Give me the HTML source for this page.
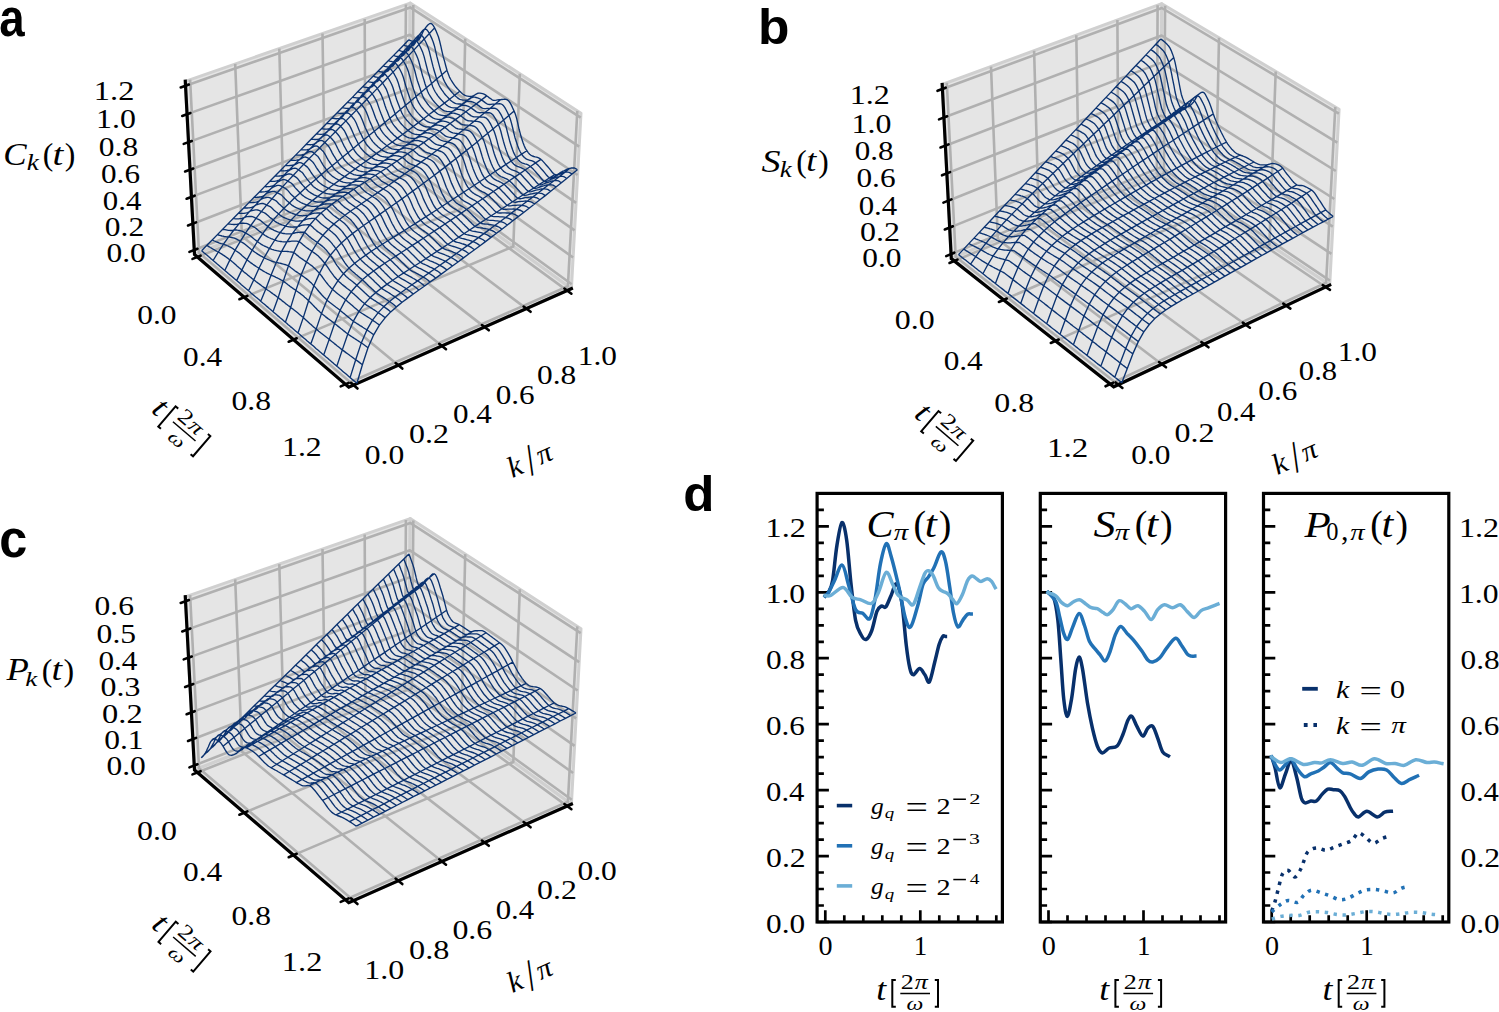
<!DOCTYPE html>
<html><head><meta charset="utf-8"><title>Figure</title>
<style>html,body{margin:0;padding:0;background:#fff;overflow:hidden;}svg{display:block;}</style>
</head><body>
<svg width="1499" height="1012" viewBox="0 0 1499 1012">
<polygon points="194.5,254.5 408.9,170.5 410.2,3.1 185.3,81.3" fill="#e5e5e5" stroke="#d0d0d0" stroke-width="3.0" stroke-linejoin="round"/>
<polygon points="408.9,170.5 571.4,288.7 581,113.2 410.2,3.1" fill="#e5e5e5" stroke="#d0d0d0" stroke-width="3.0" stroke-linejoin="round"/>
<polygon points="194.5,254.5 348.8,387.2 571.4,288.7 408.9,170.5" fill="#e5e5e5" stroke="#d0d0d0" stroke-width="3.0" stroke-linejoin="round"/>
<g fill="none" stroke="#b0b0b0" stroke-width="2.6" stroke-linejoin="round">
<polyline points="197.3,257 411.9,172.7 413.3,5.1"/>
<polyline points="244.2,297.2 461.4,208.7 465.2,38.6"/>
<polyline points="293.5,339.6 513.3,246.5 519.8,73.8"/>
<polyline points="345.5,384.3 567.9,286.2 577.3,110.9"/>
<polyline points="353.5,385.1 199,252.7 190.1,79.6"/>
<polyline points="398.3,365.3 241.9,235.9 235.2,63.9"/>
<polyline points="442,346 284,219.4 279.3,48.6"/>
<polyline points="484.7,327.1 325.1,203.3 322.5,33.6"/>
<polyline points="526.4,308.6 365.4,187.5 364.7,18.9"/>
<polyline points="567.2,290.6 404.8,172.1 405.9,4.6"/>
<polyline points="571.7,284.2 408.9,166.1 194.2,250"/>
<polyline points="573.1,257.5 409.1,140.6 192.8,223.7"/>
<polyline points="574.6,230.4 409.3,114.7 191.4,196.9"/>
<polyline points="576.1,202.9 409.5,88.5 190,169.7"/>
<polyline points="577.6,175 409.7,61.8 188.6,142.1"/>
<polyline points="579.2,146.6 409.9,34.8 187.1,114.1"/>
<polyline points="580.7,117.7 410.2,7.4 185.6,85.7"/>
</g>
<g fill="none" stroke="#000" stroke-width="3.2" stroke-linecap="square">
<polyline points="185.3,81.3 194.5,254.5 348.8,387.2 571.4,288.7"/>
</g>
<g fill="none" stroke="#000" stroke-width="2.6" stroke-linecap="round">
<polyline points="189.4,251.9 197.5,248.8"/>
<polyline points="188,225.5 196.1,222.4"/>
<polyline points="186.6,198.7 194.7,195.7"/>
<polyline points="185.1,171.5 193.3,168.5"/>
<polyline points="183.7,143.9 191.8,141"/>
<polyline points="182.2,115.9 190.4,113"/>
<polyline points="180.7,87.4 188.9,84.6"/>
<polyline points="192.5,258.9 200.6,255.7"/>
<polyline points="239.4,299.2 247.4,295.9"/>
<polyline points="288.7,341.7 296.7,338.3"/>
<polyline points="340.7,386.4 348.7,382.9"/>
<polyline points="357.5,388.5 350.9,382.8"/>
<polyline points="402.3,368.6 395.6,363.1"/>
<polyline points="446,349.2 439.2,343.8"/>
<polyline points="488.8,330.3 481.9,325"/>
<polyline points="530.6,311.8 523.6,306.5"/>
<polyline points="571.4,293.7 564.4,288.5"/>
</g>
<path d="M201.6 250.7 202.8 251.7 203.9 252.7 205.1 253.6 206.2 254.6 207.4 255.6 208.5 256.6 209.7 257.6 210.8 258.6 212.0 259.5 213.1 260.5 214.3 261.5 215.5 262.5 216.6 263.5 217.8 264.5 219.0 265.5 220.1 266.5 221.3 267.5 222.5 268.5 223.6 269.5 224.8 270.5 226.0 271.5 227.2 272.5 228.3 273.5 229.5 274.5 230.7 275.5 231.9 276.5 233.1 277.6 234.2 278.6 235.4 279.6 236.6 280.6 237.8 281.6 239.0 282.6 240.2 283.6 241.4 284.7 242.6 285.7 243.8 286.7 245.0 287.7 246.2 288.8 247.4 289.8 248.6 290.8 249.8 291.8 251.0 292.9 252.2 293.9 253.4 294.9 254.6 296.0 255.8 297.0 257.1 298.0 258.3 299.1 259.5 300.1 260.7 301.2 261.9 302.2 263.1 303.3 264.4 304.3 265.6 305.3 266.8 306.4 268.1 307.4 269.3 308.5 270.5 309.5 271.7 310.6 273.0 311.7 274.2 312.7 275.5 313.8 276.7 314.8 277.9 315.9 279.2 316.9 280.4 318.0 281.7 319.1 282.9 320.1 284.2 321.2 285.4 322.3 286.7 323.3 287.9 324.4 289.2 325.5 290.4 326.6 291.7 327.6 293.0 328.7 294.2 329.8 295.5 330.9 296.8 332.0 298.0 333.0 299.3 334.1 300.6 335.2 301.8 336.3 303.1 337.4 304.4 338.5 305.7 339.6 306.9 340.7 308.2 341.8 309.5 342.9 310.8 343.9 312.1 345.0 313.4 346.1 314.7 347.3 315.9 348.4 317.2 349.5 318.5 350.6 319.8 351.7 321.1 352.8 322.4 353.9 323.7 355.0 325.0 356.1 326.3 357.2 327.7 358.3 329.0 359.5 330.3 360.6 331.6 361.7 332.9 362.8 334.2 364.0 335.5 365.1 336.8 366.2 338.2 367.3 339.5 368.5 340.8 369.6 342.1 370.7 343.5 371.9 344.8 373.0 346.1 374.1 347.5 375.3 348.8 376.4 350.1 377.6 351.5 378.7 352.8 379.9 354.2 381.0 355.5 382.1 356.9 383.3 M206.9 245.3 208.0 246.1 209.2 246.8 210.3 247.5 211.5 248.2 212.6 248.9 213.7 249.5 214.9 250.2 216.0 250.9 217.2 251.5 218.3 252.0 219.5 252.7 220.6 253.4 221.8 254.1 222.9 254.9 224.1 255.6 225.2 256.4 226.4 257.2 227.6 258.1 228.7 259.0 229.9 259.9 231.1 260.8 232.3 261.8 233.5 262.7 234.6 263.7 235.8 264.8 237.0 265.9 238.2 266.9 239.4 268.0 240.6 269.0 241.8 270.1 243.0 271.1 244.2 272.2 245.4 273.1 246.6 274.1 247.8 275.1 249.0 276.0 250.2 277.0 251.4 277.9 252.6 278.9 253.8 279.8 255.0 280.7 256.2 281.7 257.4 282.6 258.6 283.5 259.8 284.4 261.0 285.3 262.2 286.2 263.5 287.1 264.7 287.9 265.9 288.8 267.1 289.7 268.3 290.5 269.6 291.3 270.8 292.2 272.0 293.1 273.2 294.0 274.5 294.9 275.7 295.8 276.9 296.7 278.2 297.6 279.4 298.6 280.7 299.6 281.9 300.6 283.2 301.6 284.4 302.6 285.6 303.6 286.9 304.5 288.1 305.5 289.4 306.4 290.7 307.4 291.9 308.4 293.2 309.3 294.4 310.3 295.7 311.3 297.0 312.3 298.2 313.3 299.5 314.4 300.8 315.5 302.0 316.5 303.3 317.6 304.6 318.8 305.9 319.9 307.1 321.1 308.4 322.3 309.7 323.5 311.0 324.6 312.3 325.8 313.6 326.9 314.9 328.0 316.2 329.1 317.4 330.1 318.7 331.2 320.0 332.2 321.3 333.3 322.6 334.3 323.9 335.3 325.2 336.3 326.5 337.3 327.8 338.3 329.2 339.4 330.5 340.4 331.8 341.5 333.1 342.5 334.4 343.6 335.7 344.6 337.0 345.7 338.4 346.8 339.7 347.8 341.0 348.9 342.3 349.9 343.7 350.9 345.0 351.9 346.3 352.9 347.6 353.8 349.0 354.8 350.3 355.8 351.7 356.7 353.0 357.7 354.3 358.7 355.7 359.7 357.0 360.6 358.4 361.6 359.7 362.6 361.1 363.7 362.4 364.7 M212.2 240.0 213.3 240.5 214.4 241.0 215.6 241.5 216.7 242.0 217.8 242.4 219.0 242.9 220.1 243.3 221.2 243.7 222.4 243.9 223.5 244.2 224.6 244.6 225.8 245.0 226.9 245.5 228.1 246.0 229.2 246.6 230.4 247.2 231.6 247.8 232.7 248.5 233.9 249.4 235.1 250.2 236.2 251.0 237.4 251.8 238.6 252.6 239.8 253.6 241.0 254.6 242.2 255.7 243.4 256.7 244.6 257.7 245.8 258.7 247.0 259.7 248.2 260.7 249.4 261.7 250.5 262.6 251.7 263.4 252.9 264.3 254.1 265.1 255.3 265.9 256.5 266.7 257.8 267.5 259.0 268.3 260.2 269.1 261.4 269.8 262.6 270.6 263.8 271.3 265.0 272.0 266.2 272.6 267.4 273.3 268.6 273.9 269.8 274.5 271.1 275.1 272.3 275.7 273.5 276.2 274.7 276.7 275.9 277.3 277.2 277.9 278.4 278.5 279.6 279.1 280.9 279.8 282.1 280.4 283.3 281.1 284.6 282.1 285.8 283.0 287.1 284.0 288.3 285.0 289.6 285.9 290.8 286.9 292.1 287.7 293.3 288.6 294.6 289.5 295.9 290.4 297.1 291.3 298.4 292.2 299.7 293.1 300.9 294.1 302.2 295.0 303.5 296.1 304.7 297.2 306.0 298.3 307.3 299.5 308.6 300.7 309.9 301.9 311.2 303.2 312.5 304.6 313.8 306.0 315.0 307.3 316.3 308.6 317.6 309.9 318.9 311.1 320.2 312.3 321.5 313.4 322.8 314.5 324.1 315.5 325.4 316.6 326.7 317.6 328.0 318.6 329.3 319.5 330.7 320.5 332.0 321.5 333.3 322.5 334.6 323.5 335.9 324.5 337.2 325.6 338.5 326.6 339.9 327.7 341.2 328.8 342.5 329.8 343.8 330.9 345.2 331.9 346.5 333.0 347.8 334.0 349.2 335.0 350.5 335.9 351.8 336.7 353.2 337.6 354.5 338.5 355.9 339.4 357.2 340.2 358.6 341.1 359.9 342.0 361.3 342.9 362.6 343.8 364.0 344.8 365.3 345.7 366.7 346.7 368.0 347.7 M217.4 234.6 218.6 235.0 219.7 235.3 220.8 235.6 221.9 236.0 223.1 236.2 224.2 236.5 225.3 236.7 226.5 236.9 227.6 236.9 228.7 236.9 229.8 237.0 231.0 237.3 232.1 237.6 233.3 237.9 234.4 238.2 235.6 238.7 236.7 239.2 237.9 239.8 239.1 240.5 240.3 241.4 241.4 242.0 242.6 242.7 243.8 243.4 245.0 244.3 246.2 245.3 247.4 246.3 248.6 247.3 249.8 248.2 251.0 249.2 252.2 250.1 253.4 251.1 254.6 252.0 255.8 252.8 257.0 253.6 258.2 254.4 259.4 255.1 260.6 255.8 261.8 256.4 263.0 257.1 264.2 257.7 265.4 258.4 266.6 259.0 267.8 259.5 269.0 260.0 270.2 260.5 271.4 261.0 272.6 261.4 273.9 261.8 275.1 262.2 276.3 262.5 277.5 262.7 278.7 263.0 279.9 263.2 281.2 263.5 282.4 263.8 283.6 264.2 284.8 264.5 286.1 264.9 287.3 265.3 288.5 265.7 289.8 266.7 291.0 267.7 292.3 268.7 293.6 269.7 294.8 270.7 296.1 271.6 297.3 272.4 298.6 273.3 299.9 274.1 301.1 275.0 302.4 275.9 303.7 276.8 305.0 277.7 306.2 278.6 307.5 279.6 308.8 280.7 310.1 281.9 311.4 283.1 312.6 284.4 313.9 285.7 315.2 287.1 316.5 288.6 317.8 290.2 319.1 291.8 320.4 293.3 321.7 294.8 323.1 296.2 324.4 297.6 325.7 298.8 327.0 300.0 328.3 301.2 329.6 302.3 330.9 303.3 332.2 304.3 333.5 305.3 334.8 306.3 336.1 307.3 337.5 308.3 338.8 309.3 340.1 310.3 341.4 311.4 342.7 312.5 344.1 313.6 345.4 314.7 346.7 315.8 348.1 316.9 349.4 318.0 350.7 319.1 352.1 320.2 353.4 321.2 354.7 322.2 356.1 323.0 357.4 323.9 358.8 324.7 360.1 325.6 361.5 326.4 362.8 327.3 364.2 328.2 365.5 329.0 366.9 329.9 368.2 330.8 369.6 331.8 371.0 332.7 372.3 333.7 373.7 334.8 M222.7 229.3 223.8 229.5 224.9 229.7 226.1 229.9 227.2 230.1 228.3 230.3 229.4 230.4 230.6 230.5 231.7 230.5 232.8 230.3 233.9 230.0 235.1 230.0 236.2 230.0 237.4 230.2 238.5 230.3 239.7 230.5 240.8 230.8 242.0 231.2 243.1 231.7 244.3 232.4 245.5 233.2 246.7 233.7 247.9 234.3 249.0 235.0 250.2 235.8 251.4 236.8 252.6 237.8 253.8 238.8 255.0 239.7 256.2 240.6 257.4 241.5 258.6 242.5 259.8 243.3 261.0 244.1 262.2 244.8 263.4 245.5 264.6 246.1 265.8 246.7 267.0 247.2 268.2 247.8 269.5 248.3 270.7 248.8 271.9 249.3 273.1 249.7 274.3 250.1 275.5 250.4 276.7 250.7 277.9 250.9 279.1 251.1 280.3 251.3 281.6 251.4 282.8 251.4 284.0 251.4 285.2 251.4 286.4 251.4 287.7 251.5 288.9 251.7 290.1 251.8 291.3 252.0 292.6 252.2 293.8 252.5 295.1 253.5 296.3 254.6 297.6 255.6 298.9 256.7 300.1 257.6 301.4 258.5 302.7 259.4 303.9 260.2 305.2 261.1 306.5 262.0 307.8 262.9 309.0 263.8 310.3 264.7 311.6 265.6 312.9 266.7 314.2 267.9 315.5 269.1 316.8 270.5 318.1 271.9 319.4 273.4 320.7 274.8 322.0 276.5 323.3 278.3 324.6 280.2 325.9 281.9 327.2 283.5 328.5 285.1 329.8 286.6 331.1 287.9 332.5 289.2 333.8 290.4 335.1 291.6 336.4 292.7 337.7 293.8 339.0 294.8 340.3 295.8 341.7 296.8 343.0 297.8 344.3 298.8 345.6 299.9 347.0 301.0 348.3 302.2 349.6 303.3 351.0 304.5 352.3 305.6 353.6 306.8 355.0 308.0 356.3 309.1 357.7 310.3 359.0 311.4 360.3 312.3 361.7 313.2 363.0 314.0 364.4 314.9 365.7 315.7 367.1 316.6 368.5 317.5 369.8 318.3 371.2 319.2 372.5 320.1 373.9 321.1 375.3 322.0 376.6 323.0 378.0 324.0 379.4 325.1 M227.9 223.9 229.1 224.1 230.2 224.2 231.3 224.3 232.4 224.4 233.6 224.5 234.7 224.5 235.8 224.4 237.0 224.3 238.1 224.0 239.2 223.6 240.3 223.3 241.5 223.2 242.6 223.2 243.8 223.2 244.9 223.3 246.1 223.4 247.2 223.7 248.4 224.2 249.6 224.8 250.8 225.5 251.9 226.0 253.1 226.6 254.3 227.2 255.5 228.0 256.7 228.9 257.9 230.0 259.1 231.0 260.3 231.9 261.5 232.8 262.7 233.6 263.9 234.6 265.1 235.5 266.3 236.2 267.5 236.9 268.7 237.5 269.9 238.0 271.1 238.6 272.4 239.0 273.6 239.5 274.8 240.0 276.0 240.4 277.2 240.8 278.4 241.1 279.6 241.3 280.8 241.5 282.0 241.7 283.2 241.8 284.5 241.8 285.7 241.9 286.9 241.8 288.1 241.7 289.3 241.5 290.5 241.3 291.8 241.1 293.0 241.1 294.2 241.1 295.5 241.1 296.7 241.2 297.9 241.3 299.2 241.4 300.4 242.5 301.7 243.6 303.0 244.7 304.3 245.8 305.5 246.8 306.8 247.7 308.1 248.6 309.3 249.5 310.6 250.4 311.9 251.3 313.2 252.2 314.5 253.1 315.8 254.0 317.0 255.0 318.3 256.1 319.6 257.4 320.9 258.7 322.2 260.2 323.5 261.8 324.8 263.3 326.1 265.0 327.5 266.8 328.8 268.8 330.1 270.8 331.4 272.7 332.7 274.4 334.0 276.2 335.4 277.8 336.7 279.3 338.0 280.6 339.3 281.9 340.6 283.1 341.9 284.3 343.3 285.4 344.6 286.4 345.9 287.4 347.2 288.5 348.6 289.5 349.9 290.6 351.2 291.7 352.5 292.9 353.9 294.1 355.2 295.3 356.6 296.5 357.9 297.7 359.2 299.0 360.6 300.2 361.9 301.4 363.3 302.6 364.6 303.7 366.0 304.7 367.3 305.6 368.7 306.4 370.0 307.3 371.4 308.1 372.7 309.0 374.1 309.9 375.5 310.8 376.8 311.7 378.2 312.6 379.6 313.6 380.9 314.5 382.3 315.5 383.7 316.6 385.1 317.8 M233.2 218.6 234.3 218.7 235.4 218.8 236.6 218.8 237.7 218.8 238.8 218.8 240.0 218.7 241.1 218.6 242.2 218.4 243.3 218.0 244.5 217.4 245.6 217.0 246.7 216.7 247.9 216.6 249.0 216.5 250.2 216.4 251.3 216.5 252.5 216.7 253.7 217.1 254.8 217.6 256.0 218.4 257.2 218.8 258.4 219.3 259.6 219.9 260.8 220.7 262.0 221.7 263.2 222.8 264.4 223.8 265.6 224.7 266.8 225.6 268.0 226.5 269.2 227.5 270.4 228.4 271.6 229.1 272.9 229.7 274.1 230.3 275.3 230.8 276.5 231.3 277.7 231.8 278.9 232.2 280.1 232.6 281.3 232.9 282.5 233.3 283.8 233.5 285.0 233.7 286.2 233.8 287.4 233.9 288.6 233.9 289.8 233.9 291.0 233.8 292.3 233.7 293.5 233.4 294.7 233.0 295.9 232.7 297.2 232.5 298.4 232.4 299.6 232.3 300.9 232.2 302.1 232.2 303.3 232.2 304.6 232.2 305.9 233.4 307.1 234.6 308.4 235.7 309.7 236.9 311.0 237.9 312.2 238.9 313.5 239.8 314.8 240.7 316.1 241.6 317.4 242.5 318.6 243.5 319.9 244.4 321.2 245.4 322.5 246.4 323.8 247.6 325.1 248.9 326.4 250.3 327.7 251.9 329.0 253.5 330.3 255.2 331.7 257.0 333.0 258.9 334.3 261.1 335.6 263.3 336.9 265.3 338.3 267.2 339.6 269.0 340.9 270.7 342.2 272.3 343.5 273.7 344.9 275.1 346.2 276.4 347.5 277.6 348.8 278.7 350.2 279.7 351.5 280.8 352.8 281.8 354.1 282.9 355.5 284.0 356.8 285.2 358.1 286.4 359.5 287.7 360.8 288.9 362.2 290.2 363.5 291.4 364.8 292.7 366.2 294.0 367.5 295.2 368.9 296.5 370.2 297.6 371.6 298.6 373.0 299.5 374.3 300.4 375.7 301.2 377.0 302.1 378.4 303.0 379.8 303.9 381.1 304.7 382.5 305.6 383.9 306.6 385.2 307.6 386.6 308.6 388.0 309.6 389.4 310.7 390.7 311.9 M238.4 213.2 239.6 213.3 240.7 213.4 241.8 213.4 243.0 213.3 244.1 213.3 245.2 213.1 246.4 212.9 247.5 212.6 248.6 212.1 249.7 211.4 250.9 210.9 252.0 210.5 253.1 210.3 254.3 210.1 255.4 209.9 256.6 209.8 257.8 210.0 258.9 210.3 260.1 210.9 261.3 211.6 262.5 212.0 263.7 212.5 264.9 213.1 266.1 213.9 267.3 215.0 268.5 216.1 269.7 217.2 270.9 218.1 272.1 219.0 273.3 219.9 274.6 221.0 275.8 221.9 277.0 222.6 278.2 223.2 279.4 223.8 280.6 224.3 281.8 224.8 283.0 225.2 284.3 225.6 285.5 226.0 286.7 226.4 287.9 226.6 289.1 226.9 290.3 227.0 291.6 227.1 292.8 227.1 294.0 227.0 295.2 227.0 296.4 226.9 297.7 226.6 298.9 226.3 300.1 225.8 301.3 225.4 302.6 225.1 303.8 225.0 305.0 224.9 306.3 224.8 307.5 224.7 308.8 224.7 310.0 224.7 311.3 225.9 312.6 227.1 313.9 228.4 315.2 229.6 316.4 230.6 317.7 231.6 319.0 232.5 320.3 233.4 321.6 234.4 322.9 235.3 324.1 236.3 325.4 237.2 326.7 238.2 328.0 239.3 329.3 240.5 330.6 241.9 331.9 243.4 333.2 245.1 334.6 246.8 335.9 248.6 337.2 250.4 338.5 252.5 339.8 254.8 341.2 257.1 342.5 259.2 343.8 261.2 345.1 263.1 346.5 265.0 347.8 266.6 349.1 268.1 350.4 269.5 351.7 270.8 353.1 272.0 354.4 273.1 355.7 274.2 357.1 275.3 358.4 276.4 359.7 277.5 361.1 278.6 362.4 279.8 363.7 281.0 365.1 282.3 366.4 283.6 367.8 284.9 369.1 286.2 370.5 287.5 371.8 288.8 373.2 290.1 374.5 291.4 375.9 292.5 377.2 293.6 378.6 294.5 379.9 295.3 381.3 296.2 382.7 297.0 384.0 297.9 385.4 298.8 386.8 299.7 388.1 300.6 389.5 301.5 390.9 302.5 392.3 303.5 393.6 304.5 395.0 305.7 396.4 306.9 M243.7 207.9 244.8 208.0 245.9 208.0 247.1 208.0 248.2 207.9 249.3 207.8 250.5 207.6 251.6 207.4 252.7 207.0 253.9 206.4 255.0 205.6 256.1 205.0 257.3 204.5 258.4 204.2 259.6 203.9 260.7 203.6 261.9 203.5 263.0 203.5 264.2 203.8 265.4 204.4 266.6 205.1 267.8 205.6 269.0 206.1 270.2 206.6 271.4 207.5 272.6 208.7 273.8 209.9 275.0 211.0 276.2 212.0 277.5 212.9 278.7 213.9 279.9 215.0 281.1 215.9 282.3 216.6 283.6 217.3 284.8 217.9 286.0 218.4 287.2 218.9 288.4 219.3 289.6 219.7 290.9 220.1 292.1 220.4 293.3 220.7 294.5 220.9 295.7 221.1 297.0 221.1 298.2 221.1 299.4 221.0 300.6 220.9 301.9 220.8 303.1 220.5 304.3 220.1 305.5 219.6 306.8 219.2 308.0 218.9 309.3 218.7 310.5 218.6 311.7 218.4 313.0 218.4 314.2 218.4 315.5 218.4 316.8 219.7 318.1 220.9 319.4 222.2 320.6 223.4 321.9 224.5 323.2 225.5 324.5 226.5 325.8 227.4 327.1 228.3 328.4 229.3 329.7 230.3 330.9 231.3 332.2 232.3 333.5 233.4 334.8 234.6 336.2 236.0 337.5 237.6 338.8 239.3 340.1 241.1 341.4 243.0 342.7 244.8 344.1 247.0 345.4 249.4 346.7 251.8 348.0 254.1 349.4 256.1 350.7 258.1 352.0 260.0 353.3 261.7 354.7 263.2 356.0 264.7 357.3 266.0 358.6 267.3 360.0 268.4 361.3 269.5 362.6 270.6 364.0 271.7 365.3 272.8 366.6 273.9 368.0 275.1 369.3 276.4 370.7 277.7 372.0 279.0 373.4 280.3 374.7 281.7 376.1 283.0 377.4 284.3 378.8 285.6 380.1 286.9 381.5 288.1 382.8 289.1 384.2 290.0 385.6 290.9 386.9 291.7 388.3 292.5 389.7 293.4 391.0 294.3 392.4 295.2 393.8 296.1 395.1 297.0 396.5 298.0 397.9 299.0 399.3 300.0 400.7 301.2 402.1 302.3 M248.9 202.6 250.0 202.6 251.2 202.6 252.3 202.6 253.5 202.5 254.6 202.4 255.7 202.2 256.9 201.9 258.0 201.5 259.1 200.8 260.3 199.9 261.4 199.2 262.5 198.6 263.7 198.2 264.8 197.8 266.0 197.5 267.2 197.3 268.3 197.3 269.5 197.6 270.7 198.1 271.9 198.9 273.1 199.3 274.3 199.9 275.5 200.5 276.7 201.4 277.9 202.7 279.1 204.0 280.4 205.1 281.6 206.2 282.8 207.2 284.0 208.2 285.3 209.4 286.5 210.4 287.7 211.1 288.9 211.8 290.1 212.4 291.4 213.0 292.6 213.5 293.8 213.9 295.0 214.3 296.2 214.7 297.5 215.1 298.7 215.4 299.9 215.6 301.2 215.7 302.4 215.8 303.6 215.7 304.8 215.6 306.1 215.5 307.3 215.4 308.5 215.1 309.8 214.7 311.0 214.2 312.2 213.7 313.5 213.4 314.7 213.2 316.0 213.1 317.2 213.0 318.5 213.0 319.7 213.0 321.0 213.1 322.3 214.3 323.6 215.6 324.8 216.9 326.1 218.2 327.4 219.3 328.7 220.3 330.0 221.3 331.3 222.2 332.6 223.1 333.9 224.1 335.2 225.1 336.5 226.1 337.8 227.1 339.1 228.2 340.4 229.5 341.7 230.9 343.0 232.5 344.3 234.3 345.6 236.1 347.0 238.0 348.3 240.0 349.6 242.3 350.9 244.7 352.3 247.2 353.6 249.6 354.9 251.7 356.2 253.7 357.6 255.7 358.9 257.4 360.2 259.0 361.5 260.4 362.9 261.8 364.2 263.0 365.5 264.2 366.9 265.3 368.2 266.4 369.5 267.5 370.9 268.6 372.2 269.7 373.6 271.0 374.9 272.2 376.3 273.6 377.6 274.9 378.9 276.2 380.3 277.5 381.7 278.9 383.0 280.2 384.4 281.6 385.7 282.9 387.1 284.1 388.4 285.1 389.8 286.0 391.2 286.8 392.5 287.6 393.9 288.4 395.3 289.3 396.6 290.1 398.0 291.0 399.4 291.9 400.8 292.8 402.2 293.8 403.5 294.8 404.9 295.8 406.3 296.9 407.7 298.1 M254.1 197.3 255.3 197.3 256.4 197.3 257.6 197.2 258.7 197.2 259.8 197.0 261.0 196.8 262.1 196.5 263.3 196.1 264.4 195.3 265.5 194.3 266.7 193.5 267.8 192.8 269.0 192.4 270.1 192.0 271.3 191.6 272.4 191.3 273.6 191.3 274.8 191.5 276.0 192.1 277.2 192.8 278.4 193.3 279.6 193.9 280.8 194.6 282.0 195.6 283.2 196.9 284.5 198.3 285.7 199.6 286.9 200.7 288.2 201.8 289.4 202.9 290.6 204.1 291.8 205.1 293.1 205.9 294.3 206.7 295.5 207.3 296.7 207.9 298.0 208.4 299.2 208.9 300.4 209.3 301.6 209.7 302.9 210.1 304.1 210.4 305.3 210.7 306.6 210.8 307.8 210.9 309.0 210.8 310.3 210.8 311.5 210.7 312.7 210.5 314.0 210.3 315.2 209.8 316.4 209.3 317.7 208.9 318.9 208.5 320.2 208.4 321.4 208.3 322.7 208.2 323.9 208.2 325.2 208.2 326.5 208.4 327.8 209.7 329.0 211.0 330.3 212.3 331.6 213.6 332.9 214.7 334.2 215.7 335.5 216.6 336.8 217.6 338.1 218.5 339.4 219.5 340.7 220.5 342.0 221.5 343.3 222.5 344.6 223.6 345.9 224.9 347.2 226.3 348.5 228.0 349.8 229.8 351.2 231.7 352.5 233.6 353.8 235.6 355.1 237.9 356.5 240.5 357.8 243.0 359.1 245.4 360.4 247.6 361.8 249.7 363.1 251.7 364.4 253.5 365.8 255.1 367.1 256.5 368.4 257.9 369.8 259.2 371.1 260.3 372.4 261.4 373.8 262.5 375.1 263.6 376.4 264.7 377.8 265.8 379.1 267.1 380.5 268.3 381.8 269.7 383.2 271.0 384.5 272.4 385.9 273.7 387.2 275.0 388.6 276.4 389.9 277.8 391.3 279.0 392.7 280.2 394.0 281.2 395.4 282.1 396.8 282.9 398.1 283.7 399.5 284.5 400.9 285.3 402.3 286.2 403.6 287.0 405.0 287.9 406.4 288.8 407.8 289.7 409.2 290.7 410.6 291.7 411.9 292.9 413.3 294.0 M259.4 192.0 260.5 192.0 261.6 192.0 262.8 191.9 263.9 191.8 265.1 191.7 266.2 191.4 267.4 191.1 268.5 190.7 269.7 189.9 270.8 188.8 271.9 187.9 273.1 187.2 274.2 186.7 275.4 186.2 276.6 185.7 277.7 185.4 278.9 185.4 280.1 185.6 281.3 186.2 282.5 186.9 283.7 187.5 284.9 188.1 286.1 188.9 287.3 189.9 288.6 191.4 289.8 192.9 291.0 194.2 292.3 195.4 293.5 196.6 294.7 197.8 296.0 199.1 297.2 200.2 298.4 201.0 299.7 201.8 300.9 202.5 302.1 203.1 303.3 203.7 304.6 204.1 305.8 204.6 307.0 205.1 308.3 205.5 309.5 205.8 310.7 206.1 312.0 206.3 313.2 206.3 314.4 206.3 315.7 206.3 316.9 206.2 318.2 206.1 319.4 205.8 320.6 205.4 321.9 204.9 323.1 204.4 324.4 204.1 325.6 204.0 326.9 203.9 328.2 203.9 329.4 203.9 330.7 204.0 332.0 204.1 333.2 205.4 334.5 206.8 335.8 208.1 337.1 209.4 338.4 210.5 339.7 211.5 341.0 212.4 342.3 213.4 343.6 214.3 344.9 215.3 346.2 216.3 347.5 217.2 348.8 218.2 350.1 219.3 351.4 220.6 352.7 222.1 354.1 223.8 355.4 225.6 356.7 227.5 358.0 229.5 359.3 231.5 360.7 233.9 362.0 236.5 363.3 239.1 364.7 241.6 366.0 243.8 367.3 246.0 368.6 248.0 370.0 249.8 371.3 251.3 372.6 252.8 374.0 254.2 375.3 255.5 376.6 256.6 378.0 257.7 379.3 258.8 380.7 259.9 382.0 261.0 383.3 262.1 384.7 263.3 386.0 264.6 387.4 265.9 388.7 267.3 390.1 268.6 391.4 270.0 392.8 271.3 394.2 272.7 395.5 274.1 396.9 275.3 398.2 276.5 399.6 277.5 401.0 278.4 402.3 279.2 403.7 279.9 405.1 280.7 406.5 281.5 407.9 282.3 409.2 283.1 410.6 283.9 412.0 284.8 413.4 285.8 414.8 286.7 416.2 287.7 417.6 288.9 418.9 290.0 M264.6 186.6 265.7 186.7 266.9 186.7 268.0 186.6 269.2 186.6 270.3 186.4 271.5 186.1 272.6 185.8 273.8 185.3 274.9 184.5 276.1 183.4 277.2 182.4 278.4 181.6 279.5 181.1 280.7 180.5 281.8 180.0 283.0 179.7 284.2 179.6 285.4 179.8 286.6 180.4 287.8 181.1 289.0 181.8 290.2 182.5 291.4 183.3 292.7 184.5 293.9 186.0 295.1 187.6 296.4 189.1 297.6 190.3 298.8 191.6 300.1 192.9 301.3 194.3 302.6 195.4 303.8 196.3 305.0 197.1 306.3 197.9 307.5 198.5 308.7 199.1 310.0 199.6 311.2 200.2 312.4 200.6 313.7 201.1 314.9 201.5 316.1 201.8 317.4 202.0 318.6 202.1 319.9 202.1 321.1 202.0 322.3 202.0 323.6 201.9 324.8 201.6 326.1 201.2 327.3 200.7 328.6 200.3 329.8 200.0 331.1 199.9 332.4 199.8 333.6 199.8 334.9 199.9 336.2 200.0 337.4 200.2 338.7 201.5 340.0 202.8 341.3 204.2 342.6 205.5 343.9 206.6 345.2 207.6 346.5 208.5 347.8 209.4 349.1 210.3 350.4 211.3 351.7 212.3 353.0 213.2 354.3 214.2 355.6 215.3 356.9 216.6 358.3 218.0 359.6 219.7 360.9 221.6 362.2 223.5 363.5 225.5 364.9 227.6 366.2 230.0 367.5 232.7 368.8 235.4 370.2 237.9 371.5 240.1 372.8 242.3 374.2 244.4 375.5 246.2 376.8 247.8 378.2 249.3 379.5 250.7 380.8 251.9 382.2 253.1 383.5 254.1 384.9 255.2 386.2 256.3 387.5 257.3 388.9 258.5 390.2 259.7 391.6 261.0 392.9 262.3 394.3 263.7 395.6 265.0 397.0 266.3 398.4 267.7 399.7 269.1 401.1 270.4 402.4 271.7 403.8 272.9 405.2 273.9 406.5 274.7 407.9 275.4 409.3 276.2 410.7 276.9 412.1 277.7 413.4 278.5 414.8 279.2 416.2 280.1 417.6 280.9 419.0 281.8 420.4 282.8 421.8 283.8 423.2 284.9 424.6 286.0 M269.8 181.3 270.9 181.4 272.1 181.4 273.3 181.4 274.4 181.3 275.6 181.1 276.7 180.9 277.9 180.5 279.0 180.0 280.2 179.2 281.3 178.0 282.5 176.9 283.6 176.1 284.8 175.5 285.9 174.9 287.1 174.3 288.3 174.0 289.5 173.8 290.7 174.1 291.9 174.7 293.1 175.5 294.3 176.2 295.5 176.9 296.7 177.8 298.0 179.1 299.2 180.7 300.5 182.5 301.7 184.0 302.9 185.4 304.2 186.8 305.4 188.1 306.7 189.6 307.9 190.8 309.1 191.8 310.4 192.6 311.6 193.4 312.9 194.1 314.1 194.8 315.3 195.3 316.6 195.9 317.8 196.4 319.0 196.9 320.3 197.3 321.5 197.6 322.8 197.8 324.0 198.0 325.3 198.0 326.5 198.0 327.8 197.9 329.0 197.9 330.3 197.6 331.5 197.2 332.8 196.7 334.0 196.3 335.3 196.0 336.5 196.0 337.8 196.0 339.1 196.0 340.4 196.0 341.6 196.2 342.9 196.5 344.2 197.8 345.5 199.1 346.8 200.4 348.1 201.7 349.4 202.9 350.7 203.8 352.0 204.7 353.3 205.6 354.6 206.5 355.9 207.5 357.2 208.4 358.5 209.3 359.8 210.3 361.1 211.4 362.4 212.7 363.8 214.1 365.1 215.8 366.4 217.7 367.7 219.7 369.0 221.7 370.4 223.8 371.7 226.2 373.0 228.9 374.4 231.7 375.7 234.2 377.0 236.5 378.3 238.8 379.7 240.8 381.0 242.7 382.3 244.3 383.7 245.8 385.0 247.2 386.4 248.4 387.7 249.6 389.0 250.6 390.4 251.7 391.7 252.7 393.1 253.8 394.4 254.9 395.8 256.1 397.1 257.4 398.5 258.7 399.8 260.1 401.2 261.4 402.5 262.7 403.9 264.1 405.3 265.5 406.6 266.8 408.0 268.1 409.4 269.3 410.7 270.3 412.1 271.1 413.5 271.8 414.9 272.4 416.2 273.2 417.6 273.9 419.0 274.7 420.4 275.4 421.8 276.2 423.2 277.0 424.6 277.9 426.0 278.8 427.4 279.8 428.8 280.9 430.1 282.0 M275.0 176.0 276.2 176.1 277.3 176.1 278.5 176.1 279.6 176.0 280.8 175.9 282.0 175.6 283.1 175.3 284.3 174.8 285.4 173.8 286.6 172.6 287.7 171.5 288.9 170.6 290.0 169.9 291.2 169.3 292.4 168.7 293.6 168.3 294.8 168.2 296.0 168.4 297.2 169.0 298.4 169.9 299.6 170.6 300.8 171.5 302.1 172.4 303.3 173.8 304.5 175.6 305.8 177.4 307.0 179.1 308.3 180.6 309.5 182.1 310.8 183.5 312.0 185.1 313.3 186.4 314.5 187.4 315.7 188.3 317.0 189.1 318.2 189.9 319.5 190.5 320.7 191.1 321.9 191.7 323.2 192.3 324.4 192.8 325.7 193.3 326.9 193.6 328.2 193.9 329.4 194.0 330.7 194.1 331.9 194.1 333.2 194.1 334.4 194.0 335.7 193.8 336.9 193.4 338.2 192.9 339.4 192.5 340.7 192.2 342.0 192.2 343.3 192.2 344.5 192.2 345.8 192.4 347.1 192.6 348.4 192.9 349.7 194.2 351.0 195.5 352.3 196.8 353.6 198.1 354.9 199.2 356.2 200.2 357.5 201.0 358.8 201.9 360.1 202.8 361.4 203.7 362.7 204.7 364.0 205.6 365.3 206.5 366.6 207.6 367.9 208.8 369.3 210.3 370.6 212.0 371.9 213.9 373.2 215.8 374.5 217.9 375.9 220.0 377.2 222.5 378.5 225.3 379.9 228.1 381.2 230.7 382.5 233.0 383.8 235.2 385.2 237.4 386.5 239.2 387.8 240.8 389.2 242.3 390.5 243.7 391.9 245.0 393.2 246.1 394.5 247.1 395.9 248.2 397.2 249.2 398.6 250.2 399.9 251.3 401.3 252.5 402.6 253.8 404.0 255.1 405.4 256.5 406.7 257.8 408.1 259.2 409.4 260.5 410.8 261.9 412.2 263.3 413.5 264.6 414.9 265.7 416.3 266.7 417.6 267.4 419.0 268.1 420.4 268.7 421.8 269.4 423.2 270.2 424.6 270.9 426.0 271.6 427.4 272.3 428.7 273.1 430.1 274.0 431.5 274.9 432.9 275.8 434.3 276.9 435.7 278.1 M280.2 170.7 281.4 170.8 282.5 170.9 283.7 170.8 284.9 170.8 286.0 170.6 287.2 170.4 288.4 170.0 289.5 169.5 290.7 168.6 291.8 167.3 293.0 166.1 294.1 165.1 295.3 164.4 296.5 163.8 297.7 163.1 298.9 162.7 300.0 162.6 301.3 162.8 302.5 163.5 303.7 164.3 304.9 165.2 306.1 166.1 307.4 167.1 308.6 168.6 309.9 170.5 311.1 172.5 312.4 174.3 313.6 175.9 314.9 177.5 316.1 179.0 317.4 180.7 318.6 182.0 319.8 183.0 321.1 184.0 322.3 184.9 323.6 185.7 324.8 186.4 326.1 187.0 327.3 187.7 328.6 188.3 329.8 188.8 331.1 189.3 332.3 189.7 333.6 190.0 334.8 190.2 336.1 190.3 337.3 190.3 338.6 190.3 339.8 190.2 341.1 190.0 342.3 189.6 343.6 189.2 344.9 188.8 346.1 188.5 347.4 188.5 348.7 188.5 350.0 188.6 351.2 188.8 352.5 189.0 353.8 189.3 355.1 190.6 356.4 191.9 357.7 193.2 359.0 194.5 360.3 195.6 361.6 196.6 362.9 197.4 364.2 198.2 365.5 199.1 366.8 200.0 368.2 200.9 369.5 201.8 370.8 202.7 372.1 203.8 373.4 205.0 374.7 206.5 376.1 208.2 377.4 210.0 378.7 212.0 380.0 214.1 381.4 216.2 382.7 218.8 384.0 221.6 385.3 224.4 386.7 227.1 388.0 229.4 389.3 231.8 390.7 233.9 392.0 235.7 393.3 237.4 394.7 238.9 396.0 240.3 397.4 241.5 398.7 242.6 400.0 243.7 401.4 244.7 402.7 245.7 404.1 246.7 405.4 247.8 406.8 249.0 408.2 250.3 409.5 251.6 410.9 252.9 412.2 254.3 413.6 255.6 415.0 257.0 416.3 258.3 417.7 259.7 419.1 261.0 420.4 262.2 421.8 263.1 423.2 263.8 424.6 264.4 425.9 265.0 427.3 265.7 428.7 266.4 430.1 267.1 431.5 267.7 432.9 268.4 434.3 269.2 435.7 270.1 437.1 270.9 438.5 271.8 439.9 272.9 441.3 274.1 M285.4 165.4 286.6 165.6 287.7 165.6 288.9 165.6 290.1 165.5 291.3 165.4 292.4 165.1 293.6 164.8 294.8 164.3 295.9 163.3 297.1 161.9 298.2 160.7 299.4 159.7 300.6 159.0 301.8 158.3 302.9 157.6 304.1 157.1 305.3 157.0 306.5 157.3 307.8 157.9 309.0 158.8 310.2 159.8 311.4 160.8 312.7 161.9 313.9 163.5 315.2 165.5 316.4 167.6 317.7 169.5 318.9 171.2 320.2 172.9 321.4 174.5 322.7 176.3 323.9 177.7 325.2 178.8 326.4 179.8 327.7 180.7 328.9 181.6 330.2 182.3 331.4 183.0 332.7 183.7 333.9 184.3 335.2 184.9 336.4 185.4 337.7 185.9 338.9 186.2 340.2 186.4 341.4 186.5 342.7 186.5 344.0 186.5 345.2 186.5 346.5 186.3 347.8 185.9 349.0 185.5 350.3 185.1 351.6 184.9 352.8 184.9 354.1 184.9 355.4 185.0 356.7 185.2 358.0 185.4 359.3 185.8 360.6 187.1 361.9 188.4 363.2 189.7 364.5 191.0 365.8 192.1 367.1 193.0 368.4 193.8 369.7 194.6 371.0 195.4 372.3 196.3 373.6 197.2 374.9 198.0 376.2 198.9 377.6 200.0 378.9 201.2 380.2 202.6 381.5 204.3 382.9 206.2 384.2 208.2 385.5 210.3 386.8 212.5 388.2 215.1 389.5 217.9 390.8 220.8 392.1 223.5 393.5 225.9 394.8 228.3 396.1 230.4 397.5 232.3 398.8 233.9 400.2 235.4 401.5 236.8 402.8 238.1 404.2 239.2 405.5 240.2 406.9 241.2 408.2 242.1 409.6 243.2 410.9 244.3 412.3 245.4 413.7 246.7 415.0 248.0 416.4 249.4 417.7 250.7 419.1 252.0 420.5 253.4 421.8 254.8 423.2 256.1 424.6 257.4 425.9 258.6 427.3 259.5 428.7 260.2 430.1 260.8 431.5 261.3 432.9 261.9 434.3 262.6 435.7 263.2 437.1 263.9 438.5 264.6 439.9 265.3 441.3 266.1 442.7 266.9 444.1 267.9 445.5 268.9 446.9 270.0 M290.6 160.2 291.8 160.3 293.0 160.4 294.1 160.4 295.3 160.3 296.5 160.2 297.6 159.9 298.8 159.6 300.0 159.1 301.2 158.0 302.3 156.6 303.5 155.3 304.7 154.3 305.8 153.5 307.0 152.8 308.2 152.1 309.4 151.6 310.6 151.5 311.8 151.7 313.0 152.4 314.3 153.4 315.5 154.4 316.7 155.5 318.0 156.6 319.2 158.4 320.5 160.5 321.7 162.7 323.0 164.8 324.2 166.6 325.5 168.4 326.7 170.1 328.0 172.0 329.3 173.4 330.5 174.6 331.8 175.7 333.0 176.6 334.3 177.5 335.5 178.3 336.8 179.0 338.0 179.7 339.3 180.4 340.5 181.1 341.8 181.6 343.0 182.1 344.3 182.4 345.6 182.6 346.8 182.8 348.1 182.8 349.3 182.8 350.6 182.8 351.9 182.7 353.1 182.3 354.4 181.8 355.7 181.4 357.0 181.2 358.2 181.2 359.5 181.3 360.8 181.4 362.1 181.6 363.4 181.9 364.7 182.3 366.0 183.6 367.3 184.9 368.6 186.2 369.9 187.4 371.2 188.5 372.5 189.4 373.8 190.2 375.1 191.0 376.4 191.8 377.8 192.6 379.1 193.5 380.4 194.3 381.7 195.2 383.0 196.2 384.3 197.3 385.7 198.8 387.0 200.5 388.3 202.4 389.6 204.4 391.0 206.5 392.3 208.7 393.6 211.3 395.0 214.2 396.3 217.2 397.6 220.0 398.9 222.4 400.3 224.8 401.6 227.0 402.9 228.8 404.3 230.5 405.6 232.0 407.0 233.4 408.3 234.6 409.7 235.7 411.0 236.7 412.4 237.7 413.7 238.6 415.1 239.6 416.4 240.7 417.8 241.9 419.1 243.1 420.5 244.4 421.9 245.8 423.2 247.1 424.6 248.5 426.0 249.8 427.3 251.2 428.7 252.6 430.1 253.9 431.4 255.0 432.8 255.9 434.2 256.6 435.6 257.1 437.0 257.6 438.4 258.2 439.8 258.8 441.2 259.4 442.6 260.0 444.0 260.7 445.4 261.4 446.8 262.2 448.2 263.0 449.6 263.8 451.0 264.9 452.4 266.0 M295.8 154.9 297.0 155.0 298.2 155.1 299.3 155.1 300.5 155.1 301.7 155.0 302.9 154.7 304.0 154.4 305.2 153.8 306.4 152.8 307.6 151.3 308.7 150.0 309.9 148.8 311.1 148.1 312.3 147.3 313.5 146.6 314.7 146.1 315.9 145.9 317.1 146.2 318.3 146.9 319.5 148.0 320.8 149.0 322.0 150.2 323.3 151.5 324.5 153.3 325.8 155.5 327.0 157.9 328.3 160.1 329.5 162.0 330.8 163.9 332.1 165.7 333.3 167.7 334.6 169.2 335.8 170.4 337.1 171.5 338.3 172.6 339.6 173.5 340.8 174.3 342.1 175.1 343.4 175.8 344.6 176.6 345.9 177.2 347.1 177.8 348.4 178.3 349.7 178.7 350.9 178.9 352.2 179.1 353.4 179.1 354.7 179.2 356.0 179.2 357.3 179.0 358.5 178.6 359.8 178.2 361.1 177.8 362.4 177.6 363.6 177.6 364.9 177.7 366.2 177.9 367.5 178.1 368.8 178.4 370.1 178.8 371.4 180.1 372.7 181.4 374.0 182.6 375.3 183.9 376.6 184.9 377.9 185.8 379.2 186.6 380.6 187.3 381.9 188.1 383.2 188.9 384.5 189.7 385.8 190.5 387.1 191.3 388.5 192.3 389.8 193.5 391.1 194.9 392.4 196.6 393.8 198.5 395.1 200.6 396.4 202.7 397.8 204.9 399.1 207.6 400.4 210.6 401.7 213.6 403.1 216.4 404.4 218.8 405.7 221.3 407.1 223.5 408.4 225.4 409.7 227.0 411.1 228.5 412.4 229.9 413.8 231.2 415.1 232.2 416.5 233.2 417.8 234.2 419.2 235.1 420.5 236.1 421.9 237.1 423.3 238.3 424.6 239.6 426.0 240.9 427.3 242.2 428.7 243.6 430.1 244.9 431.4 246.2 432.8 247.6 434.2 249.0 435.6 250.3 436.9 251.4 438.3 252.3 439.7 252.9 441.1 253.4 442.5 253.9 443.9 254.4 445.3 255.0 446.7 255.6 448.1 256.1 449.5 256.8 450.9 257.5 452.3 258.2 453.7 259.0 455.1 259.8 456.6 260.9 458.0 262.0 M301.0 149.6 302.2 149.8 303.3 149.9 304.5 149.9 305.7 149.9 306.9 149.8 308.1 149.5 309.3 149.2 310.4 148.6 311.6 147.5 312.8 146.0 314.0 144.6 315.1 143.4 316.3 142.6 317.5 141.8 318.7 141.1 319.9 140.6 321.1 140.4 322.4 140.7 323.6 141.5 324.8 142.5 326.1 143.7 327.3 144.9 328.6 146.3 329.8 148.2 331.1 150.6 332.3 153.1 333.6 155.4 334.9 157.4 336.1 159.5 337.4 161.4 338.6 163.4 339.9 165.0 341.1 166.3 342.4 167.4 343.7 168.5 344.9 169.5 346.2 170.4 347.4 171.2 348.7 172.0 349.9 172.7 351.2 173.4 352.5 174.0 353.7 174.6 355.0 174.9 356.3 175.2 357.5 175.4 358.8 175.5 360.1 175.5 361.3 175.5 362.6 175.4 363.9 175.0 365.2 174.5 366.5 174.1 367.7 173.9 369.0 174.0 370.3 174.1 371.6 174.3 372.9 174.5 374.2 174.8 375.5 175.3 376.8 176.5 378.1 177.8 379.4 179.1 380.7 180.3 382.0 181.4 383.4 182.2 384.7 182.9 386.0 183.6 387.3 184.4 388.6 185.2 389.9 185.9 391.3 186.7 392.6 187.5 393.9 188.5 395.2 189.6 396.6 191.0 397.9 192.7 399.2 194.7 400.5 196.7 401.9 198.9 403.2 201.1 404.5 203.8 405.9 206.8 407.2 209.9 408.5 212.8 409.8 215.3 411.2 217.7 412.5 220.0 413.8 221.9 415.2 223.6 416.5 225.1 417.9 226.5 419.2 227.7 420.6 228.7 421.9 229.7 423.3 230.6 424.6 231.6 426.0 232.5 427.4 233.6 428.7 234.7 430.1 236.0 431.4 237.3 432.8 238.6 434.2 240.0 435.5 241.3 436.9 242.7 438.3 244.1 439.7 245.4 441.0 246.7 442.4 247.9 443.8 248.7 445.2 249.3 446.6 249.8 448.0 250.2 449.4 250.7 450.8 251.2 452.2 251.7 453.6 252.3 455.0 252.8 456.4 253.5 457.8 254.2 459.3 254.9 460.7 255.8 462.1 256.8 463.5 257.9 M306.2 144.3 307.4 144.5 308.5 144.6 309.7 144.7 310.9 144.7 312.1 144.6 313.3 144.3 314.5 144.0 315.7 143.4 316.8 142.3 318.0 140.8 319.2 139.3 320.4 138.0 321.6 137.2 322.8 136.4 324.0 135.6 325.2 135.0 326.4 134.9 327.6 135.2 328.9 136.0 330.1 137.1 331.3 138.3 332.6 139.7 333.8 141.1 335.1 143.2 336.4 145.7 337.6 148.3 338.9 150.8 340.1 152.9 341.4 155.0 342.7 157.1 343.9 159.2 345.2 160.8 346.4 162.1 347.7 163.4 349.0 164.5 350.2 165.5 351.5 166.4 352.7 167.3 354.0 168.1 355.3 168.9 356.5 169.6 357.8 170.3 359.1 170.8 360.3 171.2 361.6 171.5 362.9 171.7 364.1 171.8 365.4 171.8 366.7 171.9 368.0 171.7 369.3 171.3 370.5 170.9 371.8 170.5 373.1 170.3 374.4 170.4 375.7 170.5 377.0 170.7 378.3 170.9 379.6 171.3 380.9 171.8 382.2 173.0 383.5 174.3 384.8 175.5 386.1 176.7 387.4 177.7 388.8 178.6 390.1 179.3 391.4 179.9 392.7 180.6 394.0 181.4 395.4 182.1 396.7 182.9 398.0 183.6 399.3 184.6 400.7 185.7 402.0 187.1 403.3 188.8 404.7 190.8 406.0 192.8 407.3 195.0 408.6 197.3 410.0 200.0 411.3 203.1 412.6 206.3 413.9 209.2 415.3 211.7 416.6 214.2 417.9 216.5 419.3 218.4 420.6 220.1 421.9 221.6 423.3 223.0 424.6 224.2 426.0 225.3 427.4 226.2 428.7 227.1 430.1 228.0 431.4 229.0 432.8 230.0 434.2 231.1 435.5 232.4 436.9 233.7 438.3 235.0 439.6 236.4 441.0 237.7 442.4 239.1 443.7 240.5 445.1 241.9 446.5 243.2 447.9 244.3 449.3 245.1 450.7 245.7 452.1 246.1 453.5 246.5 454.9 246.9 456.3 247.4 457.7 247.9 459.1 248.4 460.5 248.9 461.9 249.5 463.4 250.2 464.8 250.9 466.2 251.7 467.6 252.8 469.0 253.8 M311.3 139.0 312.5 139.3 313.7 139.4 314.9 139.5 316.1 139.5 317.3 139.4 318.5 139.1 319.7 138.8 320.9 138.2 322.1 137.1 323.2 135.5 324.4 133.9 325.6 132.7 326.8 131.8 328.0 130.9 329.2 130.1 330.4 129.5 331.7 129.4 332.9 129.8 334.1 130.6 335.4 131.7 336.6 133.0 337.9 134.5 339.1 136.0 340.4 138.1 341.6 140.8 342.9 143.5 344.2 146.1 345.4 148.3 346.7 150.6 348.0 152.7 349.2 154.9 350.5 156.6 351.7 158.0 353.0 159.3 354.3 160.5 355.5 161.5 356.8 162.5 358.1 163.4 359.3 164.2 360.6 165.0 361.9 165.8 363.1 166.5 364.4 167.1 365.7 167.5 366.9 167.8 368.2 168.0 369.5 168.1 370.8 168.2 372.0 168.2 373.3 168.1 374.6 167.7 375.9 167.2 377.2 166.8 378.5 166.6 379.8 166.7 381.1 166.9 382.4 167.0 383.7 167.3 385.0 167.7 386.3 168.2 387.6 169.4 388.9 170.7 390.2 171.9 391.5 173.1 392.8 174.1 394.2 174.9 395.5 175.6 396.8 176.2 398.1 176.9 399.4 177.6 400.8 178.3 402.1 179.0 403.4 179.7 404.8 180.6 406.1 181.7 407.4 183.2 408.7 184.9 410.1 186.8 411.4 188.9 412.7 191.1 414.1 193.4 415.4 196.2 416.7 199.3 418.0 202.6 419.4 205.5 420.7 208.1 422.0 210.7 423.3 213.0 424.7 215.0 426.0 216.6 427.4 218.2 428.7 219.6 430.1 220.8 431.4 221.8 432.8 222.7 434.1 223.6 435.5 224.5 436.9 225.4 438.2 226.4 439.6 227.6 441.0 228.8 442.3 230.1 443.7 231.4 445.1 232.8 446.5 234.1 447.8 235.5 449.2 236.9 450.6 238.3 452.0 239.6 453.3 240.7 454.7 241.5 456.1 242.0 457.5 242.4 458.9 242.7 460.4 243.1 461.8 243.6 463.2 244.0 464.6 244.5 466.0 245.0 467.4 245.6 468.8 246.2 470.3 246.9 471.7 247.7 473.1 248.7 474.5 249.8 M316.5 133.8 317.7 134.0 318.9 134.2 320.1 134.3 321.3 134.3 322.5 134.2 323.7 134.0 324.9 133.6 326.1 133.0 327.3 131.8 328.5 130.2 329.6 128.6 330.8 127.3 332.0 126.4 333.3 125.4 334.5 124.6 335.7 124.0 336.9 123.9 338.1 124.3 339.4 125.1 340.6 126.3 341.9 127.7 343.1 129.2 344.4 130.8 345.6 133.1 346.9 135.9 348.2 138.8 349.4 141.5 350.7 143.8 352.0 146.2 353.2 148.4 354.5 150.7 355.8 152.5 357.0 153.9 358.3 155.2 359.6 156.4 360.8 157.5 362.1 158.5 363.4 159.5 364.6 160.3 365.9 161.2 367.2 162.0 368.4 162.7 369.7 163.3 371.0 163.8 372.3 164.1 373.5 164.3 374.8 164.4 376.1 164.5 377.4 164.6 378.7 164.4 380.0 164.0 381.2 163.5 382.5 163.1 383.8 162.9 385.1 163.0 386.4 163.2 387.7 163.4 389.0 163.7 390.4 164.1 391.7 164.6 393.0 165.8 394.3 167.1 395.6 168.3 396.9 169.5 398.2 170.5 399.5 171.2 400.9 171.8 402.2 172.4 403.5 173.1 404.8 173.8 406.2 174.5 407.5 175.1 408.8 175.8 410.2 176.7 411.5 177.8 412.8 179.2 414.2 180.9 415.5 182.8 416.8 185.0 418.1 187.2 419.5 189.5 420.8 192.3 422.1 195.6 423.4 198.9 424.8 201.9 426.1 204.5 427.4 207.1 428.7 209.5 430.1 211.5 431.4 213.2 432.8 214.7 434.1 216.1 435.5 217.3 436.8 218.3 438.2 219.2 439.6 220.1 440.9 220.9 442.3 221.8 443.7 222.8 445.0 224.0 446.4 225.2 447.8 226.5 449.1 227.9 450.5 229.2 451.9 230.5 453.3 231.9 454.6 233.3 456.0 234.7 457.4 236.0 458.8 237.1 460.2 237.9 461.6 238.4 463.0 238.7 464.4 239.0 465.8 239.4 467.2 239.8 468.7 240.2 470.1 240.6 471.5 241.0 472.9 241.6 474.3 242.2 475.8 242.8 477.2 243.6 478.6 244.6 480.0 245.7 M321.7 128.5 322.9 128.8 324.1 129.0 325.3 129.1 326.5 129.1 327.7 129.0 328.9 128.8 330.1 128.4 331.3 127.8 332.5 126.6 333.7 124.9 334.9 123.2 336.1 121.9 337.3 120.9 338.5 120.0 339.7 119.1 340.9 118.5 342.2 118.4 343.4 118.8 344.6 119.7 345.9 120.9 347.1 122.4 348.4 124.0 349.7 125.7 350.9 128.1 352.2 131.0 353.5 134.0 354.7 136.8 356.0 139.3 357.3 141.8 358.5 144.1 359.8 146.5 361.0 148.3 362.3 149.8 363.6 151.2 364.8 152.4 366.1 153.6 367.4 154.6 368.6 155.6 369.9 156.5 371.2 157.4 372.5 158.2 373.7 158.9 375.0 159.6 376.3 160.0 377.6 160.4 378.8 160.6 380.1 160.7 381.4 160.8 382.7 160.9 384.0 160.7 385.3 160.3 386.6 159.8 387.9 159.4 389.2 159.2 390.5 159.3 391.8 159.5 393.1 159.7 394.4 160.0 395.7 160.5 397.0 161.0 398.3 162.2 399.6 163.4 401.0 164.6 402.3 165.8 403.6 166.8 404.9 167.5 406.2 168.1 407.6 168.6 408.9 169.3 410.2 169.9 411.6 170.6 412.9 171.2 414.2 171.8 415.6 172.7 416.9 173.7 418.2 175.1 419.6 176.9 420.9 178.8 422.2 181.0 423.5 183.2 424.9 185.5 426.2 188.4 427.5 191.8 428.8 195.1 430.2 198.2 431.5 200.9 432.8 203.6 434.1 206.0 435.5 208.0 436.8 209.7 438.2 211.2 439.5 212.6 440.9 213.8 442.2 214.8 443.6 215.7 445.0 216.5 446.3 217.4 447.7 218.3 449.1 219.2 450.5 220.4 451.8 221.6 453.2 222.9 454.6 224.3 455.9 225.6 457.3 226.9 458.7 228.3 460.1 229.8 461.4 231.2 462.8 232.5 464.2 233.5 465.6 234.3 467.0 234.7 468.4 235.0 469.9 235.3 471.3 235.6 472.7 236.0 474.1 236.3 475.5 236.6 477.0 237.1 478.4 237.6 479.8 238.2 481.2 238.8 482.7 239.5 484.1 240.5 485.5 241.6 M326.8 123.3 328.1 123.6 329.3 123.7 330.5 123.9 331.7 123.9 332.9 123.8 334.1 123.6 335.3 123.2 336.5 122.6 337.7 121.4 338.9 119.6 340.1 117.9 341.3 116.5 342.5 115.5 343.7 114.5 344.9 113.6 346.2 113.0 347.4 112.8 348.6 113.3 349.9 114.2 351.1 115.5 352.4 117.1 353.7 118.7 354.9 120.5 356.2 123.0 357.4 126.1 358.7 129.2 360.0 132.2 361.3 134.8 362.5 137.4 363.8 139.8 365.1 142.2 366.3 144.2 367.6 145.7 368.8 147.1 370.1 148.4 371.4 149.6 372.7 150.7 373.9 151.6 375.2 152.6 376.5 153.5 377.7 154.4 379.0 155.1 380.3 155.8 381.6 156.3 382.9 156.6 384.1 156.9 385.4 157.0 386.7 157.1 388.0 157.2 389.3 157.0 390.6 156.6 391.9 156.1 393.2 155.7 394.5 155.5 395.8 155.6 397.1 155.8 398.4 156.0 399.7 156.3 401.1 156.8 402.4 157.4 403.7 158.6 405.0 159.8 406.3 161.0 407.6 162.1 409.0 163.1 410.3 163.8 411.6 164.3 412.9 164.8 414.3 165.4 415.6 166.1 416.9 166.6 418.3 167.2 419.6 167.8 420.9 168.6 422.3 169.7 423.6 171.1 425.0 172.8 426.3 174.8 427.6 176.9 428.9 179.2 430.3 181.6 431.6 184.5 432.9 187.9 434.2 191.4 435.5 194.5 436.9 197.3 438.2 200.0 439.5 202.5 440.9 204.5 442.2 206.2 443.6 207.8 444.9 209.2 446.3 210.3 447.6 211.3 449.0 212.2 450.4 213.0 451.7 213.8 453.1 214.7 454.5 215.6 455.9 216.8 457.2 218.0 458.6 219.3 460.0 220.7 461.4 222.0 462.7 223.4 464.1 224.7 465.5 226.2 466.9 227.6 468.2 228.9 469.6 230.0 471.0 230.7 472.4 231.1 473.9 231.3 475.3 231.5 476.7 231.8 478.1 232.1 479.6 232.4 481.0 232.7 482.4 233.1 483.9 233.6 485.3 234.1 486.7 234.7 488.1 235.4 489.6 236.4 491.0 237.4 M332.0 118.0 333.2 118.3 334.4 118.5 335.6 118.7 336.8 118.7 338.0 118.6 339.3 118.4 340.5 118.0 341.7 117.5 342.9 116.2 344.1 114.3 345.3 112.5 346.5 111.1 347.7 110.1 348.9 109.0 350.2 108.1 351.4 107.5 352.6 107.3 353.9 107.8 355.1 108.8 356.4 110.1 357.6 111.7 358.9 113.5 360.2 115.4 361.4 118.0 362.7 121.1 364.0 124.5 365.2 127.5 366.5 130.2 367.8 132.9 369.0 135.5 370.3 138.0 371.6 140.0 372.8 141.6 374.1 143.1 375.4 144.4 376.7 145.6 377.9 146.7 379.2 147.7 380.5 148.7 381.7 149.7 383.0 150.6 384.3 151.4 385.6 152.0 386.9 152.5 388.2 152.9 389.4 153.1 390.7 153.3 392.0 153.4 393.3 153.5 394.6 153.3 395.9 152.9 397.2 152.4 398.5 151.9 399.8 151.8 401.1 151.9 402.5 152.1 403.8 152.3 405.1 152.6 406.4 153.1 407.7 153.7 409.0 154.9 410.3 156.1 411.7 157.3 413.0 158.4 414.3 159.3 415.6 160.0 417.0 160.5 418.3 161.0 419.6 161.5 421.0 162.1 422.3 162.7 423.6 163.2 425.0 163.8 426.3 164.6 427.7 165.6 429.0 167.0 430.3 168.7 431.7 170.7 433.0 172.9 434.3 175.2 435.7 177.6 437.0 180.6 438.3 184.1 439.6 187.6 440.9 190.9 442.2 193.7 443.6 196.4 444.9 198.9 446.2 201.0 447.6 202.7 448.9 204.3 450.3 205.7 451.6 206.8 453.0 207.8 454.4 208.7 455.8 209.5 457.1 210.3 458.5 211.1 459.9 212.1 461.3 213.1 462.6 214.4 464.0 215.7 465.4 217.0 466.8 218.4 468.1 219.8 469.5 221.2 470.9 222.6 472.3 224.0 473.7 225.3 475.0 226.4 476.5 227.1 477.9 227.5 479.3 227.7 480.7 227.8 482.1 228.0 483.6 228.3 485.0 228.5 486.4 228.8 487.9 229.1 489.3 229.6 490.7 230.1 492.2 230.6 493.6 231.3 495.0 232.3 496.5 233.3 M337.2 112.8 338.4 113.1 339.6 113.3 340.8 113.5 342.0 113.5 343.2 113.5 344.4 113.2 345.6 112.9 346.9 112.3 348.1 110.9 349.3 109.1 350.5 107.2 351.7 105.7 352.9 104.6 354.2 103.6 355.4 102.6 356.6 102.0 357.9 101.8 359.1 102.3 360.4 103.3 361.6 104.7 362.9 106.4 364.2 108.2 365.4 110.2 366.7 112.9 368.0 116.2 369.2 119.7 370.5 122.9 371.8 125.7 373.0 128.5 374.3 131.2 375.6 133.8 376.8 135.8 378.1 137.5 379.4 139.0 380.6 140.4 381.9 141.6 383.2 142.8 384.5 143.8 385.7 144.8 387.0 145.8 388.3 146.7 389.6 147.6 390.9 148.3 392.1 148.8 393.4 149.1 394.7 149.4 396.0 149.5 397.3 149.7 398.6 149.7 399.9 149.6 401.2 149.1 402.5 148.6 403.8 148.2 405.1 148.0 406.5 148.1 407.8 148.3 409.1 148.6 410.4 148.9 411.7 149.4 413.0 150.0 414.4 151.2 415.7 152.4 417.0 153.5 418.3 154.7 419.6 155.6 421.0 156.2 422.3 156.7 423.6 157.1 425.0 157.6 426.3 158.2 427.7 158.7 429.0 159.2 430.4 159.7 431.7 160.5 433.0 161.5 434.4 162.8 435.7 164.6 437.0 166.6 438.4 168.8 439.7 171.1 441.0 173.6 442.4 176.7 443.7 180.2 445.0 183.8 446.3 187.2 447.6 190.0 448.9 192.8 450.3 195.4 451.6 197.5 452.9 199.2 454.3 200.8 455.6 202.2 457.0 203.4 458.4 204.3 459.8 205.1 461.1 205.9 462.5 206.7 463.9 207.5 465.3 208.5 466.6 209.5 468.0 210.8 469.4 212.1 470.8 213.4 472.1 214.8 473.5 216.2 474.9 217.6 476.3 219.0 477.7 220.5 479.0 221.8 480.4 222.9 481.9 223.5 483.3 223.9 484.7 224.0 486.1 224.1 487.6 224.2 489.0 224.5 490.4 224.6 491.9 224.8 493.3 225.1 494.7 225.5 496.2 226.0 497.6 226.5 499.1 227.2 500.5 228.1 501.9 229.2 M342.3 107.5 343.5 107.9 344.7 108.1 346.0 108.3 347.2 108.3 348.4 108.3 349.6 108.1 350.8 107.7 352.0 107.1 353.3 105.7 354.5 103.8 355.7 101.8 356.9 100.3 358.2 99.2 359.4 98.1 360.6 97.1 361.9 96.4 363.1 96.3 364.4 96.8 365.6 97.8 366.9 99.3 368.1 101.1 369.4 103.0 370.7 105.0 371.9 107.9 373.2 111.3 374.5 114.9 375.7 118.2 377.0 121.1 378.3 124.1 379.5 126.9 380.8 129.6 382.1 131.7 383.3 133.4 384.6 134.9 385.9 136.3 387.2 137.6 388.4 138.8 389.7 139.9 391.0 141.0 392.3 142.0 393.6 142.9 394.8 143.8 396.1 144.5 397.4 145.0 398.7 145.4 400.0 145.6 401.3 145.8 402.6 145.9 403.9 146.0 405.2 145.8 406.5 145.4 407.8 144.9 409.1 144.4 410.5 144.2 411.8 144.3 413.1 144.5 414.4 144.8 415.7 145.2 417.0 145.7 418.4 146.3 419.7 147.5 421.0 148.6 422.3 149.8 423.7 150.9 425.0 151.8 426.3 152.4 427.6 152.8 429.0 153.2 430.3 153.7 431.7 154.2 433.0 154.7 434.4 155.1 435.7 155.6 437.1 156.3 438.4 157.3 439.7 158.7 441.1 160.4 442.4 162.4 443.7 164.7 445.1 167.1 446.4 169.5 447.7 172.7 449.0 176.3 450.3 180.0 451.6 183.4 453.0 186.4 454.3 189.2 455.6 191.8 456.9 194.0 458.3 195.7 459.6 197.3 461.0 198.7 462.4 199.9 463.7 200.8 465.1 201.6 466.5 202.4 467.9 203.1 469.3 203.9 470.6 204.8 472.0 205.9 473.4 207.2 474.8 208.5 476.1 209.8 477.5 211.2 478.9 212.6 480.3 214.0 481.7 215.5 483.0 216.9 484.4 218.2 485.8 219.3 487.2 220.0 488.7 220.2 490.1 220.3 491.5 220.3 493.0 220.4 494.4 220.6 495.9 220.8 497.3 220.9 498.7 221.1 500.2 221.5 501.6 221.9 503.1 222.4 504.5 223.0 505.9 224.0 507.4 225.0 M347.5 102.3 348.7 102.7 349.9 102.9 351.1 103.1 352.3 103.2 353.6 103.1 354.8 102.9 356.0 102.5 357.2 101.9 358.4 100.5 359.7 98.5 360.9 96.5 362.1 94.8 363.4 93.7 364.6 92.6 365.8 91.6 367.1 90.9 368.3 90.7 369.6 91.2 370.9 92.3 372.1 93.9 373.4 95.7 374.6 97.7 375.9 99.8 377.2 102.8 378.4 106.4 379.7 110.1 381.0 113.6 382.2 116.6 383.5 119.7 384.8 122.6 386.0 125.3 387.3 127.5 388.6 129.3 389.9 130.9 391.1 132.3 392.4 133.6 393.7 134.9 395.0 136.0 396.2 137.1 397.5 138.1 398.8 139.1 400.1 139.9 401.4 140.7 402.7 141.2 404.0 141.6 405.3 141.9 406.6 142.1 407.9 142.2 409.2 142.3 410.5 142.1 411.8 141.6 413.1 141.1 414.4 140.6 415.7 140.4 417.1 140.5 418.4 140.7 419.7 141.0 421.0 141.4 422.4 141.9 423.7 142.6 425.0 143.7 426.3 144.9 427.6 146.0 429.0 147.1 430.3 148.0 431.6 148.5 433.0 148.9 434.3 149.3 435.7 149.7 437.0 150.2 438.4 150.6 439.7 151.0 441.1 151.5 442.4 152.2 443.8 153.1 445.1 154.5 446.4 156.2 447.8 158.3 449.1 160.5 450.4 162.9 451.8 165.4 453.1 168.7 454.4 172.4 455.7 176.2 457.0 179.7 458.3 182.7 459.6 185.6 460.9 188.3 462.3 190.4 463.6 192.2 465.0 193.8 466.3 195.3 467.7 196.4 469.1 197.3 470.5 198.1 471.8 198.8 473.2 199.6 474.6 200.3 476.0 201.2 477.4 202.3 478.8 203.5 480.1 204.9 481.5 206.3 482.9 207.6 484.3 209.0 485.7 210.4 487.0 211.9 488.4 213.4 489.8 214.7 491.2 215.8 492.6 216.4 494.0 216.6 495.5 216.6 496.9 216.6 498.4 216.6 499.8 216.8 501.3 216.9 502.7 216.9 504.2 217.1 505.6 217.5 507.1 217.8 508.5 218.3 509.9 218.9 511.4 219.8 512.8 220.8 M352.6 97.1 353.8 97.5 355.0 97.7 356.3 97.9 357.5 98.0 358.7 97.9 359.9 97.7 361.2 97.3 362.4 96.7 363.6 95.3 364.9 93.2 366.1 91.1 367.3 89.4 368.6 88.3 369.8 87.1 371.1 86.1 372.3 85.3 373.6 85.2 374.8 85.7 376.1 86.8 377.3 88.4 378.6 90.3 379.9 92.4 381.1 94.6 382.4 97.7 383.7 101.4 384.9 105.3 386.2 108.9 387.5 112.0 388.7 115.2 390.0 118.2 391.3 121.1 392.5 123.3 393.8 125.1 395.1 126.8 396.4 128.3 397.6 129.7 398.9 130.9 400.2 132.0 401.5 133.2 402.8 134.2 404.0 135.2 405.3 136.1 406.6 136.9 407.9 137.5 409.2 137.9 410.5 138.1 411.8 138.3 413.1 138.4 414.4 138.5 415.7 138.3 417.1 137.8 418.4 137.2 419.7 136.8 421.0 136.5 422.4 136.7 423.7 136.9 425.0 137.2 426.3 137.6 427.7 138.1 429.0 138.8 430.3 139.9 431.6 141.1 433.0 142.2 434.3 143.3 435.6 144.1 437.0 144.6 438.3 145.0 439.6 145.3 441.0 145.7 442.3 146.2 443.7 146.5 445.1 146.9 446.4 147.3 447.8 148.0 449.1 148.9 450.5 150.2 451.8 152.0 453.1 154.1 454.5 156.4 455.8 158.8 457.1 161.3 458.4 164.6 459.7 168.5 461.0 172.4 462.3 176.0 463.6 179.0 465.0 182.0 466.3 184.7 467.6 186.9 469.0 188.7 470.3 190.4 471.7 191.8 473.0 192.9 474.4 193.8 475.8 194.6 477.2 195.3 478.6 196.0 480.0 196.8 481.3 197.6 482.7 198.7 484.1 199.9 485.5 201.3 486.9 202.7 488.2 204.1 489.6 205.4 491.0 206.9 492.4 208.4 493.8 209.9 495.2 211.2 496.6 212.2 498.0 212.8 499.4 213.0 500.9 213.0 502.3 212.9 503.8 212.8 505.2 212.9 506.7 213.0 508.1 213.0 509.6 213.1 511.0 213.4 512.5 213.7 513.9 214.1 515.4 214.7 516.8 215.6 518.2 216.6 M357.7 91.8 359.0 92.2 360.2 92.5 361.4 92.7 362.6 92.8 363.9 92.8 365.1 92.6 366.3 92.2 367.6 91.5 368.8 90.0 370.0 87.9 371.3 85.8 372.5 84.0 373.8 82.8 375.0 81.6 376.3 80.5 377.5 79.8 378.8 79.6 380.0 80.2 381.3 81.3 382.6 83.0 383.8 85.0 385.1 87.1 386.4 89.4 387.6 92.6 388.9 96.5 390.2 100.5 391.4 104.2 392.7 107.5 394.0 110.8 395.2 113.9 396.5 116.8 397.8 119.1 399.0 121.0 400.3 122.7 401.6 124.2 402.9 125.6 404.1 126.9 405.4 128.1 406.7 129.2 408.0 130.4 409.3 131.4 410.6 132.3 411.9 133.1 413.2 133.7 414.5 134.1 415.8 134.3 417.1 134.5 418.4 134.6 419.7 134.7 421.0 134.5 422.3 134.0 423.7 133.4 425.0 132.9 426.3 132.7 427.6 132.8 429.0 133.0 430.3 133.3 431.6 133.7 432.9 134.3 434.3 135.0 435.6 136.1 436.9 137.3 438.3 138.4 439.6 139.5 440.9 140.2 442.3 140.7 443.6 141.1 445.0 141.3 446.3 141.7 447.7 142.1 449.0 142.4 450.4 142.7 451.7 143.1 453.1 143.7 454.5 144.6 455.8 145.9 457.1 147.7 458.5 149.8 459.8 152.1 461.1 154.6 462.5 157.2 463.8 160.6 465.1 164.5 466.3 168.5 467.6 172.2 469.0 175.4 470.3 178.4 471.6 181.2 472.9 183.4 474.3 185.2 475.6 186.9 477.0 188.3 478.4 189.5 479.7 190.4 481.1 191.1 482.5 191.8 483.9 192.4 485.3 193.2 486.7 194.1 488.1 195.1 489.5 196.3 490.8 197.7 492.2 199.1 493.6 200.5 495.0 201.9 496.4 203.3 497.7 204.8 499.1 206.3 500.5 207.7 501.9 208.7 503.3 209.3 504.8 209.4 506.2 209.3 507.7 209.2 509.1 209.1 510.6 209.1 512.0 209.1 513.5 209.0 515.0 209.1 516.4 209.3 517.9 209.6 519.3 210.0 520.8 210.5 522.2 211.4 523.7 212.5 M362.9 86.6 364.1 87.0 365.3 87.3 366.6 87.5 367.8 87.7 369.0 87.6 370.3 87.4 371.5 87.0 372.7 86.3 374.0 84.8 375.2 82.6 376.5 80.4 377.7 78.6 379.0 77.4 380.2 76.1 381.5 75.0 382.7 74.2 384.0 74.0 385.3 74.6 386.5 75.8 387.8 77.5 389.1 79.6 390.3 81.8 391.6 84.2 392.9 87.5 394.1 91.5 395.4 95.7 396.6 99.5 397.9 102.9 399.2 106.3 400.4 109.6 401.7 112.6 403.0 115.0 404.2 116.9 405.5 118.6 406.8 120.2 408.1 121.6 409.4 123.0 410.6 124.2 411.9 125.3 413.2 126.5 414.5 127.5 415.8 128.5 417.1 129.3 418.4 129.9 419.7 130.3 421.0 130.5 422.3 130.7 423.6 130.8 424.9 130.9 426.3 130.7 427.6 130.2 428.9 129.6 430.2 129.0 431.6 128.8 432.9 129.0 434.2 129.2 435.6 129.5 436.9 129.9 438.2 130.5 439.6 131.2 440.9 132.3 442.2 133.4 443.5 134.5 444.9 135.6 446.2 136.4 447.6 136.8 448.9 137.1 450.3 137.3 451.6 137.6 453.0 138.0 454.3 138.3 455.7 138.5 457.1 138.9 458.4 139.4 459.8 140.3 461.1 141.6 462.5 143.4 463.8 145.5 465.1 147.9 466.5 150.4 467.8 153.0 469.1 156.5 470.4 160.5 471.7 164.7 473.0 168.4 474.3 171.7 475.6 174.8 476.9 177.7 478.2 179.9 479.6 181.7 480.9 183.4 482.3 184.9 483.7 186.0 485.1 186.9 486.4 187.6 487.8 188.2 489.2 188.9 490.6 189.6 492.0 190.5 493.4 191.5 494.8 192.7 496.2 194.1 497.5 195.5 498.9 196.9 500.3 198.3 501.7 199.8 503.1 201.3 504.5 202.8 505.9 204.2 507.3 205.2 508.7 205.8 510.1 205.9 511.6 205.7 513.0 205.4 514.5 205.3 516.0 205.3 517.4 205.2 518.9 205.1 520.4 205.1 521.8 205.3 523.3 205.5 524.7 205.8 526.2 206.3 527.6 207.2 529.1 208.2 M368.0 81.4 369.2 81.8 370.5 82.1 371.7 82.4 372.9 82.5 374.2 82.5 375.4 82.2 376.6 81.8 377.9 81.1 379.1 79.6 380.4 77.3 381.6 75.0 382.9 73.2 384.1 71.9 385.4 70.6 386.7 69.4 387.9 68.6 389.2 68.4 390.5 69.0 391.7 70.3 393.0 72.1 394.3 74.2 395.5 76.5 396.8 79.0 398.1 82.4 399.3 86.5 400.6 90.8 401.9 94.8 403.1 98.3 404.4 101.9 405.6 105.2 406.9 108.3 408.2 110.8 409.4 112.7 410.7 114.5 412.0 116.1 413.3 117.6 414.6 119.0 415.8 120.2 417.1 121.4 418.4 122.6 419.7 123.7 421.0 124.6 422.3 125.4 423.6 126.1 424.9 126.5 426.2 126.8 427.5 126.9 428.9 127.0 430.2 127.1 431.5 126.9 432.8 126.4 434.2 125.7 435.5 125.2 436.8 124.9 438.2 125.1 439.5 125.3 440.8 125.6 442.2 126.0 443.5 126.6 444.8 127.4 446.2 128.5 447.5 129.6 448.8 130.7 450.2 131.7 451.5 132.4 452.8 132.9 454.2 133.1 455.6 133.3 456.9 133.5 458.3 133.9 459.6 134.1 461.0 134.3 462.4 134.6 463.7 135.1 465.1 136.0 466.5 137.3 467.8 139.1 469.1 141.2 470.5 143.6 471.8 146.2 473.1 148.9 474.4 152.4 475.7 156.5 477.0 160.8 478.3 164.7 479.6 168.0 480.9 171.2 482.2 174.1 483.5 176.4 484.9 178.3 486.2 180.0 487.6 181.4 489.0 182.6 490.4 183.4 491.7 184.1 493.1 184.7 494.5 185.3 495.9 186.0 497.3 186.9 498.7 187.9 500.1 189.1 501.5 190.5 502.9 191.9 504.3 193.3 505.6 194.8 507.0 196.2 508.4 197.8 509.8 199.3 511.2 200.7 512.6 201.7 514.0 202.2 515.5 202.3 516.9 202.0 518.4 201.7 519.9 201.5 521.3 201.4 522.8 201.3 524.3 201.1 525.7 201.0 527.2 201.2 528.7 201.4 530.1 201.6 531.6 202.1 533.0 203.0 534.5 204.0 M373.1 76.2 374.4 76.6 375.6 77.0 376.8 77.2 378.1 77.3 379.3 77.3 380.5 77.1 381.8 76.6 383.0 76.0 384.3 74.3 385.5 72.0 386.8 69.7 388.1 67.7 389.3 66.4 390.6 65.1 391.9 63.9 393.1 63.0 394.4 62.8 395.7 63.5 397.0 64.8 398.2 66.6 399.5 68.8 400.8 71.2 402.0 73.7 403.3 77.3 404.5 81.5 405.8 86.0 407.1 90.1 408.3 93.7 409.6 97.4 410.8 100.9 412.1 104.1 413.4 106.6 414.6 108.6 415.9 110.4 417.2 112.1 418.5 113.6 419.8 115.0 421.0 116.3 422.3 117.5 423.6 118.7 424.9 119.8 426.2 120.8 427.5 121.6 428.8 122.2 430.1 122.7 431.4 122.9 432.8 123.1 434.1 123.2 435.4 123.3 436.7 123.1 438.1 122.5 439.4 121.8 440.7 121.3 442.1 121.0 443.4 121.1 444.8 121.4 446.1 121.7 447.4 122.1 448.8 122.7 450.1 123.5 451.4 124.6 452.8 125.7 454.1 126.8 455.4 127.8 456.8 128.5 458.1 128.9 459.5 129.1 460.9 129.2 462.2 129.4 463.6 129.7 465.0 129.9 466.3 130.0 467.7 130.3 469.1 130.8 470.4 131.6 471.8 132.9 473.1 134.7 474.5 136.9 475.8 139.3 477.1 141.9 478.4 144.6 479.7 148.3 481.0 152.5 482.3 156.9 483.6 160.9 484.9 164.3 486.2 167.6 487.5 170.6 488.8 172.9 490.2 174.8 491.5 176.5 492.9 178.0 494.3 179.1 495.6 179.9 497.0 180.6 498.4 181.2 499.8 181.8 501.2 182.5 502.6 183.3 504.0 184.3 505.4 185.5 506.8 186.9 508.2 188.3 509.6 189.8 510.9 191.2 512.3 192.7 513.7 194.3 515.1 195.9 516.5 197.2 517.9 198.3 519.3 198.7 520.8 198.7 522.3 198.4 523.7 198.0 525.2 197.7 526.7 197.6 528.2 197.4 529.6 197.1 531.1 197.0 532.6 197.1 534.1 197.2 535.5 197.5 537.0 197.9 538.4 198.8 539.9 199.8 M378.2 71.0 379.5 71.5 380.7 71.8 382.0 72.0 383.2 72.2 384.4 72.1 385.7 71.9 386.9 71.5 388.2 70.8 389.4 69.1 390.7 66.8 392.0 64.3 393.2 62.3 394.5 60.9 395.8 59.5 397.1 58.3 398.3 57.5 399.6 57.2 400.9 57.9 402.2 59.2 403.4 61.1 404.7 63.3 406.0 65.8 407.2 68.5 408.5 72.1 409.8 76.5 411.0 81.1 412.3 85.4 413.5 89.1 414.8 92.9 416.0 96.5 417.3 99.8 418.6 102.4 419.8 104.4 421.1 106.3 422.4 108.0 423.7 109.6 425.0 111.0 426.2 112.3 427.5 113.6 428.8 114.8 430.1 115.9 431.4 116.9 432.7 117.8 434.0 118.4 435.3 118.9 436.6 119.1 438.0 119.3 439.3 119.4 440.6 119.5 441.9 119.2 443.3 118.6 444.6 117.9 446.0 117.3 447.3 117.1 448.7 117.2 450.0 117.4 451.3 117.8 452.7 118.2 454.0 118.8 455.4 119.6 456.7 120.7 458.0 121.8 459.4 122.8 460.7 123.9 462.0 124.5 463.4 124.9 464.8 125.0 466.1 125.1 467.5 125.2 468.9 125.5 470.2 125.6 471.6 125.7 473.0 126.0 474.4 126.4 475.7 127.2 477.1 128.5 478.4 130.3 479.8 132.5 481.1 135.0 482.4 137.6 483.7 140.4 485.0 144.1 486.3 148.5 487.6 153.0 488.9 157.1 490.1 160.6 491.4 164.0 492.8 167.0 494.1 169.4 495.4 171.3 496.8 173.1 498.2 174.6 499.5 175.7 500.9 176.5 502.3 177.1 503.7 177.7 505.1 178.3 506.5 178.9 507.9 179.7 509.3 180.7 510.7 182.0 512.1 183.3 513.5 184.8 514.9 186.2 516.3 187.7 517.6 189.2 519.0 190.8 520.4 192.4 521.8 193.8 523.2 194.8 524.6 195.3 526.1 195.2 527.6 194.8 529.1 194.3 530.5 194.0 532.0 193.8 533.5 193.5 535.0 193.2 536.5 193.0 538.0 193.0 539.4 193.1 540.9 193.3 542.4 193.7 543.8 194.6 545.3 195.6 M383.3 65.8 384.6 66.3 385.8 66.6 387.1 66.9 388.3 67.0 389.6 67.0 390.8 66.8 392.1 66.3 393.3 65.6 394.6 63.9 395.9 61.5 397.1 58.9 398.4 56.8 399.7 55.4 401.0 54.0 402.3 52.7 403.5 51.8 404.8 51.6 406.1 52.3 407.4 53.7 408.6 55.6 409.9 57.9 411.2 60.5 412.4 63.2 413.7 67.0 415.0 71.5 416.2 76.3 417.4 80.7 418.7 84.5 420.0 88.4 421.2 92.2 422.5 95.5 423.7 98.2 425.0 100.3 426.3 102.2 427.6 104.0 428.9 105.6 430.1 107.0 431.4 108.3 432.7 109.6 434.0 110.9 435.3 112.0 436.6 113.1 437.9 114.0 439.2 114.6 440.5 115.0 441.8 115.3 443.2 115.5 444.5 115.6 445.8 115.6 447.2 115.4 448.5 114.8 449.9 114.0 451.2 113.4 452.6 113.1 453.9 113.2 455.2 113.5 456.6 113.8 457.9 114.3 459.3 114.9 460.6 115.7 461.9 116.8 463.3 117.8 464.6 118.9 466.0 119.9 467.3 120.5 468.7 120.8 470.0 120.9 471.4 121.0 472.8 121.1 474.2 121.3 475.5 121.4 476.9 121.4 478.3 121.6 479.7 122.0 481.0 122.7 482.4 124.0 483.7 125.8 485.1 128.1 486.4 130.6 487.7 133.3 489.0 136.1 490.3 139.9 491.6 144.4 492.9 149.1 494.1 153.3 495.4 156.9 496.7 160.3 498.0 163.5 499.4 165.9 500.7 167.9 502.1 169.6 503.4 171.1 504.8 172.2 506.2 173.0 507.6 173.7 509.0 174.2 510.4 174.7 511.8 175.3 513.2 176.1 514.6 177.1 516.0 178.4 517.4 179.8 518.8 181.2 520.2 182.7 521.5 184.2 522.9 185.7 524.3 187.3 525.7 188.9 527.1 190.3 528.5 191.4 529.9 191.8 531.4 191.7 532.9 191.2 534.4 190.7 535.9 190.2 537.4 189.9 538.8 189.6 540.3 189.2 541.8 188.9 543.3 188.9 544.8 188.9 546.3 189.1 547.7 189.4 549.2 190.3 550.7 191.3 M388.5 60.6 389.7 61.1 390.9 61.4 392.2 61.7 393.4 61.9 394.7 61.8 396.0 61.6 397.2 61.2 398.5 60.4 399.7 58.7 401.0 56.2 402.3 53.5 403.6 51.4 404.9 49.9 406.2 48.5 407.4 47.1 408.7 46.2 410.0 46.0 411.3 46.7 412.6 48.1 413.8 50.1 415.1 52.5 416.4 55.1 417.6 57.9 418.9 61.8 420.1 66.5 421.4 71.4 422.6 75.9 423.9 79.9 425.1 84.0 426.4 87.8 427.6 91.2 428.9 94.0 430.2 96.1 431.5 98.1 432.7 99.9 434.0 101.5 435.3 103.0 436.6 104.4 437.9 105.7 439.2 107.0 440.5 108.2 441.8 109.2 443.1 110.1 444.4 110.8 445.7 111.2 447.0 111.5 448.4 111.6 449.7 111.7 451.0 111.8 452.4 111.5 453.7 110.9 455.1 110.1 456.4 109.4 457.8 109.1 459.1 109.3 460.5 109.5 461.8 109.8 463.2 110.3 464.5 111.0 465.8 111.8 467.2 112.8 468.5 113.9 469.9 114.9 471.2 115.9 472.6 116.5 473.9 116.8 475.3 116.8 476.7 116.8 478.0 116.9 479.4 117.0 480.8 117.1 482.2 117.1 483.6 117.2 485.0 117.5 486.3 118.2 487.7 119.5 489.0 121.3 490.4 123.6 491.7 126.2 493.0 128.9 494.3 131.8 495.6 135.7 496.9 140.4 498.1 145.1 499.4 149.5 500.7 153.1 502.0 156.7 503.3 159.9 504.6 162.4 506.0 164.4 507.3 166.2 508.7 167.7 510.1 168.8 511.4 169.6 512.9 170.2 514.3 170.7 515.7 171.2 517.1 171.8 518.5 172.6 519.9 173.6 521.3 174.8 522.7 176.2 524.0 177.7 525.4 179.2 526.8 180.7 528.2 182.2 529.6 183.9 531.0 185.5 532.4 186.9 533.8 188.0 535.2 188.3 536.7 188.1 538.2 187.6 539.7 187.0 541.2 186.5 542.7 186.1 544.2 185.7 545.7 185.2 547.2 184.9 548.7 184.8 550.1 184.8 551.6 184.8 553.1 185.2 554.6 186.0 556.0 187.0 M393.6 55.4 394.8 55.9 396.1 56.3 397.3 56.5 398.6 56.7 399.8 56.7 401.1 56.4 402.3 56.0 403.6 55.2 404.9 53.4 406.2 50.9 407.5 48.2 408.7 46.0 410.0 44.5 411.3 42.9 412.6 41.6 413.9 40.6 415.2 40.4 416.5 41.0 417.8 42.5 419.0 44.5 420.3 47.0 421.6 49.7 422.8 52.6 424.1 56.6 425.3 61.4 426.6 66.5 427.8 71.2 429.1 75.3 430.3 79.5 431.6 83.4 432.8 87.0 434.1 89.7 435.3 92.0 436.6 94.0 437.9 95.8 439.2 97.5 440.5 99.0 441.8 100.4 443.1 101.8 444.4 103.1 445.7 104.3 447.0 105.4 448.3 106.3 449.6 106.9 450.9 107.4 452.2 107.7 453.5 107.8 454.9 107.9 456.2 108.0 457.6 107.7 458.9 107.0 460.3 106.2 461.6 105.5 463.0 105.1 464.3 105.3 465.7 105.5 467.0 105.8 468.4 106.3 469.7 107.0 471.1 107.8 472.4 108.9 473.8 109.9 475.1 110.9 476.4 111.9 477.8 112.5 479.2 112.7 480.5 112.7 481.9 112.6 483.3 112.6 484.7 112.7 486.1 112.7 487.5 112.7 488.9 112.7 490.3 113.0 491.6 113.7 493.0 115.0 494.3 116.8 495.7 119.1 497.0 121.7 498.3 124.5 499.6 127.5 500.9 131.5 502.1 136.3 503.4 141.2 504.7 145.6 505.9 149.4 507.2 153.1 508.5 156.4 509.8 159.0 511.2 161.0 512.5 162.8 513.9 164.3 515.3 165.4 516.7 166.2 518.1 166.7 519.5 167.2 520.9 167.7 522.3 168.3 523.7 169.0 525.1 170.0 526.5 171.3 527.9 172.7 529.3 174.1 530.7 175.7 532.1 177.2 533.5 178.7 534.9 180.4 536.2 182.1 537.6 183.5 539.1 184.6 540.5 184.9 542.0 184.7 543.5 184.0 545.0 183.3 546.5 182.7 548.0 182.3 549.5 181.8 551.0 181.2 552.5 180.8 554.0 180.7 555.5 180.6 557.0 180.6 558.5 180.9 559.9 181.8 561.4 182.7 M398.7 50.2 399.9 50.7 401.2 51.1 402.4 51.4 403.7 51.6 404.9 51.5 406.2 51.3 407.5 50.8 408.7 50.1 410.0 48.2 411.3 45.6 412.6 42.8 413.9 40.5 415.2 38.9 416.5 37.4 417.8 36.0 419.1 35.0 420.4 34.7 421.7 35.4 423.0 36.9 424.2 39.0 425.5 41.5 426.8 44.3 428.0 47.3 429.3 51.4 430.5 56.4 431.8 61.6 433.0 66.4 434.2 70.7 435.5 75.0 436.7 79.1 438.0 82.7 439.2 85.5 440.5 87.8 441.8 89.9 443.1 91.7 444.3 93.5 445.6 95.0 446.9 96.4 448.2 97.8 449.5 99.2 450.8 100.4 452.1 101.5 453.4 102.4 454.7 103.1 456.1 103.6 457.4 103.8 458.7 104.0 460.1 104.0 461.4 104.1 462.7 103.8 464.1 103.1 465.5 102.2 466.8 101.5 468.2 101.1 469.6 101.3 470.9 101.5 472.3 101.8 473.6 102.3 475.0 103.0 476.3 103.9 477.6 104.9 479.0 105.9 480.3 106.9 481.7 107.9 483.0 108.4 484.4 108.6 485.8 108.6 487.2 108.4 488.6 108.4 490.0 108.4 491.3 108.3 492.7 108.2 494.1 108.2 495.5 108.5 496.9 109.2 498.3 110.4 499.6 112.3 501.0 114.6 502.3 117.2 503.6 120.1 504.9 123.1 506.2 127.2 507.4 132.2 508.7 137.2 509.9 141.8 511.2 145.7 512.5 149.5 513.8 152.9 515.1 155.5 516.4 157.5 517.8 159.4 519.1 160.9 520.5 162.0 521.9 162.8 523.3 163.3 524.8 163.8 526.2 164.2 527.6 164.7 529.0 165.5 530.4 166.5 531.8 167.7 533.2 169.1 534.6 170.6 536.0 172.2 537.3 173.7 538.7 175.3 540.1 177.0 541.5 178.7 542.9 180.2 544.3 181.2 545.8 181.5 547.2 181.2 548.8 180.5 550.3 179.7 551.8 179.0 553.3 178.5 554.8 177.9 556.3 177.2 557.8 176.8 559.3 176.6 560.8 176.4 562.3 176.4 563.8 176.6 565.3 177.5 566.7 178.5 M403.8 45.0 405.0 45.6 406.3 46.0 407.5 46.2 408.8 46.4 410.0 46.4 411.3 46.1 412.6 45.7 413.9 44.9 415.2 43.0 416.5 40.3 417.8 37.4 419.1 35.0 420.4 33.4 421.7 31.8 423.0 30.3 424.3 29.3 425.6 29.1 426.9 29.8 428.1 31.3 429.4 33.5 430.7 36.1 432.0 38.9 433.2 42.0 434.5 46.2 435.7 51.3 436.9 56.7 438.2 61.7 439.4 66.1 440.6 70.5 441.9 74.7 443.1 78.4 444.4 81.3 445.7 83.6 446.9 85.7 448.2 87.7 449.5 89.4 450.8 91.0 452.1 92.5 453.4 93.9 454.7 95.2 456.0 96.5 457.3 97.6 458.6 98.6 459.9 99.3 461.2 99.7 462.6 100.0 463.9 100.1 465.2 100.2 466.6 100.2 467.9 99.9 469.3 99.1 470.7 98.3 472.0 97.5 473.4 97.1 474.8 97.2 476.1 97.5 477.5 97.8 478.8 98.3 480.2 99.0 481.5 99.9 482.9 100.9 484.2 101.9 485.5 102.9 486.9 103.8 488.3 104.4 489.6 104.5 491.0 104.4 492.4 104.2 493.8 104.1 495.2 104.1 496.6 103.9 498.0 103.8 499.4 103.7 500.8 103.9 502.2 104.5 503.6 105.8 504.9 107.7 506.2 110.0 507.6 112.7 508.9 115.6 510.2 118.7 511.4 122.9 512.7 128.0 513.9 133.3 515.1 138.0 516.4 142.0 517.7 145.9 519.0 149.3 520.3 152.0 521.6 154.1 523.0 156.0 524.4 157.5 525.7 158.6 527.2 159.4 528.6 159.9 530.0 160.3 531.4 160.7 532.8 161.2 534.2 161.9 535.6 162.9 537.0 164.2 538.4 165.6 539.8 167.1 541.2 168.7 542.6 170.2 544.0 171.9 545.4 173.6 546.7 175.3 548.1 176.8 549.6 177.9 551.0 178.1 552.5 177.7 554.0 176.9 555.5 176.0 557.1 175.3 558.6 174.7 560.1 174.0 561.6 173.3 563.1 172.7 564.7 172.4 566.2 172.2 567.7 172.1 569.2 172.4 570.6 173.2 572.1 174.1 M408.8 39.8 410.1 40.4 411.4 40.8 412.6 41.1 413.9 41.3 415.2 41.2 416.4 41.0 417.7 40.5 419.0 39.7 420.3 37.7 421.6 35.0 422.9 32.0 424.2 29.6 425.5 27.9 426.8 26.2 428.1 24.7 429.5 23.7 430.8 23.4 432.1 24.1 433.3 25.7 434.6 27.9 435.9 30.6 437.1 33.5 438.4 36.7 439.6 41.0 440.9 46.3 442.1 51.8 443.3 56.9 444.6 61.4 445.8 66.0 447.0 70.3 448.3 74.1 449.5 77.1 450.8 79.5 452.1 81.6 453.4 83.6 454.6 85.4 455.9 87.0 457.2 88.5 458.5 89.9 459.8 91.3 461.1 92.6 462.4 93.8 463.7 94.7 465.1 95.4 466.4 95.9 467.7 96.1 469.1 96.3 470.4 96.3 471.7 96.3 473.1 96.0 474.5 95.2 475.8 94.3 477.2 93.5 478.6 93.1 480.0 93.2 481.3 93.4 482.7 93.7 484.0 94.2 485.4 94.9 486.7 95.9 488.1 96.8 489.4 97.9 490.8 98.8 492.1 99.8 493.5 100.3 494.9 100.3 496.3 100.2 497.7 99.9 499.1 99.7 500.5 99.7 501.9 99.5 503.3 99.3 504.7 99.1 506.1 99.3 507.5 99.9 508.8 101.1 510.2 103.0 511.5 105.4 512.8 108.2 514.1 111.1 515.4 114.3 516.7 118.6 517.9 123.9 519.1 129.3 520.4 134.1 521.6 138.3 522.9 142.3 524.2 145.8 525.5 148.6 526.9 150.7 528.2 152.6 529.6 154.2 531.0 155.3 532.4 156.0 533.8 156.5 535.2 156.9 536.6 157.2 538.1 157.7 539.5 158.4 540.9 159.4 542.3 160.6 543.7 162.1 545.0 163.6 546.4 165.2 547.8 166.8 549.2 168.4 550.6 170.2 552.0 172.0 553.4 173.5 554.8 174.5 556.3 174.8 557.7 174.3 559.3 173.4 560.8 172.4 562.3 171.5 563.9 170.9 565.4 170.1 566.9 169.3 568.4 168.6 570.0 168.3 571.5 168.0 573.0 167.8 574.5 168.0 576.0 168.8 577.4 169.8 M201.6 250.7 206.9 245.3 212.2 240.0 217.4 234.6 222.7 229.3 227.9 223.9 233.2 218.6 238.4 213.2 243.7 207.9 248.9 202.6 254.1 197.3 259.4 192.0 264.6 186.6 269.8 181.3 275.0 176.0 280.2 170.7 285.4 165.4 290.6 160.2 295.8 154.9 301.0 149.6 306.2 144.3 311.3 139.0 316.5 133.8 321.7 128.5 326.8 123.3 332.0 118.0 337.2 112.8 342.3 107.5 347.5 102.3 352.6 97.1 357.7 91.8 362.9 86.6 368.0 81.4 373.1 76.2 378.2 71.0 383.3 65.8 388.5 60.6 393.6 55.4 398.7 50.2 403.8 45.0 408.8 39.8 M213.1 260.5 218.3 252.0 223.5 244.2 228.7 236.9 233.9 230.0 239.2 223.6 244.5 217.4 249.7 211.4 255.0 205.6 260.3 199.9 265.5 194.3 270.8 188.8 276.1 183.4 281.3 178.0 286.6 172.6 291.8 167.3 297.1 161.9 302.3 156.6 307.6 151.3 312.8 146.0 318.0 140.8 323.2 135.5 328.5 130.2 333.7 124.9 338.9 119.6 344.1 114.3 349.3 109.1 354.5 103.8 359.7 98.5 364.9 93.2 370.0 87.9 375.2 82.6 380.4 77.3 385.5 72.0 390.7 66.8 395.9 61.5 401.0 56.2 406.2 50.9 411.3 45.6 416.5 40.3 421.6 35.0 M224.8 270.5 229.9 259.9 235.1 250.2 240.3 241.4 245.5 233.2 250.8 225.5 256.0 218.4 261.3 211.6 266.6 205.1 271.9 198.9 277.2 192.8 282.5 186.9 287.8 181.1 293.1 175.5 298.4 169.9 303.7 164.3 309.0 158.8 314.3 153.4 319.5 148.0 324.8 142.5 330.1 137.1 335.4 131.7 340.6 126.3 345.9 120.9 351.1 115.5 356.4 110.1 361.6 104.7 366.9 99.3 372.1 93.9 377.3 88.4 382.6 83.0 387.8 77.5 393.0 72.1 398.2 66.6 403.4 61.1 408.6 55.6 413.8 50.1 419.0 44.5 424.2 39.0 429.4 33.5 434.6 27.9 M236.6 280.6 241.8 270.1 247.0 259.7 252.2 250.1 257.4 241.5 262.7 233.6 268.0 226.5 273.3 219.9 278.7 213.9 284.0 208.2 289.4 202.9 294.7 197.8 300.1 192.9 305.4 188.1 310.8 183.5 316.1 179.0 321.4 174.5 326.7 170.1 332.1 165.7 337.4 161.4 342.7 157.1 348.0 152.7 353.2 148.4 358.5 144.1 363.8 139.8 369.0 135.5 374.3 131.2 379.5 126.9 384.8 122.6 390.0 118.2 395.2 113.9 400.4 109.6 405.6 105.2 410.8 100.9 416.0 96.5 421.2 92.2 426.4 87.8 431.6 83.4 436.7 79.1 441.9 74.7 447.0 70.3 M248.6 290.8 253.8 279.8 259.0 268.3 264.2 257.7 269.5 248.3 274.8 240.0 280.1 232.6 285.5 226.0 290.9 220.1 296.2 214.7 301.6 209.7 307.0 205.1 312.4 200.6 317.8 196.4 323.2 192.3 328.6 188.3 333.9 184.3 339.3 180.4 344.6 176.6 349.9 172.7 355.3 168.9 360.6 165.0 365.9 161.2 371.2 157.4 376.5 153.5 381.7 149.7 387.0 145.8 392.3 142.0 397.5 138.1 402.8 134.2 408.0 130.4 413.2 126.5 418.4 122.6 423.6 118.7 428.8 114.8 434.0 110.9 439.2 107.0 444.4 103.1 449.5 99.2 454.7 95.2 459.8 91.3 M260.7 301.2 265.9 288.8 271.1 275.1 276.3 262.5 281.6 251.4 286.9 241.8 292.3 233.7 297.7 226.6 303.1 220.5 308.5 215.1 314.0 210.3 319.4 205.8 324.8 201.6 330.3 197.6 335.7 193.8 341.1 190.0 346.5 186.3 351.9 182.7 357.3 179.0 362.6 175.4 368.0 171.7 373.3 168.1 378.7 164.4 384.0 160.7 389.3 157.0 394.6 153.3 399.9 149.6 405.2 145.8 410.5 142.1 415.7 138.3 421.0 134.5 426.3 130.7 431.5 126.9 436.7 123.1 441.9 119.2 447.2 115.4 452.4 111.5 457.6 107.7 462.7 103.8 467.9 99.9 473.1 96.0 M273.0 311.7 278.2 297.6 283.3 281.1 288.5 265.7 293.8 252.5 299.2 241.4 304.6 232.2 310.0 224.7 315.5 218.4 321.0 213.1 326.5 208.4 332.0 204.1 337.4 200.2 342.9 196.5 348.4 192.9 353.8 189.3 359.3 185.8 364.7 182.3 370.1 178.8 375.5 175.3 380.9 171.8 386.3 168.2 391.7 164.6 397.0 161.0 402.4 157.4 407.7 153.7 413.0 150.0 418.4 146.3 423.7 142.6 429.0 138.8 434.3 135.0 439.6 131.2 444.8 127.4 450.1 123.5 455.4 119.6 460.6 115.7 465.8 111.8 471.1 107.8 476.3 103.9 481.5 99.9 486.7 95.9 M285.4 322.3 290.7 307.4 295.9 290.4 301.1 275.0 306.5 262.0 311.9 251.3 317.4 242.5 322.9 235.3 328.4 229.3 333.9 224.1 339.4 219.5 344.9 215.3 350.4 211.3 355.9 207.5 361.4 203.7 366.8 200.0 372.3 196.3 377.8 192.6 383.2 188.9 388.6 185.2 394.0 181.4 399.4 177.6 404.8 173.8 410.2 169.9 415.6 166.1 421.0 162.1 426.3 158.2 431.7 154.2 437.0 150.2 442.3 146.2 447.7 142.1 453.0 138.0 458.3 133.9 463.6 129.7 468.9 125.5 474.2 121.3 479.4 117.0 484.7 112.7 490.0 108.4 495.2 104.1 500.5 99.7 M298.0 333.0 303.3 317.6 308.6 300.7 313.9 285.7 319.4 273.4 324.8 263.3 330.3 255.2 335.9 248.6 341.4 243.0 347.0 238.0 352.5 233.6 358.0 229.5 363.5 225.5 369.0 221.7 374.5 217.9 380.0 214.1 385.5 210.3 391.0 206.5 396.4 202.7 401.9 198.9 407.3 195.0 412.7 191.1 418.1 187.2 423.5 183.2 428.9 179.2 434.3 175.2 439.7 171.1 445.1 167.1 450.4 162.9 455.8 158.8 461.1 154.6 466.5 150.4 471.8 146.2 477.1 141.9 482.4 137.6 487.7 133.3 493.0 128.9 498.3 124.5 503.6 120.1 508.9 115.6 514.1 111.1 M310.8 343.9 316.2 329.1 321.5 313.4 327.0 300.0 332.5 289.2 338.0 280.6 343.5 273.7 349.1 268.1 354.7 263.2 360.2 259.0 365.8 255.1 371.3 251.3 376.8 247.8 382.3 244.3 387.8 240.8 393.3 237.4 398.8 233.9 404.3 230.5 409.7 227.0 415.2 223.6 420.6 220.1 426.0 216.6 431.4 213.2 436.8 209.7 442.2 206.2 447.6 202.7 452.9 199.2 458.3 195.7 463.6 192.2 469.0 188.7 474.3 185.2 479.6 181.7 484.9 178.3 490.2 174.8 495.4 171.3 500.7 167.9 506.0 164.4 511.2 161.0 516.4 157.5 521.6 154.1 526.9 150.7 M323.7 355.0 329.2 339.4 334.6 323.5 340.1 310.3 345.6 299.9 351.2 291.7 356.8 285.2 362.4 279.8 368.0 275.1 373.6 271.0 379.1 267.1 384.7 263.3 390.2 259.7 395.8 256.1 401.3 252.5 406.8 249.0 412.3 245.4 417.8 241.9 423.3 238.3 428.7 234.7 434.2 231.1 439.6 227.6 445.0 224.0 450.5 220.4 455.9 216.8 461.3 213.1 466.6 209.5 472.0 205.9 477.4 202.3 482.7 198.7 488.1 195.1 493.4 191.5 498.7 187.9 504.0 184.3 509.3 180.7 514.6 177.1 519.9 173.6 525.1 170.0 530.4 166.5 535.6 162.9 540.9 159.4 M336.8 366.2 342.3 349.9 347.8 334.0 353.4 321.2 359.0 311.4 364.6 303.7 370.2 297.6 375.9 292.5 381.5 288.1 387.1 284.1 392.7 280.2 398.2 276.5 403.8 272.9 409.4 269.3 414.9 265.7 420.4 262.2 425.9 258.6 431.4 255.0 436.9 251.4 442.4 247.9 447.9 244.3 453.3 240.7 458.8 237.1 464.2 233.5 469.6 230.0 475.0 226.4 480.4 222.9 485.8 219.3 491.2 215.8 496.6 212.2 501.9 208.7 507.3 205.2 512.6 201.7 517.9 198.3 523.2 194.8 528.5 191.4 533.8 188.0 539.1 184.6 544.3 181.2 549.6 177.9 554.8 174.5 M350.1 377.6 355.7 359.7 361.3 342.9 366.9 329.9 372.5 320.1 378.2 312.6 383.9 306.6 389.5 301.5 395.1 297.0 400.8 292.8 406.4 288.8 412.0 284.8 417.6 280.9 423.2 277.0 428.7 273.1 434.3 269.2 439.9 265.3 445.4 261.4 450.9 257.5 456.4 253.5 461.9 249.5 467.4 245.6 472.9 241.6 478.4 237.6 483.9 233.6 489.3 229.6 494.7 225.5 500.2 221.5 505.6 217.5 511.0 213.4 516.4 209.3 521.8 205.3 527.2 201.2 532.6 197.1 538.0 193.0 543.3 188.9 548.7 184.8 554.0 180.7 559.3 176.6 564.7 172.4 570.0 168.3 M356.9 383.3 362.4 364.7 368.0 347.7 373.7 334.8 379.4 325.1 385.1 317.8 390.7 311.9 396.4 306.9 402.1 302.3 407.7 298.1 413.3 294.0 418.9 290.0 424.6 286.0 430.1 282.0 435.7 278.1 441.3 274.1 446.9 270.0 452.4 266.0 458.0 262.0 463.5 257.9 469.0 253.8 474.5 249.8 480.0 245.7 485.5 241.6 491.0 237.4 496.5 233.3 501.9 229.2 507.4 225.0 512.8 220.8 518.2 216.6 523.7 212.5 529.1 208.2 534.5 204.0 539.9 199.8 545.3 195.6 550.7 191.3 556.0 187.0 561.4 182.7 566.7 178.5 572.1 174.1 577.4 169.8" fill="none" stroke="#0a3270" stroke-width="1.35" stroke-linejoin="round"/>
<polygon points="951.3,258.6 1160.8,171.5 1161.8,3.7 942.2,84.5" fill="#e5e5e5" stroke="#d0d0d0" stroke-width="3.0" stroke-linejoin="round"/>
<polygon points="1160.8,171.5 1329.7,285.1 1339.1,109.2 1161.8,3.7" fill="#e5e5e5" stroke="#d0d0d0" stroke-width="3.0" stroke-linejoin="round"/>
<polygon points="951.3,258.6 1113.7,386.8 1329.7,285.1 1160.8,171.5" fill="#e5e5e5" stroke="#d0d0d0" stroke-width="3.0" stroke-linejoin="round"/>
<g fill="none" stroke="#b0b0b0" stroke-width="2.6" stroke-linejoin="round">
<polyline points="954.3,261 1163.9,173.6 1165.1,5.7"/>
<polyline points="1003.6,299.9 1215.4,208.2 1219,37.8"/>
<polyline points="1055.5,340.9 1269.4,244.6 1275.7,71.5"/>
<polyline points="1110.2,384 1326.1,282.7 1335.3,106.9"/>
<polyline points="1118.3,384.7 955.7,256.7 946.8,82.8"/>
<polyline points="1161.8,364.2 997.8,239.3 991,66.6"/>
<polyline points="1204.3,344.2 1038.9,222.2 1034.1,50.7"/>
<polyline points="1245.7,324.7 1079.1,205.5 1076.3,35.2"/>
<polyline points="1286.1,305.6 1118.4,189.1 1117.4,20.1"/>
<polyline points="1325.6,287 1156.8,173.2 1157.6,5.3"/>
<polyline points="1329.9,280.6 1160.8,167.2 951,254.1"/>
<polyline points="1331.4,253.8 1161,141.6 949.7,227.6"/>
<polyline points="1332.8,226.6 1161.1,115.6 948.3,200.7"/>
<polyline points="1334.3,199 1161.3,89.3 946.8,173.4"/>
<polyline points="1335.8,171 1161.4,62.6 945.4,145.7"/>
<polyline points="1337.3,142.6 1161.6,35.5 943.9,117.5"/>
<polyline points="1338.9,113.7 1161.8,8 942.4,89"/>
</g>
<g fill="none" stroke="#000" stroke-width="3.2" stroke-linecap="square">
<polyline points="942.2,84.5 951.3,258.6 1113.7,386.8 1329.7,285.1"/>
</g>
<g fill="none" stroke="#000" stroke-width="2.6" stroke-linecap="round">
<polyline points="946.2,256.1 954.3,252.7"/>
<polyline points="944.8,229.5 952.9,226.3"/>
<polyline points="943.4,202.6 951.5,199.4"/>
<polyline points="942,175.3 950.1,172.1"/>
<polyline points="940.5,147.5 948.6,144.4"/>
<polyline points="939,119.4 947.2,116.3"/>
<polyline points="937.5,90.8 945.7,87.7"/>
<polyline points="949.5,263 957.5,259.6"/>
<polyline points="998.9,302 1006.8,298.5"/>
<polyline points="1050.8,343 1058.7,339.5"/>
<polyline points="1105.5,386.3 1113.4,382.6"/>
<polyline points="1122.4,387.9 1115.6,382.5"/>
<polyline points="1166,367.3 1159,362"/>
<polyline points="1208.5,347.3 1201.4,342.1"/>
<polyline points="1249.9,327.7 1242.8,322.6"/>
<polyline points="1290.4,308.6 1283.3,303.6"/>
<polyline points="1330,289.9 1322.7,285.1"/>
</g>
<path d="M958.5 254.6 959.7 255.6 960.9 256.5 962.1 257.5 963.3 258.4 964.5 259.4 965.8 260.3 967.0 261.3 968.2 262.2 969.4 263.2 970.6 264.1 971.9 265.1 973.1 266.0 974.3 267.0 975.5 268.0 976.8 268.9 978.0 269.9 979.2 270.9 980.5 271.8 981.7 272.8 982.9 273.8 984.2 274.7 985.4 275.7 986.6 276.7 987.9 277.7 989.1 278.6 990.4 279.6 991.6 280.6 992.9 281.6 994.1 282.5 995.4 283.5 996.6 284.5 997.9 285.5 999.1 286.5 1000.4 287.5 1001.6 288.4 1002.9 289.4 1004.2 290.4 1005.4 291.4 1006.7 292.4 1008.0 293.4 1009.2 294.4 1010.5 295.4 1011.8 296.4 1013.0 297.4 1014.3 298.4 1015.6 299.4 1016.9 300.4 1018.2 301.4 1019.4 302.4 1020.7 303.4 1022.0 304.4 1023.3 305.4 1024.6 306.4 1025.9 307.5 1027.2 308.5 1028.5 309.5 1029.7 310.5 1031.0 311.5 1032.3 312.5 1033.6 313.5 1034.9 314.6 1036.2 315.6 1037.5 316.6 1038.9 317.6 1040.2 318.7 1041.5 319.7 1042.8 320.7 1044.1 321.7 1045.4 322.8 1046.7 323.8 1048.0 324.8 1049.4 325.9 1050.7 326.9 1052.0 328.0 1053.3 329.0 1054.7 330.0 1056.0 331.1 1057.3 332.1 1058.6 333.2 1060.0 334.2 1061.3 335.3 1062.7 336.3 1064.0 337.4 1065.3 338.4 1066.7 339.5 1068.0 340.5 1069.4 341.6 1070.7 342.6 1072.1 343.7 1073.4 344.7 1074.8 345.8 1076.1 346.9 1077.5 347.9 1078.8 349.0 1080.2 350.1 1081.6 351.1 1082.9 352.2 1084.3 353.3 1085.6 354.3 1087.0 355.4 1088.4 356.5 1089.8 357.6 1091.1 358.6 1092.5 359.7 1093.9 360.8 1095.3 361.9 1096.6 363.0 1098.0 364.1 1099.4 365.1 1100.8 366.2 1102.2 367.3 1103.6 368.4 1105.0 369.5 1106.4 370.6 1107.8 371.7 1109.2 372.8 1110.6 373.9 1112.0 375.0 1113.4 376.1 1114.8 377.2 1116.2 378.3 1117.6 379.4 1119.0 380.5 1120.4 381.6 1121.8 382.7 M963.7 249.1 964.9 249.8 966.1 250.6 967.3 251.3 968.5 252.1 969.7 252.8 970.9 253.6 972.1 254.3 973.3 255.1 974.5 255.8 975.7 256.6 976.9 257.4 978.2 258.2 979.4 259.0 980.6 259.8 981.8 260.6 983.1 261.4 984.3 262.1 985.5 262.8 986.7 263.6 988.0 264.3 989.2 265.0 990.4 265.6 991.7 266.3 992.9 267.0 994.1 267.6 995.4 268.3 996.6 268.9 997.8 269.6 999.1 270.2 1000.3 270.8 1001.6 271.5 1002.8 272.1 1004.1 272.8 1005.3 273.7 1006.6 274.7 1007.9 275.7 1009.1 276.6 1010.4 277.6 1011.7 278.6 1012.9 279.6 1014.2 280.6 1015.5 281.6 1016.8 282.6 1018.0 283.5 1019.3 284.5 1020.6 285.5 1021.9 286.5 1023.2 287.5 1024.5 288.5 1025.7 289.4 1027.0 290.4 1028.3 291.4 1029.6 292.4 1030.9 293.4 1032.2 294.4 1033.5 295.3 1034.8 296.3 1036.1 297.3 1037.4 298.3 1038.7 299.2 1040.0 300.3 1041.3 301.3 1042.6 302.3 1044.0 303.3 1045.3 304.4 1046.6 305.4 1047.9 306.4 1049.2 307.5 1050.5 308.5 1051.9 309.5 1053.2 310.6 1054.5 311.6 1055.8 312.6 1057.2 313.7 1058.5 314.7 1059.8 315.7 1061.2 316.8 1062.5 317.8 1063.8 318.9 1065.2 319.9 1066.5 320.9 1067.9 322.0 1069.2 323.0 1070.5 324.1 1071.9 325.1 1073.2 326.2 1074.6 327.2 1076.0 328.3 1077.3 329.3 1078.7 330.4 1080.0 331.5 1081.4 332.5 1082.7 333.6 1084.1 334.7 1085.5 335.8 1086.8 336.9 1088.2 337.9 1089.6 339.0 1091.0 340.1 1092.3 341.2 1093.7 342.2 1095.1 343.3 1096.5 344.4 1097.8 345.5 1099.2 346.6 1100.6 347.7 1102.0 348.7 1103.4 349.8 1104.8 350.9 1106.2 352.0 1107.6 353.1 1109.0 354.2 1110.4 355.3 1111.8 356.4 1113.2 357.5 1114.6 358.6 1116.0 359.7 1117.4 360.8 1118.8 361.9 1120.2 363.1 1121.6 364.2 1123.0 365.3 1124.5 366.4 1125.9 367.5 1127.3 368.6 M968.8 243.6 970.0 244.2 971.2 244.8 972.4 245.4 973.6 246.0 974.8 246.6 976.0 247.2 977.2 247.8 978.4 248.4 979.6 249.0 980.9 249.7 982.1 250.4 983.3 251.1 984.5 251.8 985.7 252.5 987.0 253.3 988.2 253.9 989.4 254.5 990.6 255.0 991.8 255.5 993.1 256.0 994.3 256.5 995.5 257.0 996.7 257.4 998.0 257.8 999.2 258.1 1000.4 258.5 1001.7 258.8 1002.9 259.1 1004.1 259.5 1005.4 259.8 1006.6 260.1 1007.8 260.4 1009.1 260.8 1010.4 261.7 1011.6 262.6 1012.9 263.5 1014.2 264.5 1015.4 265.4 1016.7 266.4 1018.0 267.4 1019.3 268.3 1020.5 269.3 1021.8 270.2 1023.1 271.2 1024.4 272.1 1025.7 273.1 1027.0 274.0 1028.2 274.9 1029.5 275.8 1030.8 276.8 1032.1 277.7 1033.4 278.6 1034.7 279.5 1036.0 280.4 1037.3 281.3 1038.6 282.2 1039.9 283.1 1041.2 284.0 1042.5 284.9 1043.8 285.8 1045.1 286.8 1046.5 287.8 1047.8 288.8 1049.1 289.8 1050.4 290.8 1051.7 291.8 1053.1 292.8 1054.4 293.8 1055.7 294.8 1057.0 295.8 1058.4 296.8 1059.7 297.9 1061.0 298.9 1062.4 299.9 1063.7 300.9 1065.0 301.9 1066.4 302.9 1067.7 303.9 1069.1 304.9 1070.4 305.9 1071.7 306.9 1073.1 307.9 1074.4 308.9 1075.8 309.9 1077.1 310.9 1078.5 311.9 1079.9 313.0 1081.2 314.0 1082.6 315.0 1083.9 316.1 1085.3 317.1 1086.7 318.2 1088.0 319.3 1089.4 320.3 1090.8 321.4 1092.2 322.5 1093.5 323.6 1094.9 324.6 1096.3 325.7 1097.7 326.7 1099.0 327.8 1100.4 328.9 1101.8 329.9 1103.2 331.0 1104.6 332.0 1106.0 333.1 1107.4 334.2 1108.8 335.3 1110.2 336.3 1111.6 337.4 1113.0 338.5 1114.4 339.6 1115.8 340.7 1117.2 341.8 1118.6 342.9 1120.0 344.0 1121.4 345.1 1122.8 346.2 1124.2 347.3 1125.7 348.4 1127.1 349.5 1128.5 350.6 1129.9 351.7 1131.4 352.8 1132.8 353.9 M974.0 238.1 975.2 238.6 976.3 239.1 977.5 239.5 978.7 240.0 979.9 240.5 981.1 241.0 982.4 241.5 983.6 242.0 984.8 242.6 986.0 243.2 987.2 243.8 988.4 244.5 989.7 245.2 990.9 245.9 992.1 246.6 993.3 247.2 994.5 247.6 995.8 248.1 997.0 248.5 998.2 248.8 999.4 249.1 1000.7 249.4 1001.9 249.6 1003.1 249.8 1004.3 250.0 1005.6 250.1 1006.8 250.2 1008.0 250.2 1009.2 250.3 1010.5 250.5 1011.7 250.6 1012.9 250.7 1014.2 250.8 1015.5 251.7 1016.7 252.6 1018.0 253.5 1019.3 254.4 1020.6 255.4 1021.8 256.3 1023.1 257.3 1024.4 258.2 1025.7 259.2 1027.0 260.1 1028.2 261.0 1029.5 261.9 1030.8 262.8 1032.1 263.7 1033.4 264.6 1034.7 265.5 1036.0 266.4 1037.3 267.3 1038.6 268.1 1039.9 269.0 1041.2 269.8 1042.5 270.7 1043.8 271.5 1045.1 272.4 1046.4 273.2 1047.7 274.0 1049.0 274.8 1050.3 275.8 1051.7 276.7 1053.0 277.7 1054.3 278.7 1055.6 279.7 1057.0 280.7 1058.3 281.6 1059.6 282.6 1060.9 283.6 1062.3 284.6 1063.6 285.6 1064.9 286.6 1066.3 287.6 1067.6 288.5 1069.0 289.5 1070.3 290.5 1071.6 291.4 1073.0 292.4 1074.3 293.4 1075.7 294.3 1077.0 295.3 1078.4 296.3 1079.7 297.2 1081.1 298.2 1082.4 299.2 1083.8 300.2 1085.2 301.2 1086.5 302.2 1087.9 303.2 1089.3 304.2 1090.6 305.3 1092.0 306.3 1093.4 307.4 1094.8 308.5 1096.1 309.5 1097.5 310.6 1098.9 311.6 1100.3 312.7 1101.7 313.8 1103.0 314.8 1104.4 315.8 1105.8 316.9 1107.2 317.9 1108.6 318.9 1110.0 320.0 1111.4 321.0 1112.8 322.1 1114.2 323.1 1115.6 324.2 1117.0 325.3 1118.4 326.3 1119.8 327.4 1121.2 328.5 1122.6 329.6 1124.1 330.7 1125.5 331.8 1126.9 332.9 1128.3 334.0 1129.7 335.1 1131.1 336.1 1132.6 337.2 1134.0 338.3 1135.4 339.4 1136.9 340.5 1138.3 341.6 M979.1 232.6 980.3 233.0 981.5 233.4 982.7 233.8 983.9 234.2 985.1 234.6 986.3 235.0 987.5 235.5 988.7 236.0 989.9 236.5 991.1 237.0 992.4 237.6 993.6 238.3 994.8 239.0 996.0 239.7 997.3 240.5 998.5 241.0 999.7 241.4 1000.9 241.8 1002.2 242.1 1003.4 242.4 1004.6 242.6 1005.8 242.7 1007.1 242.8 1008.3 242.8 1009.5 242.8 1010.7 242.8 1011.9 242.7 1013.2 242.6 1014.4 242.5 1015.6 242.5 1016.9 242.5 1018.1 242.4 1019.4 242.5 1020.6 243.3 1021.9 244.2 1023.2 245.1 1024.5 246.0 1025.7 247.0 1027.0 248.0 1028.3 249.0 1029.6 249.9 1030.9 250.9 1032.2 251.8 1033.5 252.7 1034.7 253.6 1036.0 254.5 1037.3 255.4 1038.6 256.3 1039.9 257.2 1041.2 258.0 1042.5 258.9 1043.8 259.7 1045.1 260.5 1046.4 261.4 1047.7 262.2 1049.0 263.0 1050.4 263.7 1051.7 264.5 1053.0 265.3 1054.3 266.0 1055.6 267.0 1056.9 267.9 1058.3 268.9 1059.6 269.8 1060.9 270.8 1062.2 271.8 1063.6 272.8 1064.9 273.7 1066.2 274.7 1067.6 275.7 1068.9 276.6 1070.2 277.6 1071.6 278.6 1072.9 279.5 1074.3 280.5 1075.6 281.4 1077.0 282.3 1078.3 283.3 1079.7 284.2 1081.0 285.2 1082.4 286.1 1083.7 287.0 1085.1 287.9 1086.4 288.9 1087.8 289.9 1089.2 290.8 1090.5 291.8 1091.9 292.8 1093.3 293.8 1094.6 294.8 1096.0 295.9 1097.4 296.9 1098.8 298.0 1100.1 299.1 1101.5 300.1 1102.9 301.2 1104.3 302.2 1105.7 303.3 1107.1 304.3 1108.5 305.4 1109.8 306.4 1111.2 307.4 1112.6 308.4 1114.0 309.4 1115.4 310.4 1116.8 311.5 1118.2 312.5 1119.6 313.6 1121.0 314.6 1122.5 315.7 1123.9 316.7 1125.3 317.8 1126.7 318.9 1128.1 320.0 1129.5 321.1 1130.9 322.2 1132.4 323.3 1133.8 324.4 1135.2 325.5 1136.6 326.5 1138.1 327.6 1139.5 328.7 1140.9 329.8 1142.4 330.8 1143.8 331.9 M984.2 227.2 985.4 227.5 986.6 227.8 987.8 228.2 989.0 228.5 990.2 228.9 991.4 229.2 992.6 229.6 993.9 230.1 995.1 230.6 996.3 231.1 997.5 231.7 998.7 232.4 1000.0 233.2 1001.2 233.9 1002.4 234.7 1003.7 235.2 1004.9 235.6 1006.1 236.0 1007.4 236.3 1008.6 236.5 1009.8 236.6 1011.0 236.7 1012.2 236.7 1013.5 236.6 1014.7 236.5 1015.9 236.4 1017.1 236.1 1018.4 235.9 1019.6 235.8 1020.8 235.6 1022.1 235.5 1023.3 235.4 1024.6 235.4 1025.8 236.2 1027.1 237.1 1028.4 238.0 1029.7 239.0 1031.0 240.0 1032.3 241.0 1033.5 242.0 1034.8 243.0 1036.1 244.0 1037.4 244.9 1038.7 245.9 1040.0 246.8 1041.3 247.7 1042.6 248.6 1043.9 249.5 1045.2 250.3 1046.5 251.2 1047.8 252.1 1049.1 252.9 1050.4 253.7 1051.7 254.5 1053.0 255.3 1054.3 256.1 1055.6 256.8 1057.0 257.6 1058.3 258.3 1059.6 259.0 1060.9 260.0 1062.2 260.9 1063.6 261.8 1064.9 262.8 1066.2 263.8 1067.6 264.7 1068.9 265.7 1070.2 266.6 1071.6 267.6 1072.9 268.6 1074.2 269.5 1075.6 270.5 1076.9 271.4 1078.3 272.4 1079.6 273.3 1081.0 274.2 1082.3 275.1 1083.7 276.1 1085.0 277.0 1086.4 277.9 1087.7 278.8 1089.1 279.7 1090.5 280.6 1091.8 281.5 1093.2 282.5 1094.5 283.4 1095.9 284.4 1097.3 285.4 1098.7 286.4 1100.0 287.4 1101.4 288.5 1102.8 289.5 1104.2 290.6 1105.6 291.7 1106.9 292.7 1108.3 293.8 1109.7 294.8 1111.1 295.9 1112.5 296.9 1113.9 298.0 1115.3 299.0 1116.7 300.0 1118.1 301.0 1119.5 302.0 1120.9 303.0 1122.3 304.0 1123.7 305.1 1125.1 306.1 1126.5 307.1 1127.9 308.2 1129.3 309.2 1130.8 310.3 1132.2 311.4 1133.6 312.5 1135.0 313.6 1136.4 314.7 1137.9 315.8 1139.3 316.9 1140.7 318.0 1142.1 319.1 1143.6 320.2 1145.0 321.3 1146.4 322.3 1147.9 323.4 1149.3 324.5 M989.4 221.7 990.6 222.0 991.8 222.3 993.0 222.6 994.2 222.9 995.4 223.2 996.6 223.5 997.8 223.9 999.0 224.4 1000.2 224.9 1001.4 225.4 1002.7 226.0 1003.9 226.8 1005.1 227.6 1006.4 228.4 1007.6 229.2 1008.9 229.8 1010.1 230.2 1011.3 230.6 1012.6 230.9 1013.8 231.1 1015.0 231.2 1016.2 231.2 1017.5 231.1 1018.7 230.9 1019.9 230.8 1021.1 230.6 1022.4 230.3 1023.6 230.0 1024.8 229.7 1026.1 229.5 1027.3 229.3 1028.5 229.2 1029.8 229.2 1031.1 230.0 1032.4 231.0 1033.6 231.9 1034.9 232.9 1036.2 233.9 1037.5 235.0 1038.8 236.1 1040.1 237.1 1041.4 238.1 1042.7 239.1 1044.0 240.0 1045.3 241.0 1046.6 241.9 1047.9 242.8 1049.2 243.7 1050.5 244.6 1051.8 245.5 1053.1 246.4 1054.4 247.2 1055.7 248.0 1057.0 248.8 1058.3 249.6 1059.7 250.4 1061.0 251.2 1062.3 251.9 1063.6 252.6 1064.9 253.3 1066.2 254.2 1067.6 255.2 1068.9 256.1 1070.2 257.1 1071.6 258.0 1072.9 259.0 1074.2 259.9 1075.6 260.9 1076.9 261.9 1078.3 262.8 1079.6 263.8 1080.9 264.7 1082.3 265.7 1083.6 266.6 1085.0 267.5 1086.3 268.4 1087.7 269.3 1089.0 270.2 1090.4 271.1 1091.8 272.0 1093.1 272.9 1094.5 273.8 1095.8 274.7 1097.2 275.6 1098.6 276.6 1099.9 277.5 1101.3 278.5 1102.7 279.4 1104.1 280.4 1105.4 281.4 1106.8 282.5 1108.2 283.6 1109.6 284.7 1111.0 285.7 1112.4 286.8 1113.8 287.9 1115.1 288.9 1116.5 290.0 1117.9 291.1 1119.3 292.1 1120.7 293.1 1122.1 294.1 1123.5 295.1 1124.9 296.1 1126.3 297.1 1127.7 298.1 1129.2 299.1 1130.6 300.2 1132.0 301.2 1133.4 302.3 1134.8 303.3 1136.2 304.4 1137.6 305.5 1139.1 306.6 1140.5 307.7 1141.9 308.8 1143.3 309.9 1144.8 311.1 1146.2 312.2 1147.6 313.3 1149.1 314.3 1150.5 315.4 1152.0 316.5 1153.4 317.6 1154.8 318.6 M994.5 216.2 995.7 216.5 996.9 216.7 998.1 217.0 999.3 217.3 1000.5 217.6 1001.7 218.0 1002.9 218.3 1004.2 218.8 1005.4 219.3 1006.6 219.8 1007.8 220.5 1009.1 221.3 1010.3 222.2 1011.6 223.1 1012.8 224.0 1014.1 224.7 1015.3 225.1 1016.5 225.5 1017.8 225.8 1019.0 226.1 1020.2 226.1 1021.4 226.1 1022.7 225.9 1023.9 225.7 1025.1 225.5 1026.4 225.2 1027.6 224.9 1028.8 224.5 1030.1 224.2 1031.3 224.0 1032.5 223.8 1033.8 223.7 1035.0 223.6 1036.3 224.5 1037.6 225.5 1038.9 226.5 1040.2 227.5 1041.5 228.6 1042.8 229.7 1044.1 230.8 1045.4 231.9 1046.7 233.0 1048.0 234.0 1049.3 235.0 1050.6 236.0 1051.9 236.9 1053.2 237.9 1054.5 238.8 1055.8 239.7 1057.1 240.7 1058.4 241.5 1059.7 242.4 1061.0 243.2 1062.3 244.0 1063.7 244.8 1065.0 245.6 1066.3 246.4 1067.6 247.1 1068.9 247.8 1070.3 248.5 1071.6 249.5 1072.9 250.4 1074.2 251.3 1075.6 252.3 1076.9 253.2 1078.2 254.2 1079.6 255.1 1080.9 256.1 1082.3 257.1 1083.6 258.0 1085.0 259.0 1086.3 259.9 1087.7 260.9 1089.0 261.8 1090.4 262.7 1091.7 263.6 1093.1 264.5 1094.4 265.4 1095.8 266.3 1097.1 267.2 1098.5 268.0 1099.9 268.9 1101.2 269.8 1102.6 270.7 1104.0 271.6 1105.3 272.6 1106.7 273.5 1108.1 274.5 1109.5 275.5 1110.9 276.5 1112.2 277.6 1113.6 278.7 1115.0 279.8 1116.4 280.9 1117.8 281.9 1119.2 283.0 1120.6 284.1 1122.0 285.2 1123.4 286.2 1124.8 287.3 1126.2 288.3 1127.6 289.2 1129.0 290.2 1130.4 291.2 1131.8 292.2 1133.2 293.2 1134.6 294.3 1136.0 295.3 1137.4 296.4 1138.9 297.4 1140.3 298.5 1141.7 299.6 1143.1 300.7 1144.5 301.8 1146.0 302.9 1147.4 304.0 1148.8 305.2 1150.3 306.3 1151.7 307.4 1153.1 308.5 1154.6 309.6 1156.0 310.7 1157.4 311.8 1158.9 312.9 1160.3 313.9 M999.6 210.8 1000.8 211.0 1002.0 211.3 1003.2 211.5 1004.4 211.8 1005.7 212.1 1006.9 212.4 1008.1 212.8 1009.3 213.3 1010.5 213.8 1011.8 214.4 1013.0 215.1 1014.2 216.1 1015.5 217.0 1016.7 218.0 1018.0 219.0 1019.2 219.8 1020.5 220.2 1021.7 220.7 1023.0 221.0 1024.2 221.3 1025.4 221.3 1026.7 221.2 1027.9 221.1 1029.1 220.8 1030.4 220.6 1031.6 220.3 1032.8 219.9 1034.1 219.5 1035.3 219.2 1036.5 218.9 1037.8 218.7 1039.0 218.6 1040.3 218.6 1041.6 219.5 1042.9 220.5 1044.2 221.5 1045.5 222.6 1046.8 223.8 1048.1 224.9 1049.4 226.1 1050.7 227.3 1052.0 228.3 1053.3 229.4 1054.6 230.5 1055.9 231.5 1057.2 232.5 1058.5 233.5 1059.8 234.4 1061.1 235.4 1062.4 236.3 1063.7 237.3 1065.0 238.1 1066.4 239.0 1067.7 239.8 1069.0 240.6 1070.3 241.4 1071.6 242.2 1072.9 242.9 1074.3 243.6 1075.6 244.4 1076.9 245.3 1078.3 246.2 1079.6 247.1 1080.9 248.1 1082.3 249.0 1083.6 250.0 1084.9 251.0 1086.3 251.9 1087.6 252.9 1089.0 253.9 1090.3 254.8 1091.7 255.8 1093.0 256.7 1094.4 257.7 1095.7 258.6 1097.1 259.4 1098.4 260.3 1099.8 261.2 1101.2 262.1 1102.5 262.9 1103.9 263.8 1105.3 264.7 1106.6 265.5 1108.0 266.5 1109.4 267.4 1110.7 268.3 1112.1 269.3 1113.5 270.3 1114.9 271.3 1116.3 272.3 1117.7 273.4 1119.0 274.5 1120.4 275.6 1121.8 276.7 1123.2 277.8 1124.6 278.9 1126.0 280.0 1127.4 281.0 1128.8 282.1 1130.2 283.1 1131.6 284.1 1133.0 285.1 1134.4 286.1 1135.8 287.1 1137.2 288.1 1138.6 289.1 1140.0 290.1 1141.5 291.2 1142.9 292.2 1144.3 293.3 1145.7 294.3 1147.1 295.4 1148.6 296.6 1150.0 297.7 1151.4 298.8 1152.9 300.0 1154.3 301.1 1155.7 302.3 1157.2 303.4 1158.6 304.5 1160.0 305.6 1161.5 306.7 1162.9 307.8 1164.4 308.9 1165.8 310.0 M1004.7 205.3 1005.9 205.5 1007.2 205.8 1008.4 206.1 1009.6 206.4 1010.8 206.7 1012.0 207.0 1013.2 207.4 1014.5 207.9 1015.7 208.5 1016.9 209.1 1018.2 209.9 1019.4 210.9 1020.7 212.0 1021.9 213.0 1023.2 214.2 1024.4 215.0 1025.7 215.6 1026.9 216.0 1028.2 216.4 1029.4 216.7 1030.6 216.7 1031.9 216.7 1033.1 216.5 1034.3 216.2 1035.6 216.0 1036.8 215.6 1038.1 215.2 1039.3 214.7 1040.5 214.4 1041.8 214.2 1043.0 214.0 1044.3 213.9 1045.6 213.9 1046.8 214.8 1048.1 215.9 1049.4 217.0 1050.7 218.1 1052.0 219.3 1053.3 220.5 1054.6 221.8 1055.9 223.0 1057.2 224.1 1058.6 225.2 1059.9 226.3 1061.2 227.4 1062.5 228.4 1063.8 229.4 1065.1 230.4 1066.4 231.4 1067.7 232.4 1069.0 233.4 1070.4 234.2 1071.7 235.1 1073.0 236.0 1074.3 236.8 1075.6 237.6 1077.0 238.4 1078.3 239.2 1079.6 239.9 1080.9 240.6 1082.3 241.5 1083.6 242.5 1084.9 243.4 1086.3 244.3 1087.6 245.3 1089.0 246.3 1090.3 247.2 1091.6 248.2 1093.0 249.2 1094.3 250.1 1095.7 251.1 1097.0 252.0 1098.4 253.0 1099.7 253.9 1101.1 254.8 1102.5 255.7 1103.8 256.6 1105.2 257.4 1106.5 258.3 1107.9 259.2 1109.3 260.0 1110.6 260.9 1112.0 261.7 1113.4 262.6 1114.8 263.6 1116.1 264.5 1117.5 265.5 1118.9 266.4 1120.3 267.4 1121.7 268.5 1123.1 269.6 1124.4 270.7 1125.8 271.8 1127.2 272.9 1128.6 274.0 1130.0 275.1 1131.4 276.2 1132.8 277.3 1134.2 278.4 1135.6 279.4 1137.0 280.4 1138.4 281.4 1139.8 282.4 1141.2 283.4 1142.7 284.4 1144.1 285.4 1145.5 286.4 1146.9 287.5 1148.3 288.5 1149.7 289.6 1151.2 290.7 1152.6 291.8 1154.0 292.9 1155.4 294.1 1156.9 295.2 1158.3 296.4 1159.7 297.5 1161.2 298.7 1162.6 299.8 1164.0 300.9 1165.5 302.0 1166.9 303.1 1168.4 304.2 1169.8 305.3 1171.3 306.4 M1009.9 199.9 1011.1 200.1 1012.3 200.4 1013.5 200.6 1014.7 200.9 1015.9 201.2 1017.1 201.6 1018.4 202.0 1019.6 202.5 1020.8 203.2 1022.1 203.9 1023.3 204.7 1024.6 205.8 1025.8 207.0 1027.1 208.2 1028.4 209.4 1029.6 210.4 1030.9 211.0 1032.1 211.5 1033.4 212.0 1034.6 212.3 1035.8 212.3 1037.1 212.3 1038.3 212.0 1039.6 211.8 1040.8 211.5 1042.0 211.1 1043.3 210.7 1044.5 210.2 1045.8 209.9 1047.0 209.6 1048.3 209.4 1049.5 209.3 1050.8 209.4 1052.1 210.4 1053.4 211.5 1054.7 212.6 1056.0 213.8 1057.3 215.0 1058.6 216.3 1059.9 217.6 1061.2 218.9 1062.5 220.1 1063.8 221.3 1065.1 222.4 1066.5 223.5 1067.8 224.6 1069.1 225.6 1070.4 226.7 1071.7 227.7 1073.0 228.8 1074.3 229.7 1075.7 230.6 1077.0 231.5 1078.3 232.4 1079.6 233.3 1081.0 234.1 1082.3 234.9 1083.6 235.7 1084.9 236.4 1086.3 237.1 1087.6 238.1 1088.9 239.0 1090.3 239.9 1091.6 240.9 1092.9 241.8 1094.3 242.8 1095.6 243.8 1097.0 244.7 1098.3 245.7 1099.7 246.7 1101.0 247.6 1102.4 248.6 1103.7 249.6 1105.1 250.5 1106.5 251.4 1107.8 252.2 1109.2 253.1 1110.5 254.0 1111.9 254.8 1113.3 255.7 1114.6 256.5 1116.0 257.3 1117.4 258.2 1118.8 259.1 1120.1 260.0 1121.5 261.0 1122.9 261.9 1124.3 262.9 1125.7 263.9 1127.1 265.0 1128.4 266.1 1129.8 267.2 1131.2 268.4 1132.6 269.5 1134.0 270.6 1135.4 271.7 1136.8 272.8 1138.2 273.9 1139.6 275.0 1141.0 276.0 1142.4 277.0 1143.8 278.0 1145.2 279.0 1146.7 279.9 1148.1 280.9 1149.5 282.0 1150.9 283.0 1152.3 284.0 1153.7 285.1 1155.2 286.2 1156.6 287.2 1158.0 288.4 1159.4 289.5 1160.9 290.7 1162.3 291.9 1163.7 293.0 1165.2 294.2 1166.6 295.3 1168.0 296.5 1169.5 297.7 1170.9 298.8 1172.4 299.9 1173.8 301.0 1175.3 302.1 1176.7 303.2 M1015.0 194.4 1016.2 194.7 1017.4 194.9 1018.6 195.2 1019.8 195.5 1021.0 195.9 1022.3 196.2 1023.5 196.7 1024.7 197.2 1026.0 197.9 1027.2 198.7 1028.5 199.6 1029.7 200.8 1031.0 202.2 1032.3 203.4 1033.5 204.8 1034.8 205.9 1036.1 206.6 1037.3 207.2 1038.6 207.7 1039.8 208.0 1041.1 208.1 1042.3 208.0 1043.5 207.8 1044.8 207.5 1046.0 207.2 1047.3 206.8 1048.5 206.3 1049.8 205.8 1051.0 205.5 1052.3 205.3 1053.5 205.1 1054.8 205.0 1056.1 205.1 1057.4 206.1 1058.7 207.2 1060.0 208.4 1061.3 209.6 1062.6 211.0 1063.9 212.3 1065.2 213.7 1066.5 215.0 1067.8 216.3 1069.1 217.5 1070.4 218.7 1071.7 219.8 1073.1 221.0 1074.4 222.1 1075.7 223.1 1077.0 224.2 1078.3 225.3 1079.6 226.3 1081.0 227.2 1082.3 228.1 1083.6 229.1 1084.9 229.9 1086.3 230.8 1087.6 231.6 1088.9 232.4 1090.2 233.1 1091.6 233.9 1092.9 234.8 1094.3 235.7 1095.6 236.6 1096.9 237.6 1098.3 238.5 1099.6 239.5 1101.0 240.5 1102.3 241.5 1103.7 242.4 1105.0 243.4 1106.4 244.4 1107.7 245.3 1109.1 246.3 1110.4 247.2 1111.8 248.1 1113.2 248.9 1114.5 249.8 1115.9 250.6 1117.3 251.5 1118.6 252.3 1120.0 253.2 1121.4 254.0 1122.8 254.8 1124.1 255.7 1125.5 256.7 1126.9 257.6 1128.3 258.6 1129.7 259.5 1131.0 260.6 1132.4 261.6 1133.8 262.8 1135.2 263.9 1136.6 265.1 1138.0 266.2 1139.4 267.3 1140.8 268.4 1142.2 269.5 1143.6 270.6 1145.0 271.7 1146.4 272.8 1147.8 273.8 1149.2 274.7 1150.6 275.7 1152.1 276.7 1153.5 277.7 1154.9 278.7 1156.3 279.7 1157.7 280.8 1159.1 281.8 1160.6 282.9 1162.0 284.0 1163.4 285.1 1164.9 286.3 1166.3 287.5 1167.7 288.6 1169.2 289.8 1170.6 291.0 1172.0 292.2 1173.5 293.4 1174.9 294.5 1176.4 295.6 1177.8 296.7 1179.2 297.8 1180.7 298.9 1182.1 300.0 M1020.1 189.0 1021.3 189.2 1022.5 189.5 1023.7 189.8 1024.9 190.2 1026.2 190.5 1027.4 190.9 1028.6 191.4 1029.9 192.0 1031.1 192.7 1032.4 193.6 1033.6 194.6 1034.9 195.9 1036.2 197.4 1037.4 198.8 1038.7 200.3 1040.0 201.4 1041.2 202.2 1042.5 202.9 1043.7 203.5 1045.0 203.8 1046.2 203.9 1047.5 203.9 1048.7 203.6 1050.0 203.3 1051.2 203.1 1052.5 202.6 1053.7 202.1 1055.0 201.6 1056.2 201.2 1057.5 201.0 1058.8 200.8 1060.0 200.8 1061.3 200.9 1062.6 202.0 1063.9 203.1 1065.2 204.4 1066.5 205.6 1067.8 207.0 1069.1 208.4 1070.4 209.9 1071.8 211.3 1073.1 212.6 1074.4 213.8 1075.7 215.1 1077.0 216.3 1078.3 217.4 1079.6 218.6 1081.0 219.7 1082.3 220.8 1083.6 221.9 1084.9 223.0 1086.3 223.9 1087.6 224.9 1088.9 225.8 1090.2 226.7 1091.6 227.6 1092.9 228.4 1094.2 229.2 1095.6 230.0 1096.9 230.7 1098.2 231.6 1099.6 232.5 1100.9 233.5 1102.2 234.4 1103.6 235.4 1104.9 236.3 1106.3 237.3 1107.6 238.3 1109.0 239.3 1110.3 240.2 1111.7 241.2 1113.1 242.2 1114.4 243.1 1115.8 244.0 1117.1 244.9 1118.5 245.8 1119.9 246.6 1121.2 247.4 1122.6 248.3 1124.0 249.1 1125.3 249.9 1126.7 250.7 1128.1 251.6 1129.5 252.5 1130.9 253.4 1132.2 254.3 1133.6 255.3 1135.0 256.3 1136.4 257.3 1137.8 258.4 1139.2 259.5 1140.6 260.7 1142.0 261.8 1143.4 263.0 1144.8 264.1 1146.2 265.2 1147.6 266.4 1149.0 267.5 1150.4 268.6 1151.8 269.6 1153.2 270.6 1154.6 271.6 1156.0 272.5 1157.4 273.5 1158.9 274.5 1160.3 275.5 1161.7 276.5 1163.1 277.6 1164.5 278.6 1166.0 279.7 1167.4 280.8 1168.8 281.9 1170.3 283.1 1171.7 284.3 1173.1 285.5 1174.6 286.7 1176.0 287.9 1177.4 289.1 1178.9 290.3 1180.3 291.4 1181.8 292.6 1183.2 293.7 1184.7 294.8 1186.1 295.9 1187.6 297.0 M1025.2 183.6 1026.4 183.8 1027.6 184.1 1028.8 184.4 1030.0 184.8 1031.3 185.2 1032.5 185.6 1033.8 186.1 1035.0 186.8 1036.2 187.6 1037.5 188.5 1038.8 189.6 1040.0 191.1 1041.3 192.6 1042.6 194.2 1043.9 195.8 1045.1 197.1 1046.4 198.0 1047.7 198.7 1048.9 199.4 1050.2 199.8 1051.4 199.9 1052.7 199.8 1053.9 199.6 1055.2 199.3 1056.4 199.0 1057.7 198.5 1058.9 198.0 1060.2 197.4 1061.4 197.1 1062.7 196.9 1064.0 196.7 1065.3 196.6 1066.5 196.8 1067.8 197.9 1069.1 199.1 1070.4 200.4 1071.8 201.7 1073.1 203.1 1074.4 204.6 1075.7 206.2 1077.0 207.6 1078.3 208.9 1079.6 210.3 1081.0 211.5 1082.3 212.8 1083.6 214.0 1084.9 215.2 1086.2 216.4 1087.6 217.5 1088.9 218.6 1090.2 219.7 1091.5 220.7 1092.9 221.7 1094.2 222.6 1095.5 223.6 1096.8 224.5 1098.2 225.3 1099.5 226.1 1100.8 226.9 1102.2 227.6 1103.5 228.5 1104.9 229.4 1106.2 230.4 1107.6 231.3 1108.9 232.3 1110.2 233.2 1111.6 234.2 1112.9 235.2 1114.3 236.2 1115.7 237.1 1117.0 238.1 1118.4 239.1 1119.7 240.0 1121.1 240.9 1122.5 241.8 1123.8 242.6 1125.2 243.5 1126.6 244.3 1127.9 245.1 1129.3 246.0 1130.7 246.7 1132.1 247.5 1133.4 248.4 1134.8 249.3 1136.2 250.2 1137.6 251.1 1139.0 252.0 1140.4 253.0 1141.7 254.1 1143.1 255.2 1144.5 256.3 1145.9 257.5 1147.3 258.7 1148.7 259.8 1150.1 261.0 1151.5 262.1 1152.9 263.2 1154.3 264.4 1155.7 265.5 1157.1 266.5 1158.6 267.5 1160.0 268.4 1161.4 269.4 1162.8 270.3 1164.2 271.3 1165.6 272.4 1167.1 273.4 1168.5 274.4 1169.9 275.5 1171.3 276.6 1172.8 277.7 1174.2 278.8 1175.6 280.0 1177.1 281.2 1178.5 282.4 1179.9 283.6 1181.4 284.8 1182.8 286.1 1184.3 287.3 1185.7 288.4 1187.2 289.6 1188.6 290.7 1190.1 291.8 1191.5 292.9 1193.0 294.0 M1030.2 178.1 1031.5 178.4 1032.7 178.7 1033.9 179.1 1035.2 179.5 1036.4 179.9 1037.6 180.3 1038.9 180.8 1040.1 181.6 1041.4 182.5 1042.6 183.5 1043.9 184.7 1045.2 186.3 1046.5 188.0 1047.7 189.6 1049.0 191.4 1050.3 192.8 1051.6 193.8 1052.8 194.6 1054.1 195.3 1055.4 195.8 1056.6 195.9 1057.9 195.8 1059.1 195.6 1060.4 195.3 1061.6 195.0 1062.9 194.5 1064.1 193.9 1065.4 193.3 1066.7 193.0 1067.9 192.8 1069.2 192.6 1070.5 192.6 1071.8 192.8 1073.1 193.9 1074.4 195.2 1075.7 196.5 1077.0 197.8 1078.3 199.3 1079.6 200.9 1080.9 202.5 1082.3 204.0 1083.6 205.4 1084.9 206.8 1086.2 208.1 1087.5 209.4 1088.9 210.6 1090.2 211.9 1091.5 213.1 1092.8 214.3 1094.1 215.4 1095.5 216.5 1096.8 217.6 1098.1 218.6 1099.5 219.5 1100.8 220.5 1102.1 221.4 1103.5 222.2 1104.8 223.0 1106.1 223.8 1107.5 224.6 1108.8 225.5 1110.1 226.4 1111.5 227.3 1112.8 228.3 1114.2 229.2 1115.5 230.2 1116.9 231.2 1118.2 232.1 1119.6 233.1 1121.0 234.1 1122.3 235.1 1123.7 236.0 1125.0 237.0 1126.4 237.9 1127.8 238.7 1129.1 239.6 1130.5 240.4 1131.9 241.2 1133.2 242.0 1134.6 242.8 1136.0 243.6 1137.4 244.4 1138.8 245.2 1140.1 246.1 1141.5 247.0 1142.9 247.9 1144.3 248.9 1145.7 249.8 1147.1 250.9 1148.5 252.0 1149.9 253.2 1151.3 254.4 1152.7 255.5 1154.1 256.7 1155.5 257.8 1156.9 259.0 1158.3 260.1 1159.7 261.3 1161.1 262.4 1162.5 263.4 1163.9 264.4 1165.3 265.3 1166.7 266.3 1168.2 267.2 1169.6 268.2 1171.0 269.2 1172.4 270.3 1173.9 271.3 1175.3 272.4 1176.7 273.4 1178.1 274.5 1179.6 275.7 1181.0 276.9 1182.4 278.1 1183.9 279.4 1185.3 280.6 1186.8 281.8 1188.2 283.0 1189.6 284.2 1191.1 285.4 1192.5 286.6 1194.0 287.7 1195.4 288.8 1196.9 289.9 1198.3 291.0 M1035.3 172.7 1036.6 173.0 1037.8 173.4 1039.0 173.7 1040.3 174.1 1041.5 174.6 1042.7 175.0 1044.0 175.6 1045.2 176.4 1046.5 177.4 1047.8 178.4 1049.0 179.8 1050.3 181.5 1051.6 183.3 1052.9 185.1 1054.2 187.1 1055.5 188.6 1056.7 189.7 1058.0 190.6 1059.3 191.3 1060.5 191.8 1061.8 192.0 1063.0 191.9 1064.3 191.7 1065.6 191.4 1066.8 191.0 1068.1 190.5 1069.3 189.9 1070.6 189.3 1071.9 188.9 1073.1 188.7 1074.4 188.5 1075.7 188.5 1077.0 188.8 1078.3 189.9 1079.6 191.2 1080.9 192.6 1082.2 194.0 1083.5 195.6 1084.8 197.2 1086.2 198.9 1087.5 200.4 1088.8 201.9 1090.1 203.3 1091.4 204.7 1092.8 206.0 1094.1 207.3 1095.4 208.6 1096.7 209.8 1098.1 211.1 1099.4 212.3 1100.7 213.4 1102.1 214.5 1103.4 215.5 1104.7 216.5 1106.0 217.4 1107.4 218.4 1108.7 219.2 1110.1 220.0 1111.4 220.8 1112.7 221.6 1114.1 222.5 1115.4 223.4 1116.8 224.3 1118.1 225.2 1119.5 226.2 1120.8 227.2 1122.2 228.1 1123.5 229.1 1124.9 230.1 1126.2 231.1 1127.6 232.0 1129.0 233.0 1130.3 233.9 1131.7 234.8 1133.1 235.7 1134.4 236.5 1135.8 237.3 1137.2 238.1 1138.5 238.9 1139.9 239.7 1141.3 240.5 1142.7 241.2 1144.1 242.0 1145.5 242.9 1146.8 243.8 1148.2 244.7 1149.6 245.7 1151.0 246.6 1152.4 247.7 1153.8 248.8 1155.2 250.0 1156.6 251.2 1158.0 252.4 1159.4 253.6 1160.8 254.7 1162.2 255.9 1163.6 257.1 1165.0 258.2 1166.4 259.3 1167.8 260.3 1169.2 261.3 1170.7 262.3 1172.1 263.2 1173.5 264.1 1174.9 265.1 1176.3 266.1 1177.8 267.2 1179.2 268.2 1180.6 269.3 1182.1 270.3 1183.5 271.4 1184.9 272.6 1186.4 273.8 1187.8 275.1 1189.2 276.3 1190.7 277.5 1192.1 278.8 1193.6 280.0 1195.0 281.2 1196.4 282.4 1197.9 283.6 1199.3 284.7 1200.8 285.8 1202.3 287.0 1203.7 288.1 M1040.4 167.3 1041.6 167.6 1042.9 168.0 1044.1 168.4 1045.4 168.8 1046.6 169.3 1047.8 169.8 1049.1 170.4 1050.3 171.3 1051.6 172.3 1052.9 173.5 1054.2 174.9 1055.4 176.7 1056.7 178.7 1058.0 180.7 1059.3 182.8 1060.6 184.4 1061.9 185.6 1063.1 186.6 1064.4 187.4 1065.7 188.0 1067.0 188.2 1068.2 188.1 1069.5 187.8 1070.7 187.5 1072.0 187.1 1073.3 186.6 1074.5 185.9 1075.8 185.3 1077.0 184.9 1078.3 184.7 1079.6 184.5 1080.9 184.5 1082.2 184.8 1083.5 186.0 1084.8 187.3 1086.1 188.8 1087.4 190.2 1088.7 191.8 1090.1 193.6 1091.4 195.3 1092.7 196.9 1094.0 198.4 1095.4 199.9 1096.7 201.3 1098.0 202.7 1099.3 204.0 1100.6 205.3 1102.0 206.6 1103.3 207.9 1104.6 209.1 1106.0 210.3 1107.3 211.4 1108.6 212.4 1110.0 213.4 1111.3 214.4 1112.6 215.4 1114.0 216.3 1115.3 217.1 1116.6 217.9 1118.0 218.6 1119.3 219.5 1120.7 220.4 1122.0 221.3 1123.4 222.3 1124.7 223.2 1126.1 224.2 1127.4 225.2 1128.8 226.1 1130.2 227.1 1131.5 228.1 1132.9 229.0 1134.2 230.0 1135.6 230.9 1137.0 231.8 1138.3 232.7 1139.7 233.5 1141.1 234.3 1142.5 235.1 1143.8 235.9 1145.2 236.6 1146.6 237.4 1148.0 238.1 1149.4 238.9 1150.7 239.7 1152.1 240.6 1153.5 241.5 1154.9 242.5 1156.3 243.5 1157.7 244.5 1159.1 245.6 1160.5 246.8 1161.9 248.1 1163.3 249.3 1164.7 250.4 1166.1 251.6 1167.5 252.8 1168.9 254.0 1170.3 255.1 1171.7 256.2 1173.2 257.3 1174.6 258.2 1176.0 259.2 1177.4 260.1 1178.8 261.0 1180.3 262.0 1181.7 263.0 1183.1 264.0 1184.5 265.1 1186.0 266.1 1187.4 267.2 1188.8 268.3 1190.3 269.5 1191.7 270.7 1193.1 272.0 1194.6 273.2 1196.0 274.5 1197.5 275.7 1198.9 277.0 1200.3 278.2 1201.8 279.4 1203.2 280.6 1204.7 281.7 1206.1 282.9 1207.6 284.0 1209.1 285.1 M1045.5 161.9 1046.7 162.2 1048.0 162.6 1049.2 163.0 1050.4 163.5 1051.7 164.0 1052.9 164.5 1054.2 165.2 1055.5 166.1 1056.7 167.3 1058.0 168.5 1059.3 170.0 1060.6 172.0 1061.9 174.2 1063.1 176.3 1064.4 178.5 1065.7 180.3 1067.0 181.6 1068.3 182.6 1069.6 183.6 1070.8 184.2 1072.1 184.4 1073.4 184.3 1074.6 184.0 1075.9 183.6 1077.2 183.3 1078.4 182.7 1079.7 182.0 1081.0 181.4 1082.2 181.0 1083.5 180.7 1084.8 180.6 1086.1 180.6 1087.4 180.9 1088.7 182.1 1090.0 183.5 1091.3 184.9 1092.6 186.5 1093.9 188.1 1095.3 189.9 1096.6 191.7 1097.9 193.4 1099.2 195.0 1100.6 196.5 1101.9 198.0 1103.2 199.4 1104.5 200.8 1105.9 202.1 1107.2 203.5 1108.5 204.8 1109.9 206.0 1111.2 207.2 1112.5 208.3 1113.9 209.4 1115.2 210.4 1116.5 211.5 1117.9 212.4 1119.2 213.3 1120.5 214.1 1121.9 214.9 1123.2 215.7 1124.6 216.6 1125.9 217.5 1127.3 218.4 1128.6 219.3 1130.0 220.2 1131.3 221.2 1132.7 222.2 1134.1 223.2 1135.4 224.1 1136.8 225.1 1138.1 226.1 1139.5 227.0 1140.9 228.0 1142.2 228.8 1143.6 229.7 1145.0 230.5 1146.4 231.2 1147.7 232.0 1149.1 232.8 1150.5 233.5 1151.9 234.2 1153.3 235.0 1154.6 235.7 1156.0 236.6 1157.4 237.5 1158.8 238.4 1160.2 239.3 1161.6 240.3 1163.0 241.3 1164.4 242.5 1165.8 243.7 1167.2 244.9 1168.6 246.1 1170.0 247.3 1171.4 248.5 1172.8 249.7 1174.2 250.9 1175.6 252.1 1177.0 253.2 1178.5 254.2 1179.9 255.2 1181.3 256.1 1182.7 257.0 1184.1 257.9 1185.6 258.9 1187.0 259.9 1188.4 260.9 1189.9 261.9 1191.3 263.0 1192.7 264.1 1194.2 265.2 1195.6 266.4 1197.0 267.6 1198.5 268.9 1199.9 270.2 1201.3 271.4 1202.8 272.7 1204.2 274.0 1205.7 275.2 1207.1 276.5 1208.6 277.6 1210.0 278.8 1211.5 279.9 1212.9 281.0 1214.4 282.1 M1050.5 156.5 1051.8 156.8 1053.0 157.3 1054.3 157.7 1055.5 158.2 1056.8 158.8 1058.0 159.3 1059.3 160.1 1060.6 161.0 1061.8 162.2 1063.1 163.6 1064.4 165.2 1065.7 167.3 1067.0 169.6 1068.3 171.9 1069.6 174.3 1070.9 176.2 1072.1 177.6 1073.4 178.8 1074.7 179.7 1076.0 180.4 1077.3 180.6 1078.5 180.5 1079.8 180.2 1081.0 179.9 1082.3 179.5 1083.6 178.9 1084.9 178.1 1086.1 177.4 1087.4 177.0 1088.7 176.8 1090.0 176.6 1091.3 176.6 1092.6 177.0 1093.9 178.2 1095.2 179.6 1096.5 181.1 1097.8 182.7 1099.1 184.5 1100.5 186.3 1101.8 188.2 1103.1 189.9 1104.4 191.5 1105.8 193.1 1107.1 194.6 1108.4 196.1 1109.7 197.6 1111.1 198.9 1112.4 200.3 1113.7 201.7 1115.1 203.0 1116.4 204.2 1117.7 205.3 1119.1 206.4 1120.4 207.5 1121.7 208.5 1123.1 209.5 1124.4 210.4 1125.8 211.2 1127.1 212.0 1128.5 212.8 1129.8 213.6 1131.2 214.5 1132.5 215.4 1133.9 216.3 1135.2 217.3 1136.6 218.3 1137.9 219.2 1139.3 220.2 1140.7 221.2 1142.0 222.1 1143.4 223.1 1144.7 224.0 1146.1 225.0 1147.5 225.9 1148.9 226.7 1150.2 227.5 1151.6 228.2 1153.0 229.0 1154.4 229.7 1155.8 230.4 1157.1 231.1 1158.5 231.8 1159.9 232.6 1161.3 233.4 1162.7 234.3 1164.1 235.2 1165.5 236.1 1166.9 237.1 1168.3 238.1 1169.7 239.3 1171.1 240.5 1172.5 241.8 1173.9 243.0 1175.3 244.2 1176.7 245.4 1178.1 246.6 1179.5 247.8 1180.9 249.0 1182.3 250.1 1183.7 251.1 1185.2 252.1 1186.6 253.0 1188.0 253.9 1189.4 254.8 1190.9 255.7 1192.3 256.8 1193.7 257.8 1195.2 258.8 1196.6 259.9 1198.0 260.9 1199.5 262.0 1200.9 263.2 1202.3 264.5 1203.8 265.8 1205.2 267.1 1206.7 268.4 1208.1 269.6 1209.5 271.0 1211.0 272.2 1212.4 273.5 1213.9 274.6 1215.3 275.8 1216.8 276.9 1218.3 278.0 1219.7 279.2 M1055.6 151.1 1056.9 151.5 1058.1 151.9 1059.4 152.4 1060.6 152.9 1061.9 153.5 1063.1 154.1 1064.4 154.9 1065.6 155.9 1066.9 157.2 1068.2 158.6 1069.5 160.4 1070.8 162.7 1072.1 165.1 1073.4 167.5 1074.7 170.1 1076.0 172.2 1077.3 173.6 1078.6 174.9 1079.8 176.0 1081.1 176.6 1082.4 176.9 1083.7 176.8 1084.9 176.5 1086.2 176.1 1087.5 175.7 1088.7 175.1 1090.0 174.3 1091.3 173.5 1092.6 173.1 1093.9 172.9 1095.1 172.7 1096.4 172.7 1097.7 173.1 1099.1 174.3 1100.4 175.8 1101.7 177.4 1103.0 179.0 1104.3 180.8 1105.7 182.7 1107.0 184.6 1108.3 186.5 1109.6 188.1 1111.0 189.8 1112.3 191.3 1113.6 192.9 1114.9 194.3 1116.3 195.8 1117.6 197.2 1118.9 198.6 1120.3 199.9 1121.6 201.2 1122.9 202.3 1124.3 203.4 1125.6 204.5 1127.0 205.6 1128.3 206.6 1129.6 207.5 1131.0 208.3 1132.3 209.1 1133.7 209.9 1135.0 210.7 1136.4 211.6 1137.7 212.5 1139.1 213.4 1140.4 214.4 1141.8 215.3 1143.2 216.3 1144.5 217.3 1145.9 218.2 1147.2 219.2 1148.6 220.1 1150.0 221.1 1151.4 222.0 1152.7 222.9 1154.1 223.7 1155.5 224.5 1156.9 225.2 1158.2 225.9 1159.6 226.7 1161.0 227.4 1162.4 228.0 1163.8 228.7 1165.2 229.4 1166.6 230.2 1168.0 231.1 1169.4 232.0 1170.7 232.9 1172.1 233.9 1173.5 234.9 1174.9 236.1 1176.3 237.4 1177.7 238.6 1179.1 239.9 1180.6 241.1 1182.0 242.3 1183.4 243.5 1184.8 244.7 1186.2 245.9 1187.6 247.0 1189.0 248.1 1190.4 249.0 1191.9 249.9 1193.3 250.8 1194.7 251.7 1196.2 252.6 1197.6 253.6 1199.0 254.6 1200.5 255.7 1201.9 256.7 1203.3 257.8 1204.8 258.9 1206.2 260.1 1207.6 261.4 1209.1 262.7 1210.5 264.0 1212.0 265.3 1213.4 266.6 1214.8 267.9 1216.3 269.2 1217.7 270.5 1219.2 271.6 1220.7 272.8 1222.1 273.9 1223.6 275.1 1225.0 276.2 M1060.7 145.7 1061.9 146.1 1063.2 146.6 1064.4 147.1 1065.7 147.7 1066.9 148.3 1068.2 148.9 1069.5 149.7 1070.7 150.9 1072.0 152.2 1073.3 153.7 1074.6 155.6 1075.9 158.0 1077.2 160.7 1078.5 163.2 1079.8 165.9 1081.1 168.2 1082.4 169.7 1083.7 171.1 1085.0 172.2 1086.2 173.0 1087.5 173.2 1088.8 173.1 1090.1 172.8 1091.3 172.4 1092.6 172.0 1093.9 171.3 1095.2 170.5 1096.4 169.7 1097.7 169.2 1099.0 168.9 1100.3 168.8 1101.6 168.8 1102.9 169.2 1104.2 170.5 1105.5 172.0 1106.9 173.6 1108.2 175.3 1109.5 177.1 1110.8 179.1 1112.2 181.1 1113.5 183.0 1114.8 184.7 1116.1 186.4 1117.5 188.1 1118.8 189.6 1120.1 191.2 1121.5 192.6 1122.8 194.1 1124.1 195.5 1125.5 196.9 1126.8 198.2 1128.1 199.4 1129.5 200.5 1130.8 201.6 1132.1 202.7 1133.5 203.7 1134.8 204.6 1136.2 205.4 1137.5 206.2 1138.9 207.0 1140.2 207.9 1141.6 208.7 1142.9 209.6 1144.3 210.5 1145.7 211.5 1147.0 212.4 1148.4 213.4 1149.7 214.3 1151.1 215.3 1152.5 216.3 1153.8 217.2 1155.2 218.2 1156.6 219.1 1158.0 219.9 1159.3 220.7 1160.7 221.5 1162.1 222.2 1163.5 222.9 1164.9 223.6 1166.2 224.3 1167.6 224.9 1169.0 225.6 1170.4 226.3 1171.8 227.1 1173.2 227.9 1174.6 228.8 1176.0 229.7 1177.4 230.7 1178.8 231.7 1180.2 232.9 1181.6 234.2 1183.0 235.5 1184.4 236.7 1185.8 238.0 1187.2 239.2 1188.6 240.4 1190.0 241.7 1191.5 242.8 1192.9 244.0 1194.3 245.0 1195.7 245.9 1197.1 246.8 1198.6 247.7 1200.0 248.5 1201.4 249.5 1202.9 250.5 1204.3 251.5 1205.7 252.5 1207.2 253.5 1208.6 254.6 1210.0 255.7 1211.5 257.0 1212.9 258.3 1214.4 259.6 1215.8 260.9 1217.2 262.2 1218.7 263.6 1220.1 264.9 1221.6 266.2 1223.0 267.5 1224.5 268.6 1225.9 269.8 1227.4 271.0 1228.9 272.1 1230.3 273.2 M1065.7 140.3 1067.0 140.7 1068.2 141.2 1069.5 141.8 1070.7 142.4 1072.0 143.0 1073.3 143.7 1074.5 144.6 1075.8 145.8 1077.1 147.2 1078.4 148.8 1079.7 150.8 1081.0 153.4 1082.3 156.2 1083.6 158.9 1084.9 161.8 1086.2 164.2 1087.5 165.9 1088.8 167.3 1090.1 168.5 1091.3 169.3 1092.6 169.6 1093.9 169.5 1095.2 169.2 1096.5 168.7 1097.7 168.3 1099.0 167.5 1100.3 166.6 1101.6 165.8 1102.9 165.3 1104.2 165.0 1105.5 164.9 1106.8 164.9 1108.1 165.3 1109.4 166.6 1110.7 168.2 1112.0 169.8 1113.3 171.6 1114.7 173.5 1116.0 175.6 1117.3 177.6 1118.6 179.6 1120.0 181.4 1121.3 183.1 1122.6 184.8 1124.0 186.4 1125.3 188.0 1126.6 189.5 1128.0 191.0 1129.3 192.5 1130.6 193.9 1132.0 195.2 1133.3 196.4 1134.6 197.6 1136.0 198.7 1137.3 199.8 1138.7 200.8 1140.0 201.7 1141.4 202.6 1142.7 203.4 1144.1 204.1 1145.4 205.0 1146.8 205.8 1148.1 206.7 1149.5 207.6 1150.8 208.6 1152.2 209.5 1153.6 210.5 1154.9 211.4 1156.3 212.4 1157.7 213.3 1159.0 214.3 1160.4 215.2 1161.8 216.2 1163.2 217.0 1164.5 217.8 1165.9 218.5 1167.3 219.2 1168.7 219.9 1170.1 220.6 1171.5 221.2 1172.9 221.8 1174.2 222.5 1175.6 223.1 1177.0 223.9 1178.4 224.8 1179.8 225.6 1181.2 226.5 1182.6 227.5 1184.0 228.5 1185.4 229.7 1186.8 231.0 1188.2 232.3 1189.7 233.6 1191.1 234.8 1192.5 236.1 1193.9 237.3 1195.3 238.6 1196.7 239.8 1198.1 240.9 1199.5 241.9 1201.0 242.9 1202.4 243.7 1203.8 244.5 1205.3 245.4 1206.7 246.3 1208.1 247.3 1209.6 248.3 1211.0 249.4 1212.4 250.4 1213.9 251.4 1215.3 252.6 1216.8 253.8 1218.2 255.1 1219.6 256.5 1221.1 257.8 1222.5 259.2 1224.0 260.5 1225.4 261.9 1226.9 263.2 1228.3 264.5 1229.8 265.7 1231.2 266.8 1232.7 268.0 1234.1 269.1 1235.6 270.2 M1070.8 134.9 1072.0 135.4 1073.3 135.9 1074.5 136.5 1075.8 137.1 1077.1 137.8 1078.3 138.5 1079.6 139.4 1080.9 140.7 1082.2 142.2 1083.5 143.9 1084.8 146.0 1086.1 148.8 1087.4 151.8 1088.7 154.6 1090.0 157.7 1091.3 160.3 1092.6 162.0 1093.9 163.6 1095.2 164.8 1096.4 165.7 1097.7 166.0 1099.0 165.9 1100.3 165.5 1101.6 165.0 1102.9 164.6 1104.1 163.8 1105.4 162.9 1106.7 162.0 1108.0 161.5 1109.3 161.2 1110.6 161.0 1111.9 161.0 1113.2 161.4 1114.5 162.8 1115.8 164.4 1117.2 166.1 1118.5 167.9 1119.8 169.9 1121.1 172.0 1122.5 174.2 1123.8 176.2 1125.1 178.0 1126.5 179.8 1127.8 181.6 1129.1 183.2 1130.5 184.9 1131.8 186.4 1133.1 188.0 1134.5 189.5 1135.8 190.9 1137.1 192.3 1138.5 193.5 1139.8 194.7 1141.2 195.8 1142.5 196.9 1143.8 198.0 1145.2 198.9 1146.5 199.8 1147.9 200.5 1149.2 201.3 1150.6 202.1 1152.0 203.0 1153.3 203.9 1154.7 204.7 1156.0 205.7 1157.4 206.6 1158.8 207.6 1160.1 208.5 1161.5 209.5 1162.9 210.4 1164.2 211.4 1165.6 212.3 1167.0 213.2 1168.4 214.1 1169.7 214.8 1171.1 215.5 1172.5 216.2 1173.9 216.9 1175.3 217.5 1176.7 218.2 1178.1 218.8 1179.5 219.3 1180.9 220.0 1182.3 220.7 1183.7 221.6 1185.1 222.4 1186.5 223.3 1187.9 224.3 1189.3 225.3 1190.7 226.5 1192.1 227.8 1193.5 229.2 1194.9 230.5 1196.3 231.7 1197.7 233.0 1199.1 234.2 1200.5 235.5 1201.9 236.7 1203.4 237.8 1204.8 238.9 1206.2 239.8 1207.6 240.6 1209.1 241.4 1210.5 242.3 1211.9 243.2 1213.4 244.2 1214.8 245.2 1216.2 246.2 1217.7 247.2 1219.1 248.3 1220.6 249.4 1222.0 250.7 1223.5 252.0 1224.9 253.4 1226.3 254.7 1227.8 256.1 1229.2 257.5 1230.7 258.9 1232.1 260.2 1233.6 261.5 1235.0 262.7 1236.5 263.9 1237.9 265.0 1239.4 266.2 1240.9 267.3 M1075.8 129.6 1077.1 130.0 1078.3 130.6 1079.6 131.2 1080.9 131.9 1082.1 132.6 1083.4 133.3 1084.7 134.3 1086.0 135.6 1087.2 137.3 1088.5 139.1 1089.8 141.3 1091.1 144.2 1092.4 147.4 1093.8 150.4 1095.1 153.6 1096.4 156.4 1097.7 158.2 1099.0 159.9 1100.3 161.2 1101.5 162.1 1102.8 162.4 1104.1 162.3 1105.4 161.9 1106.7 161.4 1108.0 160.9 1109.2 160.1 1110.5 159.1 1111.8 158.2 1113.1 157.6 1114.4 157.3 1115.7 157.1 1117.0 157.1 1118.3 157.6 1119.7 158.9 1121.0 160.6 1122.3 162.4 1123.6 164.2 1125.0 166.3 1126.3 168.5 1127.6 170.7 1128.9 172.8 1130.3 174.7 1131.6 176.5 1132.9 178.3 1134.3 180.1 1135.6 181.7 1136.9 183.3 1138.3 184.9 1139.6 186.5 1140.9 188.0 1142.3 189.4 1143.6 190.6 1145.0 191.8 1146.3 193.0 1147.6 194.1 1149.0 195.2 1150.3 196.1 1151.7 197.0 1153.0 197.7 1154.4 198.5 1155.8 199.3 1157.1 200.2 1158.5 201.0 1159.8 201.9 1161.2 202.8 1162.6 203.8 1163.9 204.7 1165.3 205.7 1166.7 206.6 1168.0 207.6 1169.4 208.5 1170.8 209.4 1172.2 210.3 1173.5 211.2 1174.9 211.9 1176.3 212.6 1177.7 213.2 1179.1 213.8 1180.5 214.5 1181.9 215.1 1183.3 215.7 1184.7 216.2 1186.1 216.8 1187.5 217.6 1188.9 218.4 1190.3 219.2 1191.7 220.1 1193.1 221.1 1194.5 222.1 1195.9 223.3 1197.3 224.7 1198.7 226.0 1200.1 227.3 1201.5 228.6 1202.9 229.9 1204.3 231.2 1205.7 232.4 1207.2 233.6 1208.6 234.8 1210.0 235.8 1211.4 236.7 1212.9 237.5 1214.3 238.3 1215.7 239.1 1217.2 240.0 1218.6 241.0 1220.0 242.0 1221.5 243.0 1222.9 244.0 1224.4 245.1 1225.8 246.2 1227.3 247.5 1228.7 248.9 1230.1 250.3 1231.6 251.6 1233.0 253.0 1234.5 254.4 1235.9 255.8 1237.4 257.2 1238.8 258.5 1240.3 259.7 1241.7 260.9 1243.2 262.0 1244.7 263.2 1246.1 264.3 M1080.9 124.2 1082.1 124.7 1083.4 125.3 1084.6 125.9 1085.9 126.6 1087.2 127.4 1088.5 128.2 1089.7 129.2 1091.0 130.6 1092.3 132.3 1093.6 134.2 1094.9 136.5 1096.2 139.6 1097.5 143.0 1098.8 146.2 1100.1 149.6 1101.4 152.5 1102.7 154.5 1104.0 156.2 1105.3 157.6 1106.6 158.6 1107.9 158.9 1109.2 158.8 1110.5 158.4 1111.8 157.8 1113.1 157.3 1114.3 156.4 1115.6 155.4 1116.9 154.4 1118.2 153.8 1119.5 153.5 1120.8 153.2 1122.2 153.3 1123.5 153.7 1124.8 155.1 1126.1 156.8 1127.4 158.6 1128.8 160.5 1130.1 162.7 1131.4 164.9 1132.7 167.2 1134.1 169.4 1135.4 171.4 1136.7 173.3 1138.1 175.1 1139.4 176.9 1140.7 178.6 1142.1 180.3 1143.4 181.9 1144.7 183.5 1146.1 185.1 1147.4 186.5 1148.8 187.8 1150.1 189.0 1151.4 190.2 1152.8 191.3 1154.1 192.4 1155.5 193.3 1156.8 194.2 1158.2 195.0 1159.6 195.7 1160.9 196.5 1162.3 197.4 1163.6 198.2 1165.0 199.1 1166.4 200.0 1167.7 200.9 1169.1 201.9 1170.5 202.8 1171.8 203.8 1173.2 204.7 1174.6 205.6 1176.0 206.6 1177.3 207.5 1178.7 208.3 1180.1 209.0 1181.5 209.6 1182.9 210.2 1184.3 210.9 1185.7 211.5 1187.1 212.1 1188.5 212.6 1189.9 213.1 1191.3 213.7 1192.7 214.4 1194.1 215.2 1195.5 216.0 1196.9 216.9 1198.3 217.8 1199.7 218.9 1201.1 220.1 1202.5 221.5 1203.9 222.9 1205.3 224.2 1206.7 225.5 1208.1 226.8 1209.5 228.1 1211.0 229.3 1212.4 230.6 1213.8 231.7 1215.2 232.8 1216.6 233.7 1218.1 234.4 1219.5 235.2 1221.0 236.0 1222.4 236.9 1223.8 237.9 1225.3 238.8 1226.7 239.8 1228.2 240.9 1229.6 241.9 1231.0 243.0 1232.5 244.3 1233.9 245.7 1235.4 247.1 1236.8 248.6 1238.3 249.9 1239.7 251.4 1241.1 252.8 1242.6 254.2 1244.0 255.5 1245.5 256.7 1247.0 257.9 1248.4 259.1 1249.9 260.2 1251.4 261.4 M1085.9 118.8 1087.1 119.4 1088.4 120.0 1089.7 120.6 1091.0 121.4 1092.2 122.1 1093.5 123.0 1094.8 124.1 1096.1 125.6 1097.4 127.3 1098.7 129.4 1100.0 131.8 1101.3 135.1 1102.6 138.6 1103.9 142.0 1105.2 145.6 1106.5 148.7 1107.8 150.7 1109.1 152.5 1110.4 154.1 1111.7 155.0 1113.0 155.4 1114.3 155.3 1115.6 154.8 1116.9 154.3 1118.1 153.7 1119.4 152.8 1120.7 151.6 1122.0 150.6 1123.3 150.0 1124.6 149.6 1126.0 149.4 1127.3 149.4 1128.6 149.9 1129.9 151.3 1131.2 153.0 1132.6 154.9 1133.9 156.8 1135.2 159.1 1136.5 161.4 1137.9 163.8 1139.2 166.1 1140.5 168.1 1141.9 170.1 1143.2 172.0 1144.5 173.8 1145.9 175.6 1147.2 177.3 1148.5 178.9 1149.9 180.6 1151.2 182.2 1152.5 183.6 1153.9 184.9 1155.2 186.2 1156.6 187.4 1157.9 188.5 1159.3 189.6 1160.6 190.6 1162.0 191.4 1163.3 192.2 1164.7 192.9 1166.0 193.8 1167.4 194.6 1168.8 195.4 1170.1 196.3 1171.5 197.2 1172.9 198.1 1174.2 199.0 1175.6 200.0 1177.0 200.9 1178.4 201.9 1179.7 202.8 1181.1 203.7 1182.5 204.6 1183.9 205.4 1185.3 206.1 1186.6 206.7 1188.0 207.3 1189.4 207.9 1190.8 208.5 1192.2 209.0 1193.6 209.5 1195.0 210.0 1196.4 210.5 1197.8 211.2 1199.2 212.0 1200.6 212.8 1202.1 213.7 1203.5 214.6 1204.9 215.7 1206.3 216.9 1207.7 218.3 1209.1 219.7 1210.5 221.1 1211.9 222.3 1213.3 223.7 1214.7 225.0 1216.1 226.3 1217.6 227.5 1219.0 228.7 1220.4 229.7 1221.8 230.6 1223.3 231.4 1224.7 232.1 1226.2 232.9 1227.6 233.7 1229.0 234.7 1230.5 235.7 1231.9 236.7 1233.4 237.7 1234.8 238.7 1236.3 239.8 1237.7 241.2 1239.1 242.6 1240.6 244.0 1242.0 245.5 1243.5 246.9 1244.9 248.3 1246.4 249.8 1247.8 251.2 1249.3 252.6 1250.7 253.8 1252.2 255.0 1253.7 256.1 1255.1 257.3 1256.6 258.4 M1090.9 113.5 1092.2 114.0 1093.4 114.6 1094.7 115.4 1096.0 116.1 1097.3 116.9 1098.6 117.8 1099.8 119.0 1101.1 120.5 1102.4 122.4 1103.7 124.5 1105.0 127.1 1106.3 130.6 1107.6 134.2 1108.9 137.8 1110.3 141.6 1111.6 144.8 1112.9 147.0 1114.2 148.9 1115.5 150.5 1116.8 151.6 1118.0 151.9 1119.3 151.8 1120.6 151.3 1121.9 150.7 1123.2 150.1 1124.5 149.2 1125.8 148.0 1127.1 146.8 1128.4 146.2 1129.7 145.8 1131.1 145.5 1132.4 145.5 1133.7 146.1 1135.0 147.5 1136.3 149.3 1137.7 151.2 1139.0 153.2 1140.3 155.5 1141.6 157.9 1143.0 160.4 1144.3 162.7 1145.6 164.8 1147.0 166.8 1148.3 168.8 1149.6 170.7 1151.0 172.5 1152.3 174.3 1153.6 176.0 1155.0 177.7 1156.3 179.3 1157.6 180.8 1159.0 182.1 1160.3 183.4 1161.7 184.6 1163.0 185.8 1164.4 186.9 1165.7 187.8 1167.1 188.7 1168.4 189.5 1169.8 190.2 1171.2 191.0 1172.5 191.8 1173.9 192.6 1175.3 193.5 1176.6 194.4 1178.0 195.3 1179.4 196.2 1180.7 197.2 1182.1 198.1 1183.5 199.0 1184.9 200.0 1186.2 200.9 1187.6 201.8 1189.0 202.5 1190.4 203.2 1191.8 203.8 1193.2 204.4 1194.6 204.9 1196.0 205.5 1197.4 206.0 1198.8 206.4 1200.2 206.9 1201.6 207.4 1203.0 208.1 1204.4 208.8 1205.8 209.6 1207.2 210.5 1208.6 211.4 1210.0 212.5 1211.5 213.7 1212.9 215.1 1214.3 216.5 1215.7 217.9 1217.1 219.2 1218.5 220.6 1219.9 221.9 1221.3 223.2 1222.7 224.5 1224.2 225.6 1225.6 226.7 1227.0 227.5 1228.5 228.3 1229.9 229.0 1231.4 229.7 1232.8 230.6 1234.2 231.5 1235.7 232.5 1237.1 233.5 1238.6 234.5 1240.0 235.5 1241.5 236.7 1242.9 238.0 1244.3 239.4 1245.8 240.9 1247.2 242.4 1248.7 243.8 1250.1 245.3 1251.6 246.8 1253.0 248.3 1254.5 249.6 1255.9 250.8 1257.4 252.0 1258.9 253.2 1260.3 254.4 1261.8 255.5 M1095.9 108.1 1097.2 108.7 1098.5 109.3 1099.8 110.1 1101.0 110.9 1102.3 111.7 1103.6 112.7 1104.9 113.9 1106.2 115.5 1107.5 117.5 1108.8 119.7 1110.1 122.4 1111.4 126.0 1112.7 129.9 1114.0 133.6 1115.3 137.6 1116.6 141.0 1117.9 143.3 1119.2 145.4 1120.5 147.0 1121.8 148.1 1123.1 148.5 1124.4 148.3 1125.7 147.9 1127.0 147.2 1128.3 146.6 1129.6 145.5 1130.9 144.3 1132.2 143.1 1133.5 142.4 1134.8 142.0 1136.1 141.7 1137.5 141.7 1138.8 142.2 1140.1 143.7 1141.4 145.5 1142.8 147.5 1144.1 149.5 1145.4 151.9 1146.7 154.4 1148.1 157.0 1149.4 159.4 1150.7 161.6 1152.1 163.6 1153.4 165.7 1154.7 167.6 1156.1 169.5 1157.4 171.3 1158.7 173.1 1160.1 174.8 1161.4 176.4 1162.7 178.0 1164.1 179.3 1165.4 180.6 1166.8 181.9 1168.1 183.1 1169.5 184.2 1170.8 185.1 1172.2 186.0 1173.6 186.8 1174.9 187.5 1176.3 188.3 1177.6 189.1 1179.0 189.9 1180.4 190.7 1181.7 191.6 1183.1 192.5 1184.5 193.4 1185.9 194.4 1187.2 195.3 1188.6 196.2 1190.0 197.2 1191.4 198.1 1192.8 198.9 1194.1 199.7 1195.5 200.3 1196.9 200.9 1198.3 201.4 1199.7 201.9 1201.1 202.5 1202.5 203.0 1203.9 203.4 1205.3 203.8 1206.7 204.3 1208.2 204.9 1209.6 205.6 1211.0 206.4 1212.4 207.2 1213.8 208.2 1215.2 209.2 1216.6 210.5 1218.0 211.9 1219.4 213.4 1220.8 214.8 1222.3 216.1 1223.7 217.4 1225.1 218.8 1226.5 220.1 1227.9 221.4 1229.3 222.6 1230.8 223.6 1232.2 224.5 1233.6 225.2 1235.1 225.9 1236.5 226.6 1238.0 227.4 1239.4 228.4 1240.9 229.3 1242.3 230.3 1243.8 231.3 1245.2 232.3 1246.7 233.5 1248.1 234.8 1249.5 236.3 1251.0 237.8 1252.4 239.3 1253.9 240.7 1255.3 242.3 1256.8 243.8 1258.2 245.3 1259.7 246.7 1261.1 247.9 1262.6 249.1 1264.1 250.3 1265.5 251.5 1267.0 252.6 M1100.9 102.8 1102.2 103.4 1103.5 104.1 1104.8 104.8 1106.1 105.7 1107.3 106.6 1108.6 107.5 1109.9 108.8 1111.2 110.5 1112.5 112.5 1113.8 114.9 1115.1 117.7 1116.4 121.5 1117.7 125.6 1119.0 129.5 1120.3 133.7 1121.6 137.3 1122.9 139.7 1124.2 141.8 1125.5 143.6 1126.8 144.7 1128.1 145.1 1129.4 144.9 1130.7 144.4 1132.0 143.7 1133.3 143.0 1134.7 142.0 1136.0 140.6 1137.3 139.4 1138.6 138.6 1139.9 138.2 1141.2 137.8 1142.6 137.8 1143.9 138.4 1145.2 139.9 1146.5 141.8 1147.9 143.8 1149.2 145.9 1150.5 148.3 1151.8 151.0 1153.2 153.6 1154.5 156.1 1155.8 158.3 1157.1 160.5 1158.5 162.5 1159.8 164.5 1161.1 166.5 1162.5 168.3 1163.8 170.1 1165.1 171.9 1166.5 173.6 1167.8 175.2 1169.2 176.6 1170.5 177.9 1171.9 179.2 1173.2 180.4 1174.6 181.5 1175.9 182.5 1177.3 183.3 1178.6 184.1 1180.0 184.8 1181.4 185.6 1182.7 186.3 1184.1 187.1 1185.5 188.0 1186.8 188.8 1188.2 189.8 1189.6 190.7 1191.0 191.6 1192.3 192.5 1193.7 193.5 1195.1 194.4 1196.5 195.3 1197.9 196.1 1199.3 196.9 1200.6 197.5 1202.0 198.0 1203.4 198.5 1204.8 199.0 1206.2 199.5 1207.7 199.9 1209.1 200.3 1210.5 200.7 1211.9 201.1 1213.3 201.7 1214.7 202.5 1216.1 203.2 1217.5 204.0 1219.0 204.9 1220.4 206.0 1221.8 207.3 1223.2 208.7 1224.6 210.2 1226.0 211.6 1227.4 213.0 1228.8 214.4 1230.2 215.7 1231.7 217.1 1233.1 218.4 1234.5 219.6 1235.9 220.6 1237.4 221.4 1238.8 222.1 1240.3 222.7 1241.7 223.4 1243.2 224.3 1244.6 225.2 1246.0 226.1 1247.5 227.1 1248.9 228.1 1250.4 229.1 1251.8 230.2 1253.3 231.6 1254.7 233.1 1256.2 234.7 1257.6 236.2 1259.0 237.7 1260.5 239.2 1261.9 240.8 1263.4 242.3 1264.8 243.7 1266.3 245.0 1267.8 246.2 1269.2 247.4 1270.7 248.6 1272.2 249.7 M1106.0 97.4 1107.2 98.0 1108.5 98.8 1109.8 99.6 1111.1 100.4 1112.4 101.4 1113.7 102.4 1114.9 103.7 1116.2 105.4 1117.5 107.6 1118.8 110.0 1120.1 113.0 1121.4 117.0 1122.8 121.3 1124.1 125.4 1125.4 129.8 1126.7 133.5 1128.0 136.1 1129.3 138.3 1130.6 140.1 1131.9 141.3 1133.2 141.7 1134.5 141.5 1135.8 141.0 1137.1 140.3 1138.4 139.5 1139.7 138.4 1141.0 137.0 1142.3 135.7 1143.7 134.8 1145.0 134.4 1146.3 134.0 1147.6 134.0 1149.0 134.6 1150.3 136.1 1151.6 138.0 1152.9 140.1 1154.3 142.3 1155.6 144.8 1156.9 147.5 1158.2 150.2 1159.6 152.8 1160.9 155.1 1162.2 157.3 1163.5 159.4 1164.9 161.5 1166.2 163.5 1167.5 165.4 1168.9 167.3 1170.2 169.1 1171.6 170.8 1172.9 172.4 1174.2 173.8 1175.6 175.2 1176.9 176.5 1178.3 177.7 1179.6 178.9 1181.0 179.8 1182.4 180.7 1183.7 181.5 1185.1 182.2 1186.5 182.9 1187.8 183.7 1189.2 184.4 1190.6 185.2 1191.9 186.1 1193.3 187.0 1194.7 187.9 1196.1 188.9 1197.4 189.8 1198.8 190.7 1200.2 191.6 1201.6 192.5 1203.0 193.3 1204.4 194.1 1205.8 194.6 1207.2 195.2 1208.6 195.6 1210.0 196.1 1211.4 196.5 1212.8 196.9 1214.2 197.2 1215.6 197.6 1217.0 198.0 1218.4 198.6 1219.8 199.3 1221.3 200.0 1222.7 200.8 1224.1 201.7 1225.5 202.8 1226.9 204.1 1228.3 205.5 1229.7 207.0 1231.1 208.5 1232.5 209.9 1234.0 211.3 1235.4 212.7 1236.8 214.0 1238.2 215.3 1239.6 216.5 1241.1 217.6 1242.5 218.4 1244.0 219.0 1245.4 219.6 1246.9 220.3 1248.3 221.1 1249.8 222.0 1251.2 222.9 1252.7 223.9 1254.1 224.9 1255.6 225.9 1257.0 227.0 1258.4 228.4 1259.9 229.9 1261.3 231.5 1262.8 233.1 1264.2 234.6 1265.7 236.2 1267.1 237.8 1268.5 239.4 1270.0 240.8 1271.5 242.1 1272.9 243.3 1274.4 244.5 1275.9 245.7 1277.3 246.8 M1111.0 92.1 1112.2 92.7 1113.5 93.5 1114.8 94.3 1116.1 95.2 1117.4 96.2 1118.7 97.2 1120.0 98.6 1121.3 100.4 1122.6 102.7 1123.9 105.2 1125.2 108.4 1126.5 112.5 1127.8 117.0 1129.1 121.3 1130.4 125.9 1131.7 129.8 1133.0 132.5 1134.3 134.8 1135.6 136.7 1136.9 138.0 1138.2 138.4 1139.5 138.2 1140.8 137.6 1142.1 136.8 1143.4 136.1 1144.7 134.9 1146.1 133.3 1147.4 132.0 1148.7 131.1 1150.0 130.6 1151.4 130.2 1152.7 130.2 1154.0 130.8 1155.3 132.3 1156.7 134.3 1158.0 136.4 1159.3 138.6 1160.6 141.2 1162.0 144.0 1163.3 146.8 1164.6 149.5 1165.9 151.9 1167.3 154.1 1168.6 156.4 1169.9 158.5 1171.3 160.5 1172.6 162.5 1173.9 164.4 1175.3 166.3 1176.6 168.1 1178.0 169.7 1179.3 171.2 1180.7 172.5 1182.0 173.8 1183.4 175.1 1184.7 176.2 1186.1 177.2 1187.4 178.1 1188.8 178.8 1190.2 179.5 1191.5 180.3 1192.9 181.0 1194.3 181.8 1195.6 182.6 1197.0 183.4 1198.4 184.3 1199.8 185.2 1201.1 186.1 1202.5 187.0 1203.9 188.0 1205.3 188.8 1206.7 189.7 1208.1 190.6 1209.4 191.3 1210.8 191.8 1212.2 192.3 1213.7 192.7 1215.1 193.1 1216.5 193.6 1217.9 193.9 1219.3 194.2 1220.7 194.5 1222.1 194.8 1223.5 195.4 1225.0 196.1 1226.4 196.8 1227.8 197.6 1229.2 198.4 1230.6 199.5 1232.0 200.8 1233.4 202.3 1234.9 203.9 1236.3 205.4 1237.7 206.7 1239.1 208.2 1240.5 209.6 1241.9 211.0 1243.3 212.3 1244.8 213.5 1246.2 214.5 1247.6 215.3 1249.1 215.9 1250.5 216.5 1252.0 217.2 1253.5 217.9 1254.9 218.8 1256.4 219.8 1257.8 220.7 1259.3 221.7 1260.7 222.7 1262.2 223.8 1263.6 225.2 1265.0 226.8 1266.5 228.4 1267.9 230.0 1269.4 231.6 1270.8 233.2 1272.2 234.9 1273.7 236.5 1275.1 237.9 1276.6 239.2 1278.1 240.4 1279.5 241.6 1281.0 242.8 1282.5 243.9 M1116.0 86.8 1117.2 87.4 1118.5 88.2 1119.8 89.1 1121.1 90.0 1122.4 91.0 1123.7 92.1 1125.0 93.5 1126.3 95.4 1127.6 97.8 1128.9 100.4 1130.2 103.7 1131.5 108.1 1132.8 112.7 1134.1 117.2 1135.4 122.0 1136.7 126.2 1138.0 128.9 1139.3 131.4 1140.6 133.4 1141.9 134.7 1143.2 135.1 1144.5 134.9 1145.8 134.2 1147.1 133.4 1148.5 132.6 1149.8 131.3 1151.1 129.7 1152.4 128.3 1153.8 127.4 1155.1 126.8 1156.4 126.4 1157.7 126.4 1159.1 127.0 1160.4 128.5 1161.7 130.6 1163.1 132.7 1164.4 135.0 1165.7 137.7 1167.0 140.6 1168.3 143.5 1169.7 146.2 1171.0 148.7 1172.3 151.0 1173.7 153.3 1175.0 155.5 1176.3 157.6 1177.7 159.6 1179.0 161.6 1180.3 163.5 1181.7 165.3 1183.0 167.0 1184.3 168.5 1185.7 169.9 1187.0 171.2 1188.4 172.5 1189.8 173.7 1191.1 174.6 1192.5 175.5 1193.8 176.2 1195.2 176.9 1196.6 177.7 1197.9 178.4 1199.3 179.1 1200.7 179.9 1202.1 180.7 1203.4 181.6 1204.8 182.5 1206.2 183.4 1207.6 184.3 1209.0 185.2 1210.4 186.1 1211.7 187.0 1213.1 187.8 1214.5 188.5 1215.9 189.0 1217.3 189.5 1218.7 189.9 1220.1 190.2 1221.6 190.6 1223.0 190.9 1224.4 191.1 1225.8 191.4 1227.2 191.7 1228.7 192.2 1230.1 192.9 1231.5 193.6 1232.9 194.3 1234.3 195.2 1235.7 196.3 1237.2 197.6 1238.6 199.1 1240.0 200.7 1241.4 202.2 1242.8 203.6 1244.2 205.1 1245.6 206.5 1247.0 208.0 1248.5 209.3 1249.9 210.5 1251.3 211.5 1252.8 212.3 1254.2 212.9 1255.7 213.4 1257.1 214.0 1258.6 214.8 1260.0 215.7 1261.5 216.6 1262.9 217.5 1264.4 218.4 1265.8 219.4 1267.3 220.6 1268.7 222.0 1270.2 223.6 1271.6 225.3 1273.1 226.9 1274.5 228.5 1275.9 230.2 1277.4 231.9 1278.8 233.5 1280.3 235.0 1281.7 236.3 1283.2 237.5 1284.7 238.8 1286.2 239.9 1287.6 241.1 M1121.0 81.4 1122.2 82.1 1123.5 82.9 1124.8 83.8 1126.1 84.8 1127.4 85.8 1128.7 86.9 1130.0 88.4 1131.3 90.4 1132.6 92.9 1133.9 95.7 1135.2 99.1 1136.5 103.6 1137.8 108.5 1139.1 113.2 1140.4 118.2 1141.7 122.5 1143.0 125.4 1144.3 127.9 1145.6 130.0 1146.9 131.4 1148.2 131.8 1149.5 131.6 1150.8 130.9 1152.1 130.0 1153.5 129.2 1154.8 127.8 1156.1 126.2 1157.5 124.6 1158.8 123.6 1160.1 123.0 1161.5 122.6 1162.8 122.6 1164.1 123.2 1165.5 124.8 1166.8 126.8 1168.1 129.1 1169.4 131.4 1170.7 134.2 1172.1 137.1 1173.4 140.2 1174.7 143.0 1176.0 145.5 1177.4 147.9 1178.7 150.2 1180.0 152.5 1181.4 154.6 1182.7 156.7 1184.0 158.7 1185.4 160.7 1186.7 162.6 1188.0 164.3 1189.4 165.8 1190.7 167.3 1192.1 168.6 1193.4 169.9 1194.8 171.1 1196.1 172.1 1197.5 172.9 1198.9 173.7 1200.2 174.4 1201.6 175.1 1203.0 175.8 1204.4 176.5 1205.7 177.3 1207.1 178.1 1208.5 179.0 1209.9 179.9 1211.3 180.8 1212.6 181.7 1214.0 182.5 1215.4 183.4 1216.8 184.3 1218.2 185.1 1219.6 185.8 1221.0 186.3 1222.4 186.7 1223.8 187.0 1225.2 187.3 1226.6 187.7 1228.1 188.0 1229.5 188.1 1230.9 188.3 1232.3 188.6 1233.7 189.0 1235.2 189.7 1236.6 190.3 1238.0 191.1 1239.4 191.9 1240.9 193.0 1242.3 194.4 1243.7 195.9 1245.1 197.5 1246.5 199.1 1247.9 200.5 1249.3 202.0 1250.7 203.5 1252.1 204.9 1253.6 206.3 1255.0 207.5 1256.4 208.5 1257.9 209.3 1259.3 209.8 1260.8 210.3 1262.2 210.9 1263.7 211.6 1265.2 212.5 1266.6 213.4 1268.1 214.3 1269.5 215.2 1271.0 216.2 1272.4 217.4 1273.9 218.8 1275.3 220.4 1276.7 222.2 1278.2 223.8 1279.6 225.5 1281.1 227.2 1282.5 229.0 1284.0 230.6 1285.4 232.2 1286.9 233.5 1288.3 234.7 1289.8 235.9 1291.3 237.1 1292.7 238.3 M1126.0 76.1 1127.2 76.8 1128.5 77.6 1129.8 78.6 1131.1 79.6 1132.4 80.7 1133.7 81.8 1135.0 83.3 1136.3 85.4 1137.6 88.0 1138.9 90.9 1140.2 94.4 1141.5 99.2 1142.8 104.2 1144.1 109.1 1145.4 114.4 1146.7 118.9 1148.0 121.9 1149.3 124.5 1150.6 126.7 1151.9 128.1 1153.2 128.6 1154.5 128.3 1155.8 127.6 1157.1 126.7 1158.5 125.8 1159.8 124.4 1161.1 122.6 1162.5 120.9 1163.8 119.9 1165.1 119.3 1166.5 118.8 1167.8 118.7 1169.2 119.4 1170.5 121.0 1171.8 123.1 1173.1 125.4 1174.5 127.8 1175.8 130.6 1177.1 133.7 1178.4 136.8 1179.7 139.7 1181.1 142.3 1182.4 144.8 1183.7 147.2 1185.0 149.5 1186.4 151.8 1187.7 153.9 1189.0 156.0 1190.4 158.0 1191.7 159.9 1193.1 161.7 1194.4 163.2 1195.7 164.7 1197.1 166.1 1198.4 167.4 1199.8 168.6 1201.2 169.6 1202.5 170.4 1203.9 171.2 1205.3 171.8 1206.6 172.5 1208.0 173.2 1209.4 173.9 1210.8 174.6 1212.2 175.5 1213.5 176.3 1214.9 177.2 1216.3 178.1 1217.7 179.0 1219.1 179.9 1220.5 180.8 1221.8 181.6 1223.2 182.4 1224.6 183.0 1226.0 183.5 1227.4 183.9 1228.9 184.2 1230.3 184.5 1231.7 184.8 1233.1 185.0 1234.5 185.1 1236.0 185.2 1237.4 185.4 1238.8 185.9 1240.3 186.5 1241.7 187.1 1243.1 187.8 1244.5 188.7 1245.9 189.8 1247.4 191.1 1248.8 192.7 1250.2 194.4 1251.6 195.9 1253.0 197.4 1254.4 198.9 1255.8 200.4 1257.2 201.9 1258.7 203.3 1260.1 204.5 1261.5 205.5 1263.0 206.2 1264.4 206.8 1265.9 207.2 1267.4 207.7 1268.8 208.4 1270.3 209.3 1271.7 210.2 1273.2 211.0 1274.6 212.0 1276.1 213.0 1277.5 214.1 1279.0 215.6 1280.4 217.3 1281.9 219.0 1283.3 220.8 1284.7 222.4 1286.2 224.2 1287.6 226.0 1289.1 227.7 1290.5 229.3 1292.0 230.6 1293.4 231.9 1294.9 233.1 1296.4 234.3 1297.9 235.5 M1130.9 70.8 1132.2 71.5 1133.5 72.4 1134.8 73.3 1136.1 74.4 1137.4 75.5 1138.7 76.7 1140.0 78.3 1141.3 80.4 1142.6 83.1 1143.9 86.1 1145.2 89.8 1146.5 94.7 1147.8 100.0 1149.1 105.1 1150.4 110.6 1151.7 115.3 1153.0 118.4 1154.3 121.2 1155.6 123.4 1156.9 124.9 1158.2 125.4 1159.5 125.1 1160.8 124.3 1162.1 123.4 1163.5 122.4 1164.8 120.9 1166.1 119.0 1167.5 117.3 1168.8 116.2 1170.2 115.5 1171.5 115.0 1172.9 114.9 1174.2 115.6 1175.5 117.2 1176.8 119.4 1178.2 121.7 1179.5 124.2 1180.8 127.1 1182.1 130.3 1183.4 133.5 1184.8 136.5 1186.1 139.2 1187.4 141.7 1188.7 144.2 1190.1 146.6 1191.4 148.9 1192.7 151.1 1194.0 153.2 1195.4 155.3 1196.7 157.3 1198.1 159.1 1199.4 160.7 1200.8 162.1 1202.1 163.6 1203.5 164.9 1204.8 166.1 1206.2 167.1 1207.5 167.9 1208.9 168.7 1210.3 169.3 1211.7 170.0 1213.0 170.6 1214.4 171.3 1215.8 172.1 1217.2 172.9 1218.6 173.7 1219.9 174.6 1221.3 175.5 1222.7 176.4 1224.1 177.2 1225.5 178.1 1226.9 178.9 1228.3 179.7 1229.7 180.3 1231.1 180.8 1232.5 181.1 1233.9 181.4 1235.3 181.6 1236.7 181.9 1238.2 182.0 1239.6 182.1 1241.0 182.1 1242.5 182.3 1243.9 182.7 1245.3 183.3 1246.8 183.9 1248.2 184.6 1249.6 185.4 1251.0 186.5 1252.4 187.9 1253.8 189.5 1255.2 191.2 1256.7 192.8 1258.1 194.3 1259.5 195.8 1260.9 197.4 1262.3 198.9 1263.7 200.3 1265.2 201.5 1266.6 202.5 1268.0 203.2 1269.5 203.7 1271.0 204.1 1272.4 204.6 1273.9 205.3 1275.4 206.1 1276.8 206.9 1278.3 207.8 1279.7 208.7 1281.2 209.7 1282.7 210.9 1284.1 212.4 1285.5 214.1 1287.0 215.9 1288.4 217.7 1289.8 219.4 1291.3 221.2 1292.7 223.1 1294.1 224.9 1295.6 226.5 1297.1 227.8 1298.5 229.1 1300.0 230.3 1301.5 231.5 1302.9 232.7 M1135.9 65.5 1137.2 66.2 1138.5 67.1 1139.8 68.1 1141.1 69.2 1142.4 70.3 1143.7 71.6 1145.0 73.2 1146.3 75.5 1147.6 78.2 1148.9 81.3 1150.2 85.2 1151.5 90.3 1152.8 95.8 1154.1 101.1 1155.3 106.8 1156.6 111.7 1157.9 115.0 1159.2 117.8 1160.5 120.2 1161.8 121.7 1163.1 122.2 1164.5 121.9 1165.8 121.1 1167.1 120.1 1168.4 119.0 1169.8 117.5 1171.1 115.5 1172.5 113.7 1173.8 112.5 1175.2 111.8 1176.5 111.2 1177.9 111.1 1179.2 111.8 1180.5 113.5 1181.9 115.7 1183.2 118.1 1184.5 120.6 1185.8 123.6 1187.1 126.9 1188.4 130.2 1189.8 133.3 1191.1 136.1 1192.4 138.7 1193.7 141.2 1195.1 143.7 1196.4 146.0 1197.7 148.3 1199.0 150.5 1200.4 152.6 1201.7 154.7 1203.0 156.5 1204.4 158.1 1205.7 159.6 1207.1 161.1 1208.4 162.4 1209.8 163.6 1211.2 164.7 1212.5 165.5 1213.9 166.2 1215.3 166.9 1216.7 167.5 1218.0 168.1 1219.4 168.8 1220.8 169.5 1222.2 170.3 1223.6 171.2 1224.9 172.0 1226.3 172.9 1227.7 173.8 1229.1 174.6 1230.5 175.5 1231.9 176.3 1233.3 177.1 1234.7 177.7 1236.1 178.1 1237.5 178.4 1238.9 178.6 1240.4 178.8 1241.8 179.0 1243.2 179.1 1244.7 179.1 1246.1 179.0 1247.5 179.1 1249.0 179.5 1250.4 180.0 1251.8 180.6 1253.2 181.3 1254.7 182.1 1256.1 183.2 1257.5 184.6 1258.9 186.3 1260.3 188.0 1261.7 189.7 1263.1 191.2 1264.5 192.7 1266.0 194.3 1267.4 195.9 1268.8 197.3 1270.2 198.5 1271.7 199.6 1273.1 200.2 1274.6 200.7 1276.1 201.0 1277.5 201.4 1279.0 202.1 1280.4 202.9 1281.9 203.7 1283.4 204.6 1284.8 205.5 1286.3 206.4 1287.7 207.6 1289.2 209.2 1290.6 210.9 1292.1 212.8 1293.5 214.6 1294.9 216.4 1296.4 218.3 1297.8 220.2 1299.2 222.0 1300.7 223.7 1302.1 225.0 1303.6 226.3 1305.1 227.5 1306.5 228.7 1308.0 229.9 M1140.9 60.2 1142.2 61.0 1143.5 61.9 1144.8 62.9 1146.1 64.0 1147.4 65.2 1148.7 66.4 1150.0 68.1 1151.3 70.5 1152.6 73.4 1153.9 76.6 1155.2 80.6 1156.5 85.9 1157.7 91.6 1159.0 97.2 1160.3 103.1 1161.6 108.2 1162.9 111.6 1164.2 114.5 1165.5 117.0 1166.8 118.6 1168.1 119.1 1169.4 118.7 1170.7 117.9 1172.1 116.8 1173.4 115.7 1174.8 114.1 1176.1 112.0 1177.5 110.1 1178.8 108.9 1180.2 108.1 1181.5 107.5 1182.9 107.3 1184.2 108.0 1185.5 109.7 1186.9 112.0 1188.2 114.4 1189.5 117.0 1190.8 120.1 1192.1 123.5 1193.4 126.9 1194.8 130.1 1196.1 132.9 1197.4 135.7 1198.7 138.3 1200.0 140.8 1201.4 143.2 1202.7 145.5 1204.0 147.8 1205.4 150.0 1206.7 152.1 1208.0 154.0 1209.4 155.6 1210.7 157.1 1212.1 158.6 1213.4 160.0 1214.8 161.2 1216.1 162.2 1217.5 163.1 1218.9 163.8 1220.3 164.4 1221.6 165.0 1223.0 165.6 1224.4 166.3 1225.8 167.0 1227.2 167.8 1228.6 168.6 1229.9 169.5 1231.3 170.3 1232.7 171.2 1234.1 172.0 1235.5 172.9 1236.9 173.7 1238.3 174.5 1239.7 175.0 1241.1 175.4 1242.5 175.6 1244.0 175.8 1245.4 175.9 1246.8 176.1 1248.2 176.1 1249.7 176.0 1251.1 176.0 1252.6 176.0 1254.0 176.3 1255.4 176.8 1256.9 177.4 1258.3 178.0 1259.7 178.8 1261.2 179.9 1262.6 181.4 1264.0 183.1 1265.4 184.8 1266.8 186.5 1268.2 188.1 1269.6 189.7 1271.0 191.3 1272.4 192.9 1273.8 194.3 1275.3 195.6 1276.7 196.6 1278.2 197.2 1279.6 197.6 1281.1 197.9 1282.6 198.3 1284.1 198.9 1285.5 199.7 1287.0 200.5 1288.4 201.3 1289.9 202.2 1291.4 203.2 1292.8 204.4 1294.3 205.9 1295.7 207.7 1297.1 209.7 1298.6 211.5 1300.0 213.4 1301.4 215.3 1302.9 217.3 1304.3 219.2 1305.7 220.9 1307.2 222.2 1308.7 223.5 1310.1 224.8 1311.6 226.0 1313.1 227.2 M1145.9 54.9 1147.2 55.7 1148.5 56.6 1149.8 57.7 1151.1 58.8 1152.4 60.0 1153.7 61.3 1155.0 63.1 1156.3 65.5 1157.6 68.5 1158.9 71.8 1160.2 76.0 1161.4 81.5 1162.7 87.5 1164.0 93.2 1165.3 99.4 1166.5 104.6 1167.8 108.2 1169.1 111.3 1170.4 113.8 1171.7 115.4 1173.0 115.9 1174.4 115.6 1175.7 114.7 1177.0 113.5 1178.4 112.4 1179.7 110.7 1181.1 108.5 1182.5 106.5 1183.8 105.2 1185.2 104.4 1186.5 103.7 1187.9 103.6 1189.2 104.2 1190.5 105.9 1191.9 108.3 1193.2 110.8 1194.5 113.4 1195.8 116.6 1197.1 120.1 1198.4 123.6 1199.7 126.9 1201.1 129.8 1202.4 132.6 1203.7 135.3 1205.0 137.9 1206.3 140.4 1207.7 142.8 1209.0 145.1 1210.3 147.4 1211.7 149.5 1213.0 151.5 1214.3 153.1 1215.7 154.7 1217.0 156.2 1218.4 157.6 1219.7 158.8 1221.1 159.9 1222.5 160.7 1223.9 161.4 1225.2 162.0 1226.6 162.6 1228.0 163.2 1229.4 163.8 1230.8 164.5 1232.2 165.3 1233.5 166.1 1234.9 166.9 1236.3 167.8 1237.7 168.6 1239.1 169.5 1240.5 170.3 1241.9 171.1 1243.3 171.9 1244.7 172.4 1246.1 172.7 1247.5 172.9 1249.0 173.0 1250.4 173.1 1251.8 173.2 1253.3 173.2 1254.7 173.0 1256.2 172.9 1257.6 172.9 1259.0 173.2 1260.5 173.6 1261.9 174.1 1263.3 174.8 1264.8 175.5 1266.2 176.6 1267.6 178.1 1269.0 179.8 1270.4 181.7 1271.8 183.4 1273.2 185.0 1274.6 186.6 1276.0 188.3 1277.5 189.9 1278.9 191.3 1280.3 192.6 1281.8 193.6 1283.2 194.2 1284.7 194.6 1286.2 194.8 1287.6 195.1 1289.1 195.7 1290.6 196.5 1292.0 197.3 1293.5 198.1 1295.0 199.0 1296.4 199.9 1297.9 201.1 1299.3 202.7 1300.8 204.5 1302.2 206.5 1303.6 208.5 1305.1 210.3 1306.5 212.4 1307.9 214.4 1309.3 216.4 1310.8 218.1 1312.2 219.5 1313.7 220.8 1315.2 222.1 1316.7 223.3 1318.1 224.5 M1150.8 49.6 1152.1 50.4 1153.4 51.4 1154.7 52.4 1156.0 53.6 1157.3 54.9 1158.6 56.2 1159.9 58.0 1161.2 60.5 1162.5 63.6 1163.8 67.1 1165.1 71.4 1166.4 77.1 1167.7 83.3 1168.9 89.3 1170.2 95.7 1171.5 101.2 1172.8 104.8 1174.1 108.0 1175.3 110.7 1176.6 112.4 1178.0 112.9 1179.3 112.5 1180.6 111.5 1182.0 110.3 1183.3 109.1 1184.7 107.3 1186.1 105.0 1187.4 102.9 1188.8 101.5 1190.1 100.7 1191.5 99.9 1192.9 99.8 1194.2 100.5 1195.5 102.2 1196.9 104.6 1198.2 107.1 1199.5 109.9 1200.8 113.2 1202.1 116.8 1203.4 120.4 1204.7 123.8 1206.0 126.8 1207.3 129.6 1208.7 132.4 1210.0 135.1 1211.3 137.6 1212.6 140.1 1213.9 142.5 1215.3 144.8 1216.6 147.0 1217.9 149.0 1219.3 150.7 1220.6 152.3 1222.0 153.8 1223.3 155.2 1224.7 156.5 1226.1 157.5 1227.4 158.3 1228.8 159.0 1230.2 159.6 1231.6 160.2 1233.0 160.7 1234.3 161.3 1235.7 162.0 1237.1 162.8 1238.5 163.6 1239.9 164.4 1241.3 165.3 1242.7 166.1 1244.1 167.0 1245.5 167.8 1246.9 168.6 1248.3 169.3 1249.7 169.8 1251.1 170.1 1252.5 170.2 1254.0 170.3 1255.4 170.3 1256.8 170.4 1258.3 170.3 1259.7 170.0 1261.2 169.8 1262.6 169.7 1264.1 170.0 1265.5 170.4 1266.9 170.9 1268.4 171.5 1269.8 172.2 1271.2 173.3 1272.6 174.8 1274.0 176.6 1275.4 178.5 1276.8 180.2 1278.3 181.9 1279.7 183.5 1281.1 185.2 1282.5 186.9 1283.9 188.4 1285.3 189.7 1286.8 190.7 1288.2 191.2 1289.7 191.5 1291.2 191.7 1292.7 192.0 1294.2 192.5 1295.6 193.3 1297.1 194.0 1298.6 194.8 1300.0 195.7 1301.5 196.6 1303.0 197.8 1304.4 199.4 1305.8 201.3 1307.2 203.4 1308.7 205.4 1310.1 207.3 1311.5 209.4 1312.9 211.5 1314.4 213.6 1315.8 215.3 1317.3 216.8 1318.7 218.1 1320.2 219.4 1321.7 220.6 1323.2 221.8 M1155.8 44.3 1157.1 45.1 1158.4 46.1 1159.7 47.2 1161.0 48.4 1162.3 49.7 1163.6 51.1 1164.9 53.0 1166.2 55.6 1167.5 58.8 1168.8 62.3 1170.1 66.8 1171.4 72.8 1172.6 79.2 1173.9 85.4 1175.1 92.0 1176.4 97.7 1177.7 101.5 1179.0 104.8 1180.3 107.6 1181.6 109.3 1182.9 109.8 1184.2 109.4 1185.6 108.4 1186.9 107.1 1188.3 105.9 1189.6 103.9 1191.0 101.6 1192.4 99.3 1193.8 97.9 1195.1 96.9 1196.5 96.2 1197.8 96.0 1199.2 96.7 1200.5 98.4 1201.8 100.9 1203.2 103.5 1204.5 106.3 1205.8 109.7 1207.1 113.4 1208.4 117.1 1209.7 120.6 1211.0 123.7 1212.3 126.7 1213.6 129.5 1214.9 132.3 1216.2 134.9 1217.6 137.4 1218.9 139.8 1220.2 142.3 1221.5 144.5 1222.9 146.6 1224.2 148.3 1225.6 149.9 1226.9 151.5 1228.3 152.9 1229.6 154.2 1231.0 155.2 1232.4 156.0 1233.7 156.7 1235.1 157.3 1236.5 157.8 1237.9 158.4 1239.3 158.9 1240.7 159.6 1242.1 160.3 1243.5 161.1 1244.8 162.0 1246.2 162.8 1247.6 163.6 1249.0 164.5 1250.4 165.3 1251.8 166.0 1253.2 166.8 1254.6 167.2 1256.1 167.5 1257.5 167.6 1258.9 167.6 1260.4 167.5 1261.8 167.5 1263.3 167.4 1264.7 167.1 1266.2 166.8 1267.6 166.6 1269.1 166.8 1270.5 167.2 1272.0 167.6 1273.4 168.2 1274.8 168.9 1276.3 170.0 1277.7 171.5 1279.1 173.4 1280.5 175.3 1281.9 177.1 1283.3 178.7 1284.7 180.5 1286.1 182.2 1287.5 183.9 1288.9 185.4 1290.4 186.7 1291.8 187.7 1293.3 188.3 1294.7 188.5 1296.2 188.6 1297.7 188.8 1299.2 189.3 1300.7 190.1 1302.1 190.8 1303.6 191.6 1305.1 192.4 1306.6 193.3 1308.0 194.5 1309.4 196.2 1310.9 198.1 1312.3 200.3 1313.7 202.4 1315.1 204.3 1316.6 206.5 1318.0 208.7 1319.4 210.8 1320.8 212.6 1322.3 214.1 1323.8 215.4 1325.2 216.7 1326.7 218.0 1328.2 219.1 M1160.7 39.0 1162.0 39.9 1163.4 40.9 1164.7 42.0 1166.0 43.3 1167.3 44.6 1168.6 46.0 1169.9 47.9 1171.2 50.6 1172.5 53.9 1173.8 57.6 1175.0 62.2 1176.3 68.4 1177.6 75.0 1178.8 81.5 1180.1 88.3 1181.3 94.2 1182.6 98.2 1183.9 101.6 1185.2 104.5 1186.5 106.3 1187.8 106.8 1189.1 106.4 1190.5 105.3 1191.8 104.0 1193.2 102.6 1194.6 100.6 1195.9 98.1 1197.3 95.8 1198.7 94.3 1200.1 93.3 1201.4 92.4 1202.8 92.2 1204.2 92.9 1205.5 94.7 1206.8 97.2 1208.1 99.9 1209.4 102.7 1210.7 106.2 1212.0 110.0 1213.3 113.9 1214.6 117.5 1215.9 120.7 1217.2 123.7 1218.5 126.7 1219.9 129.5 1221.2 132.2 1222.5 134.7 1223.8 137.3 1225.1 139.7 1226.5 142.1 1227.8 144.1 1229.1 145.9 1230.5 147.6 1231.8 149.2 1233.2 150.6 1234.6 151.9 1235.9 153.0 1237.3 153.8 1238.7 154.4 1240.1 155.0 1241.4 155.5 1242.8 156.0 1244.2 156.6 1245.6 157.2 1247.0 157.9 1248.4 158.7 1249.8 159.5 1251.2 160.3 1252.6 161.2 1254.0 162.0 1255.4 162.8 1256.8 163.5 1258.2 164.2 1259.6 164.7 1261.0 164.9 1262.5 164.9 1263.9 164.9 1265.3 164.8 1266.8 164.7 1268.2 164.5 1269.7 164.1 1271.2 163.7 1272.6 163.5 1274.1 163.6 1275.5 163.9 1277.0 164.3 1278.4 164.9 1279.8 165.6 1281.3 166.7 1282.7 168.2 1284.1 170.1 1285.5 172.1 1286.9 174.0 1288.3 175.6 1289.7 177.4 1291.1 179.2 1292.5 180.9 1293.9 182.5 1295.4 183.8 1296.8 184.8 1298.3 185.3 1299.8 185.5 1301.3 185.5 1302.7 185.7 1304.2 186.1 1305.7 186.8 1307.2 187.5 1308.6 188.3 1310.1 189.1 1311.6 190.0 1313.0 191.2 1314.5 192.9 1315.9 194.9 1317.3 197.1 1318.7 199.3 1320.2 201.3 1321.6 203.6 1323.0 205.9 1324.4 208.0 1325.8 209.9 1327.3 211.4 1328.8 212.7 1330.2 214.1 1331.7 215.3 1333.2 216.5 M958.5 254.6 963.7 249.1 968.8 243.6 974.0 238.1 979.1 232.6 984.2 227.2 989.4 221.7 994.5 216.2 999.6 210.8 1004.7 205.3 1009.9 199.9 1015.0 194.4 1020.1 189.0 1025.2 183.6 1030.2 178.1 1035.3 172.7 1040.4 167.3 1045.5 161.9 1050.5 156.5 1055.6 151.1 1060.7 145.7 1065.7 140.3 1070.8 134.9 1075.8 129.6 1080.9 124.2 1085.9 118.8 1090.9 113.5 1095.9 108.1 1100.9 102.8 1106.0 97.4 1111.0 92.1 1116.0 86.8 1121.0 81.4 1126.0 76.1 1130.9 70.8 1135.9 65.5 1140.9 60.2 1145.9 54.9 1150.8 49.6 1155.8 44.3 1160.7 39.0 M970.6 264.1 975.7 256.6 980.9 249.7 986.0 243.2 991.1 237.0 996.3 231.1 1001.4 225.4 1006.6 219.8 1011.8 214.4 1016.9 209.1 1022.1 203.9 1027.2 198.7 1032.4 193.6 1037.5 188.5 1042.6 183.5 1047.8 178.4 1052.9 173.5 1058.0 168.5 1063.1 163.6 1068.2 158.6 1073.3 153.7 1078.4 148.8 1083.5 143.9 1088.5 139.1 1093.6 134.2 1098.7 129.4 1103.7 124.5 1108.8 119.7 1113.8 114.9 1118.8 110.0 1123.9 105.2 1128.9 100.4 1133.9 95.7 1138.9 90.9 1143.9 86.1 1148.9 81.3 1153.9 76.6 1158.9 71.8 1163.8 67.1 1168.8 62.3 1173.8 57.6 M982.9 273.8 988.0 264.3 993.1 256.0 998.2 248.8 1003.4 242.4 1008.6 236.5 1013.8 231.1 1019.0 226.1 1024.2 221.3 1029.4 216.7 1034.6 212.3 1039.8 208.0 1045.0 203.8 1050.2 199.8 1055.4 195.8 1060.5 191.8 1065.7 188.0 1070.8 184.2 1076.0 180.4 1081.1 176.6 1086.2 173.0 1091.3 169.3 1096.4 165.7 1101.5 162.1 1106.6 158.6 1111.7 155.0 1116.8 151.6 1121.8 148.1 1126.8 144.7 1131.9 141.3 1136.9 138.0 1141.9 134.7 1146.9 131.4 1151.9 128.1 1156.9 124.9 1161.8 121.7 1166.8 118.6 1171.7 115.4 1176.6 112.4 1181.6 109.3 1186.5 106.3 M995.4 283.5 1000.3 270.8 1005.4 259.8 1010.5 250.5 1015.6 242.5 1020.8 235.6 1026.1 229.5 1031.3 224.0 1036.5 218.9 1041.8 214.2 1047.0 209.6 1052.3 205.3 1057.5 201.0 1062.7 196.9 1067.9 192.8 1073.1 188.7 1078.3 184.7 1083.5 180.7 1088.7 176.8 1093.9 172.9 1099.0 168.9 1104.2 165.0 1109.3 161.2 1114.4 157.3 1119.5 153.5 1124.6 149.6 1129.7 145.8 1134.8 142.0 1139.9 138.2 1145.0 134.4 1150.0 130.6 1155.1 126.8 1160.1 123.0 1165.1 119.3 1170.2 115.5 1175.2 111.8 1180.2 108.1 1185.2 104.4 1190.1 100.7 1195.1 96.9 1200.1 93.3 M1008.0 293.4 1012.9 279.6 1018.0 267.4 1023.1 257.3 1028.3 249.0 1033.5 242.0 1038.8 236.1 1044.1 230.8 1049.4 226.1 1054.6 221.8 1059.9 217.6 1065.2 213.7 1070.4 209.9 1075.7 206.2 1080.9 202.5 1086.2 198.9 1091.4 195.3 1096.6 191.7 1101.8 188.2 1107.0 184.6 1112.2 181.1 1117.3 177.6 1122.5 174.2 1127.6 170.7 1132.7 167.2 1137.9 163.8 1143.0 160.4 1148.1 157.0 1153.2 153.6 1158.2 150.2 1163.3 146.8 1168.3 143.5 1173.4 140.2 1178.4 136.8 1183.4 133.5 1188.4 130.2 1193.4 126.9 1198.4 123.6 1203.4 120.4 1208.4 117.1 1213.3 113.9 M1020.7 303.4 1025.7 289.4 1030.8 276.8 1036.0 266.4 1041.2 258.0 1046.5 251.2 1051.8 245.5 1057.1 240.7 1062.4 236.3 1067.7 232.4 1073.0 228.8 1078.3 225.3 1083.6 221.9 1088.9 218.6 1094.1 215.4 1099.4 212.3 1104.6 209.1 1109.9 206.0 1115.1 203.0 1120.3 199.9 1125.5 196.9 1130.6 193.9 1135.8 190.9 1140.9 188.0 1146.1 185.1 1151.2 182.2 1156.3 179.3 1161.4 176.4 1166.5 173.6 1171.6 170.8 1176.6 168.1 1181.7 165.3 1186.7 162.6 1191.7 159.9 1196.7 157.3 1201.7 154.7 1206.7 152.1 1211.7 149.5 1216.6 147.0 1221.5 144.5 1226.5 142.1 M1033.6 313.5 1038.7 299.2 1043.8 285.8 1049.0 274.8 1054.3 266.0 1059.6 259.0 1064.9 253.3 1070.3 248.5 1075.6 244.4 1080.9 240.6 1086.3 237.1 1091.6 233.9 1096.9 230.7 1102.2 227.6 1107.5 224.6 1112.7 221.6 1118.0 218.6 1123.2 215.7 1128.5 212.8 1133.7 209.9 1138.9 207.0 1144.1 204.1 1149.2 201.3 1154.4 198.5 1159.6 195.7 1164.7 192.9 1169.8 190.2 1174.9 187.5 1180.0 184.8 1185.1 182.2 1190.2 179.5 1195.2 176.9 1200.2 174.4 1205.3 171.8 1210.3 169.3 1215.3 166.9 1220.3 164.4 1225.2 162.0 1230.2 159.6 1235.1 157.3 1240.1 155.0 M1046.7 323.8 1051.9 309.5 1057.0 295.8 1062.3 284.6 1067.6 275.7 1072.9 268.6 1078.3 262.8 1083.6 258.0 1089.0 253.9 1094.3 250.1 1099.7 246.7 1105.0 243.4 1110.3 240.2 1115.7 237.1 1121.0 234.1 1126.2 231.1 1131.5 228.1 1136.8 225.1 1142.0 222.1 1147.2 219.2 1152.5 216.3 1157.7 213.3 1162.9 210.4 1168.0 207.6 1173.2 204.7 1178.4 201.9 1183.5 199.0 1188.6 196.2 1193.7 193.5 1198.8 190.7 1203.9 188.0 1209.0 185.2 1214.0 182.5 1219.1 179.9 1224.1 177.2 1229.1 174.6 1234.1 172.0 1239.1 169.5 1244.1 167.0 1249.0 164.5 1254.0 162.0 M1060.0 334.2 1065.2 319.9 1070.4 305.9 1075.7 294.3 1081.0 285.2 1086.4 277.9 1091.8 272.0 1097.1 267.2 1102.5 262.9 1107.9 259.2 1113.3 255.7 1118.6 252.3 1124.0 249.1 1129.3 246.0 1134.6 242.8 1139.9 239.7 1145.2 236.6 1150.5 233.5 1155.8 230.4 1161.0 227.4 1166.2 224.3 1171.5 221.2 1176.7 218.2 1181.9 215.1 1187.1 212.1 1192.2 209.0 1197.4 206.0 1202.5 203.0 1207.7 199.9 1212.8 196.9 1217.9 193.9 1223.0 190.9 1228.1 188.0 1233.1 185.0 1238.2 182.0 1243.2 179.1 1248.2 176.1 1253.3 173.2 1258.3 170.3 1263.3 167.4 1268.2 164.5 M1073.4 344.7 1078.7 330.4 1083.9 316.1 1089.3 304.2 1094.6 294.8 1100.0 287.4 1105.4 281.4 1110.9 276.5 1116.3 272.3 1121.7 268.5 1127.1 265.0 1132.4 261.6 1137.8 258.4 1143.1 255.2 1148.5 252.0 1153.8 248.8 1159.1 245.6 1164.4 242.5 1169.7 239.3 1174.9 236.1 1180.2 232.9 1185.4 229.7 1190.7 226.5 1195.9 223.3 1201.1 220.1 1206.3 216.9 1211.5 213.7 1216.6 210.5 1221.8 207.3 1226.9 204.1 1232.0 200.8 1237.2 197.6 1242.3 194.4 1247.4 191.1 1252.4 187.9 1257.5 184.6 1262.6 181.4 1267.6 178.1 1272.6 174.8 1277.7 171.5 1282.7 168.2 M1087.0 355.4 1092.3 341.2 1097.7 326.7 1103.0 314.8 1108.5 305.4 1113.9 298.0 1119.3 292.1 1124.8 287.3 1130.2 283.1 1135.6 279.4 1141.0 276.0 1146.4 272.8 1151.8 269.6 1157.1 266.5 1162.5 263.4 1167.8 260.3 1173.2 257.3 1178.5 254.2 1183.7 251.1 1189.0 248.1 1194.3 245.0 1199.5 241.9 1204.8 238.9 1210.0 235.8 1215.2 232.8 1220.4 229.7 1225.6 226.7 1230.8 223.6 1235.9 220.6 1241.1 217.6 1246.2 214.5 1251.3 211.5 1256.4 208.5 1261.5 205.5 1266.6 202.5 1271.7 199.6 1276.7 196.6 1281.8 193.6 1286.8 190.7 1291.8 187.7 1296.8 184.8 M1100.8 366.2 1106.2 352.0 1111.6 337.4 1117.0 325.3 1122.5 315.7 1127.9 308.2 1133.4 302.3 1138.9 297.4 1144.3 293.3 1149.7 289.6 1155.2 286.2 1160.6 282.9 1166.0 279.7 1171.3 276.6 1176.7 273.4 1182.1 270.3 1187.4 267.2 1192.7 264.1 1198.0 260.9 1203.3 257.8 1208.6 254.6 1213.9 251.4 1219.1 248.3 1224.4 245.1 1229.6 241.9 1234.8 238.7 1240.0 235.5 1245.2 232.3 1250.4 229.1 1255.6 225.9 1260.7 222.7 1265.8 219.4 1271.0 216.2 1276.1 213.0 1281.2 209.7 1286.3 206.4 1291.4 203.2 1296.4 199.9 1301.5 196.6 1306.6 193.3 1311.6 190.0 M1114.8 377.2 1120.2 363.1 1125.7 348.4 1131.1 336.1 1136.6 326.5 1142.1 319.1 1147.6 313.3 1153.1 308.5 1158.6 304.5 1164.0 300.9 1169.5 297.7 1174.9 294.5 1180.3 291.4 1185.7 288.4 1191.1 285.4 1196.4 282.4 1201.8 279.4 1207.1 276.5 1212.4 273.5 1217.7 270.5 1223.0 267.5 1228.3 264.5 1233.6 261.5 1238.8 258.5 1244.0 255.5 1249.3 252.6 1254.5 249.6 1259.7 246.7 1264.8 243.7 1270.0 240.8 1275.1 237.9 1280.3 235.0 1285.4 232.2 1290.5 229.3 1295.6 226.5 1300.7 223.7 1305.7 220.9 1310.8 218.1 1315.8 215.3 1320.8 212.6 1325.8 209.9 M1121.8 382.7 1127.3 368.6 1132.8 353.9 1138.3 341.6 1143.8 331.9 1149.3 324.5 1154.8 318.6 1160.3 313.9 1165.8 310.0 1171.3 306.4 1176.7 303.2 1182.1 300.0 1187.6 297.0 1193.0 294.0 1198.3 291.0 1203.7 288.1 1209.1 285.1 1214.4 282.1 1219.7 279.2 1225.0 276.2 1230.3 273.2 1235.6 270.2 1240.9 267.3 1246.1 264.3 1251.4 261.4 1256.6 258.4 1261.8 255.5 1267.0 252.6 1272.2 249.7 1277.3 246.8 1282.5 243.9 1287.6 241.1 1292.7 238.3 1297.9 235.5 1302.9 232.7 1308.0 229.9 1313.1 227.2 1318.1 224.5 1323.2 221.8 1328.2 219.1 1333.2 216.5" fill="none" stroke="#0a3270" stroke-width="1.35" stroke-linejoin="round"/>
<polygon points="194.5,770 408.9,686 410.2,518.6 185.3,596.8" fill="#e5e5e5" stroke="#d0d0d0" stroke-width="3.0" stroke-linejoin="round"/>
<polygon points="408.9,686 571.4,804.2 581,628.7 410.2,518.6" fill="#e5e5e5" stroke="#d0d0d0" stroke-width="3.0" stroke-linejoin="round"/>
<polygon points="194.5,770 348.8,902.7 571.4,804.2 408.9,686" fill="#e5e5e5" stroke="#d0d0d0" stroke-width="3.0" stroke-linejoin="round"/>
<g fill="none" stroke="#b0b0b0" stroke-width="2.6" stroke-linejoin="round">
<polyline points="197.3,772.5 411.9,688.2 413.3,520.6"/>
<polyline points="244.2,812.7 461.4,724.2 465.2,554.1"/>
<polyline points="293.5,855.1 513.3,762 519.8,589.3"/>
<polyline points="345.5,899.8 567.9,801.7 577.3,626.4"/>
<polyline points="353.5,900.6 199,768.2 190.1,595.1"/>
<polyline points="398.3,880.8 241.9,751.4 235.2,579.4"/>
<polyline points="442,861.5 284,734.9 279.3,564.1"/>
<polyline points="484.7,842.6 325.1,718.8 322.5,549.1"/>
<polyline points="526.4,824.1 365.4,703 364.7,534.4"/>
<polyline points="567.2,806.1 404.8,687.6 405.9,520.1"/>
<polyline points="571.7,799.7 408.9,681.6 194.2,765.5"/>
<polyline points="573.1,773 409.1,656.1 192.8,739.2"/>
<polyline points="574.6,745.9 409.3,630.2 191.4,712.4"/>
<polyline points="576.1,718.4 409.5,604 190,685.2"/>
<polyline points="577.6,690.5 409.7,577.3 188.6,657.6"/>
<polyline points="579.2,662.1 409.9,550.3 187.1,629.6"/>
<polyline points="580.7,633.2 410.2,522.9 185.6,601.2"/>
</g>
<g fill="none" stroke="#000" stroke-width="3.2" stroke-linecap="square">
<polyline points="185.3,596.8 194.5,770 348.8,902.7 571.4,804.2"/>
</g>
<g fill="none" stroke="#000" stroke-width="2.6" stroke-linecap="round">
<polyline points="189.4,767.4 197.5,764.3"/>
<polyline points="188,741 196.1,737.9"/>
<polyline points="186.6,714.2 194.7,711.2"/>
<polyline points="185.1,687 193.3,684"/>
<polyline points="183.7,659.4 191.8,656.5"/>
<polyline points="182.2,631.4 190.4,628.5"/>
<polyline points="180.7,602.9 188.9,600.1"/>
<polyline points="192.5,774.4 200.6,771.2"/>
<polyline points="239.4,814.7 247.4,811.4"/>
<polyline points="288.7,857.2 296.7,853.8"/>
<polyline points="340.7,901.9 348.7,898.4"/>
<polyline points="357.5,904 350.9,898.3"/>
<polyline points="402.3,884.1 395.6,878.6"/>
<polyline points="446,864.7 439.2,859.3"/>
<polyline points="488.8,845.8 481.9,840.5"/>
<polyline points="530.6,827.3 523.6,822"/>
<polyline points="571.4,809.2 564.4,804"/>
</g>
<path d="M201.2 757.8 202.3 757.0 203.3 755.8 204.3 754.5 205.4 752.9 206.4 751.0 207.4 748.8 208.4 746.7 209.4 744.3 210.4 742.1 211.5 740.6 212.5 739.4 213.6 738.7 214.8 739.0 215.9 739.5 217.1 740.1 218.2 740.8 219.4 741.6 220.6 742.7 221.8 744.3 223.0 746.2 224.3 748.4 225.5 750.5 226.8 752.4 228.0 753.9 229.1 754.8 230.3 755.2 231.5 755.3 232.6 755.0 233.8 754.6 234.9 754.2 236.0 753.7 237.2 752.7 238.3 751.5 239.4 750.4 240.5 749.4 241.7 748.3 242.8 747.4 244.0 747.1 245.2 747.5 246.4 747.9 247.6 748.4 248.8 749.0 250.0 749.6 251.2 750.3 252.4 751.1 253.7 752.0 254.9 753.0 256.1 754.0 257.4 755.2 258.6 756.5 259.9 757.8 261.1 759.1 262.4 760.4 263.6 761.7 264.9 763.0 266.1 764.1 267.4 765.2 268.6 766.2 269.9 767.0 271.1 767.8 272.4 768.5 273.6 769.2 274.9 769.9 276.1 770.5 277.4 771.2 278.6 772.0 279.9 772.7 281.2 773.5 282.4 774.2 283.7 774.9 285.0 775.7 286.2 776.4 287.5 777.2 288.8 777.9 290.0 778.7 291.3 779.4 292.6 780.2 293.9 781.0 295.2 781.8 296.4 782.6 297.7 783.3 299.0 784.0 300.3 784.7 301.6 785.3 302.9 785.8 304.2 785.9 305.4 785.8 306.7 785.6 308.0 785.5 309.3 785.6 310.6 786.2 311.9 787.3 313.2 788.7 314.6 790.2 315.9 791.8 317.2 793.5 318.6 795.3 319.9 797.0 321.2 798.7 322.6 800.4 323.9 802.2 325.3 804.1 326.6 806.0 327.9 807.9 329.3 809.6 330.6 811.1 332.0 812.4 333.3 813.4 334.7 814.3 336.0 814.9 337.3 815.5 338.7 816.0 340.0 816.5 341.4 817.0 342.7 817.6 344.1 818.3 345.4 819.1 346.8 819.9 348.1 820.7 349.5 821.6 350.9 822.4 352.2 823.3 353.6 824.2 355.0 825.2 356.3 826.1 M206.5 752.6 207.6 751.9 208.6 750.8 209.7 749.6 210.7 748.2 211.7 746.4 212.8 744.4 213.8 742.5 214.8 740.2 215.8 738.1 216.9 736.7 218.0 735.4 219.1 734.7 220.2 734.9 221.4 735.4 222.5 735.9 223.7 736.6 224.9 737.4 226.0 738.4 227.3 739.9 228.5 741.8 229.7 743.9 231.0 746.1 232.2 748.0 233.4 749.5 234.6 750.5 235.8 751.0 236.9 751.1 238.1 751.0 239.2 750.8 240.4 750.5 241.5 750.0 242.7 749.1 243.8 748.1 244.9 747.0 246.1 746.1 247.2 745.0 248.4 744.2 249.5 743.9 250.7 744.3 251.9 744.7 253.1 745.2 254.4 745.8 255.6 746.4 256.8 747.2 258.0 747.9 259.3 748.8 260.5 749.8 261.7 750.8 263.0 752.0 264.2 753.2 265.5 754.4 266.7 755.7 268.0 757.0 269.2 758.3 270.5 759.5 271.7 760.7 273.0 761.7 274.2 762.7 275.5 763.5 276.7 764.3 278.0 765.0 279.2 765.7 280.5 766.4 281.8 767.1 283.0 767.7 284.3 768.5 285.5 769.2 286.8 770.0 288.1 770.7 289.3 771.5 290.6 772.2 291.9 773.0 293.1 773.8 294.4 774.5 295.7 775.3 297.0 776.1 298.3 776.9 299.5 777.7 300.8 778.6 302.1 779.4 303.4 780.2 304.7 781.0 306.0 781.7 307.3 782.4 308.6 782.9 309.9 783.1 311.1 783.0 312.4 782.8 313.7 782.7 315.0 782.9 316.3 783.6 317.6 784.7 319.0 786.0 320.3 787.5 321.6 789.0 322.9 790.7 324.3 792.4 325.6 794.1 327.0 795.8 328.3 797.5 329.6 799.3 331.0 801.1 332.3 803.0 333.7 804.9 335.0 806.6 336.4 808.1 337.7 809.4 339.0 810.5 340.4 811.3 341.7 812.0 343.1 812.6 344.4 813.1 345.8 813.6 347.1 814.1 348.5 814.7 349.8 815.4 351.2 816.2 352.5 816.9 353.9 817.8 355.3 818.6 356.6 819.5 358.0 820.3 359.4 821.3 360.7 822.2 362.1 823.2 M211.8 747.4 212.9 746.8 213.9 745.8 215.0 744.7 216.0 743.4 217.1 741.8 218.1 740.0 219.2 738.2 220.2 736.1 221.2 734.1 222.3 732.7 223.4 731.5 224.5 730.7 225.6 730.9 226.8 731.3 227.9 731.8 229.1 732.4 230.3 733.1 231.5 734.0 232.7 735.5 233.9 737.4 235.1 739.5 236.4 741.6 237.6 743.6 238.8 745.2 240.0 746.2 241.2 746.8 242.4 747.0 243.6 747.1 244.7 746.9 245.9 746.8 247.0 746.4 248.2 745.6 249.3 744.6 250.5 743.6 251.6 742.8 252.7 741.8 253.9 740.9 255.1 740.7 256.3 741.1 257.5 741.5 258.7 742.0 259.9 742.6 261.1 743.2 262.4 744.0 263.6 744.8 264.8 745.6 266.1 746.6 267.3 747.6 268.5 748.8 269.8 749.9 271.0 751.1 272.3 752.4 273.6 753.6 274.8 754.9 276.1 756.1 277.3 757.2 278.6 758.2 279.8 759.2 281.1 760.0 282.3 760.8 283.6 761.5 284.8 762.2 286.1 762.9 287.4 763.6 288.6 764.3 289.9 765.0 291.1 765.8 292.4 766.5 293.7 767.3 294.9 768.1 296.2 768.8 297.5 769.6 298.8 770.4 300.0 771.2 301.3 772.0 302.6 772.8 303.9 773.6 305.2 774.5 306.5 775.4 307.8 776.3 309.1 777.1 310.4 777.9 311.6 778.7 312.9 779.4 314.2 780.0 315.5 780.2 316.8 780.1 318.1 780.0 319.4 780.0 320.7 780.2 322.0 780.9 323.3 782.0 324.7 783.3 326.0 784.7 327.3 786.3 328.6 787.9 330.0 789.6 331.3 791.3 332.7 792.9 334.0 794.5 335.3 796.3 336.7 798.2 338.0 800.0 339.4 801.9 340.7 803.6 342.1 805.1 343.4 806.4 344.8 807.5 346.1 808.3 347.5 809.1 348.8 809.7 350.1 810.2 351.5 810.7 352.8 811.2 354.2 811.8 355.6 812.4 356.9 813.2 358.3 814.0 359.7 814.8 361.0 815.6 362.4 816.5 363.8 817.4 365.1 818.3 366.5 819.2 367.9 820.2 M217.1 742.2 218.2 741.7 219.2 740.9 220.3 739.9 221.4 738.7 222.4 737.3 223.5 735.6 224.5 734.0 225.6 732.0 226.6 730.1 227.7 728.7 228.8 727.5 229.9 726.7 231.0 726.8 232.2 727.2 233.4 727.7 234.5 728.2 235.7 728.9 236.9 729.7 238.1 731.1 239.3 732.9 240.6 735.0 241.8 737.1 243.0 739.1 244.3 740.8 245.5 741.9 246.7 742.6 247.8 742.9 249.0 743.1 250.2 743.1 251.3 743.0 252.5 742.8 253.7 742.1 254.8 741.1 256.0 740.3 257.1 739.5 258.3 738.5 259.4 737.7 260.6 737.5 261.8 737.9 263.0 738.3 264.2 738.8 265.5 739.4 266.7 740.1 267.9 740.8 269.1 741.6 270.4 742.5 271.6 743.4 272.9 744.5 274.1 745.5 275.4 746.7 276.6 747.9 277.9 749.1 279.1 750.3 280.4 751.5 281.6 752.6 282.9 753.7 284.1 754.7 285.4 755.6 286.7 756.5 287.9 757.3 289.2 758.0 290.4 758.7 291.7 759.4 292.9 760.1 294.2 760.8 295.5 761.6 296.7 762.3 298.0 763.1 299.3 763.9 300.6 764.6 301.8 765.4 303.1 766.2 304.4 767.0 305.7 767.8 307.0 768.6 308.2 769.5 309.5 770.4 310.8 771.3 312.1 772.2 313.4 773.1 314.7 774.0 316.0 774.9 317.3 775.7 318.6 776.4 319.9 777.1 321.2 777.3 322.5 777.3 323.8 777.3 325.1 777.3 326.4 777.6 327.7 778.2 329.0 779.3 330.3 780.6 331.7 782.0 333.0 783.5 334.3 785.1 335.7 786.8 337.0 788.4 338.4 790.0 339.7 791.6 341.0 793.4 342.4 795.2 343.7 797.1 345.1 798.9 346.4 800.6 347.8 802.1 349.1 803.5 350.5 804.5 351.8 805.4 353.2 806.1 354.5 806.7 355.9 807.3 357.2 807.8 358.6 808.3 359.9 808.8 361.3 809.5 362.7 810.3 364.0 811.0 365.4 811.8 366.8 812.7 368.1 813.5 369.5 814.4 370.9 815.3 372.3 816.3 373.6 817.2 M222.3 737.1 223.4 736.6 224.5 735.9 225.6 735.0 226.7 734.0 227.8 732.7 228.8 731.3 229.9 729.8 231.0 728.0 232.0 726.1 233.1 724.7 234.2 723.5 235.3 722.8 236.4 722.8 237.6 723.1 238.8 723.5 239.9 724.0 241.1 724.6 242.3 725.4 243.5 726.8 244.7 728.5 246.0 730.6 247.2 732.7 248.4 734.7 249.7 736.4 250.9 737.7 252.1 738.4 253.3 738.8 254.4 739.1 255.6 739.3 256.8 739.3 258.0 739.2 259.1 738.6 260.3 737.7 261.5 736.9 262.6 736.2 263.8 735.2 264.9 734.5 266.1 734.3 267.3 734.7 268.6 735.1 269.8 735.6 271.0 736.2 272.2 736.9 273.4 737.6 274.7 738.4 275.9 739.3 277.2 740.3 278.4 741.3 279.7 742.3 280.9 743.4 282.2 744.6 283.4 745.7 284.7 746.9 285.9 748.1 287.2 749.2 288.4 750.3 289.7 751.2 291.0 752.2 292.2 753.0 293.5 753.8 294.7 754.5 296.0 755.2 297.3 755.9 298.5 756.6 299.8 757.3 301.1 758.1 302.3 758.9 303.6 759.6 304.9 760.4 306.1 761.2 307.4 762.0 308.7 762.8 310.0 763.6 311.3 764.4 312.6 765.3 313.9 766.2 315.1 767.1 316.4 768.1 317.7 769.0 319.0 770.0 320.3 770.9 321.6 771.8 322.9 772.7 324.2 773.5 325.5 774.2 326.8 774.5 328.1 774.5 329.4 774.5 330.7 774.6 332.0 774.9 333.4 775.6 334.7 776.7 336.0 777.9 337.3 779.3 338.7 780.8 340.0 782.3 341.3 783.9 342.7 785.5 344.0 787.1 345.4 788.7 346.7 790.4 348.1 792.2 349.4 794.1 350.8 795.9 352.1 797.6 353.5 799.2 354.8 800.5 356.2 801.6 357.5 802.5 358.9 803.2 360.2 803.8 361.6 804.4 362.9 804.9 364.3 805.4 365.6 805.9 367.0 806.6 368.4 807.3 369.7 808.1 371.1 808.9 372.5 809.7 373.9 810.6 375.2 811.5 376.6 812.4 378.0 813.3 379.4 814.3 M227.6 731.9 228.7 731.5 229.8 730.9 230.9 730.2 232.0 729.3 233.1 728.1 234.2 726.9 235.2 725.6 236.3 723.9 237.4 722.1 238.5 720.8 239.6 719.6 240.7 718.8 241.8 718.8 243.0 719.0 244.2 719.4 245.3 719.9 246.5 720.4 247.7 721.1 248.9 722.4 250.1 724.1 251.4 726.1 252.6 728.3 253.9 730.3 255.1 732.1 256.3 733.4 257.5 734.2 258.7 734.8 259.9 735.1 261.1 735.4 262.3 735.6 263.4 735.6 264.6 735.0 265.8 734.3 266.9 733.5 268.1 732.9 269.3 732.0 270.4 731.3 271.6 731.1 272.8 731.5 274.1 731.9 275.3 732.5 276.5 733.1 277.7 733.7 279.0 734.5 280.2 735.3 281.4 736.1 282.7 737.1 283.9 738.1 285.2 739.1 286.4 740.2 287.7 741.3 288.9 742.4 290.2 743.6 291.5 744.7 292.7 745.8 294.0 746.8 295.2 747.8 296.5 748.7 297.8 749.5 299.0 750.3 300.3 751.0 301.6 751.8 302.8 752.5 304.1 753.2 305.4 753.9 306.6 754.7 307.9 755.4 309.2 756.2 310.4 757.0 311.7 757.8 313.0 758.6 314.3 759.4 315.6 760.2 316.9 761.1 318.2 762.0 319.5 762.9 320.7 763.9 322.0 764.8 323.3 765.8 324.6 766.9 325.9 767.9 327.3 768.8 328.6 769.7 329.9 770.5 331.2 771.3 332.5 771.6 333.8 771.7 335.1 771.8 336.4 771.9 337.7 772.2 339.0 772.9 340.3 774.0 341.7 775.2 343.0 776.6 344.3 778.0 345.7 779.6 347.0 781.1 348.3 782.7 349.7 784.2 351.0 785.8 352.4 787.5 353.7 789.3 355.1 791.1 356.4 792.9 357.8 794.6 359.1 796.2 360.5 797.5 361.8 798.6 363.2 799.5 364.5 800.3 365.9 800.9 367.2 801.5 368.6 802.0 370.0 802.5 371.3 803.0 372.7 803.7 374.1 804.4 375.4 805.1 376.8 806.0 378.2 806.8 379.6 807.6 380.9 808.5 382.3 809.4 383.7 810.4 385.1 811.3 M232.9 726.7 234.0 726.4 235.1 726.0 236.2 725.3 237.3 724.5 238.4 723.6 239.5 722.5 240.6 721.4 241.7 719.8 242.8 718.1 243.8 716.8 244.9 715.6 246.1 714.8 247.2 714.8 248.4 715.0 249.6 715.3 250.7 715.7 251.9 716.2 253.1 716.9 254.3 718.1 255.5 719.7 256.8 721.7 258.0 723.8 259.2 725.9 260.5 727.7 261.7 729.1 262.9 730.1 264.1 730.7 265.3 731.2 266.5 731.6 267.7 731.9 268.9 732.0 270.1 731.5 271.2 730.8 272.4 730.2 273.6 729.6 274.7 728.7 275.9 728.1 277.1 727.9 278.3 728.3 279.6 728.7 280.8 729.3 282.0 729.9 283.2 730.6 284.5 731.3 285.7 732.1 287.0 733.0 288.2 733.9 289.5 734.9 290.7 735.9 292.0 737.0 293.2 738.0 294.5 739.1 295.7 740.2 297.0 741.3 298.3 742.4 299.5 743.4 300.8 744.3 302.0 745.2 303.3 746.0 304.6 746.8 305.8 747.6 307.1 748.3 308.4 749.0 309.6 749.7 310.9 750.4 312.2 751.2 313.5 752.0 314.7 752.8 316.0 753.6 317.3 754.4 318.6 755.2 319.9 756.0 321.2 756.8 322.4 757.7 323.7 758.6 325.0 759.6 326.3 760.6 327.6 761.6 328.9 762.7 330.2 763.7 331.5 764.8 332.9 765.8 334.2 766.7 335.5 767.6 336.8 768.4 338.1 768.8 339.4 768.9 340.7 769.0 342.0 769.2 343.3 769.6 344.7 770.3 346.0 771.4 347.3 772.6 348.6 773.9 350.0 775.3 351.3 776.8 352.7 778.3 354.0 779.8 355.3 781.3 356.7 782.9 358.0 784.6 359.4 786.4 360.7 788.2 362.1 790.0 363.4 791.7 364.8 793.2 366.1 794.6 367.5 795.7 368.8 796.6 370.2 797.4 371.6 798.0 372.9 798.6 374.3 799.1 375.6 799.6 377.0 800.1 378.4 800.8 379.7 801.5 381.1 802.2 382.5 803.0 383.9 803.9 385.3 804.7 386.6 805.6 388.0 806.5 389.4 807.4 390.8 808.4 M238.1 721.5 239.3 721.4 240.4 721.0 241.5 720.5 242.6 719.8 243.7 719.0 244.8 718.2 245.9 717.2 247.0 715.8 248.1 714.2 249.2 712.9 250.3 711.7 251.4 710.9 252.6 710.8 253.8 710.9 254.9 711.2 256.1 711.5 257.3 711.9 258.5 712.6 259.7 713.7 260.9 715.3 262.1 717.3 263.4 719.4 264.6 721.5 265.9 723.4 267.1 724.9 268.3 725.9 269.5 726.6 270.7 727.2 271.9 727.8 273.1 728.2 274.3 728.4 275.5 728.0 276.7 727.4 277.9 726.9 279.0 726.3 280.2 725.5 281.4 724.9 282.6 724.7 283.8 725.1 285.1 725.6 286.3 726.1 287.5 726.7 288.7 727.4 290.0 728.2 291.2 729.0 292.5 729.8 293.7 730.8 295.0 731.8 296.2 732.8 297.5 733.8 298.7 734.8 300.0 735.8 301.2 736.9 302.5 737.9 303.8 739.0 305.0 739.9 306.3 740.8 307.6 741.7 308.8 742.5 310.1 743.3 311.4 744.1 312.6 744.8 313.9 745.5 315.2 746.3 316.5 747.0 317.7 747.8 319.0 748.6 320.3 749.4 321.6 750.2 322.9 751.0 324.1 751.8 325.4 752.6 326.7 753.4 328.0 754.4 329.3 755.3 330.6 756.3 331.9 757.4 333.2 758.4 334.5 759.5 335.8 760.6 337.1 761.7 338.4 762.8 339.8 763.8 341.1 764.7 342.4 765.5 343.7 765.9 345.0 766.2 346.3 766.3 347.6 766.5 349.0 766.9 350.3 767.6 351.6 768.7 352.9 769.9 354.3 771.2 355.6 772.6 356.9 774.0 358.3 775.5 359.6 777.0 361.0 778.5 362.3 780.0 363.7 781.7 365.0 783.4 366.4 785.2 367.7 787.0 369.1 788.7 370.4 790.3 371.8 791.6 373.1 792.7 374.5 793.7 375.8 794.5 377.2 795.1 378.6 795.7 379.9 796.2 381.3 796.7 382.7 797.2 384.0 797.9 385.4 798.6 386.8 799.3 388.2 800.1 389.5 800.9 390.9 801.8 392.3 802.7 393.7 803.6 395.1 804.5 396.5 805.5 M243.4 716.4 244.5 716.3 245.7 716.0 246.8 715.6 247.9 715.1 249.0 714.5 250.1 713.8 251.3 713.0 252.4 711.7 253.5 710.2 254.6 709.0 255.7 707.8 256.8 706.9 258.0 706.8 259.1 706.9 260.3 707.1 261.5 707.4 262.7 707.7 263.9 708.3 265.1 709.4 266.3 710.9 267.5 712.8 268.8 715.0 270.0 717.1 271.3 719.1 272.5 720.6 273.7 721.7 274.9 722.5 276.1 723.3 277.3 724.0 278.5 724.6 279.7 724.8 280.9 724.5 282.1 724.0 283.3 723.5 284.5 723.0 285.7 722.3 286.9 721.7 288.1 721.6 289.3 721.9 290.5 722.4 291.8 723.0 293.0 723.6 294.2 724.3 295.5 725.0 296.7 725.8 298.0 726.7 299.2 727.6 300.5 728.6 301.7 729.6 303.0 730.5 304.2 731.5 305.5 732.5 306.8 733.5 308.0 734.6 309.3 735.6 310.5 736.5 311.8 737.4 313.1 738.2 314.3 739.1 315.6 739.9 316.9 740.6 318.2 741.4 319.4 742.1 320.7 742.8 322.0 743.6 323.3 744.4 324.5 745.2 325.8 746.0 327.1 746.8 328.4 747.6 329.7 748.4 331.0 749.2 332.3 750.1 333.6 751.0 334.9 752.0 336.2 753.1 337.5 754.1 338.8 755.2 340.1 756.4 341.4 757.5 342.7 758.7 344.0 759.8 345.3 760.8 346.7 761.8 348.0 762.6 349.3 763.1 350.6 763.4 351.9 763.6 353.2 763.8 354.6 764.3 355.9 765.0 357.2 766.1 358.5 767.3 359.9 768.5 361.2 769.9 362.6 771.3 363.9 772.7 365.2 774.2 366.6 775.6 367.9 777.1 369.3 778.8 370.6 780.5 372.0 782.3 373.3 784.1 374.7 785.8 376.0 787.3 377.4 788.7 378.8 789.8 380.1 790.8 381.5 791.6 382.8 792.2 384.2 792.8 385.6 793.3 386.9 793.8 388.3 794.3 389.7 795.0 391.1 795.7 392.4 796.4 393.8 797.2 395.2 798.0 396.6 798.9 398.0 799.7 399.4 800.6 400.8 801.6 402.2 802.5 M248.7 711.2 249.8 711.2 250.9 711.1 252.1 710.8 253.2 710.4 254.3 710.0 255.4 709.5 256.6 708.8 257.7 707.7 258.8 706.2 259.9 705.0 261.0 703.8 262.2 703.0 263.3 702.8 264.5 702.8 265.7 703.0 266.8 703.2 268.0 703.5 269.2 704.0 270.4 705.0 271.7 706.5 272.9 708.4 274.1 710.6 275.4 712.8 276.6 714.8 277.9 716.4 279.1 717.6 280.3 718.5 281.5 719.4 282.7 720.2 283.9 720.9 285.2 721.3 286.4 721.0 287.5 720.6 288.7 720.2 289.9 719.7 291.1 719.0 292.3 718.5 293.5 718.4 294.8 718.8 296.0 719.2 297.2 719.8 298.5 720.4 299.7 721.1 300.9 721.9 302.2 722.7 303.4 723.6 304.7 724.5 305.9 725.5 307.2 726.4 308.5 727.3 309.7 728.3 311.0 729.2 312.2 730.2 313.5 731.2 314.8 732.2 316.0 733.1 317.3 733.9 318.6 734.8 319.8 735.6 321.1 736.4 322.4 737.2 323.7 737.9 324.9 738.7 326.2 739.4 327.5 740.2 328.8 740.9 330.1 741.8 331.4 742.6 332.6 743.4 333.9 744.2 335.2 745.0 336.5 745.8 337.8 746.7 339.1 747.7 340.4 748.7 341.7 749.8 343.0 750.9 344.3 752.0 345.6 753.2 347.0 754.4 348.3 755.6 349.6 756.8 350.9 757.8 352.2 758.8 353.5 759.7 354.9 760.3 356.2 760.6 357.5 760.9 358.8 761.2 360.1 761.6 361.5 762.4 362.8 763.5 364.1 764.6 365.5 765.9 366.8 767.2 368.2 768.5 369.5 769.9 370.8 771.3 372.2 772.8 373.5 774.2 374.9 775.9 376.2 777.6 377.6 779.4 378.9 781.1 380.3 782.8 381.7 784.4 383.0 785.8 384.4 786.9 385.7 787.9 387.1 788.7 388.5 789.4 389.8 790.0 391.2 790.5 392.6 790.9 393.9 791.5 395.3 792.1 396.7 792.8 398.1 793.5 399.5 794.3 400.9 795.1 402.2 796.0 403.6 796.8 405.0 797.7 406.4 798.7 407.8 799.6 M253.9 706.1 255.0 706.2 256.2 706.1 257.3 706.0 258.5 705.7 259.6 705.5 260.7 705.1 261.9 704.6 263.0 703.7 264.1 702.3 265.2 701.1 266.4 699.9 267.5 699.0 268.7 698.8 269.8 698.8 271.0 698.9 272.2 699.1 273.4 699.3 274.6 699.8 275.8 700.7 277.0 702.2 278.3 704.0 279.5 706.2 280.8 708.4 282.0 710.4 283.2 712.1 284.5 713.4 285.7 714.4 286.9 715.4 288.1 716.4 289.3 717.2 290.6 717.7 291.8 717.6 293.0 717.2 294.2 716.9 295.4 716.5 296.6 715.8 297.8 715.3 299.0 715.2 300.2 715.6 301.4 716.1 302.7 716.7 303.9 717.3 305.2 718.0 306.4 718.8 307.7 719.6 308.9 720.4 310.2 721.4 311.4 722.3 312.7 723.2 313.9 724.1 315.2 725.0 316.5 725.9 317.7 726.9 319.0 727.9 320.3 728.8 321.5 729.7 322.8 730.5 324.1 731.3 325.3 732.1 326.6 733.0 327.9 733.7 329.2 734.5 330.4 735.2 331.7 736.0 333.0 736.7 334.3 737.5 335.6 738.3 336.9 739.2 338.2 740.0 339.5 740.8 340.8 741.6 342.0 742.5 343.3 743.4 344.6 744.4 346.0 745.5 347.3 746.6 348.6 747.7 349.9 748.9 351.2 750.1 352.5 751.4 353.8 752.6 355.1 753.8 356.5 754.9 357.8 755.9 359.1 756.9 360.4 757.5 361.7 757.8 363.1 758.1 364.4 758.5 365.7 759.0 367.0 759.8 368.4 760.8 369.7 762.0 371.1 763.2 372.4 764.5 373.7 765.8 375.1 767.1 376.4 768.5 377.8 769.9 379.1 771.3 380.5 773.0 381.8 774.7 383.2 776.5 384.5 778.2 385.9 779.9 387.2 781.5 388.6 782.8 390.0 784.0 391.3 785.0 392.7 785.8 394.1 786.5 395.4 787.1 396.8 787.6 398.2 788.1 399.6 788.6 400.9 789.2 402.3 789.9 403.7 790.6 405.1 791.4 406.5 792.2 407.9 793.0 409.3 793.9 410.7 794.8 412.1 795.8 413.4 796.7 M259.1 700.9 260.3 701.1 261.4 701.2 262.6 701.2 263.7 701.1 264.9 700.9 266.0 700.8 267.2 700.5 268.3 699.6 269.4 698.3 270.6 697.2 271.7 696.0 272.9 695.1 274.0 694.8 275.2 694.7 276.4 694.8 277.6 695.0 278.7 695.1 279.9 695.5 281.1 696.4 282.4 697.8 283.6 699.6 284.9 701.8 286.1 704.0 287.4 706.1 288.6 707.9 289.8 709.3 291.1 710.4 292.3 711.5 293.5 712.6 294.7 713.5 296.0 714.1 297.2 714.1 298.4 713.8 299.6 713.5 300.8 713.2 302.0 712.6 303.2 712.1 304.4 712.1 305.6 712.5 306.9 713.0 308.1 713.5 309.4 714.2 310.6 714.9 311.9 715.6 313.1 716.4 314.4 717.3 315.6 718.3 316.9 719.2 318.1 720.1 319.4 720.9 320.7 721.8 321.9 722.7 323.2 723.6 324.5 724.5 325.7 725.4 327.0 726.3 328.3 727.1 329.5 727.9 330.8 728.7 332.1 729.5 333.4 730.3 334.7 731.1 335.9 731.8 337.2 732.6 338.5 733.3 339.8 734.1 341.1 735.0 342.4 735.8 343.7 736.6 345.0 737.4 346.3 738.3 347.6 739.1 348.9 740.1 350.2 741.1 351.5 742.2 352.8 743.3 354.1 744.5 355.4 745.7 356.7 747.0 358.0 748.3 359.4 749.6 360.7 750.8 362.0 751.9 363.3 753.0 364.6 754.0 366.0 754.7 367.3 755.1 368.6 755.4 369.9 755.8 371.3 756.4 372.6 757.2 373.9 758.2 375.3 759.4 376.6 760.5 378.0 761.8 379.3 763.1 380.7 764.4 382.0 765.7 383.4 767.1 384.7 768.5 386.1 770.1 387.4 771.8 388.8 773.5 390.1 775.3 391.5 777.0 392.8 778.5 394.2 779.9 395.6 781.1 396.9 782.1 398.3 782.9 399.7 783.6 401.0 784.2 402.4 784.8 403.8 785.2 405.2 785.7 406.5 786.3 407.9 787.0 409.3 787.7 410.7 788.5 412.1 789.3 413.5 790.2 414.9 791.0 416.3 791.9 417.7 792.9 419.1 793.8 M264.4 695.8 265.5 696.1 266.7 696.3 267.8 696.4 269.0 696.4 270.2 696.4 271.3 696.4 272.5 696.3 273.6 695.6 274.8 694.4 275.9 693.3 277.0 692.1 278.2 691.2 279.3 690.8 280.5 690.7 281.7 690.8 282.9 690.8 284.1 690.9 285.3 691.3 286.5 692.1 287.7 693.4 289.0 695.2 290.2 697.4 291.5 699.7 292.7 701.8 293.9 703.7 295.2 705.1 296.4 706.3 297.6 707.6 298.9 708.8 300.1 709.9 301.3 710.6 302.5 710.6 303.8 710.4 305.0 710.2 306.2 710.0 307.4 709.4 308.6 709.0 309.8 708.9 311.1 709.3 312.3 709.8 313.5 710.4 314.8 711.0 316.0 711.8 317.3 712.5 318.5 713.3 319.8 714.2 321.1 715.2 322.3 716.1 323.6 716.9 324.8 717.8 326.1 718.6 327.4 719.4 328.6 720.3 329.9 721.2 331.2 722.1 332.5 722.9 333.7 723.7 335.0 724.4 336.3 725.3 337.6 726.1 338.8 726.9 340.1 727.6 341.4 728.4 342.7 729.2 344.0 729.9 345.3 730.7 346.6 731.6 347.9 732.4 349.2 733.2 350.5 734.1 351.8 734.9 353.1 735.8 354.4 736.7 355.7 737.8 357.0 738.9 358.3 740.1 359.6 741.3 360.9 742.5 362.2 743.9 363.6 745.2 364.9 746.5 366.2 747.8 367.5 749.0 368.8 750.2 370.2 751.2 371.5 751.9 372.8 752.3 374.2 752.8 375.5 753.2 376.8 753.8 378.2 754.6 379.5 755.6 380.8 756.7 382.2 757.9 383.5 759.1 384.9 760.3 386.2 761.6 387.6 762.9 388.9 764.2 390.3 765.6 391.6 767.2 393.0 768.9 394.3 770.6 395.7 772.4 397.0 774.1 398.4 775.6 399.8 777.0 401.1 778.2 402.5 779.2 403.9 780.1 405.2 780.8 406.6 781.4 408.0 781.9 409.4 782.4 410.8 782.9 412.1 783.5 413.5 784.1 414.9 784.8 416.3 785.6 417.7 786.4 419.1 787.3 420.5 788.1 421.9 789.0 423.3 790.0 424.7 790.9 M269.6 690.6 270.8 691.1 271.9 691.4 273.1 691.6 274.3 691.7 275.4 691.9 276.6 692.1 277.8 692.2 278.9 691.6 280.1 690.5 281.2 689.4 282.3 688.2 283.5 687.2 284.7 686.8 285.9 686.7 287.0 686.7 288.2 686.7 289.4 686.8 290.6 687.0 291.8 687.8 293.0 689.1 294.3 690.8 295.5 693.0 296.8 695.3 298.0 697.5 299.3 699.4 300.5 701.0 301.8 702.3 303.0 703.7 304.2 705.0 305.5 706.2 306.7 707.0 307.9 707.2 309.1 707.1 310.4 706.9 311.6 706.7 312.8 706.2 314.0 705.8 315.2 705.8 316.5 706.2 317.7 706.7 319.0 707.3 320.2 707.9 321.5 708.6 322.7 709.4 324.0 710.2 325.2 711.1 326.5 712.1 327.8 713.0 329.0 713.8 330.3 714.6 331.5 715.3 332.8 716.1 334.1 717.0 335.4 717.9 336.6 718.7 337.9 719.5 339.2 720.2 340.5 721.0 341.7 721.8 343.0 722.6 344.3 723.4 345.6 724.2 346.9 725.0 348.2 725.8 349.5 726.5 350.8 727.4 352.0 728.2 353.3 729.0 354.6 729.9 355.9 730.7 357.2 731.6 358.6 732.4 359.9 733.4 361.2 734.5 362.5 735.6 363.8 736.9 365.1 738.1 366.4 739.4 367.7 740.7 369.1 742.1 370.4 743.5 371.7 744.8 373.0 746.1 374.4 747.3 375.7 748.3 377.0 749.1 378.3 749.6 379.7 750.1 381.0 750.6 382.3 751.2 383.7 752.0 385.0 753.0 386.4 754.1 387.7 755.2 389.1 756.4 390.4 757.6 391.8 758.8 393.1 760.1 394.5 761.4 395.8 762.8 397.2 764.3 398.5 766.0 399.9 767.7 401.2 769.5 402.6 771.1 403.9 772.7 405.3 774.1 406.7 775.3 408.0 776.3 409.4 777.2 410.8 777.9 412.2 778.6 413.6 779.1 414.9 779.6 416.3 780.0 417.7 780.6 419.1 781.2 420.5 781.9 421.9 782.7 423.3 783.5 424.7 784.4 426.1 785.3 427.5 786.2 428.9 787.1 430.3 788.0 M274.8 685.5 276.0 686.0 277.2 686.4 278.3 686.8 279.5 687.0 280.7 687.4 281.9 687.8 283.0 688.0 284.2 687.6 285.4 686.5 286.5 685.5 287.7 684.3 288.8 683.3 290.0 682.9 291.2 682.7 292.4 682.6 293.5 682.6 294.7 682.6 295.9 682.8 297.2 683.5 298.4 684.7 299.6 686.5 300.9 688.6 302.1 691.0 303.4 693.2 304.6 695.2 305.9 696.9 307.1 698.3 308.4 699.8 309.6 701.3 310.8 702.6 312.1 703.5 313.3 703.7 314.5 703.7 315.7 703.6 317.0 703.5 318.2 703.0 319.4 702.7 320.6 702.7 321.9 703.1 323.1 703.6 324.4 704.1 325.6 704.8 326.9 705.5 328.1 706.3 329.4 707.1 330.6 708.0 331.9 709.0 333.2 709.9 334.4 710.7 335.7 711.4 337.0 712.1 338.2 712.9 339.5 713.7 340.8 714.6 342.1 715.3 343.3 716.1 344.6 716.8 345.9 717.6 347.2 718.4 348.5 719.2 349.8 720.0 351.0 720.8 352.3 721.6 353.6 722.4 354.9 723.2 356.2 724.0 357.5 724.8 358.8 725.7 360.1 726.5 361.4 727.3 362.7 728.2 364.0 729.1 365.3 730.1 366.6 731.2 368.0 732.4 369.3 733.6 370.6 734.9 371.9 736.2 373.2 737.6 374.6 739.1 375.9 740.5 377.2 741.9 378.5 743.2 379.9 744.4 381.2 745.5 382.5 746.3 383.8 746.9 385.2 747.4 386.5 747.9 387.9 748.6 389.2 749.4 390.5 750.4 391.9 751.5 393.2 752.6 394.6 753.7 395.9 754.9 397.3 756.1 398.6 757.3 400.0 758.6 401.3 759.9 402.7 761.5 404.0 763.1 405.4 764.8 406.8 766.6 408.1 768.2 409.5 769.8 410.8 771.2 412.2 772.4 413.6 773.5 415.0 774.4 416.3 775.1 417.7 775.7 419.1 776.3 420.5 776.7 421.9 777.2 423.3 777.8 424.7 778.4 426.1 779.1 427.5 779.8 428.9 780.7 430.3 781.5 431.7 782.4 433.1 783.3 434.5 784.2 435.9 785.2 M280.0 680.4 281.2 681.0 282.4 681.5 283.6 682.0 284.8 682.4 285.9 682.9 287.1 683.5 288.3 683.9 289.5 683.6 290.6 682.6 291.8 681.6 293.0 680.4 294.1 679.4 295.3 678.9 296.5 678.7 297.7 678.6 298.9 678.5 300.1 678.4 301.3 678.5 302.5 679.2 303.7 680.4 304.9 682.1 306.2 684.2 307.4 686.6 308.7 688.9 310.0 691.0 311.2 692.8 312.4 694.3 313.7 695.9 314.9 697.5 316.2 699.0 317.4 700.0 318.6 700.3 319.9 700.3 321.1 700.3 322.3 700.2 323.5 699.9 324.8 699.5 326.0 699.5 327.3 700.0 328.5 700.4 329.8 701.0 331.0 701.7 332.3 702.4 333.5 703.2 334.8 704.0 336.0 704.9 337.3 705.9 338.6 706.8 339.8 707.5 341.1 708.2 342.4 708.9 343.7 709.6 344.9 710.4 346.2 711.2 347.5 712.0 348.8 712.7 350.0 713.4 351.3 714.2 352.6 715.0 353.9 715.8 355.2 716.6 356.5 717.4 357.8 718.2 359.1 719.0 360.4 719.8 361.7 720.6 363.0 721.5 364.3 722.3 365.6 723.1 366.9 724.0 368.2 724.9 369.5 725.8 370.8 726.8 372.1 727.9 373.4 729.1 374.7 730.4 376.1 731.7 377.4 733.1 378.7 734.5 380.0 736.0 381.4 737.5 382.7 738.9 384.0 740.2 385.3 741.5 386.7 742.7 388.0 743.5 389.3 744.2 390.7 744.7 392.0 745.3 393.4 746.0 394.7 746.8 396.0 747.9 397.4 748.9 398.7 750.0 400.1 751.1 401.4 752.2 402.8 753.4 404.1 754.5 405.5 755.8 406.9 757.1 408.2 758.6 409.6 760.3 410.9 762.0 412.3 763.7 413.6 765.3 415.0 766.9 416.4 768.3 417.7 769.5 419.1 770.6 420.5 771.5 421.9 772.3 423.3 772.9 424.6 773.4 426.0 773.9 427.4 774.4 428.8 774.9 430.2 775.5 431.6 776.2 433.0 777.0 434.4 777.8 435.8 778.6 437.2 779.5 438.6 780.4 440.0 781.3 441.4 782.3 M285.3 675.3 286.4 676.0 287.6 676.6 288.8 677.2 290.0 677.7 291.2 678.4 292.4 679.2 293.6 679.7 294.8 679.6 295.9 678.7 297.1 677.7 298.2 676.5 299.4 675.5 300.6 675.0 301.8 674.7 303.0 674.6 304.2 674.4 305.4 674.3 306.6 674.3 307.8 674.9 309.0 676.0 310.3 677.7 311.5 679.9 312.8 682.3 314.0 684.7 315.3 686.8 316.5 688.6 317.8 690.2 319.0 692.0 320.3 693.8 321.5 695.3 322.8 696.4 324.0 696.8 325.2 697.0 326.5 697.1 327.7 697.0 328.9 696.7 330.1 696.4 331.4 696.4 332.6 696.8 333.9 697.3 335.1 697.9 336.4 698.6 337.7 699.4 338.9 700.1 340.2 701.0 341.4 701.8 342.7 702.8 344.0 703.7 345.2 704.4 346.5 705.1 347.8 705.7 349.1 706.4 350.3 707.2 351.6 707.9 352.9 708.7 354.2 709.4 355.5 710.0 356.7 710.8 358.0 711.6 359.3 712.4 360.6 713.2 361.9 714.0 363.2 714.8 364.5 715.6 365.8 716.4 367.1 717.3 368.4 718.1 369.7 718.9 371.0 719.8 372.3 720.7 373.6 721.5 374.9 722.4 376.3 723.5 377.6 724.6 378.9 725.9 380.2 727.2 381.5 728.5 382.9 730.0 384.2 731.5 385.5 733.0 386.8 734.5 388.2 736.0 389.5 737.3 390.8 738.7 392.1 739.9 393.5 740.8 394.8 741.4 396.2 742.0 397.5 742.7 398.8 743.4 400.2 744.3 401.5 745.3 402.9 746.3 404.2 747.4 405.6 748.4 406.9 749.5 408.3 750.6 409.6 751.8 411.0 753.0 412.4 754.3 413.7 755.8 415.1 757.4 416.4 759.1 417.8 760.8 419.2 762.5 420.5 764.0 421.9 765.4 423.3 766.7 424.6 767.8 426.0 768.7 427.4 769.5 428.8 770.1 430.2 770.6 431.6 771.1 433.0 771.6 434.4 772.1 435.8 772.7 437.2 773.4 438.6 774.1 440.0 774.9 441.4 775.8 442.8 776.7 444.2 777.6 445.6 778.5 447.0 779.4 M290.5 670.2 291.7 671.0 292.8 671.7 294.0 672.4 295.2 673.1 296.4 674.0 297.6 674.9 298.8 675.6 300.0 675.6 301.2 674.8 302.4 673.8 303.5 672.7 304.7 671.6 305.9 671.0 307.1 670.7 308.3 670.5 309.5 670.3 310.7 670.1 311.9 670.1 313.1 670.6 314.3 671.7 315.6 673.3 316.8 675.5 318.1 678.0 319.3 680.4 320.6 682.6 321.8 684.5 323.1 686.2 324.3 688.1 325.6 690.0 326.8 691.7 328.1 692.9 329.3 693.4 330.6 693.6 331.8 693.8 333.0 693.8 334.3 693.5 335.5 693.3 336.7 693.3 338.0 693.7 339.2 694.2 340.5 694.8 341.8 695.5 343.0 696.3 344.3 697.1 345.6 697.9 346.8 698.8 348.1 699.7 349.4 700.6 350.6 701.3 351.9 701.9 353.2 702.5 354.5 703.2 355.7 703.9 357.0 704.6 358.3 705.3 359.6 706.0 360.9 706.7 362.2 707.4 363.4 708.2 364.7 709.0 366.0 709.8 367.3 710.6 368.6 711.4 369.9 712.2 371.2 713.1 372.5 713.9 373.8 714.7 375.1 715.6 376.4 716.5 377.8 717.3 379.1 718.2 380.4 719.1 381.7 720.2 383.0 721.4 384.3 722.7 385.7 724.0 387.0 725.4 388.3 726.8 389.6 728.4 391.0 730.0 392.3 731.5 393.6 733.0 394.9 734.4 396.3 735.8 397.6 737.1 398.9 738.0 400.3 738.7 401.6 739.4 403.0 740.1 404.3 740.8 405.7 741.7 407.0 742.7 408.4 743.7 409.7 744.7 411.1 745.8 412.4 746.8 413.8 747.9 415.1 749.0 416.5 750.2 417.8 751.5 419.2 752.9 420.6 754.5 421.9 756.2 423.3 757.9 424.6 759.6 426.0 761.2 427.4 762.6 428.8 763.8 430.1 764.9 431.5 765.9 432.9 766.6 434.3 767.3 435.7 767.8 437.1 768.3 438.5 768.7 439.9 769.3 441.3 769.9 442.7 770.5 444.1 771.3 445.5 772.1 446.9 772.9 448.3 773.8 449.7 774.7 451.1 775.6 452.5 776.6 M295.7 665.0 296.9 666.0 298.1 666.8 299.3 667.6 300.5 668.4 301.7 669.5 302.9 670.6 304.1 671.5 305.3 671.6 306.4 670.9 307.6 669.9 308.8 668.8 310.0 667.7 311.2 667.1 312.3 666.7 313.5 666.5 314.7 666.2 316.0 666.0 317.2 665.9 318.4 666.3 319.6 667.4 320.9 669.0 322.1 671.2 323.4 673.6 324.6 676.1 325.9 678.4 327.1 680.4 328.4 682.2 329.6 684.3 330.9 686.3 332.2 688.1 333.4 689.4 334.6 690.0 335.9 690.3 337.1 690.5 338.4 690.6 339.6 690.4 340.8 690.1 342.1 690.2 343.3 690.6 344.6 691.1 345.9 691.7 347.1 692.5 348.4 693.2 349.7 694.0 350.9 694.8 352.2 695.7 353.5 696.6 354.7 697.5 356.0 698.2 357.3 698.8 358.6 699.3 359.8 699.9 361.1 700.6 362.4 701.3 363.7 702.0 365.0 702.6 366.3 703.3 367.6 704.0 368.8 704.8 370.1 705.6 371.4 706.4 372.7 707.2 374.0 708.1 375.3 708.9 376.6 709.7 377.9 710.5 379.3 711.4 380.6 712.3 381.9 713.1 383.2 714.0 384.5 714.9 385.8 715.8 387.1 716.9 388.5 718.1 389.8 719.4 391.1 720.8 392.4 722.2 393.7 723.7 395.1 725.3 396.4 726.9 397.7 728.5 399.0 730.1 400.4 731.6 401.7 733.0 403.0 734.3 404.4 735.3 405.7 736.0 407.1 736.7 408.4 737.5 409.8 738.2 411.1 739.1 412.5 740.2 413.8 741.1 415.2 742.1 416.5 743.1 417.9 744.1 419.2 745.2 420.6 746.3 422.0 747.4 423.3 748.6 424.7 750.1 426.0 751.7 427.4 753.4 428.8 755.0 430.1 756.7 431.5 758.3 432.9 759.7 434.2 761.0 435.6 762.1 437.0 763.0 438.4 763.8 439.8 764.5 441.2 765.0 442.6 765.5 444.0 765.9 445.4 766.4 446.8 767.0 448.2 767.7 449.6 768.4 451.0 769.3 452.4 770.1 453.8 771.0 455.2 771.9 456.6 772.8 458.0 773.7 M300.9 659.9 302.1 660.9 303.3 661.9 304.5 662.8 305.7 663.8 306.9 665.0 308.1 666.3 309.3 667.4 310.5 667.6 311.7 667.0 312.9 666.1 314.0 664.9 315.2 663.9 316.4 663.2 317.6 662.7 318.8 662.5 320.0 662.1 321.2 661.8 322.4 661.7 323.7 662.1 324.9 663.0 326.1 664.6 327.4 666.8 328.7 669.3 329.9 671.9 331.2 674.3 332.4 676.4 333.7 678.3 334.9 680.4 336.2 682.6 337.5 684.5 338.7 685.9 340.0 686.5 341.2 687.0 342.4 687.3 343.7 687.4 344.9 687.2 346.2 687.0 347.4 687.1 348.7 687.6 349.9 688.0 351.2 688.7 352.5 689.4 353.7 690.1 355.0 690.9 356.3 691.8 357.5 692.6 358.8 693.6 360.1 694.4 361.4 695.1 362.6 695.6 363.9 696.2 365.2 696.7 366.5 697.4 367.8 698.1 369.1 698.7 370.4 699.3 371.6 699.9 372.9 700.6 374.2 701.4 375.5 702.2 376.8 703.1 378.1 703.9 379.4 704.7 380.7 705.5 382.0 706.4 383.3 707.2 384.7 708.1 386.0 708.9 387.3 709.8 388.6 710.7 389.9 711.6 391.2 712.5 392.5 713.6 393.9 714.9 395.2 716.2 396.5 717.6 397.8 719.1 399.2 720.6 400.5 722.2 401.8 723.9 403.1 725.6 404.5 727.2 405.8 728.7 407.1 730.1 408.5 731.5 409.8 732.5 411.2 733.3 412.5 734.1 413.9 734.9 415.2 735.7 416.6 736.6 417.9 737.6 419.3 738.6 420.6 739.5 422.0 740.5 423.3 741.5 424.7 742.5 426.1 743.5 427.4 744.6 428.8 745.8 430.1 747.3 431.5 748.8 432.9 750.5 434.2 752.2 435.6 753.8 437.0 755.4 438.3 756.9 439.7 758.1 441.1 759.2 442.5 760.2 443.9 761.0 445.2 761.7 446.6 762.2 448.0 762.7 449.5 763.1 450.9 763.6 452.3 764.2 453.7 764.8 455.1 765.6 456.5 766.4 457.9 767.3 459.3 768.1 460.7 769.0 462.1 769.9 463.5 770.9 M306.1 654.8 307.3 655.9 308.5 657.0 309.7 658.1 310.9 659.2 312.1 660.6 313.3 662.0 314.5 663.3 315.7 663.7 316.9 663.1 318.1 662.2 319.3 661.1 320.5 660.0 321.7 659.2 322.9 658.7 324.1 658.4 325.3 658.1 326.5 657.7 327.7 657.5 328.9 657.8 330.2 658.7 331.4 660.3 332.7 662.5 333.9 665.0 335.2 667.6 336.5 670.1 337.7 672.3 339.0 674.3 340.2 676.5 341.5 678.8 342.8 680.9 344.0 682.4 345.3 683.1 346.5 683.6 347.8 684.0 349.0 684.2 350.2 684.1 351.5 683.9 352.8 684.0 354.0 684.5 355.3 685.0 356.5 685.6 357.8 686.3 359.1 687.1 360.3 687.9 361.6 688.7 362.9 689.6 364.2 690.5 365.4 691.4 366.7 692.0 368.0 692.5 369.3 693.0 370.6 693.5 371.9 694.1 373.1 694.8 374.4 695.4 375.7 695.9 377.0 696.5 378.3 697.2 379.6 698.0 380.9 698.8 382.2 699.7 383.5 700.5 384.8 701.3 386.1 702.2 387.4 703.0 388.7 703.9 390.0 704.7 391.4 705.6 392.7 706.5 394.0 707.4 395.3 708.3 396.6 709.2 398.0 710.3 399.3 711.6 400.6 713.0 401.9 714.5 403.3 715.9 404.6 717.5 405.9 719.2 407.2 720.9 408.6 722.6 409.9 724.3 411.2 725.8 412.6 727.3 413.9 728.7 415.2 729.8 416.6 730.6 417.9 731.4 419.3 732.3 420.6 733.1 422.0 734.1 423.3 735.0 424.7 736.0 426.0 736.9 427.4 737.9 428.8 738.8 430.1 739.7 431.5 740.8 432.9 741.8 434.2 743.0 435.6 744.5 437.0 746.0 438.3 747.7 439.7 749.3 441.0 751.0 442.4 752.6 443.8 754.0 445.2 755.3 446.5 756.4 447.9 757.4 449.3 758.2 450.7 758.9 452.1 759.5 453.5 759.9 454.9 760.3 456.3 760.8 457.7 761.4 459.2 762.0 460.6 762.8 462.0 763.6 463.4 764.4 464.8 765.3 466.2 766.2 467.6 767.1 469.0 768.1 M311.3 649.7 312.5 651.0 313.7 652.1 314.9 653.3 316.1 654.5 317.3 656.1 318.5 657.8 319.8 659.2 321.0 659.7 322.2 659.2 323.4 658.4 324.5 657.2 325.7 656.1 326.9 655.3 328.1 654.8 329.3 654.4 330.6 654.0 331.8 653.6 333.0 653.3 334.2 653.6 335.5 654.4 336.7 656.0 338.0 658.1 339.2 660.7 340.5 663.4 341.7 665.9 343.0 668.2 344.3 670.3 345.5 672.7 346.8 675.1 348.0 677.3 349.3 678.9 350.5 679.7 351.8 680.3 353.1 680.8 354.3 681.0 355.6 680.9 356.8 680.8 358.1 681.0 359.3 681.4 360.6 681.9 361.9 682.5 363.1 683.2 364.4 684.0 365.7 684.8 366.9 685.7 368.2 686.5 369.5 687.5 370.8 688.3 372.1 688.9 373.3 689.4 374.6 689.8 375.9 690.3 377.2 690.9 378.5 691.5 379.8 692.1 381.1 692.6 382.4 693.2 383.7 693.8 385.0 694.6 386.3 695.5 387.6 696.3 388.9 697.1 390.2 698.0 391.5 698.8 392.8 699.7 394.1 700.5 395.4 701.4 396.7 702.3 398.1 703.2 399.4 704.1 400.7 705.0 402.0 706.0 403.3 707.1 404.7 708.4 406.0 709.8 407.3 711.3 408.6 712.8 410.0 714.4 411.3 716.1 412.6 717.9 414.0 719.7 415.3 721.3 416.6 722.9 418.0 724.5 419.3 725.9 420.6 727.0 422.0 727.9 423.3 728.8 424.7 729.7 426.0 730.6 427.4 731.5 428.7 732.5 430.1 733.4 431.5 734.3 432.8 735.2 434.2 736.1 435.6 737.0 436.9 738.0 438.3 739.1 439.7 740.2 441.0 741.6 442.4 743.2 443.8 744.8 445.1 746.5 446.5 748.1 447.9 749.7 449.2 751.2 450.6 752.5 452.0 753.6 453.4 754.6 454.8 755.5 456.2 756.1 457.6 756.7 459.0 757.1 460.4 757.6 461.8 758.0 463.2 758.6 464.6 759.2 466.0 760.0 467.4 760.8 468.9 761.6 470.3 762.5 471.7 763.4 473.1 764.3 474.5 765.2 M316.4 644.6 317.6 646.0 318.9 647.3 320.1 648.6 321.3 649.9 322.5 651.6 323.8 653.5 325.0 655.1 326.2 655.7 327.4 655.3 328.6 654.5 329.8 653.4 331.0 652.2 332.2 651.4 333.4 650.8 334.6 650.4 335.8 649.9 337.0 649.4 338.3 649.1 339.5 649.3 340.7 650.1 342.0 651.6 343.2 653.8 344.5 656.4 345.7 659.1 347.0 661.8 348.3 664.1 349.5 666.3 350.8 668.8 352.1 671.4 353.3 673.7 354.6 675.4 355.8 676.3 357.1 677.0 358.3 677.5 359.6 677.8 360.8 677.8 362.1 677.7 363.4 677.9 364.6 678.3 365.9 678.8 367.2 679.5 368.4 680.2 369.7 681.0 371.0 681.8 372.3 682.6 373.5 683.5 374.8 684.4 376.1 685.2 377.4 685.8 378.7 686.3 380.0 686.7 381.2 687.1 382.5 687.7 383.8 688.2 385.1 688.8 386.4 689.3 387.7 689.8 389.0 690.5 390.3 691.2 391.6 692.1 392.9 693.0 394.2 693.8 395.5 694.6 396.9 695.5 398.2 696.3 399.5 697.2 400.8 698.1 402.1 699.0 403.4 699.9 404.8 700.8 406.1 701.7 407.4 702.7 408.7 703.8 410.1 705.2 411.4 706.6 412.7 708.1 414.0 709.7 415.4 711.3 416.7 713.1 418.0 714.9 419.3 716.7 420.7 718.4 422.0 720.1 423.3 721.6 424.7 723.1 426.0 724.3 427.4 725.3 428.7 726.2 430.1 727.1 431.4 728.0 432.8 729.0 434.1 730.0 435.5 730.9 436.9 731.8 438.2 732.6 439.6 733.5 441.0 734.4 442.3 735.3 443.7 736.3 445.1 737.5 446.4 738.8 447.8 740.4 449.2 742.0 450.5 743.6 451.9 745.3 453.3 746.9 454.7 748.3 456.0 749.6 457.4 750.8 458.8 751.8 460.2 752.7 461.6 753.4 463.0 753.9 464.4 754.4 465.8 754.8 467.2 755.2 468.6 755.8 470.1 756.4 471.5 757.1 472.9 758.0 474.3 758.8 475.7 759.7 477.1 760.6 478.6 761.5 480.0 762.4 M321.6 639.6 322.8 641.0 324.0 642.4 325.3 643.8 326.5 645.3 327.7 647.2 329.0 649.2 330.2 651.0 331.4 651.8 332.6 651.5 333.8 650.7 335.0 649.6 336.2 648.4 337.4 647.5 338.6 646.8 339.8 646.4 341.1 645.9 342.3 645.3 343.5 644.9 344.7 645.1 346.0 645.8 347.2 647.3 348.5 649.5 349.7 652.1 351.0 654.9 352.3 657.6 353.5 660.1 354.8 662.4 356.1 665.0 357.3 667.7 358.6 670.2 359.8 672.0 361.1 672.9 362.4 673.7 363.6 674.3 364.9 674.7 366.1 674.7 367.4 674.6 368.7 674.8 369.9 675.3 371.2 675.8 372.5 676.4 373.7 677.1 375.0 677.9 376.3 678.7 377.6 679.6 378.8 680.5 380.1 681.4 381.4 682.2 382.7 682.8 384.0 683.2 385.3 683.5 386.6 683.9 387.9 684.4 389.2 685.0 390.5 685.5 391.8 686.0 393.1 686.5 394.4 687.1 395.7 687.9 397.0 688.7 398.3 689.6 399.6 690.5 400.9 691.3 402.2 692.2 403.5 693.0 404.8 693.9 406.2 694.8 407.5 695.7 408.8 696.6 410.1 697.5 411.4 698.5 412.8 699.4 414.1 700.6 415.4 701.9 416.8 703.4 418.1 705.0 419.4 706.5 420.7 708.2 422.1 710.0 423.4 711.9 424.7 713.8 426.1 715.5 427.4 717.2 428.7 718.8 430.1 720.3 431.4 721.6 432.8 722.6 434.1 723.6 435.5 724.5 436.8 725.5 438.2 726.5 439.5 727.4 440.9 728.3 442.3 729.2 443.6 730.0 445.0 730.8 446.4 731.7 447.7 732.6 449.1 733.6 450.5 734.7 451.8 736.0 453.2 737.5 454.6 739.2 455.9 740.8 457.3 742.4 458.7 744.0 460.1 745.5 461.4 746.8 462.8 748.0 464.2 749.0 465.6 749.9 467.0 750.6 468.4 751.2 469.8 751.6 471.2 752.0 472.7 752.5 474.1 753.0 475.5 753.6 476.9 754.3 478.3 755.2 479.7 756.0 481.2 756.9 482.6 757.7 484.0 758.7 485.4 759.6 M326.8 634.5 328.0 636.0 329.2 637.5 330.5 639.1 331.7 640.7 332.9 642.8 334.1 645.0 335.4 646.9 336.6 647.8 337.8 647.6 339.0 646.9 340.2 645.7 341.4 644.5 342.6 643.6 343.9 642.9 345.1 642.4 346.3 641.8 347.5 641.2 348.7 640.8 350.0 640.8 351.2 641.5 352.5 643.0 353.7 645.2 355.0 647.8 356.3 650.7 357.5 653.5 358.8 656.0 360.0 658.4 361.3 661.2 362.6 664.0 363.8 666.6 365.1 668.5 366.4 669.5 367.6 670.4 368.9 671.1 370.1 671.5 371.4 671.5 372.7 671.6 373.9 671.8 375.2 672.2 376.5 672.7 377.7 673.3 379.0 674.1 380.3 674.9 381.6 675.7 382.9 676.6 384.1 677.4 385.4 678.4 386.7 679.2 388.0 679.7 389.3 680.1 390.6 680.4 391.9 680.7 393.2 681.2 394.5 681.7 395.8 682.2 397.1 682.7 398.4 683.2 399.7 683.8 401.0 684.5 402.3 685.4 403.6 686.3 404.9 687.1 406.2 688.0 407.6 688.8 408.9 689.7 410.2 690.6 411.5 691.5 412.8 692.4 414.2 693.3 415.5 694.2 416.8 695.2 418.1 696.2 419.5 697.3 420.8 698.7 422.1 700.2 423.4 701.8 424.8 703.4 426.1 705.1 427.4 707.0 428.8 708.9 430.1 710.8 431.4 712.7 432.8 714.4 434.1 716.0 435.4 717.6 436.8 718.9 438.1 719.9 439.5 721.0 440.8 722.0 442.2 723.0 443.5 724.0 444.9 724.9 446.3 725.8 447.6 726.6 449.0 727.4 450.4 728.2 451.8 729.0 453.1 729.9 454.5 730.8 455.9 731.9 457.2 733.3 458.6 734.7 460.0 736.3 461.3 738.0 462.7 739.6 464.1 741.2 465.5 742.7 466.8 744.0 468.2 745.2 469.6 746.3 471.0 747.2 472.4 747.9 473.8 748.4 475.2 748.8 476.7 749.3 478.1 749.7 479.5 750.2 480.9 750.8 482.3 751.5 483.8 752.4 485.2 753.2 486.6 754.1 488.0 754.9 489.4 755.9 490.9 756.8 M332.0 629.4 333.2 631.0 334.4 632.7 335.6 634.3 336.9 636.1 338.1 638.3 339.3 640.7 340.6 642.8 341.8 643.9 343.0 643.8 344.2 643.0 345.4 641.9 346.6 640.7 347.9 639.7 349.1 639.0 350.3 638.4 351.5 637.8 352.8 637.1 354.0 636.6 355.2 636.6 356.5 637.3 357.7 638.7 359.0 640.9 360.2 643.6 361.5 646.5 362.8 649.3 364.0 651.9 365.3 654.4 366.6 657.3 367.8 660.3 369.1 663.0 370.3 665.0 371.6 666.2 372.9 667.1 374.1 667.8 375.4 668.3 376.7 668.4 377.9 668.5 379.2 668.7 380.5 669.1 381.7 669.7 383.0 670.3 384.3 671.1 385.6 671.9 386.9 672.7 388.1 673.5 389.4 674.4 390.7 675.3 392.0 676.1 393.3 676.6 394.6 677.0 395.9 677.3 397.2 677.6 398.5 678.0 399.8 678.5 401.1 678.9 402.4 679.4 403.7 679.8 405.0 680.4 406.3 681.2 407.6 682.0 408.9 682.9 410.2 683.8 411.6 684.7 412.9 685.5 414.2 686.4 415.5 687.3 416.8 688.2 418.2 689.1 419.5 690.0 420.8 691.0 422.1 691.9 423.5 692.9 424.8 694.1 426.1 695.5 427.5 697.1 428.8 698.7 430.1 700.3 431.4 702.1 432.8 704.0 434.1 705.9 435.4 707.9 436.8 709.8 438.1 711.5 439.4 713.2 440.8 714.8 442.1 716.2 443.5 717.3 444.8 718.4 446.2 719.4 447.5 720.4 448.9 721.4 450.3 722.4 451.6 723.3 453.0 724.1 454.4 724.8 455.7 725.5 457.1 726.3 458.5 727.1 459.9 728.1 461.2 729.2 462.6 730.5 464.0 731.9 465.4 733.5 466.7 735.2 468.1 736.8 469.5 738.4 470.8 739.9 472.2 741.2 473.6 742.4 475.0 743.5 476.4 744.4 477.8 745.1 479.2 745.7 480.6 746.1 482.1 746.5 483.5 746.9 484.9 747.4 486.3 748.0 487.7 748.8 489.2 749.6 490.6 750.4 492.0 751.3 493.4 752.2 494.9 753.1 496.3 754.0 M337.1 624.3 338.3 626.1 339.6 627.8 340.8 629.6 342.0 631.5 343.3 633.9 344.5 636.5 345.7 638.7 347.0 640.0 348.2 639.9 349.4 639.2 350.6 638.1 351.8 636.9 353.1 635.8 354.3 635.0 355.5 634.5 356.7 633.8 358.0 633.0 359.2 632.4 360.5 632.4 361.7 633.0 363.0 634.4 364.2 636.6 365.5 639.3 366.7 642.2 368.0 645.2 369.3 647.9 370.5 650.5 371.8 653.5 373.1 656.6 374.3 659.5 375.6 661.6 376.8 662.8 378.1 663.8 379.4 664.6 380.6 665.2 381.9 665.3 383.2 665.4 384.5 665.7 385.7 666.1 387.0 666.6 388.3 667.3 389.6 668.0 390.8 668.8 392.1 669.7 393.4 670.5 394.7 671.4 396.0 672.3 397.3 673.1 398.6 673.6 399.9 673.9 401.2 674.1 402.5 674.4 403.8 674.8 405.1 675.3 406.4 675.7 407.7 676.1 409.0 676.5 410.3 677.1 411.6 677.8 412.9 678.7 414.2 679.6 415.6 680.5 416.9 681.3 418.2 682.2 419.5 683.1 420.8 684.0 422.2 684.9 423.5 685.8 424.8 686.8 426.1 687.7 427.5 688.7 428.8 689.7 430.1 690.9 431.5 692.3 432.8 693.9 434.1 695.6 435.5 697.2 436.8 699.0 438.1 701.0 439.4 703.0 440.8 705.0 442.1 706.9 443.4 708.7 444.8 710.4 446.1 712.1 447.5 713.5 448.8 714.6 450.2 715.8 451.5 716.9 452.9 717.9 454.2 718.9 455.6 719.9 457.0 720.7 458.3 721.5 459.7 722.2 461.1 722.9 462.5 723.6 463.9 724.4 465.2 725.3 466.6 726.4 468.0 727.7 469.4 729.2 470.7 730.7 472.1 732.3 473.5 734.0 474.8 735.6 476.2 737.1 477.6 738.4 479.0 739.7 480.4 740.7 481.8 741.6 483.2 742.4 484.6 742.9 486.0 743.4 487.4 743.7 488.9 744.2 490.3 744.7 491.7 745.2 493.1 746.0 494.6 746.8 496.0 747.6 497.4 748.5 498.8 749.4 500.3 750.3 501.7 751.2 M342.3 619.3 343.5 621.1 344.7 623.0 346.0 624.9 347.2 626.9 348.4 629.5 349.7 632.2 350.9 634.7 352.2 636.1 353.4 636.1 354.6 635.4 355.8 634.3 357.0 633.0 358.3 632.0 359.5 631.1 360.7 630.5 362.0 629.7 363.2 628.9 364.4 628.3 365.7 628.2 366.9 628.7 368.2 630.1 369.4 632.3 370.7 635.0 372.0 638.0 373.2 641.1 374.5 643.9 375.8 646.6 377.0 649.7 378.3 652.9 379.5 655.9 380.8 658.1 382.1 659.4 383.3 660.5 384.6 661.4 385.9 662.0 387.1 662.2 388.4 662.4 389.7 662.6 391.0 663.1 392.3 663.6 393.5 664.2 394.8 665.0 396.1 665.8 397.4 666.7 398.7 667.5 400.0 668.4 401.2 669.3 402.5 670.1 403.8 670.5 405.1 670.8 406.4 671.0 407.7 671.2 409.0 671.6 410.4 672.0 411.7 672.4 413.0 672.8 414.3 673.2 415.6 673.7 416.9 674.5 418.2 675.4 419.5 676.3 420.9 677.1 422.2 678.0 423.5 678.9 424.8 679.8 426.2 680.7 427.5 681.6 428.8 682.6 430.1 683.5 431.5 684.4 432.8 685.4 434.1 686.4 435.5 687.7 436.8 689.1 438.1 690.7 439.5 692.4 440.8 694.1 442.1 696.0 443.4 697.9 444.8 700.0 446.1 702.1 447.4 704.0 448.8 705.9 450.1 707.7 451.4 709.3 452.8 710.8 454.1 712.0 455.5 713.2 456.8 714.3 458.2 715.4 459.6 716.5 460.9 717.4 462.3 718.2 463.7 719.0 465.1 719.6 466.4 720.3 467.8 721.0 469.2 721.7 470.6 722.6 472.0 723.7 473.3 724.9 474.7 726.4 476.1 727.9 477.4 729.5 478.8 731.2 480.2 732.8 481.6 734.3 483.0 735.6 484.3 736.9 485.7 738.0 487.1 738.9 488.5 739.6 490.0 740.2 491.4 740.6 492.8 741.0 494.2 741.4 495.7 741.9 497.1 742.5 498.5 743.2 499.9 744.0 501.4 744.8 502.8 745.7 504.2 746.6 505.7 747.5 507.1 748.4 M347.4 614.2 348.7 616.1 349.9 618.1 351.1 620.1 352.4 622.3 353.6 625.1 354.8 628.0 356.1 630.6 357.3 632.1 358.5 632.2 359.8 631.6 361.0 630.5 362.2 629.2 363.4 628.1 364.7 627.2 365.9 626.5 367.2 625.7 368.4 624.8 369.6 624.2 370.9 624.0 372.1 624.4 373.4 625.8 374.7 628.0 375.9 630.8 377.2 633.8 378.4 636.9 379.7 639.8 381.0 642.6 382.2 645.9 383.5 649.3 384.8 652.4 386.0 654.7 387.3 656.1 388.6 657.2 389.8 658.2 391.1 658.9 392.4 659.1 393.6 659.3 394.9 659.6 396.2 660.0 397.5 660.6 398.8 661.2 400.1 662.0 401.3 662.8 402.6 663.7 403.9 664.5 405.2 665.4 406.5 666.3 407.8 667.1 409.1 667.5 410.4 667.7 411.7 667.9 413.0 668.1 414.3 668.4 415.6 668.8 416.9 669.1 418.3 669.5 419.6 669.9 420.9 670.4 422.2 671.2 423.5 672.1 424.8 672.9 426.2 673.8 427.5 674.7 428.8 675.6 430.1 676.5 431.5 677.5 432.8 678.4 434.1 679.3 435.4 680.2 436.8 681.2 438.1 682.2 439.4 683.2 440.8 684.4 442.1 685.9 443.4 687.6 444.8 689.3 446.1 691.0 447.4 692.9 448.8 694.9 450.1 697.0 451.4 699.1 452.7 701.2 454.1 703.0 455.4 704.9 456.7 706.6 458.1 708.1 459.4 709.4 460.8 710.6 462.2 711.8 463.5 712.9 464.9 714.0 466.2 714.9 467.6 715.7 469.0 716.4 470.4 717.1 471.8 717.7 473.1 718.3 474.5 719.1 475.9 719.9 477.3 720.9 478.7 722.2 480.0 723.6 481.4 725.1 482.8 726.7 484.2 728.4 485.5 730.0 486.9 731.5 488.3 732.9 489.7 734.1 491.1 735.2 492.5 736.2 493.9 736.9 495.3 737.5 496.7 737.9 498.2 738.3 499.6 738.7 501.0 739.1 502.5 739.7 503.9 740.4 505.3 741.2 506.7 742.1 508.2 742.9 509.6 743.8 511.0 744.7 512.5 745.7 M352.6 609.1 353.8 611.2 355.0 613.3 356.3 615.4 357.5 617.7 358.8 620.7 360.0 623.8 361.2 626.6 362.5 628.2 363.7 628.4 364.9 627.8 366.2 626.7 367.4 625.4 368.6 624.2 369.9 623.3 371.1 622.6 372.4 621.7 373.6 620.8 374.9 620.0 376.1 619.8 377.4 620.2 378.6 621.5 379.9 623.7 381.1 626.5 382.4 629.6 383.7 632.8 384.9 635.8 386.2 638.7 387.4 642.1 388.7 645.6 390.0 648.8 391.2 651.2 392.5 652.7 393.8 654.0 395.0 655.0 396.3 655.7 397.6 656.0 398.9 656.3 400.1 656.6 401.4 657.0 402.7 657.5 404.0 658.2 405.3 659.0 406.6 659.8 407.9 660.7 409.2 661.5 410.4 662.4 411.7 663.3 413.0 664.1 414.3 664.5 415.6 664.7 416.9 664.8 418.3 664.9 419.6 665.2 420.9 665.6 422.2 665.9 423.5 666.2 424.8 666.6 426.2 667.1 427.5 667.9 428.8 668.7 430.1 669.6 431.4 670.5 432.8 671.4 434.1 672.3 435.4 673.3 436.7 674.2 438.1 675.1 439.4 676.0 440.7 677.0 442.1 678.0 443.4 678.9 444.7 680.0 446.1 681.2 447.4 682.8 448.7 684.4 450.1 686.2 451.4 688.0 452.7 689.9 454.1 691.9 455.4 694.1 456.7 696.2 458.0 698.3 459.4 700.2 460.7 702.1 462.0 703.9 463.4 705.4 464.7 706.7 466.1 708.0 467.5 709.2 468.8 710.4 470.2 711.5 471.5 712.4 472.9 713.2 474.3 713.9 475.7 714.5 477.1 715.1 478.5 715.7 479.8 716.4 481.2 717.2 482.6 718.2 484.0 719.4 485.4 720.8 486.7 722.4 488.1 724.0 489.5 725.6 490.9 727.2 492.2 728.7 493.6 730.1 495.0 731.4 496.4 732.5 497.8 733.4 499.2 734.2 500.7 734.7 502.1 735.2 503.5 735.5 504.9 735.9 506.4 736.4 507.8 736.9 509.2 737.7 510.7 738.5 512.1 739.3 513.5 740.2 515.0 741.1 516.4 742.0 517.8 742.9 M357.7 604.1 359.0 606.2 360.2 608.4 361.4 610.7 362.7 613.2 363.9 616.2 365.1 619.6 366.4 622.5 367.6 624.3 368.9 624.6 370.1 624.0 371.3 622.9 372.6 621.6 373.8 620.4 375.0 619.4 376.3 618.6 377.5 617.7 378.8 616.7 380.0 615.9 381.3 615.6 382.6 615.9 383.8 617.2 385.1 619.4 386.3 622.3 387.6 625.5 388.9 628.7 390.1 631.8 391.4 634.8 392.6 638.3 393.9 642.0 395.2 645.3 396.4 647.8 397.7 649.4 399.0 650.7 400.2 651.8 401.5 652.6 402.8 653.0 404.1 653.2 405.4 653.5 406.6 654.0 407.9 654.5 409.2 655.2 410.5 656.0 411.8 656.8 413.1 657.7 414.4 658.5 415.7 659.4 417.0 660.3 418.3 661.1 419.6 661.4 420.9 661.6 422.2 661.7 423.5 661.8 424.8 662.1 426.1 662.4 427.5 662.7 428.8 662.9 430.1 663.3 431.4 663.8 432.7 664.5 434.1 665.4 435.4 666.3 436.7 667.2 438.0 668.2 439.4 669.1 440.7 670.0 442.0 670.9 443.3 671.9 444.7 672.8 446.0 673.7 447.4 674.7 448.7 675.7 450.0 676.8 451.4 678.0 452.7 679.6 454.0 681.3 455.4 683.1 456.7 684.9 458.0 686.8 459.3 689.0 460.7 691.2 462.0 693.3 463.3 695.5 464.7 697.4 466.0 699.3 467.3 701.2 468.7 702.8 470.0 704.1 471.4 705.4 472.7 706.7 474.1 707.9 475.5 709.0 476.8 709.9 478.2 710.7 479.6 711.4 481.0 711.9 482.4 712.5 483.8 713.1 485.2 713.7 486.5 714.5 487.9 715.4 489.3 716.7 490.7 718.1 492.1 719.6 493.4 721.2 494.8 722.8 496.2 724.4 497.6 725.9 498.9 727.3 500.3 728.6 501.7 729.8 503.1 730.7 504.6 731.5 506.0 732.0 507.4 732.5 508.8 732.8 510.3 733.2 511.7 733.6 513.2 734.2 514.6 734.9 516.0 735.7 517.4 736.6 518.9 737.4 520.3 738.3 521.7 739.2 523.2 740.2 M362.9 599.1 364.1 601.3 365.3 603.6 366.6 606.0 367.8 608.6 369.0 611.9 370.3 615.4 371.5 618.5 372.8 620.4 374.0 620.8 375.2 620.2 376.5 619.1 377.7 617.8 379.0 616.5 380.2 615.4 381.5 614.7 382.7 613.7 384.0 612.6 385.2 611.8 386.5 611.4 387.8 611.7 389.0 612.9 390.3 615.1 391.5 618.0 392.8 621.3 394.1 624.6 395.3 627.8 396.6 630.9 397.8 634.5 399.1 638.3 400.3 641.8 401.6 644.4 402.9 646.0 404.1 647.5 405.4 648.7 406.7 649.5 408.0 649.9 409.3 650.2 410.6 650.5 411.8 651.0 413.1 651.5 414.4 652.2 415.7 653.0 417.0 653.8 418.3 654.7 419.6 655.6 420.9 656.4 422.2 657.4 423.5 658.1 424.8 658.4 426.1 658.6 427.4 658.6 428.7 658.7 430.1 658.9 431.4 659.2 432.7 659.4 434.0 659.7 435.3 660.0 436.7 660.5 438.0 661.2 439.3 662.1 440.6 663.0 442.0 664.0 443.3 664.9 444.6 665.8 445.9 666.7 447.3 667.7 448.6 668.6 449.9 669.5 451.3 670.5 452.6 671.5 454.0 672.5 455.3 673.5 456.6 674.8 458.0 676.4 459.3 678.2 460.6 680.0 462.0 681.8 463.3 683.8 464.6 686.0 465.9 688.2 467.3 690.5 468.6 692.6 469.9 694.6 471.3 696.6 472.6 698.5 473.9 700.1 475.3 701.5 476.6 702.9 478.0 704.2 479.4 705.4 480.7 706.5 482.1 707.5 483.5 708.2 484.9 708.8 486.3 709.4 487.7 709.9 489.0 710.4 490.4 711.0 491.8 711.8 493.2 712.7 494.6 713.9 496.0 715.3 497.4 716.8 498.7 718.4 500.1 720.0 501.5 721.6 502.9 723.1 504.2 724.6 505.6 725.9 507.0 727.0 508.4 728.0 509.9 728.8 511.3 729.3 512.7 729.8 514.2 730.1 515.6 730.5 517.0 730.9 518.5 731.5 519.9 732.2 521.3 733.0 522.8 733.8 524.2 734.7 525.6 735.6 527.1 736.5 528.5 737.4 M368.0 594.0 369.2 596.4 370.5 598.8 371.7 601.3 372.9 604.0 374.2 607.5 375.4 611.2 376.7 614.4 377.9 616.5 379.1 616.9 380.4 616.4 381.6 615.4 382.9 614.0 384.1 612.7 385.4 611.6 386.6 610.7 387.9 609.7 389.2 608.6 390.4 607.6 391.7 607.2 392.9 607.5 394.2 608.7 395.5 610.9 396.7 613.8 398.0 617.1 399.2 620.5 400.5 623.8 401.8 627.0 403.0 630.7 404.3 634.7 405.5 638.2 406.8 641.0 408.1 642.7 409.3 644.2 410.6 645.5 411.9 646.4 413.2 646.8 414.4 647.2 415.7 647.5 417.0 648.0 418.3 648.5 419.6 649.2 420.9 650.0 422.2 650.9 423.5 651.7 424.8 652.6 426.1 653.5 427.4 654.4 428.7 655.1 430.0 655.4 431.3 655.5 432.6 655.5 434.0 655.5 435.3 655.7 436.6 656.0 437.9 656.2 439.2 656.4 440.6 656.7 441.9 657.2 443.2 657.9 444.6 658.8 445.9 659.7 447.2 660.7 448.5 661.6 449.9 662.5 451.2 663.5 452.5 664.4 453.9 665.4 455.2 666.3 456.5 667.3 457.9 668.3 459.2 669.3 460.6 670.3 461.9 671.7 463.2 673.3 464.6 675.0 465.9 676.9 467.2 678.8 468.6 680.8 469.9 683.0 471.2 685.3 472.5 687.6 473.8 689.8 475.2 691.8 476.5 693.8 477.8 695.7 479.2 697.4 480.5 698.9 481.9 700.3 483.3 701.7 484.6 703.0 486.0 704.1 487.4 705.0 488.7 705.7 490.1 706.3 491.5 706.8 492.9 707.3 494.3 707.8 495.7 708.4 497.1 709.1 498.5 710.0 499.9 711.2 501.3 712.6 502.6 714.0 504.0 715.6 505.4 717.2 506.8 718.8 508.2 720.4 509.5 721.8 510.9 723.1 512.3 724.3 513.7 725.3 515.2 726.1 516.6 726.6 518.0 727.1 519.5 727.4 520.9 727.8 522.3 728.2 523.8 728.7 525.2 729.4 526.7 730.2 528.1 731.1 529.5 731.9 531.0 732.8 532.4 733.7 533.8 734.7 M373.1 589.0 374.4 591.4 375.6 594.0 376.8 596.6 378.1 599.5 379.3 603.1 380.5 607.0 381.8 610.4 383.0 612.6 384.3 613.1 385.5 612.7 386.8 611.6 388.0 610.2 389.3 608.8 390.5 607.7 391.8 606.8 393.1 605.7 394.3 604.5 395.6 603.5 396.9 603.0 398.1 603.2 399.4 604.4 400.7 606.6 401.9 609.6 403.2 612.9 404.4 616.4 405.7 619.8 406.9 623.1 408.2 627.0 409.4 631.0 410.7 634.7 411.9 637.6 413.2 639.4 414.5 641.0 415.8 642.3 417.0 643.3 418.3 643.8 419.6 644.1 420.9 644.5 422.2 645.0 423.5 645.5 424.8 646.2 426.1 647.0 427.4 647.9 428.7 648.7 430.0 649.6 431.3 650.5 432.6 651.4 433.9 652.1 435.2 652.4 436.5 652.5 437.8 652.4 439.2 652.4 440.5 652.6 441.8 652.8 443.1 653.0 444.5 653.2 445.8 653.4 447.1 653.9 448.5 654.6 449.8 655.5 451.1 656.5 452.4 657.4 453.8 658.3 455.1 659.3 456.4 660.2 457.8 661.2 459.1 662.1 460.5 663.1 461.8 664.1 463.1 665.1 464.5 666.1 465.8 667.1 467.2 668.5 468.5 670.1 469.8 671.9 471.1 673.8 472.5 675.7 473.8 677.8 475.1 680.0 476.4 682.4 477.8 684.7 479.1 687.0 480.4 689.0 481.8 691.1 483.1 693.0 484.4 694.8 485.8 696.3 487.1 697.8 488.5 699.2 489.9 700.5 491.2 701.6 492.6 702.5 494.0 703.3 495.4 703.8 496.8 704.3 498.2 704.7 499.6 705.2 501.0 705.7 502.4 706.4 503.8 707.3 505.2 708.5 506.5 709.8 507.9 711.3 509.3 712.9 510.7 714.5 512.0 716.1 513.4 717.6 514.8 719.1 516.2 720.4 517.6 721.6 519.0 722.6 520.4 723.4 521.9 723.9 523.3 724.4 524.7 724.7 526.2 725.1 527.6 725.5 529.1 726.0 530.5 726.7 532.0 727.5 533.4 728.3 534.8 729.2 536.3 730.1 537.7 731.0 539.1 731.9 M378.2 583.9 379.5 586.5 380.7 589.2 382.0 591.9 383.2 594.9 384.4 598.7 385.7 602.8 386.9 606.4 388.1 608.8 389.4 609.3 390.6 608.9 391.9 607.8 393.2 606.4 394.4 605.0 395.7 603.8 396.9 602.9 398.2 601.7 399.5 600.5 400.8 599.4 402.0 598.8 403.3 599.0 404.6 600.2 405.8 602.4 407.1 605.3 408.3 608.8 409.6 612.3 410.8 615.8 412.1 619.2 413.4 623.2 414.6 627.4 415.8 631.2 417.1 634.2 418.4 636.1 419.6 637.7 420.9 639.2 422.2 640.2 423.5 640.7 424.8 641.1 426.1 641.5 427.4 642.0 428.7 642.5 430.0 643.2 431.3 644.1 432.6 644.9 433.9 645.8 435.2 646.7 436.5 647.5 437.8 648.5 439.1 649.1 440.4 649.4 441.7 649.4 443.0 649.3 444.4 649.3 445.7 649.4 447.0 649.6 448.3 649.8 449.7 649.9 451.0 650.2 452.4 650.6 453.7 651.4 455.0 652.3 456.3 653.2 457.7 654.1 459.0 655.1 460.3 656.0 461.7 657.0 463.0 657.9 464.3 658.9 465.7 659.9 467.0 660.8 468.4 661.8 469.7 662.9 471.1 664.0 472.4 665.3 473.7 667.0 475.1 668.8 476.4 670.7 477.7 672.7 479.0 674.8 480.4 677.1 481.7 679.5 483.0 681.8 484.3 684.1 485.7 686.3 487.0 688.4 488.3 690.4 489.7 692.1 491.0 693.7 492.4 695.2 493.7 696.7 495.1 698.0 496.5 699.2 497.8 700.1 499.2 700.8 500.6 701.3 502.0 701.7 503.4 702.1 504.8 702.6 506.2 703.1 507.6 703.7 509.0 704.6 510.4 705.7 511.8 707.1 513.2 708.5 514.6 710.1 515.9 711.7 517.3 713.3 518.7 714.9 520.1 716.3 521.5 717.7 522.9 718.9 524.3 719.9 525.7 720.7 527.1 721.3 528.6 721.7 530.0 722.0 531.5 722.4 532.9 722.8 534.4 723.3 535.8 724.0 537.2 724.8 538.7 725.6 540.1 726.5 541.6 727.3 543.0 728.3 544.4 729.2 M383.4 578.9 384.6 581.6 385.8 584.4 387.1 587.2 388.3 590.4 389.5 594.3 390.8 598.6 392.0 602.4 393.3 604.9 394.5 605.5 395.8 605.1 397.0 604.1 398.3 602.6 399.5 601.2 400.8 599.9 402.1 598.9 403.4 597.7 404.6 596.4 405.9 595.3 407.2 594.7 408.5 594.8 409.7 595.9 411.0 598.1 412.3 601.1 413.5 604.6 414.8 608.3 416.0 611.8 417.3 615.3 418.5 619.4 419.7 623.8 421.0 627.7 422.2 630.8 423.5 632.8 424.8 634.5 426.1 636.0 427.3 637.1 428.6 637.7 429.9 638.1 431.2 638.5 432.5 639.0 433.8 639.6 435.1 640.3 436.4 641.1 437.7 642.0 439.0 642.8 440.3 643.7 441.6 644.6 442.9 645.5 444.2 646.2 445.6 646.4 446.9 646.4 448.2 646.3 449.5 646.2 450.9 646.3 452.2 646.5 453.5 646.6 454.9 646.7 456.2 646.9 457.6 647.4 458.9 648.1 460.2 649.0 461.5 649.9 462.9 650.9 464.2 651.8 465.6 652.8 466.9 653.7 468.2 654.7 469.6 655.7 470.9 656.6 472.3 657.6 473.6 658.6 474.9 659.7 476.3 660.8 477.6 662.1 479.0 663.8 480.3 665.7 481.6 667.7 482.9 669.6 484.3 671.8 485.6 674.1 486.9 676.5 488.2 679.0 489.5 681.3 490.9 683.5 492.2 685.6 493.5 687.7 494.9 689.5 496.2 691.1 497.6 692.7 498.9 694.2 500.3 695.6 501.7 696.7 503.0 697.6 504.4 698.3 505.8 698.8 507.2 699.2 508.6 699.6 510.1 700.0 511.5 700.4 512.9 701.1 514.3 701.9 515.7 703.0 517.0 704.3 518.4 705.8 519.8 707.4 521.2 709.0 522.6 710.6 523.9 712.1 525.3 713.6 526.7 715.0 528.1 716.2 529.5 717.2 531.0 718.0 532.4 718.6 533.8 719.0 535.3 719.3 536.7 719.7 538.2 720.0 539.6 720.6 541.1 721.3 542.5 722.1 544.0 722.9 545.4 723.8 546.8 724.6 548.3 725.5 549.7 726.5 M388.5 573.9 389.7 576.7 390.9 579.6 392.2 582.6 393.4 585.8 394.6 590.0 395.9 594.4 397.1 598.4 398.4 601.0 399.6 601.8 400.9 601.4 402.1 600.3 403.4 598.9 404.7 597.4 405.9 596.0 407.2 595.0 408.5 593.8 409.8 592.4 411.1 591.2 412.3 590.5 413.6 590.6 414.9 591.7 416.2 593.9 417.4 596.9 418.7 600.5 419.9 604.2 421.2 607.8 422.4 611.4 423.7 615.7 424.9 620.1 426.1 624.2 427.4 627.4 428.7 629.4 429.9 631.3 431.2 632.9 432.5 634.0 433.8 634.6 435.1 635.1 436.4 635.5 437.7 636.0 439.0 636.6 440.3 637.3 441.6 638.1 442.9 639.0 444.2 639.9 445.5 640.8 446.8 641.6 448.1 642.5 449.4 643.2 450.7 643.4 452.0 643.4 453.4 643.2 454.7 643.1 456.1 643.2 457.4 643.3 458.7 643.4 460.1 643.5 461.4 643.7 462.8 644.1 464.1 644.8 465.4 645.7 466.7 646.7 468.1 647.6 469.4 648.6 470.8 649.5 472.1 650.5 473.4 651.5 474.8 652.5 476.1 653.4 477.5 654.4 478.8 655.5 480.2 656.5 481.5 657.6 482.8 659.0 484.2 660.7 485.5 662.6 486.8 664.6 488.2 666.6 489.5 668.8 490.8 671.2 492.1 673.6 493.4 676.1 494.8 678.5 496.1 680.7 497.4 682.9 498.7 685.0 500.1 686.9 501.4 688.5 502.8 690.1 504.1 691.7 505.5 693.1 506.9 694.3 508.3 695.2 509.6 695.9 511.0 696.3 512.5 696.7 513.9 697.0 515.3 697.4 516.7 697.8 518.1 698.4 519.5 699.2 520.9 700.3 522.3 701.6 523.7 703.1 525.0 704.6 526.4 706.2 527.8 707.8 529.2 709.4 530.6 710.9 532.0 712.3 533.4 713.5 534.8 714.6 536.2 715.4 537.6 715.9 539.1 716.3 540.5 716.7 542.0 717.0 543.4 717.3 544.9 717.8 546.3 718.5 547.8 719.4 549.2 720.2 550.7 721.0 552.1 721.9 553.5 722.8 555.0 723.8 M393.6 568.9 394.8 571.7 396.0 574.8 397.3 577.9 398.5 581.3 399.7 585.6 401.0 590.2 402.2 594.4 403.4 597.2 404.7 598.0 406.0 597.6 407.2 596.6 408.5 595.1 409.8 593.6 411.1 592.2 412.3 591.1 413.6 589.8 414.9 588.4 416.2 587.1 417.5 586.4 418.8 586.4 420.0 587.4 421.3 589.7 422.6 592.7 423.8 596.3 425.1 600.1 426.3 603.8 427.6 607.5 428.8 611.9 430.0 616.5 431.3 620.8 432.5 624.0 433.8 626.1 435.0 628.1 436.3 629.7 437.6 630.9 438.9 631.6 440.2 632.1 441.5 632.6 442.8 633.1 444.1 633.6 445.4 634.3 446.7 635.2 448.0 636.1 449.3 636.9 450.6 637.8 451.9 638.7 453.2 639.6 454.5 640.3 455.9 640.5 457.2 640.4 458.5 640.2 459.9 640.0 461.2 640.0 462.6 640.1 463.9 640.2 465.2 640.2 466.6 640.4 467.9 640.8 469.3 641.5 470.6 642.5 471.9 643.4 473.3 644.4 474.6 645.3 476.0 646.3 477.3 647.3 478.6 648.3 480.0 649.3 481.3 650.2 482.7 651.2 484.0 652.3 485.4 653.3 486.7 654.4 488.1 655.8 489.4 657.6 490.7 659.5 492.0 661.5 493.4 663.6 494.7 665.8 496.0 668.2 497.3 670.8 498.6 673.3 500.0 675.7 501.3 678.0 502.6 680.2 503.9 682.3 505.3 684.2 506.6 685.9 508.0 687.6 509.3 689.2 510.7 690.7 512.1 691.9 513.4 692.8 514.8 693.4 516.2 693.9 517.6 694.2 519.1 694.5 520.5 694.8 521.9 695.2 523.3 695.7 524.7 696.5 526.1 697.6 527.5 698.9 528.9 700.3 530.3 701.9 531.6 703.5 533.0 705.1 534.4 706.7 535.8 708.2 537.2 709.6 538.6 710.8 540.0 711.9 541.4 712.7 542.9 713.3 544.3 713.7 545.8 714.0 547.2 714.3 548.7 714.7 550.1 715.1 551.6 715.8 553.0 716.7 554.5 717.5 555.9 718.3 557.4 719.2 558.8 720.1 560.2 721.0 M398.7 563.9 399.9 566.8 401.1 570.0 402.4 573.2 403.6 576.8 404.8 581.2 406.1 586.0 407.3 590.4 408.5 593.3 409.8 594.2 411.0 593.9 412.3 592.8 413.6 591.4 414.9 589.7 416.2 588.3 417.5 587.2 418.7 585.9 420.0 584.4 421.3 583.0 422.6 582.2 423.9 582.2 425.2 583.2 426.5 585.4 427.7 588.5 429.0 592.2 430.2 596.1 431.4 599.9 432.7 603.7 433.9 608.2 435.1 612.9 436.4 617.3 437.6 620.6 438.9 622.9 440.2 624.9 441.4 626.6 442.7 627.8 444.0 628.6 445.3 629.1 446.6 629.6 447.9 630.1 449.2 630.6 450.5 631.4 451.8 632.2 453.1 633.1 454.4 634.0 455.7 634.9 457.1 635.8 458.4 636.7 459.7 637.3 461.0 637.5 462.3 637.4 463.7 637.1 465.0 636.9 466.4 636.9 467.7 637.0 469.1 637.0 470.4 637.0 471.8 637.2 473.1 637.6 474.4 638.3 475.8 639.2 477.1 640.2 478.5 641.1 479.8 642.1 481.1 643.1 482.5 644.1 483.8 645.1 485.2 646.0 486.5 647.0 487.9 648.0 489.2 649.1 490.6 650.2 491.9 651.3 493.3 652.7 494.6 654.4 495.9 656.4 497.2 658.5 498.6 660.6 499.9 662.8 501.2 665.3 502.5 667.9 503.8 670.4 505.1 672.9 506.5 675.2 507.8 677.5 509.1 679.7 510.5 681.6 511.8 683.4 513.1 685.1 514.5 686.7 515.9 688.2 517.2 689.4 518.6 690.3 520.0 691.0 521.4 691.4 522.8 691.7 524.3 691.9 525.7 692.2 527.1 692.6 528.5 693.1 529.9 693.9 531.3 694.9 532.7 696.2 534.1 697.6 535.5 699.2 536.8 700.7 538.2 702.4 539.6 704.0 541.0 705.5 542.4 706.9 543.8 708.1 545.2 709.2 546.6 710.0 548.1 710.6 549.5 711.0 551.0 711.3 552.4 711.6 553.9 712.0 555.4 712.5 556.8 713.1 558.2 714.0 559.7 714.8 561.1 715.6 562.6 716.5 564.0 717.4 565.5 718.3 M403.8 558.9 405.0 561.9 406.2 565.2 407.5 568.6 408.7 572.2 409.9 576.9 411.1 581.9 412.4 586.4 413.6 589.4 414.9 590.4 416.1 590.2 417.4 589.1 418.7 587.6 420.0 585.9 421.3 584.5 422.6 583.3 423.9 581.9 425.2 580.3 426.5 579.0 427.8 578.1 429.0 578.0 430.3 579.0 431.6 581.2 432.8 584.3 434.1 588.1 435.3 592.0 436.6 595.9 437.8 599.8 439.0 604.5 440.3 609.3 441.5 613.8 442.7 617.3 444.0 619.6 445.3 621.7 446.5 623.5 447.8 624.8 449.1 625.6 450.4 626.1 451.7 626.6 453.0 627.1 454.3 627.7 455.6 628.4 456.9 629.3 458.2 630.2 459.6 631.1 460.9 632.0 462.2 632.8 463.5 633.7 464.8 634.4 466.1 634.5 467.5 634.4 468.8 634.1 470.2 633.8 471.5 633.8 472.9 633.8 474.2 633.8 475.6 633.8 476.9 633.9 478.3 634.3 479.6 635.0 480.9 636.0 482.3 636.9 483.6 637.9 485.0 638.9 486.3 639.9 487.7 640.9 489.0 641.9 490.3 642.9 491.7 643.9 493.0 644.9 494.4 645.9 495.7 647.0 497.1 648.1 498.4 649.6 499.8 651.3 501.1 653.3 502.4 655.4 503.7 657.6 505.1 659.9 506.4 662.4 507.7 665.0 509.0 667.6 510.3 670.1 511.6 672.5 513.0 674.8 514.3 677.0 515.6 679.0 517.0 680.8 518.3 682.6 519.7 684.3 521.0 685.8 522.4 687.0 523.8 687.9 525.2 688.5 526.6 688.9 528.0 689.2 529.4 689.4 530.9 689.6 532.3 689.9 533.7 690.5 535.1 691.2 536.5 692.3 537.9 693.5 539.3 694.9 540.7 696.4 542.0 698.0 543.4 699.6 544.8 701.2 546.2 702.8 547.6 704.2 549.0 705.5 550.4 706.6 551.8 707.4 553.3 708.0 554.7 708.4 556.2 708.7 557.6 708.9 559.1 709.3 560.6 709.8 562.0 710.5 563.5 711.3 564.9 712.1 566.4 712.9 567.8 713.8 569.3 714.7 570.7 715.7 M408.9 553.9 410.1 557.0 411.3 560.4 412.6 563.9 413.8 567.7 415.0 572.5 416.2 577.7 417.4 582.4 418.7 585.6 419.9 586.7 421.2 586.4 422.5 585.4 423.8 583.9 425.1 582.2 426.4 580.6 427.7 579.4 429.0 578.0 430.3 576.3 431.6 574.9 432.9 573.9 434.2 573.8 435.5 574.8 436.7 577.0 438.0 580.2 439.2 583.9 440.4 588.0 441.7 592.0 442.9 596.0 444.1 600.7 445.4 605.7 446.6 610.3 447.8 613.9 449.1 616.3 450.4 618.5 451.6 620.3 452.9 621.7 454.2 622.5 455.5 623.2 456.8 623.7 458.1 624.2 459.4 624.7 460.7 625.5 462.0 626.4 463.4 627.2 464.7 628.1 466.0 629.0 467.3 629.9 468.6 630.8 469.9 631.4 471.3 631.6 472.6 631.4 474.0 631.0 475.3 630.7 476.7 630.7 478.0 630.7 479.4 630.6 480.7 630.6 482.1 630.7 483.4 631.1 484.8 631.8 486.1 632.7 487.4 633.7 488.8 634.7 490.1 635.7 491.5 636.7 492.8 637.7 494.2 638.7 495.5 639.7 496.9 640.7 498.2 641.7 499.6 642.7 500.9 643.8 502.3 645.0 503.6 646.4 504.9 648.2 506.3 650.3 507.6 652.4 508.9 654.6 510.2 656.9 511.5 659.4 512.8 662.1 514.2 664.8 515.5 667.3 516.8 669.7 518.1 672.1 519.4 674.3 520.8 676.4 522.1 678.3 523.5 680.1 524.8 681.8 526.2 683.4 527.5 684.6 528.9 685.5 530.3 686.1 531.7 686.4 533.2 686.7 534.6 686.9 536.0 687.0 537.4 687.3 538.9 687.8 540.3 688.5 541.7 689.6 543.1 690.8 544.5 692.2 545.8 693.7 547.2 695.3 548.6 696.9 550.0 698.5 551.4 700.1 552.8 701.5 554.2 702.8 555.6 703.9 557.0 704.7 558.5 705.3 559.9 705.7 561.4 706.0 562.8 706.3 564.3 706.6 565.8 707.1 567.2 707.8 568.7 708.6 570.1 709.4 571.6 710.3 573.0 711.1 574.5 712.0 575.9 713.0 M201.2 757.8 206.5 752.6 211.8 747.4 217.1 742.2 222.3 737.1 227.6 731.9 232.9 726.7 238.1 721.5 243.4 716.4 248.7 711.2 253.9 706.1 259.1 700.9 264.4 695.8 269.6 690.6 274.8 685.5 280.0 680.4 285.3 675.3 290.5 670.2 295.7 665.0 300.9 659.9 306.1 654.8 311.3 649.7 316.4 644.6 321.6 639.6 326.8 634.5 332.0 629.4 337.1 624.3 342.3 619.3 347.4 614.2 352.6 609.1 357.7 604.1 362.9 599.1 368.0 594.0 373.1 589.0 378.2 583.9 383.4 578.9 388.5 573.9 393.6 568.9 398.7 563.9 403.8 558.9 408.9 553.9 M211.5 740.6 216.9 736.7 222.3 732.7 227.7 728.7 233.1 724.7 238.5 720.8 243.8 716.8 249.2 712.9 254.6 709.0 259.9 705.0 265.2 701.1 270.6 697.2 275.9 693.3 281.2 689.4 286.5 685.5 291.8 681.6 297.1 677.7 302.4 673.8 307.6 669.9 312.9 666.1 318.1 662.2 323.4 658.4 328.6 654.5 333.8 650.7 339.0 646.9 344.2 643.0 349.4 639.2 354.6 635.4 359.8 631.6 364.9 627.8 370.1 624.0 375.2 620.2 380.4 616.4 385.5 612.7 390.6 608.9 395.8 605.1 400.9 601.4 406.0 597.6 411.0 593.9 416.1 590.2 421.2 586.4 M223.0 746.2 228.5 741.8 233.9 737.4 239.3 732.9 244.7 728.5 250.1 724.1 255.5 719.7 260.9 715.3 266.3 710.9 271.7 706.5 277.0 702.2 282.4 697.8 287.7 693.4 293.0 689.1 298.4 684.7 303.7 680.4 309.0 676.0 314.3 671.7 319.6 667.4 324.9 663.0 330.2 658.7 335.5 654.4 340.7 650.1 346.0 645.8 351.2 641.5 356.5 637.3 361.7 633.0 366.9 628.7 372.1 624.4 377.4 620.2 382.6 615.9 387.8 611.7 392.9 607.5 398.1 603.2 403.3 599.0 408.5 594.8 413.6 590.6 418.8 586.4 423.9 582.2 429.0 578.0 434.2 573.8 M234.9 754.2 240.4 750.5 245.9 746.8 251.3 743.0 256.8 739.3 262.3 735.6 267.7 731.9 273.1 728.2 278.5 724.6 283.9 720.9 289.3 717.2 294.7 713.5 300.1 709.9 305.5 706.2 310.8 702.6 316.2 699.0 321.5 695.3 326.8 691.7 332.2 688.1 337.5 684.5 342.8 680.9 348.0 677.3 353.3 673.7 358.6 670.2 363.8 666.6 369.1 663.0 374.3 659.5 379.5 655.9 384.8 652.4 390.0 648.8 395.2 645.3 400.3 641.8 405.5 638.2 410.7 634.7 415.8 631.2 421.0 627.7 426.1 624.2 431.3 620.8 436.4 617.3 441.5 613.8 446.6 610.3 M246.4 747.9 251.9 744.7 257.5 741.5 263.0 738.3 268.6 735.1 274.1 731.9 279.6 728.7 285.1 725.6 290.5 722.4 296.0 719.2 301.4 716.1 306.9 713.0 312.3 709.8 317.7 706.7 323.1 703.6 328.5 700.4 333.9 697.3 339.2 694.2 344.6 691.1 349.9 688.0 355.3 685.0 360.6 681.9 365.9 678.8 371.2 675.8 376.5 672.7 381.7 669.7 387.0 666.6 392.3 663.6 397.5 660.6 402.7 657.5 407.9 654.5 413.1 651.5 418.3 648.5 423.5 645.5 428.7 642.5 433.8 639.6 439.0 636.6 444.1 633.6 449.2 630.6 454.3 627.7 459.4 624.7 M258.6 756.5 264.2 753.2 269.8 749.9 275.4 746.7 280.9 743.4 286.4 740.2 292.0 737.0 297.5 733.8 303.0 730.5 308.5 727.3 313.9 724.1 319.4 720.9 324.8 717.8 330.3 714.6 335.7 711.4 341.1 708.2 346.5 705.1 351.9 701.9 357.3 698.8 362.6 695.6 368.0 692.5 373.3 689.4 378.7 686.3 384.0 683.2 389.3 680.1 394.6 677.0 399.9 673.9 405.1 670.8 410.4 667.7 415.6 664.7 420.9 661.6 426.1 658.6 431.3 655.5 436.5 652.5 441.7 649.4 446.9 646.4 452.0 643.4 457.2 640.4 462.3 637.4 467.5 634.4 472.6 631.4 M271.1 767.8 276.7 764.3 282.3 760.8 287.9 757.3 293.5 753.8 299.0 750.3 304.6 746.8 310.1 743.3 315.6 739.9 321.1 736.4 326.6 733.0 332.1 729.5 337.6 726.1 343.0 722.6 348.5 719.2 353.9 715.8 359.3 712.4 364.7 709.0 370.1 705.6 375.5 702.2 380.9 698.8 386.3 695.5 391.6 692.1 397.0 688.7 402.3 685.4 407.6 682.0 412.9 678.7 418.2 675.4 423.5 672.1 428.8 668.7 434.1 665.4 439.3 662.1 444.6 658.8 449.8 655.5 455.0 652.3 460.2 649.0 465.4 645.7 470.6 642.5 475.8 639.2 480.9 636.0 486.1 632.7 M283.7 774.9 289.3 771.5 294.9 768.1 300.6 764.6 306.1 761.2 311.7 757.8 317.3 754.4 322.9 751.0 328.4 747.6 333.9 744.2 339.5 740.8 345.0 737.4 350.5 734.1 355.9 730.7 361.4 727.3 366.9 724.0 372.3 720.7 377.8 717.3 383.2 714.0 388.6 710.7 394.0 707.4 399.4 704.1 404.8 700.8 410.1 697.5 415.5 694.2 420.8 691.0 426.1 687.7 431.5 684.4 436.8 681.2 442.1 678.0 447.4 674.7 452.6 671.5 457.9 668.3 463.1 665.1 468.4 661.8 473.6 658.6 478.8 655.5 484.0 652.3 489.2 649.1 494.4 645.9 499.6 642.7 M296.4 782.6 302.1 779.4 307.8 776.3 313.4 773.1 319.0 770.0 324.6 766.9 330.2 763.7 335.8 760.6 341.4 757.5 347.0 754.4 352.5 751.4 358.0 748.3 363.6 745.2 369.1 742.1 374.6 739.1 380.0 736.0 385.5 733.0 391.0 730.0 396.4 726.9 401.8 723.9 407.2 720.9 412.6 717.9 418.0 714.9 423.4 711.9 428.8 708.9 434.1 705.9 439.4 703.0 444.8 700.0 450.1 697.0 455.4 694.1 460.7 691.2 465.9 688.2 471.2 685.3 476.4 682.4 481.7 679.5 486.9 676.5 492.1 673.6 497.3 670.8 502.5 667.9 507.7 665.0 512.8 662.1 M309.3 785.6 315.0 782.9 320.7 780.2 326.4 777.6 332.0 774.9 337.7 772.2 343.3 769.6 349.0 766.9 354.6 764.3 360.1 761.6 365.7 759.0 371.3 756.4 376.8 753.8 382.3 751.2 387.9 748.6 393.4 746.0 398.8 743.4 404.3 740.8 409.8 738.2 415.2 735.7 420.6 733.1 426.0 730.6 431.4 728.0 436.8 725.5 442.2 723.0 447.5 720.4 452.9 717.9 458.2 715.4 463.5 712.9 468.8 710.4 474.1 707.9 479.4 705.4 484.6 703.0 489.9 700.5 495.1 698.0 500.3 695.6 505.5 693.1 510.7 690.7 515.9 688.2 521.0 685.8 526.2 683.4 M322.6 800.4 328.3 797.5 334.0 794.5 339.7 791.6 345.4 788.7 351.0 785.8 356.7 782.9 362.3 780.0 367.9 777.1 373.5 774.2 379.1 771.3 384.7 768.5 390.3 765.6 395.8 762.8 401.3 759.9 406.9 757.1 412.4 754.3 417.8 751.5 423.3 748.6 428.8 745.8 434.2 743.0 439.7 740.2 445.1 737.5 450.5 734.7 455.9 731.9 461.2 729.2 466.6 726.4 472.0 723.7 477.3 720.9 482.6 718.2 487.9 715.4 493.2 712.7 498.5 710.0 503.8 707.3 509.0 704.6 514.3 701.9 519.5 699.2 524.7 696.5 529.9 693.9 535.1 691.2 540.3 688.5 M336.0 814.9 341.7 812.0 347.5 809.1 353.2 806.1 358.9 803.2 364.5 800.3 370.2 797.4 375.8 794.5 381.5 791.6 387.1 788.7 392.7 785.8 398.3 782.9 403.9 780.1 409.4 777.2 415.0 774.4 420.5 771.5 426.0 768.7 431.5 765.9 437.0 763.0 442.5 760.2 447.9 757.4 453.4 754.6 458.8 751.8 464.2 749.0 469.6 746.3 475.0 743.5 480.4 740.7 485.7 738.0 491.1 735.2 496.4 732.5 501.7 729.8 507.0 727.0 512.3 724.3 517.6 721.6 522.9 718.9 528.1 716.2 533.4 713.5 538.6 710.8 543.8 708.1 549.0 705.5 554.2 702.8 M349.5 821.6 355.3 818.6 361.0 815.6 366.8 812.7 372.5 809.7 378.2 806.8 383.9 803.9 389.5 800.9 395.2 798.0 400.9 795.1 406.5 792.2 412.1 789.3 417.7 786.4 423.3 783.5 428.9 780.7 434.4 777.8 440.0 774.9 445.5 772.1 451.0 769.3 456.5 766.4 462.0 763.6 467.4 760.8 472.9 758.0 478.3 755.2 483.8 752.4 489.2 749.6 494.6 746.8 499.9 744.0 505.3 741.2 510.7 738.5 516.0 735.7 521.3 733.0 526.7 730.2 532.0 727.5 537.2 724.8 542.5 722.1 547.8 719.4 553.0 716.7 558.2 714.0 563.5 711.3 568.7 708.6 M356.3 826.1 362.1 823.2 367.9 820.2 373.6 817.2 379.4 814.3 385.1 811.3 390.8 808.4 396.5 805.5 402.2 802.5 407.8 799.6 413.4 796.7 419.1 793.8 424.7 790.9 430.3 788.0 435.9 785.2 441.4 782.3 447.0 779.4 452.5 776.6 458.0 773.7 463.5 770.9 469.0 768.1 474.5 765.2 480.0 762.4 485.4 759.6 490.9 756.8 496.3 754.0 501.7 751.2 507.1 748.4 512.5 745.7 517.8 742.9 523.2 740.2 528.5 737.4 533.8 734.7 539.1 731.9 544.4 729.2 549.7 726.5 555.0 723.8 560.2 721.0 565.5 718.3 570.7 715.7 575.9 713.0" fill="none" stroke="#0a3270" stroke-width="1.35" stroke-linejoin="round"/>
<rect x="817.1" y="493.4" width="185.3" height="428.6" fill="none" stroke="#000" stroke-width="3.2"/>
<path d="M817.1 922.0 h11.8 M817.1 905.5 h6.8 M817.1 889.0 h6.8 M817.1 872.5 h6.8 M817.1 856.1 h11.8 M817.1 839.6 h6.8 M817.1 823.1 h6.8 M817.1 806.6 h6.8 M817.1 790.1 h11.8 M817.1 773.6 h6.8 M817.1 757.1 h6.8 M817.1 740.7 h6.8 M817.1 724.2 h11.8 M817.1 707.7 h6.8 M817.1 691.2 h6.8 M817.1 674.7 h6.8 M817.1 658.2 h11.8 M817.1 641.8 h6.8 M817.1 625.3 h6.8 M817.1 608.8 h6.8 M817.1 592.3 h11.8 M817.1 575.8 h6.8 M817.1 559.3 h6.8 M817.1 542.8 h6.8 M817.1 526.4 h11.8 M817.1 509.9 h6.8 M817.1 493.4 h6.8 M825.3 922.0 v-11.8 M844.3 922.0 v-6.8 M863.3 922.0 v-6.8 M882.3 922.0 v-6.8 M901.3 922.0 v-6.8 M920.3 922.0 v-11.8 M939.3 922.0 v-6.8 M958.3 922.0 v-6.8 M977.3 922.0 v-6.8 M996.3 922.0 v-6.8" stroke="#000" stroke-width="2.7" fill="none"/>
<rect x="1040.3" y="493.4" width="185.3" height="428.6" fill="none" stroke="#000" stroke-width="3.2"/>
<path d="M1040.3 922.0 h11.8 M1040.3 905.5 h6.8 M1040.3 889.0 h6.8 M1040.3 872.5 h6.8 M1040.3 856.1 h11.8 M1040.3 839.6 h6.8 M1040.3 823.1 h6.8 M1040.3 806.6 h6.8 M1040.3 790.1 h11.8 M1040.3 773.6 h6.8 M1040.3 757.1 h6.8 M1040.3 740.7 h6.8 M1040.3 724.2 h11.8 M1040.3 707.7 h6.8 M1040.3 691.2 h6.8 M1040.3 674.7 h6.8 M1040.3 658.2 h11.8 M1040.3 641.8 h6.8 M1040.3 625.3 h6.8 M1040.3 608.8 h6.8 M1040.3 592.3 h11.8 M1040.3 575.8 h6.8 M1040.3 559.3 h6.8 M1040.3 542.8 h6.8 M1040.3 526.4 h11.8 M1040.3 509.9 h6.8 M1040.3 493.4 h6.8 M1048.5 922.0 v-11.8 M1067.5 922.0 v-6.8 M1086.5 922.0 v-6.8 M1105.5 922.0 v-6.8 M1124.5 922.0 v-6.8 M1143.5 922.0 v-11.8 M1162.5 922.0 v-6.8 M1181.5 922.0 v-6.8 M1200.5 922.0 v-6.8 M1219.5 922.0 v-6.8" stroke="#000" stroke-width="2.7" fill="none"/>
<rect x="1263.5" y="493.4" width="185.3" height="428.6" fill="none" stroke="#000" stroke-width="3.2"/>
<path d="M1263.5 922.0 h11.8 M1263.5 905.5 h6.8 M1263.5 889.0 h6.8 M1263.5 872.5 h6.8 M1263.5 856.1 h11.8 M1263.5 839.6 h6.8 M1263.5 823.1 h6.8 M1263.5 806.6 h6.8 M1263.5 790.1 h11.8 M1263.5 773.6 h6.8 M1263.5 757.1 h6.8 M1263.5 740.7 h6.8 M1263.5 724.2 h11.8 M1263.5 707.7 h6.8 M1263.5 691.2 h6.8 M1263.5 674.7 h6.8 M1263.5 658.2 h11.8 M1263.5 641.8 h6.8 M1263.5 625.3 h6.8 M1263.5 608.8 h6.8 M1263.5 592.3 h11.8 M1263.5 575.8 h6.8 M1263.5 559.3 h6.8 M1263.5 542.8 h6.8 M1263.5 526.4 h11.8 M1263.5 509.9 h6.8 M1263.5 493.4 h6.8 M1271.7 922.0 v-11.8 M1290.7 922.0 v-6.8 M1309.7 922.0 v-6.8 M1328.7 922.0 v-6.8 M1347.7 922.0 v-6.8 M1366.7 922.0 v-11.8 M1385.7 922.0 v-6.8 M1404.7 922.0 v-6.8 M1423.7 922.0 v-6.8 M1442.7 922.0 v-6.8" stroke="#000" stroke-width="2.7" fill="none"/>
<path d="M825.2 596.0 C825.7 595.4 827.2 595.0 828.4 592.5 C829.6 590.0 831.1 588.9 832.5 581.1 C833.9 573.3 835.3 555.4 836.9 545.6 C838.5 535.8 840.3 523.4 841.9 522.5 C843.5 521.6 845.2 529.8 846.7 540.2 C848.2 550.6 849.6 571.4 851.1 584.7 C852.6 598.1 854.0 612.0 855.6 620.3 C857.2 628.6 859.2 631.3 860.9 634.5 C862.6 637.7 864.1 640.1 865.9 639.5 C867.7 638.9 869.8 635.7 871.6 631.0 C873.4 626.3 875.3 615.5 876.9 611.4 C878.5 607.2 879.9 606.9 881.4 606.1 C882.9 605.4 884.2 608.7 885.8 606.9 C887.4 605.1 889.3 599.2 891.1 595.4 C892.9 591.5 894.7 582.6 896.5 583.8 C898.3 585.0 900.2 592.4 901.8 602.5 C903.4 612.6 904.9 633.7 906.2 644.6 C907.5 655.5 908.6 663.0 909.8 668.0 C911.0 673.0 911.7 674.7 913.3 674.8 C914.9 674.9 917.7 668.6 919.6 668.6 C921.5 668.6 923.3 672.6 924.9 674.8 C926.5 677.0 927.8 684.0 929.4 681.9 C931.0 679.8 933.1 668.5 934.7 662.3 C936.3 656.1 937.8 648.9 939.1 644.6 C940.4 640.3 941.7 637.9 942.7 636.5 C943.8 635.1 945.0 636.5 945.4 636.5" fill="none" stroke="#08306b" stroke-width="3.5" stroke-linecap="square" stroke-linejoin="round"/>
<path d="M825.2 596.0 C825.8 595.4 827.1 594.8 828.6 592.3 C830.1 589.8 831.9 585.6 834.2 581.1 C836.5 576.6 839.8 564.5 842.2 565.1 C844.6 565.7 846.3 577.3 848.5 584.7 C850.7 592.1 853.2 604.9 855.6 609.6 C858.0 614.4 860.3 611.7 862.7 613.2 C865.1 614.7 867.7 620.9 869.8 618.5 C871.9 616.1 873.3 608.1 875.1 598.9 C876.9 589.7 878.6 572.6 880.5 563.4 C882.4 554.2 884.4 545.0 886.2 543.8 C888.0 542.6 889.1 549.4 891.1 556.2 C893.1 563.0 895.9 574.4 898.3 584.7 C900.7 595.0 903.2 610.9 905.3 617.9 C907.4 624.9 908.6 628.9 910.7 626.8 C912.8 624.7 915.7 612.5 917.8 605.4 C919.9 598.3 921.3 588.9 923.1 584.1 C924.9 579.4 926.7 579.6 928.5 576.9 C930.3 574.2 931.7 572.1 933.8 568.0 C935.9 563.9 939.0 553.2 940.9 552.0 C942.8 550.8 943.9 555.0 945.4 560.9 C946.9 566.8 948.5 579.0 949.8 587.6 C951.1 596.2 952.1 606.0 953.4 612.5 C954.7 619.0 956.2 625.6 957.8 626.8 C959.4 628.0 961.6 621.7 963.2 619.6 C964.8 617.5 966.3 615.2 967.6 614.3 C968.9 613.4 970.6 614.0 971.2 614.0" fill="none" stroke="#2171b5" stroke-width="3.5" stroke-linecap="square" stroke-linejoin="round"/>
<path d="M825.2 595.5 C826.1 595.5 827.7 596.8 830.7 595.4 C833.7 594.0 839.6 587.1 843.1 587.4 C846.6 587.7 849.0 595.1 852.0 597.2 C855.0 599.3 857.6 598.8 860.9 599.8 C864.2 600.8 868.6 604.7 871.6 603.4 C874.6 602.1 876.3 597.0 878.7 591.8 C881.1 586.6 883.8 573.5 886.2 572.3 C888.6 571.1 890.9 580.9 892.9 584.7 C894.9 588.6 895.9 592.8 898.3 595.4 C900.7 598.0 904.6 598.6 907.1 600.1 C909.6 601.6 911.2 606.6 913.3 604.5 C915.4 602.4 917.7 592.8 919.6 587.6 C921.5 582.4 923.4 576.2 924.9 573.4 C926.4 570.6 927.2 570.4 928.5 570.7 C929.8 571.0 931.3 572.4 932.9 575.2 C934.5 578.0 936.7 584.9 938.3 587.6 C939.9 590.3 941.1 590.2 942.7 591.2 C944.3 592.2 946.4 592.5 948.0 593.8 C949.6 595.1 951.0 597.6 952.5 599.2 C954.0 600.8 955.3 604.4 956.9 603.6 C958.5 602.9 960.5 598.6 962.3 594.7 C964.1 590.9 966.0 583.6 967.6 580.5 C969.2 577.4 970.6 576.3 972.1 576.0 C973.6 575.7 975.0 577.8 976.5 578.7 C978.0 579.6 979.2 581.4 981.0 581.4 C982.8 581.4 985.4 578.7 987.2 578.7 C989.0 578.7 990.3 579.9 991.6 581.4 C992.9 582.9 994.6 586.6 995.2 587.6" fill="none" stroke="#6baed6" stroke-width="3.5" stroke-linecap="square" stroke-linejoin="round"/>
<path d="M1048.1 592.5 C1049.0 593.4 1052.2 593.3 1053.8 597.8 C1055.4 602.3 1056.6 609.3 1057.8 619.5 C1059.0 629.7 1059.8 645.9 1060.8 659.1 C1061.8 672.3 1062.6 689.1 1063.7 698.6 C1064.8 708.1 1066.0 716.4 1067.3 716.4 C1068.6 716.4 1070.2 706.5 1071.6 698.6 C1073.0 690.7 1074.3 675.8 1075.6 668.9 C1076.8 662.0 1077.9 657.1 1079.1 657.1 C1080.2 657.1 1081.1 661.3 1082.5 668.9 C1083.9 676.5 1085.8 692.6 1087.4 702.5 C1089.1 712.4 1090.8 721.0 1092.4 728.2 C1094.1 735.5 1095.7 741.9 1097.3 746.0 C1098.9 750.1 1100.3 752.6 1102.3 752.9 C1104.3 753.2 1106.7 749.1 1109.2 748.0 C1111.7 746.9 1114.8 748.3 1117.1 746.0 C1119.4 743.7 1121.2 738.5 1123.0 734.2 C1124.8 729.9 1126.4 723.3 1127.9 720.3 C1129.4 717.3 1130.4 715.4 1131.9 716.4 C1133.4 717.4 1135.0 722.9 1136.8 726.2 C1138.6 729.5 1141.0 735.8 1142.8 736.1 C1144.6 736.4 1146.1 729.9 1147.8 728.2 C1149.5 726.6 1151.0 724.6 1152.7 726.2 C1154.4 727.9 1156.1 733.8 1157.7 738.1 C1159.3 742.4 1160.8 748.9 1162.6 751.9 C1164.4 754.9 1167.5 755.2 1168.5 755.9" fill="none" stroke="#08306b" stroke-width="3.5" stroke-linecap="square" stroke-linejoin="round"/>
<path d="M1048.1 592.5 C1049.4 594.0 1053.8 597.5 1055.8 601.7 C1057.8 605.9 1058.5 612.2 1059.8 617.5 C1061.1 622.8 1062.4 629.8 1063.7 633.4 C1065.0 637.0 1066.2 640.3 1067.7 639.3 C1069.2 638.3 1070.7 631.7 1072.6 627.4 C1074.5 623.1 1077.1 613.9 1079.1 613.6 C1081.1 613.3 1082.8 620.9 1084.5 625.5 C1086.2 630.1 1087.6 637.3 1089.4 641.3 C1091.2 645.2 1093.5 646.9 1095.3 649.2 C1097.1 651.5 1098.6 653.1 1100.3 655.1 C1102.0 657.1 1103.5 661.7 1105.2 661.0 C1106.9 660.3 1108.6 655.4 1110.2 651.1 C1111.8 646.8 1113.4 639.4 1115.1 635.3 C1116.8 631.2 1118.6 626.7 1120.6 626.4 C1122.6 626.1 1125.0 631.2 1127.0 633.4 C1129.0 635.5 1130.4 636.3 1132.9 639.3 C1135.4 642.2 1139.4 647.6 1141.9 651.1 C1144.4 654.6 1146.0 658.2 1147.8 660.0 C1149.6 661.8 1150.7 662.3 1152.7 662.0 C1154.7 661.7 1157.3 660.4 1159.6 658.1 C1161.9 655.8 1163.9 651.5 1166.6 648.2 C1169.2 644.9 1173.0 638.8 1175.5 638.3 C1178.0 637.8 1179.4 642.6 1181.4 645.2 C1183.4 647.8 1185.7 652.3 1187.3 654.1 C1188.9 655.9 1190.0 655.8 1191.3 656.1 C1192.5 656.4 1194.2 656.1 1194.8 656.1" fill="none" stroke="#2171b5" stroke-width="3.5" stroke-linecap="square" stroke-linejoin="round"/>
<path d="M1048.1 592.5 C1049.4 593.0 1053.5 594.1 1055.8 595.8 C1058.1 597.5 1059.7 601.1 1061.7 602.7 C1063.7 604.4 1065.7 605.9 1067.7 605.7 C1069.7 605.5 1071.6 602.7 1073.6 601.7 C1075.6 600.7 1077.5 599.5 1079.5 599.8 C1081.5 600.1 1083.5 602.4 1085.5 603.7 C1087.5 605.0 1089.4 606.9 1091.4 607.7 C1093.4 608.5 1095.3 607.9 1097.3 608.7 C1099.3 609.5 1101.5 611.6 1103.2 612.6 C1104.9 613.6 1105.9 615.1 1107.6 614.6 C1109.2 614.1 1111.2 611.9 1113.1 609.6 C1115.0 607.3 1117.0 601.8 1119.0 600.8 C1121.0 599.8 1123.0 602.4 1125.0 603.7 C1127.0 605.0 1128.8 608.4 1130.9 608.7 C1133.1 609.0 1135.6 605.2 1137.9 605.7 C1140.2 606.2 1142.6 609.3 1144.8 611.6 C1147.0 613.9 1149.1 619.8 1151.3 619.5 C1153.5 619.2 1155.5 612.1 1157.7 609.6 C1159.9 607.1 1162.1 605.0 1164.6 604.7 C1167.1 604.4 1169.9 607.7 1172.5 607.7 C1175.1 607.7 1177.9 604.1 1180.4 604.7 C1182.9 605.4 1185.0 609.5 1187.3 611.6 C1189.6 613.7 1191.9 617.7 1194.2 617.5 C1196.5 617.3 1198.6 612.2 1201.1 610.6 C1203.6 609.0 1206.2 608.8 1209.0 607.7 C1211.8 606.6 1216.4 604.7 1217.9 604.1" fill="none" stroke="#6baed6" stroke-width="3.5" stroke-linecap="square" stroke-linejoin="round"/>
<path d="M1271.7 757.0 C1272.3 758.9 1273.8 763.0 1275.1 768.1 C1276.4 773.2 1278.1 786.8 1279.8 787.8 C1281.5 788.8 1283.6 778.3 1285.5 773.8 C1287.4 769.3 1289.2 760.0 1291.1 760.6 C1293.0 761.2 1295.0 771.2 1296.7 777.5 C1298.4 783.8 1300.0 794.0 1301.4 798.2 C1302.8 802.4 1303.6 802.4 1305.2 802.9 C1306.8 803.4 1308.9 801.3 1310.8 801.0 C1312.7 800.7 1314.5 802.1 1316.4 801.0 C1318.3 799.9 1320.1 796.4 1322.0 794.4 C1323.9 792.4 1325.8 790.0 1327.7 789.2 C1329.6 788.4 1331.3 789.5 1333.3 789.7 C1335.3 790.0 1338.0 789.6 1339.9 790.7 C1341.8 791.8 1342.9 793.5 1344.6 796.3 C1346.3 799.1 1348.7 804.7 1350.2 807.5 C1351.7 810.3 1352.4 811.6 1353.8 813.2 C1355.2 814.8 1356.2 817.2 1358.4 816.9 C1360.6 816.6 1363.8 811.3 1366.9 811.3 C1370.0 811.3 1374.2 816.8 1377.2 816.9 C1380.2 817.0 1382.4 813.1 1384.7 812.2 C1387.0 811.3 1390.2 811.4 1391.3 811.3" fill="none" stroke="#08306b" stroke-width="3.5" stroke-linecap="square" stroke-linejoin="round"/>
<path d="M1271.7 757.0 C1272.3 758.2 1273.8 762.2 1275.1 764.4 C1276.4 766.6 1278.1 770.0 1279.8 770.0 C1281.5 770.0 1283.6 766.3 1285.5 764.4 C1287.4 762.5 1289.2 758.2 1291.1 758.8 C1293.0 759.4 1294.5 765.1 1296.7 768.1 C1298.9 771.1 1301.9 775.7 1304.2 776.6 C1306.5 777.5 1308.5 774.7 1310.8 773.8 C1313.1 772.9 1316.1 772.1 1318.3 771.0 C1320.5 769.9 1321.9 768.6 1323.9 767.2 C1325.9 765.8 1328.3 762.4 1330.5 762.5 C1332.7 762.6 1335.0 766.4 1337.0 768.1 C1339.0 769.8 1340.5 771.8 1342.7 772.8 C1344.9 773.8 1347.3 772.8 1350.2 773.8 C1353.1 774.8 1357.2 778.8 1360.3 778.5 C1363.4 778.2 1365.8 773.5 1368.8 771.9 C1371.8 770.3 1375.1 769.4 1378.1 769.1 C1381.1 768.8 1383.9 768.6 1386.6 770.0 C1389.3 771.4 1391.6 775.2 1394.1 777.5 C1396.6 779.8 1398.9 783.2 1401.6 783.5 C1404.2 783.8 1407.3 780.6 1410.0 779.4 C1412.7 778.1 1416.2 776.6 1417.5 776.0" fill="none" stroke="#2171b5" stroke-width="3.5" stroke-linecap="square" stroke-linejoin="round"/>
<path d="M1271.7 757.0 C1273.2 757.9 1277.6 762.2 1280.8 762.5 C1284.0 762.8 1287.3 758.5 1291.1 758.8 C1294.8 759.1 1299.4 763.8 1303.3 764.4 C1307.2 765.0 1311.4 762.8 1314.5 762.5 C1317.6 762.2 1319.3 763.4 1322.0 762.9 C1324.7 762.4 1327.0 759.6 1330.5 759.7 C1334.0 759.8 1339.1 763.1 1342.7 763.5 C1346.3 763.9 1348.8 761.8 1352.1 762.1 C1355.3 762.4 1358.5 765.8 1362.2 765.3 C1365.9 764.8 1370.5 759.1 1374.4 758.8 C1378.3 758.5 1382.2 762.7 1385.6 763.5 C1389.0 764.3 1391.9 763.2 1395.0 763.5 C1398.1 763.8 1401.0 765.9 1404.4 765.3 C1407.9 764.7 1412.0 760.2 1415.7 759.7 C1419.5 759.2 1423.8 762.1 1426.9 762.5 C1430.0 762.9 1431.9 761.9 1434.4 762.1 C1436.9 762.3 1440.7 763.3 1441.9 763.5" fill="none" stroke="#6baed6" stroke-width="3.5" stroke-linecap="square" stroke-linejoin="round"/>
<path d="M1271.7 911.0 C1272.3 909.4 1274.0 904.9 1275.1 901.4 C1276.1 897.9 1277.0 893.9 1278.0 890.1 C1279.0 886.3 1279.9 881.8 1280.8 878.8 C1281.7 875.8 1282.3 873.7 1283.6 872.3 C1284.8 870.9 1286.4 869.6 1288.3 870.4 C1290.2 871.2 1292.8 877.1 1294.8 877.0 C1296.8 876.9 1298.9 872.3 1300.5 869.5 C1302.1 866.7 1303.0 863.1 1304.2 860.1 C1305.5 857.1 1306.0 853.6 1308.0 851.6 C1310.0 849.6 1313.4 848.1 1316.4 847.9 C1319.4 847.7 1322.8 850.4 1325.8 850.3 C1328.8 850.2 1331.4 848.3 1334.2 847.3 C1337.0 846.3 1339.8 845.2 1342.7 844.1 C1345.7 843.0 1349.3 842.3 1351.9 840.4 C1354.5 838.5 1356.1 833.4 1358.4 832.9 C1360.8 832.4 1363.5 835.9 1366.0 837.6 C1368.5 839.3 1370.8 843.1 1373.5 843.2 C1376.2 843.4 1379.2 839.7 1381.9 838.5 C1384.6 837.3 1388.2 836.5 1389.4 836.1" fill="none" stroke="#08306b" stroke-width="3.5" stroke-dasharray="3.4 5.6"/>
<path d="M1271.7 912.0 C1273.2 910.7 1278.0 906.1 1280.8 904.2 C1283.6 902.3 1285.5 900.7 1288.3 900.4 C1291.1 900.1 1294.9 903.2 1297.6 902.3 C1300.2 901.4 1301.8 896.8 1304.2 894.8 C1306.6 892.8 1308.9 890.4 1311.7 890.1 C1314.5 889.8 1318.1 892.0 1321.1 892.9 C1324.1 893.8 1326.5 894.6 1329.5 895.7 C1332.5 896.8 1335.9 899.0 1338.9 899.5 C1341.9 900.0 1344.5 899.5 1347.4 898.5 C1350.4 897.5 1353.7 895.2 1356.6 893.8 C1359.5 892.4 1362.0 890.8 1365.0 890.1 C1368.0 889.4 1371.3 889.4 1374.4 889.5 C1377.5 889.6 1380.7 890.4 1383.8 891.0 C1386.9 891.6 1390.2 893.4 1393.2 892.9 C1396.2 892.4 1398.8 889.3 1401.6 888.2 C1404.4 887.1 1408.6 886.6 1410.0 886.3" fill="none" stroke="#2171b5" stroke-width="3.5" stroke-dasharray="3.4 5.6"/>
<path d="M1271.7 919.0 C1273.2 918.6 1277.7 917.0 1280.8 916.4 C1283.9 915.8 1287.0 915.6 1290.1 915.4 C1293.2 915.2 1296.4 915.9 1299.5 915.4 C1302.6 914.9 1305.8 912.8 1308.9 912.2 C1312.0 911.6 1315.2 911.6 1318.3 911.7 C1321.4 911.8 1324.6 912.1 1327.7 912.6 C1330.8 913.1 1333.9 914.1 1337.0 914.5 C1340.1 914.9 1343.3 915.1 1346.4 914.9 C1349.5 914.7 1352.5 914.0 1355.6 913.5 C1358.7 913.0 1361.9 912.0 1365.0 911.7 C1368.1 911.4 1371.3 911.4 1374.4 911.7 C1377.5 912.0 1380.7 913.0 1383.8 913.5 C1386.9 914.0 1390.1 914.5 1393.2 914.5 C1396.3 914.5 1399.4 913.9 1402.5 913.5 C1405.6 913.1 1408.8 912.4 1411.9 912.2 C1415.0 912.1 1418.2 912.3 1421.3 912.6 C1424.4 912.9 1427.6 913.7 1430.7 914.1 C1433.8 914.5 1438.5 914.8 1440.0 914.9" fill="none" stroke="#6baed6" stroke-width="3.5" stroke-dasharray="3.4 5.6"/>
<path d="M836.8 805.6 H852.2" stroke="#08306b" stroke-width="3.6"/>
<path d="M836.8 845.8 H852.2" stroke="#2171b5" stroke-width="3.6"/>
<path d="M836.8 885.9 H852.2" stroke="#6baed6" stroke-width="3.6"/>
<path d="M1302.2 688.8 H1317.8" stroke="#08306b" stroke-width="3.8"/>
<path d="M1303.8 725 H1317" stroke="#08306b" stroke-width="3.8" stroke-dasharray="3.8 5.8"/>
<text transform="translate(93.86 100.20) scale(1.156 1)" font-family="Liberation Serif" font-size="28.03">1.2</text>
<text transform="translate(96.11 127.80) scale(1.138 1)" font-family="Liberation Serif" font-size="28.03">1.0</text>
<text transform="translate(98.82 155.70) scale(1.123 1)" font-family="Liberation Serif" font-size="28.03">0.8</text>
<text transform="translate(101.03 182.80) scale(1.113 1)" font-family="Liberation Serif" font-size="28.03">0.6</text>
<text transform="translate(102.74 210.00) scale(1.102 1)" font-family="Liberation Serif" font-size="28.03">0.4</text>
<text transform="translate(104.82 235.70) scale(1.122 1)" font-family="Liberation Serif" font-size="28.03">0.2</text>
<text transform="translate(106.42 262.20) scale(1.123 1)" font-family="Liberation Serif" font-size="28.03">0.0</text>
<text transform="translate(137.22 324.40) scale(1.123 1)" font-family="Liberation Serif" font-size="28.03">0.0</text>
<text transform="translate(183.03 366.00) scale(1.117 1)" font-family="Liberation Serif" font-size="28.03">0.4</text>
<text transform="translate(231.41 409.60) scale(1.129 1)" font-family="Liberation Serif" font-size="28.03">0.8</text>
<text transform="translate(282.02 456.10) scale(1.134 1)" font-family="Liberation Serif" font-size="28.03">1.2</text>
<text transform="translate(364.71 464.20) scale(1.129 1)" font-family="Liberation Serif" font-size="28.03">0.0</text>
<text transform="translate(409.10 443.10) scale(1.140 1)" font-family="Liberation Serif" font-size="28.03">0.2</text>
<text transform="translate(452.93 423.30) scale(1.111 1)" font-family="Liberation Serif" font-size="28.03">0.4</text>
<text transform="translate(495.63 403.50) scale(1.113 1)" font-family="Liberation Serif" font-size="28.03">0.6</text>
<text transform="translate(537.02 384.00) scale(1.120 1)" font-family="Liberation Serif" font-size="28.03">0.8</text>
<text transform="translate(577.76 365.10) scale(1.116 1)" font-family="Liberation Serif" font-size="28.03">1.0</text>
<text transform="translate(849.80 104.30) scale(1.140 1)" font-family="Liberation Serif" font-size="28.03">1.2</text>
<text transform="translate(851.51 132.60) scale(1.138 1)" font-family="Liberation Serif" font-size="28.03">1.0</text>
<text transform="translate(854.74 159.60) scale(1.108 1)" font-family="Liberation Serif" font-size="28.03">0.8</text>
<text transform="translate(856.43 187.40) scale(1.116 1)" font-family="Liberation Serif" font-size="28.03">0.6</text>
<text transform="translate(858.64 214.60) scale(1.099 1)" font-family="Liberation Serif" font-size="28.03">0.4</text>
<text transform="translate(860.10 240.70) scale(1.140 1)" font-family="Liberation Serif" font-size="28.03">0.2</text>
<text transform="translate(862.32 266.70) scale(1.120 1)" font-family="Liberation Serif" font-size="28.03">0.0</text>
<text transform="translate(894.80 328.50) scale(1.139 1)" font-family="Liberation Serif" font-size="28.03">0.0</text>
<text transform="translate(943.63 369.80) scale(1.117 1)" font-family="Liberation Serif" font-size="28.03">0.4</text>
<text transform="translate(994.30 412.40) scale(1.139 1)" font-family="Liberation Serif" font-size="28.03">0.8</text>
<text transform="translate(1047.01 456.70) scale(1.179 1)" font-family="Liberation Serif" font-size="28.03">1.2</text>
<text transform="translate(1131.32 464.20) scale(1.120 1)" font-family="Liberation Serif" font-size="28.03">0.0</text>
<text transform="translate(1174.50 442.00) scale(1.140 1)" font-family="Liberation Serif" font-size="28.03">0.2</text>
<text transform="translate(1216.94 421.00) scale(1.099 1)" font-family="Liberation Serif" font-size="28.03">0.4</text>
<text transform="translate(1258.33 400.20) scale(1.113 1)" font-family="Liberation Serif" font-size="28.03">0.6</text>
<text transform="translate(1298.85 380.10) scale(1.093 1)" font-family="Liberation Serif" font-size="28.03">0.8</text>
<text transform="translate(1337.76 360.60) scale(1.116 1)" font-family="Liberation Serif" font-size="28.03">1.0</text>
<text transform="translate(94.52 614.80) scale(1.125 1)" font-family="Liberation Serif" font-size="28.03">0.6</text>
<text transform="translate(96.62 642.60) scale(1.126 1)" font-family="Liberation Serif" font-size="28.03">0.5</text>
<text transform="translate(98.43 669.60) scale(1.114 1)" font-family="Liberation Serif" font-size="28.03">0.4</text>
<text transform="translate(100.50 696.30) scale(1.138 1)" font-family="Liberation Serif" font-size="28.03">0.3</text>
<text transform="translate(102.08 723.00) scale(1.159 1)" font-family="Liberation Serif" font-size="28.03">0.2</text>
<text transform="translate(104.22 749.10) scale(1.124 1)" font-family="Liberation Serif" font-size="28.03">0.1</text>
<text transform="translate(106.42 774.60) scale(1.123 1)" font-family="Liberation Serif" font-size="28.03">0.0</text>
<text transform="translate(137.00 839.50) scale(1.139 1)" font-family="Liberation Serif" font-size="28.03">0.0</text>
<text transform="translate(183.02 881.00) scale(1.120 1)" font-family="Liberation Serif" font-size="28.03">0.4</text>
<text transform="translate(231.52 924.90) scale(1.126 1)" font-family="Liberation Serif" font-size="28.03">0.8</text>
<text transform="translate(281.86 971.00) scale(1.156 1)" font-family="Liberation Serif" font-size="28.03">1.2</text>
<text transform="translate(364.30 979.20) scale(1.142 1)" font-family="Liberation Serif" font-size="28.03">1.0</text>
<text transform="translate(409.09 958.50) scale(1.151 1)" font-family="Liberation Serif" font-size="28.03">0.8</text>
<text transform="translate(452.40 938.70) scale(1.140 1)" font-family="Liberation Serif" font-size="28.03">0.6</text>
<text transform="translate(495.64 918.50) scale(1.099 1)" font-family="Liberation Serif" font-size="28.03">0.4</text>
<text transform="translate(537.00 899.00) scale(1.137 1)" font-family="Liberation Serif" font-size="28.03">0.2</text>
<text transform="translate(577.52 880.10) scale(1.123 1)" font-family="Liberation Serif" font-size="28.03">0.0</text>
<text transform="translate(766.03 932.50) scale(1.117 1)" font-family="Liberation Serif" font-size="28.03">0.0</text>
<text transform="translate(1460.53 932.50) scale(1.117 1)" font-family="Liberation Serif" font-size="28.03">0.0</text>
<text transform="translate(766.01 866.56) scale(1.134 1)" font-family="Liberation Serif" font-size="28.03">0.2</text>
<text transform="translate(1460.51 866.56) scale(1.134 1)" font-family="Liberation Serif" font-size="28.03">0.2</text>
<text transform="translate(766.05 800.62) scale(1.096 1)" font-family="Liberation Serif" font-size="28.03">0.4</text>
<text transform="translate(1460.55 800.62) scale(1.096 1)" font-family="Liberation Serif" font-size="28.03">0.4</text>
<text transform="translate(766.03 734.68) scale(1.110 1)" font-family="Liberation Serif" font-size="28.03">0.6</text>
<text transform="translate(1460.53 734.68) scale(1.110 1)" font-family="Liberation Serif" font-size="28.03">0.6</text>
<text transform="translate(766.03 668.74) scale(1.117 1)" font-family="Liberation Serif" font-size="28.03">0.8</text>
<text transform="translate(1460.53 668.74) scale(1.117 1)" font-family="Liberation Serif" font-size="28.03">0.8</text>
<text transform="translate(765.63 602.80) scale(1.129 1)" font-family="Liberation Serif" font-size="28.03">1.0</text>
<text transform="translate(1458.93 602.80) scale(1.129 1)" font-family="Liberation Serif" font-size="28.03">1.0</text>
<text transform="translate(765.59 536.86) scale(1.147 1)" font-family="Liberation Serif" font-size="28.03">1.2</text>
<text transform="translate(1458.89 536.86) scale(1.147 1)" font-family="Liberation Serif" font-size="28.03">1.2</text>
<text x="818.61" y="955.42" font-family="Liberation Serif" font-size="28.15">0</text>
<text x="913.84" y="955.00" font-family="Liberation Serif" font-size="26.97">1</text>
<text x="1041.81" y="955.42" font-family="Liberation Serif" font-size="28.15">0</text>
<text x="1137.04" y="955.00" font-family="Liberation Serif" font-size="26.97">1</text>
<text x="1265.01" y="955.42" font-family="Liberation Serif" font-size="28.15">0</text>
<text x="1360.24" y="955.00" font-family="Liberation Serif" font-size="26.97">1</text>
<text transform="translate(3.17 165.38) scale(1.090 1)" font-family="Liberation Serif" font-size="32.12" font-style="italic">C</text>
<text transform="translate(26.68 170.20) scale(1.227 1)" font-family="Liberation Serif" font-size="22.30" font-style="italic">k</text>
<text x="42.87" y="165.06" font-family="Liberation Serif" font-size="31.74">(</text>
<text transform="translate(52.45 164.58) scale(1.226 1)" font-family="Liberation Serif" font-size="31.65" font-style="italic">t</text>
<text x="64.78" y="165.06" font-family="Liberation Serif" font-size="31.74">)</text>
<text transform="translate(761.42 171.69) scale(1.214 1)" font-family="Liberation Serif" font-size="31.38" font-style="italic">S</text>
<text transform="translate(779.79 176.80) scale(1.191 1)" font-family="Liberation Serif" font-size="22.59" font-style="italic">k</text>
<text x="796.30" y="171.50" font-family="Liberation Serif" font-size="31.52">(</text>
<text transform="translate(806.18 171.18) scale(1.126 1)" font-family="Liberation Serif" font-size="32.00" font-style="italic">t</text>
<text x="818.22" y="171.50" font-family="Liberation Serif" font-size="31.52">)</text>
<text transform="translate(6.58 680.10) scale(1.199 1)" font-family="Liberation Serif" font-size="30.53" font-style="italic">P</text>
<text transform="translate(25.29 685.50) scale(1.230 1)" font-family="Liberation Serif" font-size="21.87" font-style="italic">k</text>
<text x="41.65" y="680.63" font-family="Liberation Serif" font-size="31.85">(</text>
<text transform="translate(51.39 680.37) scale(1.169 1)" font-family="Liberation Serif" font-size="32.52" font-style="italic">t</text>
<text x="63.56" y="680.63" font-family="Liberation Serif" font-size="31.85">)</text>
<text transform="translate(866.46 537.31) scale(1.051 1)" font-family="Liberation Serif" font-size="38.66" font-style="italic">C</text>
<text transform="translate(893.86 540.17) scale(1.267 1)" font-family="Liberation Serif" font-size="22.77" font-style="italic">π</text>
<text x="913.38" y="536.97" font-family="Liberation Serif" font-size="37.80">(</text>
<text transform="translate(924.74 536.62) scale(1.139 1)" font-family="Liberation Serif" font-size="38.26" font-style="italic">t</text>
<text x="938.81" y="536.97" font-family="Liberation Serif" font-size="37.80">)</text>
<text transform="translate(1093.45 536.62) scale(1.171 1)" font-family="Liberation Serif" font-size="37.62" font-style="italic">S</text>
<text transform="translate(1114.86 540.17) scale(1.267 1)" font-family="Liberation Serif" font-size="22.77" font-style="italic">π</text>
<text x="1134.73" y="536.97" font-family="Liberation Serif" font-size="37.80">(</text>
<text transform="translate(1146.04 536.62) scale(1.139 1)" font-family="Liberation Serif" font-size="38.26" font-style="italic">t</text>
<text x="1159.96" y="536.97" font-family="Liberation Serif" font-size="37.80">)</text>
<text transform="translate(1304.41 536.50) scale(1.180 1)" font-family="Liberation Serif" font-size="36.34" font-style="italic">P</text>
<text x="1326.34" y="540.46" font-family="Liberation Serif" font-size="24.44">0</text>
<text x="1340.94" y="540.27" font-family="Liberation Serif" font-size="29.90">,</text>
<text transform="translate(1350.16 540.46) scale(1.213 1)" font-family="Liberation Serif" font-size="23.62" font-style="italic">π</text>
<text x="1370.32" y="536.92" font-family="Liberation Serif" font-size="37.58">(</text>
<text transform="translate(1381.39 536.51) scale(1.093 1)" font-family="Liberation Serif" font-size="38.78" font-style="italic">t</text>
<text x="1395.44" y="536.92" font-family="Liberation Serif" font-size="37.58">)</text>
<text transform="translate(871.00 814.14) scale(1.117 1)" font-family="Liberation Serif" font-size="22.86" font-style="italic">g</text>
<text transform="translate(884.79 818.41) scale(1.342 1)" font-family="Liberation Serif" font-size="14.07" font-style="italic">q</text>
<text transform="translate(905.41 818.27) scale(1.275 1)" font-family="Liberation Serif" font-size="31.20">=</text>
<text transform="translate(936.50 814.20) scale(1.203 1)" font-family="Liberation Serif" font-size="23.55">2</text>
<rect x="953.3" y="798.50" width="12.6" height="1.5"/>
<text transform="translate(969.15 804.00) scale(1.452 1)" font-family="Liberation Serif" font-size="15.40">2</text>
<text transform="translate(871.00 854.34) scale(1.117 1)" font-family="Liberation Serif" font-size="22.86" font-style="italic">g</text>
<text transform="translate(884.79 858.61) scale(1.342 1)" font-family="Liberation Serif" font-size="14.07" font-style="italic">q</text>
<text transform="translate(905.41 858.47) scale(1.275 1)" font-family="Liberation Serif" font-size="31.20">=</text>
<text transform="translate(936.50 854.40) scale(1.203 1)" font-family="Liberation Serif" font-size="23.55">2</text>
<rect x="953.3" y="838.70" width="12.6" height="1.5"/>
<text transform="translate(969.06 844.05) scale(1.439 1)" font-family="Liberation Serif" font-size="15.17">3</text>
<text transform="translate(871.00 894.44) scale(1.117 1)" font-family="Liberation Serif" font-size="22.86" font-style="italic">g</text>
<text transform="translate(884.79 898.71) scale(1.342 1)" font-family="Liberation Serif" font-size="14.07" font-style="italic">q</text>
<text transform="translate(905.41 898.57) scale(1.275 1)" font-family="Liberation Serif" font-size="31.20">=</text>
<text transform="translate(936.50 894.50) scale(1.203 1)" font-family="Liberation Serif" font-size="23.55">2</text>
<rect x="953.3" y="878.80" width="12.6" height="1.5"/>
<text transform="translate(969.71 884.30) scale(1.248 1)" font-family="Liberation Serif" font-size="15.51">4</text>
<text transform="translate(1336.10 698.00) scale(1.210 1)" font-family="Liberation Serif" font-size="24.75" font-style="italic">k</text>
<text transform="translate(1359.52 700.44) scale(1.455 1)" font-family="Liberation Serif" font-size="27.20">=</text>
<text transform="translate(1336.10 733.70) scale(1.210 1)" font-family="Liberation Serif" font-size="24.75" font-style="italic">k</text>
<text transform="translate(1359.52 736.14) scale(1.455 1)" font-family="Liberation Serif" font-size="27.20">=</text>
<text transform="translate(1389.97 697.75) scale(1.210 1)" font-family="Liberation Serif" font-size="24.89">0</text>
<text transform="translate(1391.35 733.47) scale(1.260 1)" font-family="Liberation Serif" font-size="23.19" font-style="italic">π</text>
<text transform="translate(-0.77 36.29) scale(0.896 1)" font-family="Liberation Sans" font-size="50.96" font-weight="bold">a</text>
<text transform="translate(757.95 43.71) scale(1.045 1)" font-family="Liberation Sans" font-size="49.25" font-weight="bold">b</text>
<text transform="translate(-0.82 556.59) scale(0.983 1)" font-family="Liberation Sans" font-size="51.32" font-weight="bold">c</text>
<text transform="translate(683.36 510.51) scale(1.037 1)" font-family="Liberation Sans" font-size="49.25" font-weight="bold">d</text>
<g transform="translate(179.1 427.0) rotate(40.5)">
<text transform="translate(-32.20 6.89) scale(1.139 1)" font-family="Liberation Serif" font-size="31.30" font-style="italic">t</text>
<path d="M-12.60 -13.40 H-16.10 V13.20 H-12.60" fill="none" stroke="#000" stroke-width="2.0"/>
<text transform="translate(-7.71 -4.80) scale(1.200 1)" font-family="Liberation Serif" font-size="21.74">2</text>
<text transform="translate(6.47 -4.70) scale(1.271 1)" font-family="Liberation Serif" font-size="20.43" font-style="italic">π</text>
<path d="M-8.10 0 H21.60" stroke="#000" stroke-width="1.5"/>
<text transform="translate(-1.97 16.92) scale(1.314 1)" font-family="Liberation Serif" font-size="18.13" font-style="italic">ω</text>
<path d="M26.40 -13.40 H29.60 V13.20 H26.40" fill="none" stroke="#000" stroke-width="2.0"/>
</g>
<g transform="translate(942.0 431.7) rotate(40.5)">
<text transform="translate(-32.20 6.89) scale(1.139 1)" font-family="Liberation Serif" font-size="31.30" font-style="italic">t</text>
<path d="M-12.60 -13.40 H-16.10 V13.20 H-12.60" fill="none" stroke="#000" stroke-width="2.0"/>
<text transform="translate(-7.71 -4.80) scale(1.200 1)" font-family="Liberation Serif" font-size="21.74">2</text>
<text transform="translate(6.47 -4.70) scale(1.271 1)" font-family="Liberation Serif" font-size="20.43" font-style="italic">π</text>
<path d="M-8.10 0 H21.60" stroke="#000" stroke-width="1.5"/>
<text transform="translate(-1.97 16.92) scale(1.314 1)" font-family="Liberation Serif" font-size="18.13" font-style="italic">ω</text>
<path d="M26.40 -13.40 H29.60 V13.20 H26.40" fill="none" stroke="#000" stroke-width="2.0"/>
</g>
<g transform="translate(179.3 942.3) rotate(40.5)">
<text transform="translate(-32.20 6.89) scale(1.139 1)" font-family="Liberation Serif" font-size="31.30" font-style="italic">t</text>
<path d="M-12.60 -13.40 H-16.10 V13.20 H-12.60" fill="none" stroke="#000" stroke-width="2.0"/>
<text transform="translate(-7.71 -4.80) scale(1.200 1)" font-family="Liberation Serif" font-size="21.74">2</text>
<text transform="translate(6.47 -4.70) scale(1.271 1)" font-family="Liberation Serif" font-size="20.43" font-style="italic">π</text>
<path d="M-8.10 0 H21.60" stroke="#000" stroke-width="1.5"/>
<text transform="translate(-1.97 16.92) scale(1.314 1)" font-family="Liberation Serif" font-size="18.13" font-style="italic">ω</text>
<path d="M26.40 -13.40 H29.60 V13.20 H26.40" fill="none" stroke="#000" stroke-width="2.0"/>
</g>
<g transform="translate(529.6 461.0) rotate(-24)">
<text transform="translate(-22.41 8.50) scale(1.023 1)" font-family="Liberation Serif" font-size="29.50" font-style="italic">k</text>
<text transform="translate(-4.20 14.06) scale(0.843 1)" font-family="Liberation Serif" font-size="44.03">/</text>
<text transform="translate(8.65 8.22) scale(1.068 1)" font-family="Liberation Serif" font-size="28.09" font-style="italic">π</text>
</g>
<g transform="translate(1294.5 458.0) rotate(-24)">
<text transform="translate(-22.41 8.50) scale(1.023 1)" font-family="Liberation Serif" font-size="29.50" font-style="italic">k</text>
<text transform="translate(-4.20 14.06) scale(0.843 1)" font-family="Liberation Serif" font-size="44.03">/</text>
<text transform="translate(8.65 8.22) scale(1.068 1)" font-family="Liberation Serif" font-size="28.09" font-style="italic">π</text>
</g>
<g transform="translate(529.6 976.2) rotate(-24)">
<text transform="translate(-22.41 8.50) scale(1.023 1)" font-family="Liberation Serif" font-size="29.50" font-style="italic">k</text>
<text transform="translate(-4.20 14.06) scale(0.843 1)" font-family="Liberation Serif" font-size="44.03">/</text>
<text transform="translate(8.65 8.22) scale(1.068 1)" font-family="Liberation Serif" font-size="28.09" font-style="italic">π</text>
</g>
<g transform="translate(908.4 993.5)">
<text transform="translate(-32.20 6.89) scale(1.139 1)" font-family="Liberation Serif" font-size="31.30" font-style="italic">t</text>
<path d="M-12.60 -13.40 H-16.10 V13.20 H-12.60" fill="none" stroke="#000" stroke-width="2.0"/>
<text transform="translate(-7.71 -4.80) scale(1.200 1)" font-family="Liberation Serif" font-size="21.74">2</text>
<text transform="translate(6.47 -4.70) scale(1.271 1)" font-family="Liberation Serif" font-size="20.43" font-style="italic">π</text>
<path d="M-8.10 0 H21.60" stroke="#000" stroke-width="1.5"/>
<text transform="translate(-1.97 16.92) scale(1.314 1)" font-family="Liberation Serif" font-size="18.13" font-style="italic">ω</text>
<path d="M26.40 -13.40 H29.60 V13.20 H26.40" fill="none" stroke="#000" stroke-width="2.0"/>
</g>
<g transform="translate(1131.5 993.5)">
<text transform="translate(-32.20 6.89) scale(1.139 1)" font-family="Liberation Serif" font-size="31.30" font-style="italic">t</text>
<path d="M-12.60 -13.40 H-16.10 V13.20 H-12.60" fill="none" stroke="#000" stroke-width="2.0"/>
<text transform="translate(-7.71 -4.80) scale(1.200 1)" font-family="Liberation Serif" font-size="21.74">2</text>
<text transform="translate(6.47 -4.70) scale(1.271 1)" font-family="Liberation Serif" font-size="20.43" font-style="italic">π</text>
<path d="M-8.10 0 H21.60" stroke="#000" stroke-width="1.5"/>
<text transform="translate(-1.97 16.92) scale(1.314 1)" font-family="Liberation Serif" font-size="18.13" font-style="italic">ω</text>
<path d="M26.40 -13.40 H29.60 V13.20 H26.40" fill="none" stroke="#000" stroke-width="2.0"/>
</g>
<g transform="translate(1354.8 993.5)">
<text transform="translate(-32.20 6.89) scale(1.139 1)" font-family="Liberation Serif" font-size="31.30" font-style="italic">t</text>
<path d="M-12.60 -13.40 H-16.10 V13.20 H-12.60" fill="none" stroke="#000" stroke-width="2.0"/>
<text transform="translate(-7.71 -4.80) scale(1.200 1)" font-family="Liberation Serif" font-size="21.74">2</text>
<text transform="translate(6.47 -4.70) scale(1.271 1)" font-family="Liberation Serif" font-size="20.43" font-style="italic">π</text>
<path d="M-8.10 0 H21.60" stroke="#000" stroke-width="1.5"/>
<text transform="translate(-1.97 16.92) scale(1.314 1)" font-family="Liberation Serif" font-size="18.13" font-style="italic">ω</text>
<path d="M26.40 -13.40 H29.60 V13.20 H26.40" fill="none" stroke="#000" stroke-width="2.0"/>
</g>
</svg>
</body></html>
